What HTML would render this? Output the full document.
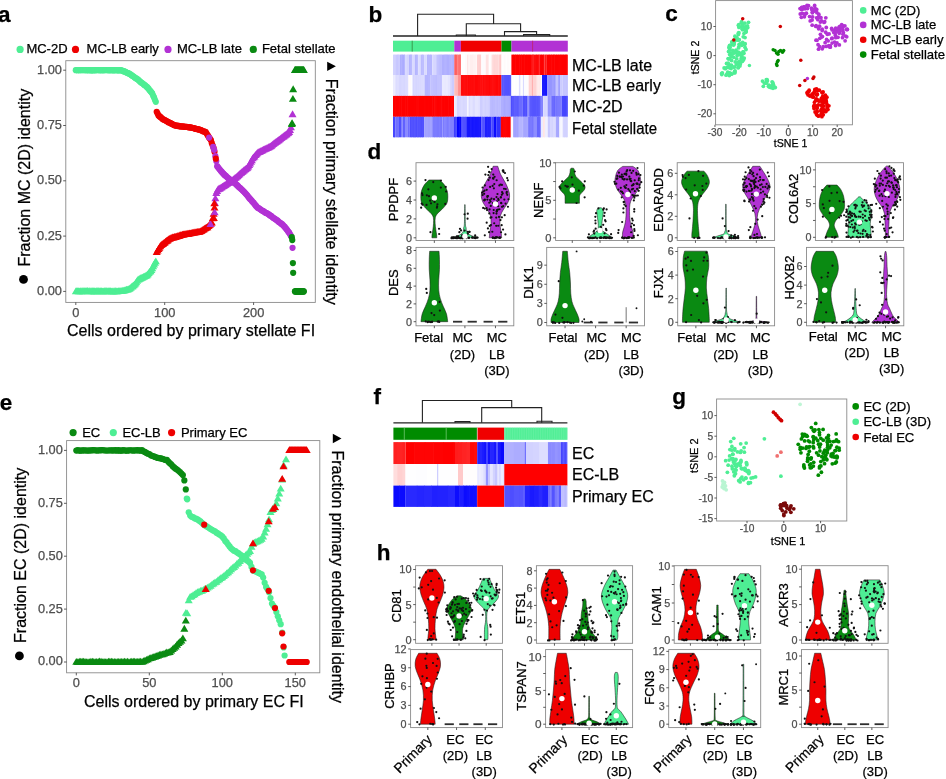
<!DOCTYPE html>
<html><head><meta charset="utf-8"><style>
html,body{margin:0;padding:0;background:#fff;width:946px;height:779px;overflow:hidden}
svg{display:block;will-change:transform}
text{font-family:"Liberation Sans", sans-serif;stroke:currentColor;stroke-width:0.25px;paint-order:stroke}
</style></head><body>
<svg width="946" height="779" viewBox="0 0 946 779">
<rect x="0" y="0" width="946" height="779" fill="#fff"/>
<text x="-2.1" y="21.6" font-size="22.5" text-anchor="start" fill="#000" color="#000" font-weight="bold">a</text>
<text x="368.6" y="21.7" font-size="22.5" text-anchor="start" fill="#000" color="#000" font-weight="bold">b</text>
<text x="665.2" y="20.7" font-size="22.5" text-anchor="start" fill="#000" color="#000" font-weight="bold">c</text>
<text x="367.6" y="158.8" font-size="22.5" text-anchor="start" fill="#000" color="#000" font-weight="bold">d</text>
<text x="-0.3" y="409.6" font-size="22.5" text-anchor="start" fill="#000" color="#000" font-weight="bold">e</text>
<text x="373.6" y="403.6" font-size="22.5" text-anchor="start" fill="#000" color="#000" font-weight="bold">f</text>
<text x="672.2" y="404.2" font-size="22.5" text-anchor="start" fill="#000" color="#000" font-weight="bold">g</text>
<text x="376.8" y="559.6" font-size="22.5" text-anchor="start" fill="#000" color="#000" font-weight="bold">h</text>
<circle cx="20.1" cy="49.4" r="3.6" fill="#4EEE94"/>
<text x="26.4" y="53" font-size="13" text-anchor="start" fill="#000" color="#000">MC-2D</text>
<circle cx="75.5" cy="49.4" r="3.6" fill="#EE0000"/>
<text x="86.6" y="53" font-size="13" text-anchor="start" fill="#000" color="#000">MC-LB early</text>
<circle cx="168" cy="49.4" r="3.6" fill="#B232D4"/>
<text x="176.9" y="53" font-size="13" text-anchor="start" fill="#000" color="#000">MC-LB late</text>
<circle cx="253.3" cy="49.4" r="3.6" fill="#0A8A12"/>
<text x="261.9" y="53" font-size="13" text-anchor="start" fill="#000" color="#000">Fetal stellate</text>
<path d="M75.8 287.48L71.8 294.28L79.8 294.28Z" fill="#4EEE94"/>
<path d="M76.69 287.26L72.69 294.06L80.69 294.06Z" fill="#4EEE94"/>
<path d="M77.58 287.3L73.58 294.1L81.58 294.1Z" fill="#4EEE94"/>
<path d="M78.47 287.35L74.47 294.15L82.47 294.15Z" fill="#4EEE94"/>
<path d="M79.36 287.48L75.36 294.28L83.36 294.28Z" fill="#4EEE94"/>
<path d="M80.25 287.29L76.25 294.09L84.25 294.09Z" fill="#4EEE94"/>
<path d="M81.13 287.49L77.13 294.29L85.13 294.29Z" fill="#4EEE94"/>
<path d="M82.02 287.32L78.02 294.12L86.02 294.12Z" fill="#4EEE94"/>
<path d="M82.91 287.33L78.91 294.13L86.91 294.13Z" fill="#4EEE94"/>
<path d="M83.8 287.33L79.8 294.13L87.8 294.13Z" fill="#4EEE94"/>
<path d="M84.69 287.13L80.69 293.93L88.69 293.93Z" fill="#4EEE94"/>
<path d="M85.58 287.3L81.58 294.1L89.58 294.1Z" fill="#4EEE94"/>
<path d="M86.47 287.19L82.47 293.99L90.47 293.99Z" fill="#4EEE94"/>
<path d="M87.36 287.12L83.36 293.92L91.36 293.92Z" fill="#4EEE94"/>
<path d="M88.25 287.44L84.25 294.24L92.25 294.24Z" fill="#4EEE94"/>
<path d="M89.13 287.19L85.13 293.99L93.13 293.99Z" fill="#4EEE94"/>
<path d="M90.02 287.31L86.02 294.11L94.02 294.11Z" fill="#4EEE94"/>
<path d="M90.91 287.41L86.91 294.21L94.91 294.21Z" fill="#4EEE94"/>
<path d="M91.8 287.34L87.8 294.14L95.8 294.14Z" fill="#4EEE94"/>
<path d="M92.69 287.25L88.69 294.05L96.69 294.05Z" fill="#4EEE94"/>
<path d="M93.58 287.33L89.58 294.13L97.58 294.13Z" fill="#4EEE94"/>
<path d="M94.47 287.34L90.47 294.14L98.47 294.14Z" fill="#4EEE94"/>
<path d="M95.36 287.43L91.36 294.23L99.36 294.23Z" fill="#4EEE94"/>
<path d="M96.25 287.16L92.25 293.96L100.25 293.96Z" fill="#4EEE94"/>
<path d="M97.14 287.34L93.14 294.14L101.14 294.14Z" fill="#4EEE94"/>
<path d="M98.03 287.22L94.03 294.02L102.03 294.02Z" fill="#4EEE94"/>
<path d="M98.91 287.23L94.91 294.03L102.91 294.03Z" fill="#4EEE94"/>
<path d="M99.8 287.43L95.8 294.23L103.8 294.23Z" fill="#4EEE94"/>
<path d="M100.69 287.32L96.69 294.12L104.69 294.12Z" fill="#4EEE94"/>
<path d="M101.58 287.34L97.58 294.14L105.58 294.14Z" fill="#4EEE94"/>
<path d="M102.47 287.42L98.47 294.22L106.47 294.22Z" fill="#4EEE94"/>
<path d="M103.36 287.48L99.36 294.28L107.36 294.28Z" fill="#4EEE94"/>
<path d="M104.25 287.3L100.25 294.1L108.25 294.1Z" fill="#4EEE94"/>
<path d="M105.14 287.37L101.14 294.17L109.14 294.17Z" fill="#4EEE94"/>
<path d="M106.03 287.32L102.03 294.12L110.03 294.12Z" fill="#4EEE94"/>
<path d="M106.91 287.32L102.91 294.12L110.91 294.12Z" fill="#4EEE94"/>
<path d="M107.8 287.4L103.8 294.2L111.8 294.2Z" fill="#4EEE94"/>
<path d="M108.69 287.3L104.69 294.1L112.69 294.1Z" fill="#4EEE94"/>
<path d="M109.58 287.33L105.58 294.13L113.58 294.13Z" fill="#4EEE94"/>
<path d="M110.47 287.31L106.47 294.11L114.47 294.11Z" fill="#4EEE94"/>
<path d="M111.36 287.5L107.36 294.3L115.36 294.3Z" fill="#4EEE94"/>
<path d="M112.25 287.4L108.25 294.2L116.25 294.2Z" fill="#4EEE94"/>
<path d="M113.14 287.47L109.14 294.27L117.14 294.27Z" fill="#4EEE94"/>
<path d="M114.03 287.5L110.03 294.3L118.03 294.3Z" fill="#4EEE94"/>
<path d="M114.92 287.22L110.92 294.02L118.92 294.02Z" fill="#4EEE94"/>
<path d="M115.81 287.34L111.81 294.14L119.81 294.14Z" fill="#4EEE94"/>
<path d="M116.69 287.5L112.69 294.3L120.69 294.3Z" fill="#4EEE94"/>
<path d="M117.58 287.46L113.58 294.26L121.58 294.26Z" fill="#4EEE94"/>
<path d="M118.47 287.17L114.47 293.97L122.47 293.97Z" fill="#4EEE94"/>
<path d="M119.36 287.17L115.36 293.97L123.36 293.97Z" fill="#4EEE94"/>
<path d="M120.25 287.3L116.25 294.1L124.25 294.1Z" fill="#4EEE94"/>
<path d="M121.14 287.15L117.14 293.95L125.14 293.95Z" fill="#4EEE94"/>
<path d="M122.03 286.97L118.03 293.77L126.03 293.77Z" fill="#4EEE94"/>
<path d="M122.92 286.66L118.92 293.46L126.92 293.46Z" fill="#4EEE94"/>
<path d="M123.81 286.65L119.81 293.45L127.81 293.45Z" fill="#4EEE94"/>
<path d="M124.69 286.45L120.69 293.25L128.69 293.25Z" fill="#4EEE94"/>
<path d="M125.58 286.25L121.58 293.05L129.58 293.05Z" fill="#4EEE94"/>
<path d="M126.47 285.71L122.47 292.51L130.47 292.51Z" fill="#4EEE94"/>
<path d="M127.36 285.69L123.36 292.49L131.36 292.49Z" fill="#4EEE94"/>
<path d="M128.25 285.42L124.25 292.22L132.25 292.22Z" fill="#4EEE94"/>
<path d="M129.14 284.97L125.14 291.77L133.14 291.77Z" fill="#4EEE94"/>
<path d="M130.03 284.52L126.03 291.32L134.03 291.32Z" fill="#4EEE94"/>
<path d="M130.92 283.82L126.92 290.62L134.92 290.62Z" fill="#4EEE94"/>
<path d="M131.81 282.78L127.81 289.58L135.81 289.58Z" fill="#4EEE94"/>
<path d="M132.7 282.34L128.7 289.14L136.7 289.14Z" fill="#4EEE94"/>
<path d="M133.59 281.38L129.59 288.18L137.59 288.18Z" fill="#4EEE94"/>
<path d="M134.47 280.68L130.47 287.48L138.47 287.48Z" fill="#4EEE94"/>
<path d="M135.36 279.66L131.36 286.46L139.36 286.46Z" fill="#4EEE94"/>
<path d="M136.25 278.38L132.25 285.18L140.25 285.18Z" fill="#4EEE94"/>
<path d="M137.14 276.9L133.14 283.7L141.14 283.7Z" fill="#4EEE94"/>
<path d="M138.03 275.79L134.03 282.59L142.03 282.59Z" fill="#4EEE94"/>
<path d="M138.92 275.38L134.92 282.18L142.92 282.18Z" fill="#4EEE94"/>
<path d="M139.81 274.87L135.81 281.67L143.81 281.67Z" fill="#4EEE94"/>
<path d="M140.7 274.37L136.7 281.17L144.7 281.17Z" fill="#4EEE94"/>
<path d="M141.59 273.98L137.59 280.78L145.59 280.78Z" fill="#4EEE94"/>
<path d="M142.47 273.69L138.47 280.49L146.47 280.49Z" fill="#4EEE94"/>
<path d="M143.36 272.97L139.36 279.77L147.36 279.77Z" fill="#4EEE94"/>
<path d="M144.25 272.74L140.25 279.54L148.25 279.54Z" fill="#4EEE94"/>
<path d="M145.14 272.25L141.14 279.05L149.14 279.05Z" fill="#4EEE94"/>
<path d="M146.03 271.64L142.03 278.44L150.03 278.44Z" fill="#4EEE94"/>
<path d="M146.92 271.33L142.92 278.13L150.92 278.13Z" fill="#4EEE94"/>
<path d="M147.81 270.38L143.81 277.18L151.81 277.18Z" fill="#4EEE94"/>
<path d="M148.7 269.27L144.7 276.07L152.7 276.07Z" fill="#4EEE94"/>
<path d="M149.59 268.03L145.59 274.83L153.59 274.83Z" fill="#4EEE94"/>
<path d="M150.48 267.34L146.48 274.14L154.48 274.14Z" fill="#4EEE94"/>
<path d="M151.37 266.2L147.37 273L155.37 273Z" fill="#4EEE94"/>
<path d="M152.25 264.53L148.25 271.33L156.25 271.33Z" fill="#4EEE94"/>
<path d="M153.14 262.44L149.14 269.24L157.14 269.24Z" fill="#4EEE94"/>
<path d="M154.03 260.76L150.03 267.56L158.03 267.56Z" fill="#4EEE94"/>
<path d="M154.92 258.92L150.92 265.72L158.92 265.72Z" fill="#4EEE94"/>
<path d="M155.81 257.48L151.81 264.28L159.81 264.28Z" fill="#4EEE94"/>
<path d="M156.7 248.28L152.7 255.08L160.7 255.08Z" fill="#EE0000"/>
<path d="M157.59 246.68L153.59 253.48L161.59 253.48Z" fill="#EE0000"/>
<path d="M158.48 245.26L154.48 252.06L162.48 252.06Z" fill="#EE0000"/>
<path d="M159.37 243.92L155.37 250.72L163.37 250.72Z" fill="#EE0000"/>
<path d="M160.25 242.34L156.25 249.14L164.25 249.14Z" fill="#EE0000"/>
<path d="M161.14 241.18L157.14 247.98L165.14 247.98Z" fill="#EE0000"/>
<path d="M162.03 240.45L158.03 247.25L166.03 247.25Z" fill="#EE0000"/>
<path d="M162.92 240.08L158.92 246.88L166.92 246.88Z" fill="#EE0000"/>
<path d="M163.81 239.26L159.81 246.06L167.81 246.06Z" fill="#EE0000"/>
<path d="M164.7 238.63L160.7 245.43L168.7 245.43Z" fill="#EE0000"/>
<path d="M165.59 237.7L161.59 244.5L169.59 244.5Z" fill="#EE0000"/>
<path d="M166.48 237.01L162.48 243.81L170.48 243.81Z" fill="#EE0000"/>
<path d="M167.37 236.58L163.37 243.38L171.37 243.38Z" fill="#EE0000"/>
<path d="M168.26 235.79L164.26 242.59L172.26 242.59Z" fill="#EE0000"/>
<path d="M169.14 234.96L165.14 241.76L173.14 241.76Z" fill="#EE0000"/>
<path d="M170.03 234.63L166.03 241.43L174.03 241.43Z" fill="#EE0000"/>
<path d="M170.92 234.25L166.92 241.05L174.92 241.05Z" fill="#EE0000"/>
<path d="M171.81 234.07L167.81 240.87L175.81 240.87Z" fill="#EE0000"/>
<path d="M172.7 233.53L168.7 240.33L176.7 240.33Z" fill="#EE0000"/>
<path d="M173.59 233.58L169.59 240.38L177.59 240.38Z" fill="#EE0000"/>
<path d="M174.48 233.02L170.48 239.82L178.48 239.82Z" fill="#EE0000"/>
<path d="M175.37 233.08L171.37 239.88L179.37 239.88Z" fill="#EE0000"/>
<path d="M176.26 232.67L172.26 239.47L180.26 239.47Z" fill="#EE0000"/>
<path d="M177.15 232.37L173.15 239.17L181.15 239.17Z" fill="#EE0000"/>
<path d="M178.03 232.2L174.03 239L182.03 239Z" fill="#EE0000"/>
<path d="M178.92 232.1L174.92 238.9L182.92 238.9Z" fill="#EE0000"/>
<path d="M179.81 231.58L175.81 238.38L183.81 238.38Z" fill="#EE0000"/>
<path d="M180.7 231.27L176.7 238.07L184.7 238.07Z" fill="#EE0000"/>
<path d="M181.59 231.18L177.59 237.98L185.59 237.98Z" fill="#EE0000"/>
<path d="M182.48 230.81L178.48 237.61L186.48 237.61Z" fill="#EE0000"/>
<path d="M183.37 230.59L179.37 237.39L187.37 237.39Z" fill="#EE0000"/>
<path d="M184.26 230.45L180.26 237.25L188.26 237.25Z" fill="#EE0000"/>
<path d="M185.15 230.24L181.15 237.04L189.15 237.04Z" fill="#EE0000"/>
<path d="M186.04 230.13L182.04 236.93L190.04 236.93Z" fill="#EE0000"/>
<path d="M186.93 230.01L182.93 236.81L190.93 236.81Z" fill="#EE0000"/>
<path d="M187.81 229.84L183.81 236.64L191.81 236.64Z" fill="#EE0000"/>
<path d="M188.7 229.86L184.7 236.66L192.7 236.66Z" fill="#EE0000"/>
<path d="M189.59 229.5L185.59 236.3L193.59 236.3Z" fill="#EE0000"/>
<path d="M190.48 229.42L186.48 236.22L194.48 236.22Z" fill="#EE0000"/>
<path d="M191.37 229.13L187.37 235.93L195.37 235.93Z" fill="#EE0000"/>
<path d="M192.26 229.03L188.26 235.83L196.26 235.83Z" fill="#EE0000"/>
<path d="M193.15 228.73L189.15 235.53L197.15 235.53Z" fill="#EE0000"/>
<path d="M194.04 228.66L190.04 235.46L198.04 235.46Z" fill="#EE0000"/>
<path d="M194.93 228.4L190.93 235.2L198.93 235.2Z" fill="#EE0000"/>
<path d="M195.81 228.52L191.81 235.32L199.81 235.32Z" fill="#EE0000"/>
<path d="M196.7 228.28L192.7 235.08L200.7 235.08Z" fill="#EE0000"/>
<path d="M197.59 227.97L193.59 234.77L201.59 234.77Z" fill="#EE0000"/>
<path d="M198.48 227.92L194.48 234.72L202.48 234.72Z" fill="#EE0000"/>
<path d="M199.37 227.94L195.37 234.74L203.37 234.74Z" fill="#EE0000"/>
<path d="M200.26 227.44L196.26 234.24L204.26 234.24Z" fill="#EE0000"/>
<path d="M201.15 227.17L197.15 233.97L205.15 233.97Z" fill="#EE0000"/>
<path d="M202.04 226.46L198.04 233.26L206.04 233.26Z" fill="#EE0000"/>
<path d="M202.93 225.94L198.93 232.74L206.93 232.74Z" fill="#EE0000"/>
<path d="M203.82 225.52L199.82 232.32L207.82 232.32Z" fill="#EE0000"/>
<path d="M204.7 224.79L200.7 231.59L208.7 231.59Z" fill="#EE0000"/>
<path d="M205.59 224.28L201.59 231.08L209.59 231.08Z" fill="#EE0000"/>
<path d="M206.48 223.8L202.48 230.6L210.48 230.6Z" fill="#EE0000"/>
<path d="M207.37 223.36L203.37 230.16L211.37 230.16Z" fill="#EE0000"/>
<path d="M208.26 222.22L204.26 229.02L212.26 229.02Z" fill="#EE0000"/>
<path d="M209.15 221.54L205.15 228.34L213.15 228.34Z" fill="#EE0000"/>
<path d="M210.04 220.6L206.04 227.4L214.04 227.4Z" fill="#EE0000"/>
<path d="M210.93 219.69L206.93 226.49L214.93 226.49Z" fill="#EE0000"/>
<path d="M211.82 218.71L207.82 225.51L215.82 225.51Z" fill="#EE0000"/>
<path d="M212.71 214.43L208.71 221.23L216.71 221.23Z" fill="#EE0000"/>
<path d="M213.6 210.06L209.6 216.86L217.6 216.86Z" fill="#EE0000"/>
<path d="M214.48 203.81L210.48 210.61L218.48 210.61Z" fill="#EE0000"/>
<path d="M215.37 194.48L211.37 201.28L219.37 201.28Z" fill="#B232D4"/>
<path d="M216.26 189.2L212.26 196L220.26 196Z" fill="#B232D4"/>
<path d="M217.15 187.24L213.15 194.04L221.15 194.04Z" fill="#B232D4"/>
<path d="M218.04 185.43L214.04 192.23L222.04 192.23Z" fill="#B232D4"/>
<path d="M218.93 184.85L214.93 191.65L222.93 191.65Z" fill="#B232D4"/>
<path d="M219.82 184.6L215.82 191.4L223.82 191.4Z" fill="#B232D4"/>
<path d="M220.71 184.06L216.71 190.86L224.71 190.86Z" fill="#B232D4"/>
<path d="M221.6 183.42L217.6 190.22L225.6 190.22Z" fill="#B232D4"/>
<path d="M222.49 182.72L218.49 189.52L226.49 189.52Z" fill="#B232D4"/>
<path d="M223.37 182.15L219.37 188.95L227.37 188.95Z" fill="#B232D4"/>
<path d="M224.26 181.61L220.26 188.41L228.26 188.41Z" fill="#B232D4"/>
<path d="M225.15 181.13L221.15 187.93L229.15 187.93Z" fill="#B232D4"/>
<path d="M226.04 180.4L222.04 187.2L230.04 187.2Z" fill="#B232D4"/>
<path d="M226.93 179.92L222.93 186.72L230.93 186.72Z" fill="#B232D4"/>
<path d="M227.82 179.24L223.82 186.04L231.82 186.04Z" fill="#B232D4"/>
<path d="M228.71 178.92L224.71 185.72L232.71 185.72Z" fill="#B232D4"/>
<path d="M229.6 178.32L225.6 185.12L233.6 185.12Z" fill="#B232D4"/>
<path d="M230.49 177.54L226.49 184.34L234.49 184.34Z" fill="#B232D4"/>
<path d="M231.38 176.82L227.38 183.62L235.38 183.62Z" fill="#B232D4"/>
<path d="M232.26 176.5L228.26 183.3L236.26 183.3Z" fill="#B232D4"/>
<path d="M233.15 175.64L229.15 182.44L237.15 182.44Z" fill="#B232D4"/>
<path d="M234.04 175.05L230.04 181.85L238.04 181.85Z" fill="#B232D4"/>
<path d="M234.93 174.31L230.93 181.11L238.93 181.11Z" fill="#B232D4"/>
<path d="M235.82 173.67L231.82 180.47L239.82 180.47Z" fill="#B232D4"/>
<path d="M236.71 172.92L232.71 179.72L240.71 179.72Z" fill="#B232D4"/>
<path d="M237.6 172.14L233.6 178.94L241.6 178.94Z" fill="#B232D4"/>
<path d="M238.49 171.23L234.49 178.03L242.49 178.03Z" fill="#B232D4"/>
<path d="M239.38 170.56L235.38 177.36L243.38 177.36Z" fill="#B232D4"/>
<path d="M240.26 169.57L236.26 176.37L244.26 176.37Z" fill="#B232D4"/>
<path d="M241.15 168.88L237.15 175.68L245.15 175.68Z" fill="#B232D4"/>
<path d="M242.04 168.09L238.04 174.89L246.04 174.89Z" fill="#B232D4"/>
<path d="M242.93 167.48L238.93 174.28L246.93 174.28Z" fill="#B232D4"/>
<path d="M243.82 166.61L239.82 173.41L247.82 173.41Z" fill="#B232D4"/>
<path d="M244.71 165.88L240.71 172.68L248.71 172.68Z" fill="#B232D4"/>
<path d="M245.6 165.26L241.6 172.06L249.6 172.06Z" fill="#B232D4"/>
<path d="M246.49 164.51L242.49 171.31L250.49 171.31Z" fill="#B232D4"/>
<path d="M247.38 163.92L243.38 170.72L251.38 170.72Z" fill="#B232D4"/>
<path d="M248.27 162.8L244.27 169.6L252.27 169.6Z" fill="#B232D4"/>
<path d="M249.15 161.25L245.15 168.05L253.15 168.05Z" fill="#B232D4"/>
<path d="M250.04 159.58L246.04 166.38L254.04 166.38Z" fill="#B232D4"/>
<path d="M250.93 157.96L246.93 164.76L254.93 164.76Z" fill="#B232D4"/>
<path d="M251.82 156.39L247.82 163.19L255.82 163.19Z" fill="#B232D4"/>
<path d="M252.71 154.56L248.71 161.36L256.71 161.36Z" fill="#B232D4"/>
<path d="M253.6 153.47L249.6 160.27L257.6 160.27Z" fill="#B232D4"/>
<path d="M254.49 152.66L250.49 159.46L258.49 159.46Z" fill="#B232D4"/>
<path d="M255.38 151.26L251.38 158.06L259.38 158.06Z" fill="#B232D4"/>
<path d="M256.27 150.43L252.27 157.23L260.27 157.23Z" fill="#B232D4"/>
<path d="M257.16 149.33L253.16 156.13L261.16 156.13Z" fill="#B232D4"/>
<path d="M258.05 148.4L254.05 155.2L262.05 155.2Z" fill="#B232D4"/>
<path d="M258.93 148.28L254.93 155.08L262.93 155.08Z" fill="#B232D4"/>
<path d="M259.82 147.86L255.82 154.66L263.82 154.66Z" fill="#B232D4"/>
<path d="M260.71 147.32L256.71 154.12L264.71 154.12Z" fill="#B232D4"/>
<path d="M261.6 146.92L257.6 153.72L265.6 153.72Z" fill="#B232D4"/>
<path d="M262.49 146.51L258.49 153.31L266.49 153.31Z" fill="#B232D4"/>
<path d="M263.38 145.8L259.38 152.6L267.38 152.6Z" fill="#B232D4"/>
<path d="M264.27 145.52L260.27 152.32L268.27 152.32Z" fill="#B232D4"/>
<path d="M265.16 145.07L261.16 151.87L269.16 151.87Z" fill="#B232D4"/>
<path d="M266.05 144.76L262.05 151.56L270.05 151.56Z" fill="#B232D4"/>
<path d="M266.94 144.31L262.94 151.11L270.94 151.11Z" fill="#B232D4"/>
<path d="M267.82 143.88L263.82 150.68L271.82 150.68Z" fill="#B232D4"/>
<path d="M268.71 143.35L264.71 150.15L272.71 150.15Z" fill="#B232D4"/>
<path d="M269.6 143.03L265.6 149.83L273.6 149.83Z" fill="#B232D4"/>
<path d="M270.49 142.51L266.49 149.31L274.49 149.31Z" fill="#B232D4"/>
<path d="M271.38 141.83L267.38 148.63L275.38 148.63Z" fill="#B232D4"/>
<path d="M272.27 140.97L268.27 147.77L276.27 147.77Z" fill="#B232D4"/>
<path d="M273.16 140.21L269.16 147.01L277.16 147.01Z" fill="#B232D4"/>
<path d="M274.05 139.57L270.05 146.37L278.05 146.37Z" fill="#B232D4"/>
<path d="M274.94 138.98L270.94 145.78L278.94 145.78Z" fill="#B232D4"/>
<path d="M275.82 138.2L271.82 145L279.82 145Z" fill="#B232D4"/>
<path d="M276.71 137.81L272.71 144.61L280.71 144.61Z" fill="#B232D4"/>
<path d="M277.6 137.02L273.6 143.82L281.6 143.82Z" fill="#B232D4"/>
<path d="M278.49 136.37L274.49 143.17L282.49 143.17Z" fill="#B232D4"/>
<path d="M279.38 135.69L275.38 142.49L283.38 142.49Z" fill="#B232D4"/>
<path d="M280.27 135.03L276.27 141.83L284.27 141.83Z" fill="#B232D4"/>
<path d="M281.16 134.28L277.16 141.08L285.16 141.08Z" fill="#B232D4"/>
<path d="M282.05 133.4L278.05 140.2L286.05 140.2Z" fill="#B232D4"/>
<path d="M282.94 133.04L278.94 139.84L286.94 139.84Z" fill="#B232D4"/>
<path d="M283.83 132.36L279.83 139.16L287.83 139.16Z" fill="#B232D4"/>
<path d="M284.71 131.61L280.71 138.41L288.71 138.41Z" fill="#B232D4"/>
<path d="M285.6 130.96L281.6 137.76L289.6 137.76Z" fill="#B232D4"/>
<path d="M286.49 130.36L282.49 137.16L290.49 137.16Z" fill="#B232D4"/>
<path d="M287.38 129.46L283.38 136.26L291.38 136.26Z" fill="#B232D4"/>
<path d="M288.27 129.07L284.27 135.87L292.27 135.87Z" fill="#B232D4"/>
<path d="M289.16 128.22L285.16 135.02L293.16 135.02Z" fill="#B232D4"/>
<path d="M290.05 126.23L286.05 133.03L294.05 133.03Z" fill="#B232D4"/>
<path d="M290.94 123.54L286.94 130.34L294.94 130.34Z" fill="#B232D4"/>
<circle cx="75.8" cy="70.13" r="3.1" fill="#4EEE94"/>
<circle cx="76.69" cy="70.06" r="3.1" fill="#4EEE94"/>
<circle cx="77.58" cy="70.26" r="3.1" fill="#4EEE94"/>
<circle cx="78.47" cy="70.03" r="3.1" fill="#4EEE94"/>
<circle cx="79.36" cy="70.21" r="3.1" fill="#4EEE94"/>
<circle cx="80.25" cy="70.15" r="3.1" fill="#4EEE94"/>
<circle cx="81.13" cy="70.02" r="3.1" fill="#4EEE94"/>
<circle cx="82.02" cy="70.2" r="3.1" fill="#4EEE94"/>
<circle cx="82.91" cy="70.01" r="3.1" fill="#4EEE94"/>
<circle cx="83.8" cy="70.17" r="3.1" fill="#4EEE94"/>
<circle cx="84.69" cy="70.03" r="3.1" fill="#4EEE94"/>
<circle cx="85.58" cy="70.04" r="3.1" fill="#4EEE94"/>
<circle cx="86.47" cy="70.17" r="3.1" fill="#4EEE94"/>
<circle cx="87.36" cy="70.33" r="3.1" fill="#4EEE94"/>
<circle cx="88.25" cy="70.05" r="3.1" fill="#4EEE94"/>
<circle cx="89.13" cy="70.09" r="3.1" fill="#4EEE94"/>
<circle cx="90.02" cy="70.25" r="3.1" fill="#4EEE94"/>
<circle cx="90.91" cy="70.38" r="3.1" fill="#4EEE94"/>
<circle cx="91.8" cy="70.23" r="3.1" fill="#4EEE94"/>
<circle cx="92.69" cy="70.16" r="3.1" fill="#4EEE94"/>
<circle cx="93.58" cy="70.39" r="3.1" fill="#4EEE94"/>
<circle cx="94.47" cy="70.02" r="3.1" fill="#4EEE94"/>
<circle cx="95.36" cy="70.34" r="3.1" fill="#4EEE94"/>
<circle cx="96.25" cy="70.12" r="3.1" fill="#4EEE94"/>
<circle cx="97.14" cy="70.06" r="3.1" fill="#4EEE94"/>
<circle cx="98.03" cy="70.05" r="3.1" fill="#4EEE94"/>
<circle cx="98.91" cy="70.12" r="3.1" fill="#4EEE94"/>
<circle cx="99.8" cy="70.33" r="3.1" fill="#4EEE94"/>
<circle cx="100.69" cy="70.07" r="3.1" fill="#4EEE94"/>
<circle cx="101.58" cy="70.23" r="3.1" fill="#4EEE94"/>
<circle cx="102.47" cy="70.26" r="3.1" fill="#4EEE94"/>
<circle cx="103.36" cy="70.15" r="3.1" fill="#4EEE94"/>
<circle cx="104.25" cy="70.22" r="3.1" fill="#4EEE94"/>
<circle cx="105.14" cy="70.03" r="3.1" fill="#4EEE94"/>
<circle cx="106.03" cy="70.02" r="3.1" fill="#4EEE94"/>
<circle cx="106.91" cy="70.08" r="3.1" fill="#4EEE94"/>
<circle cx="107.8" cy="70.27" r="3.1" fill="#4EEE94"/>
<circle cx="108.69" cy="70.17" r="3.1" fill="#4EEE94"/>
<circle cx="109.58" cy="70.13" r="3.1" fill="#4EEE94"/>
<circle cx="110.47" cy="70.23" r="3.1" fill="#4EEE94"/>
<circle cx="111.36" cy="70.18" r="3.1" fill="#4EEE94"/>
<circle cx="112.25" cy="70.12" r="3.1" fill="#4EEE94"/>
<circle cx="113.14" cy="70.32" r="3.1" fill="#4EEE94"/>
<circle cx="114.03" cy="70.28" r="3.1" fill="#4EEE94"/>
<circle cx="114.92" cy="70.1" r="3.1" fill="#4EEE94"/>
<circle cx="115.81" cy="70.23" r="3.1" fill="#4EEE94"/>
<circle cx="116.69" cy="70.21" r="3.1" fill="#4EEE94"/>
<circle cx="117.58" cy="70.35" r="3.1" fill="#4EEE94"/>
<circle cx="118.47" cy="70.29" r="3.1" fill="#4EEE94"/>
<circle cx="119.36" cy="70.12" r="3.1" fill="#4EEE94"/>
<circle cx="120.25" cy="70.39" r="3.1" fill="#4EEE94"/>
<circle cx="121.14" cy="70.05" r="3.1" fill="#4EEE94"/>
<circle cx="122.03" cy="70.54" r="3.1" fill="#4EEE94"/>
<circle cx="122.92" cy="71.04" r="3.1" fill="#4EEE94"/>
<circle cx="123.81" cy="71.17" r="3.1" fill="#4EEE94"/>
<circle cx="124.69" cy="71.67" r="3.1" fill="#4EEE94"/>
<circle cx="125.58" cy="71.86" r="3.1" fill="#4EEE94"/>
<circle cx="126.47" cy="72.48" r="3.1" fill="#4EEE94"/>
<circle cx="127.36" cy="72.89" r="3.1" fill="#4EEE94"/>
<circle cx="128.25" cy="73.18" r="3.1" fill="#4EEE94"/>
<circle cx="129.14" cy="73.67" r="3.1" fill="#4EEE94"/>
<circle cx="130.03" cy="74.06" r="3.1" fill="#4EEE94"/>
<circle cx="130.92" cy="74.83" r="3.1" fill="#4EEE94"/>
<circle cx="131.81" cy="75.4" r="3.1" fill="#4EEE94"/>
<circle cx="132.7" cy="76.01" r="3.1" fill="#4EEE94"/>
<circle cx="133.59" cy="76.57" r="3.1" fill="#4EEE94"/>
<circle cx="134.47" cy="77.34" r="3.1" fill="#4EEE94"/>
<circle cx="135.36" cy="78" r="3.1" fill="#4EEE94"/>
<circle cx="136.25" cy="78.42" r="3.1" fill="#4EEE94"/>
<circle cx="137.14" cy="79.11" r="3.1" fill="#4EEE94"/>
<circle cx="138.03" cy="79.6" r="3.1" fill="#4EEE94"/>
<circle cx="138.92" cy="80.58" r="3.1" fill="#4EEE94"/>
<circle cx="139.81" cy="81.28" r="3.1" fill="#4EEE94"/>
<circle cx="140.7" cy="82.14" r="3.1" fill="#4EEE94"/>
<circle cx="141.59" cy="82.8" r="3.1" fill="#4EEE94"/>
<circle cx="142.47" cy="83.31" r="3.1" fill="#4EEE94"/>
<circle cx="143.36" cy="84.07" r="3.1" fill="#4EEE94"/>
<circle cx="144.25" cy="84.91" r="3.1" fill="#4EEE94"/>
<circle cx="145.14" cy="85.37" r="3.1" fill="#4EEE94"/>
<circle cx="146.03" cy="86.27" r="3.1" fill="#4EEE94"/>
<circle cx="146.92" cy="86.88" r="3.1" fill="#4EEE94"/>
<circle cx="147.81" cy="87.93" r="3.1" fill="#4EEE94"/>
<circle cx="148.7" cy="88.97" r="3.1" fill="#4EEE94"/>
<circle cx="149.59" cy="90.33" r="3.1" fill="#4EEE94"/>
<circle cx="150.48" cy="91.14" r="3.1" fill="#4EEE94"/>
<circle cx="151.37" cy="92.26" r="3.1" fill="#4EEE94"/>
<circle cx="152.25" cy="93.38" r="3.1" fill="#4EEE94"/>
<circle cx="153.14" cy="95.68" r="3.1" fill="#4EEE94"/>
<circle cx="154.03" cy="97.47" r="3.1" fill="#4EEE94"/>
<circle cx="154.92" cy="99.73" r="3.1" fill="#4EEE94"/>
<circle cx="155.81" cy="101.87" r="3.1" fill="#4EEE94"/>
<circle cx="156.7" cy="111.81" r="3.1" fill="#EE0000"/>
<circle cx="157.59" cy="113.57" r="3.1" fill="#EE0000"/>
<circle cx="158.48" cy="115.38" r="3.1" fill="#EE0000"/>
<circle cx="159.37" cy="116.17" r="3.1" fill="#EE0000"/>
<circle cx="160.25" cy="116.94" r="3.1" fill="#EE0000"/>
<circle cx="161.14" cy="117.62" r="3.1" fill="#EE0000"/>
<circle cx="162.03" cy="118.54" r="3.1" fill="#EE0000"/>
<circle cx="162.92" cy="119.28" r="3.1" fill="#EE0000"/>
<circle cx="163.81" cy="119.51" r="3.1" fill="#EE0000"/>
<circle cx="164.7" cy="120.01" r="3.1" fill="#EE0000"/>
<circle cx="165.59" cy="120.52" r="3.1" fill="#EE0000"/>
<circle cx="166.48" cy="121.01" r="3.1" fill="#EE0000"/>
<circle cx="167.37" cy="121.6" r="3.1" fill="#EE0000"/>
<circle cx="168.26" cy="122.13" r="3.1" fill="#EE0000"/>
<circle cx="169.14" cy="122.48" r="3.1" fill="#EE0000"/>
<circle cx="170.03" cy="122.87" r="3.1" fill="#EE0000"/>
<circle cx="170.92" cy="123.44" r="3.1" fill="#EE0000"/>
<circle cx="171.81" cy="123.83" r="3.1" fill="#EE0000"/>
<circle cx="172.7" cy="124.31" r="3.1" fill="#EE0000"/>
<circle cx="173.59" cy="124.87" r="3.1" fill="#EE0000"/>
<circle cx="174.48" cy="125.17" r="3.1" fill="#EE0000"/>
<circle cx="175.37" cy="125.51" r="3.1" fill="#EE0000"/>
<circle cx="176.26" cy="125.67" r="3.1" fill="#EE0000"/>
<circle cx="177.15" cy="125.82" r="3.1" fill="#EE0000"/>
<circle cx="178.03" cy="125.69" r="3.1" fill="#EE0000"/>
<circle cx="178.92" cy="126.15" r="3.1" fill="#EE0000"/>
<circle cx="179.81" cy="126.23" r="3.1" fill="#EE0000"/>
<circle cx="180.7" cy="126.39" r="3.1" fill="#EE0000"/>
<circle cx="181.59" cy="126.48" r="3.1" fill="#EE0000"/>
<circle cx="182.48" cy="126.44" r="3.1" fill="#EE0000"/>
<circle cx="183.37" cy="126.57" r="3.1" fill="#EE0000"/>
<circle cx="184.26" cy="126.57" r="3.1" fill="#EE0000"/>
<circle cx="185.15" cy="126.91" r="3.1" fill="#EE0000"/>
<circle cx="186.04" cy="126.8" r="3.1" fill="#EE0000"/>
<circle cx="186.93" cy="126.92" r="3.1" fill="#EE0000"/>
<circle cx="187.81" cy="127.1" r="3.1" fill="#EE0000"/>
<circle cx="188.7" cy="127.21" r="3.1" fill="#EE0000"/>
<circle cx="189.59" cy="127.4" r="3.1" fill="#EE0000"/>
<circle cx="190.48" cy="127.41" r="3.1" fill="#EE0000"/>
<circle cx="191.37" cy="127.51" r="3.1" fill="#EE0000"/>
<circle cx="192.26" cy="127.79" r="3.1" fill="#EE0000"/>
<circle cx="193.15" cy="127.99" r="3.1" fill="#EE0000"/>
<circle cx="194.04" cy="128.32" r="3.1" fill="#EE0000"/>
<circle cx="194.93" cy="128.41" r="3.1" fill="#EE0000"/>
<circle cx="195.81" cy="128.97" r="3.1" fill="#EE0000"/>
<circle cx="196.7" cy="129.08" r="3.1" fill="#EE0000"/>
<circle cx="197.59" cy="129.12" r="3.1" fill="#EE0000"/>
<circle cx="198.48" cy="129.38" r="3.1" fill="#EE0000"/>
<circle cx="199.37" cy="129.64" r="3.1" fill="#EE0000"/>
<circle cx="200.26" cy="129.87" r="3.1" fill="#EE0000"/>
<circle cx="201.15" cy="130.14" r="3.1" fill="#EE0000"/>
<circle cx="202.04" cy="130.8" r="3.1" fill="#EE0000"/>
<circle cx="202.93" cy="131.23" r="3.1" fill="#EE0000"/>
<circle cx="203.82" cy="131.39" r="3.1" fill="#EE0000"/>
<circle cx="204.7" cy="131.76" r="3.1" fill="#EE0000"/>
<circle cx="205.59" cy="131.97" r="3.1" fill="#EE0000"/>
<circle cx="206.48" cy="133.34" r="3.1" fill="#EE0000"/>
<circle cx="207.37" cy="134.8" r="3.1" fill="#EE0000"/>
<circle cx="208.26" cy="136.13" r="3.1" fill="#EE0000"/>
<circle cx="209.15" cy="137.72" r="3.1" fill="#EE0000"/>
<circle cx="210.04" cy="138.82" r="3.1" fill="#EE0000"/>
<circle cx="210.93" cy="140.13" r="3.1" fill="#EE0000"/>
<circle cx="211.82" cy="143.14" r="3.1" fill="#EE0000"/>
<circle cx="212.71" cy="145.62" r="3.1" fill="#EE0000"/>
<circle cx="213.6" cy="148.11" r="3.1" fill="#EE0000"/>
<circle cx="214.48" cy="151.71" r="3.1" fill="#EE0000"/>
<circle cx="215.37" cy="156.16" r="3.1" fill="#B232D4"/>
<circle cx="216.26" cy="161.12" r="3.1" fill="#B232D4"/>
<circle cx="217.15" cy="166.17" r="3.1" fill="#B232D4"/>
<circle cx="218.04" cy="167.34" r="3.1" fill="#B232D4"/>
<circle cx="218.93" cy="168.49" r="3.1" fill="#B232D4"/>
<circle cx="219.82" cy="169.53" r="3.1" fill="#B232D4"/>
<circle cx="220.71" cy="170.79" r="3.1" fill="#B232D4"/>
<circle cx="221.6" cy="171.64" r="3.1" fill="#B232D4"/>
<circle cx="222.49" cy="172.81" r="3.1" fill="#B232D4"/>
<circle cx="223.37" cy="173.65" r="3.1" fill="#B232D4"/>
<circle cx="224.26" cy="174.67" r="3.1" fill="#B232D4"/>
<circle cx="225.15" cy="175.42" r="3.1" fill="#B232D4"/>
<circle cx="226.04" cy="176.1" r="3.1" fill="#B232D4"/>
<circle cx="226.93" cy="177.06" r="3.1" fill="#B232D4"/>
<circle cx="227.82" cy="177.86" r="3.1" fill="#B232D4"/>
<circle cx="228.71" cy="178.53" r="3.1" fill="#B232D4"/>
<circle cx="229.6" cy="179.23" r="3.1" fill="#B232D4"/>
<circle cx="230.49" cy="179.96" r="3.1" fill="#B232D4"/>
<circle cx="231.38" cy="180.65" r="3.1" fill="#B232D4"/>
<circle cx="232.26" cy="181.17" r="3.1" fill="#B232D4"/>
<circle cx="233.15" cy="182.01" r="3.1" fill="#B232D4"/>
<circle cx="234.04" cy="182.67" r="3.1" fill="#B232D4"/>
<circle cx="234.93" cy="183.27" r="3.1" fill="#B232D4"/>
<circle cx="235.82" cy="184.04" r="3.1" fill="#B232D4"/>
<circle cx="236.71" cy="184.91" r="3.1" fill="#B232D4"/>
<circle cx="237.6" cy="185.68" r="3.1" fill="#B232D4"/>
<circle cx="238.49" cy="186.63" r="3.1" fill="#B232D4"/>
<circle cx="239.38" cy="187.51" r="3.1" fill="#B232D4"/>
<circle cx="240.26" cy="188.08" r="3.1" fill="#B232D4"/>
<circle cx="241.15" cy="189.05" r="3.1" fill="#B232D4"/>
<circle cx="242.04" cy="189.84" r="3.1" fill="#B232D4"/>
<circle cx="242.93" cy="190.84" r="3.1" fill="#B232D4"/>
<circle cx="243.82" cy="191.6" r="3.1" fill="#B232D4"/>
<circle cx="244.71" cy="192.55" r="3.1" fill="#B232D4"/>
<circle cx="245.6" cy="193.56" r="3.1" fill="#B232D4"/>
<circle cx="246.49" cy="194.55" r="3.1" fill="#B232D4"/>
<circle cx="247.38" cy="195.56" r="3.1" fill="#B232D4"/>
<circle cx="248.27" cy="196.75" r="3.1" fill="#B232D4"/>
<circle cx="249.15" cy="197.91" r="3.1" fill="#B232D4"/>
<circle cx="250.04" cy="198.93" r="3.1" fill="#B232D4"/>
<circle cx="250.93" cy="199.83" r="3.1" fill="#B232D4"/>
<circle cx="251.82" cy="200.94" r="3.1" fill="#B232D4"/>
<circle cx="252.71" cy="202.04" r="3.1" fill="#B232D4"/>
<circle cx="253.6" cy="202.8" r="3.1" fill="#B232D4"/>
<circle cx="254.49" cy="204.08" r="3.1" fill="#B232D4"/>
<circle cx="255.38" cy="205.22" r="3.1" fill="#B232D4"/>
<circle cx="256.27" cy="206.22" r="3.1" fill="#B232D4"/>
<circle cx="257.16" cy="207.25" r="3.1" fill="#B232D4"/>
<circle cx="258.05" cy="207.89" r="3.1" fill="#B232D4"/>
<circle cx="258.93" cy="208.32" r="3.1" fill="#B232D4"/>
<circle cx="259.82" cy="209.12" r="3.1" fill="#B232D4"/>
<circle cx="260.71" cy="209.49" r="3.1" fill="#B232D4"/>
<circle cx="261.6" cy="210.23" r="3.1" fill="#B232D4"/>
<circle cx="262.49" cy="210.85" r="3.1" fill="#B232D4"/>
<circle cx="263.38" cy="211.17" r="3.1" fill="#B232D4"/>
<circle cx="264.27" cy="211.73" r="3.1" fill="#B232D4"/>
<circle cx="265.16" cy="212.49" r="3.1" fill="#B232D4"/>
<circle cx="266.05" cy="212.95" r="3.1" fill="#B232D4"/>
<circle cx="266.94" cy="213.27" r="3.1" fill="#B232D4"/>
<circle cx="267.82" cy="213.8" r="3.1" fill="#B232D4"/>
<circle cx="268.71" cy="214.35" r="3.1" fill="#B232D4"/>
<circle cx="269.6" cy="215.2" r="3.1" fill="#B232D4"/>
<circle cx="270.49" cy="215.72" r="3.1" fill="#B232D4"/>
<circle cx="271.38" cy="216.11" r="3.1" fill="#B232D4"/>
<circle cx="272.27" cy="217.05" r="3.1" fill="#B232D4"/>
<circle cx="273.16" cy="217.77" r="3.1" fill="#B232D4"/>
<circle cx="274.05" cy="218.3" r="3.1" fill="#B232D4"/>
<circle cx="274.94" cy="218.84" r="3.1" fill="#B232D4"/>
<circle cx="275.82" cy="219.58" r="3.1" fill="#B232D4"/>
<circle cx="276.71" cy="220.07" r="3.1" fill="#B232D4"/>
<circle cx="277.6" cy="220.68" r="3.1" fill="#B232D4"/>
<circle cx="278.49" cy="221.73" r="3.1" fill="#B232D4"/>
<circle cx="279.38" cy="222.26" r="3.1" fill="#B232D4"/>
<circle cx="280.27" cy="222.87" r="3.1" fill="#B232D4"/>
<circle cx="281.16" cy="223.69" r="3.1" fill="#B232D4"/>
<circle cx="282.05" cy="224.15" r="3.1" fill="#B232D4"/>
<circle cx="282.94" cy="224.99" r="3.1" fill="#B232D4"/>
<circle cx="283.83" cy="225.98" r="3.1" fill="#B232D4"/>
<circle cx="284.71" cy="226.88" r="3.1" fill="#B232D4"/>
<circle cx="285.6" cy="228.05" r="3.1" fill="#B232D4"/>
<circle cx="286.49" cy="229.22" r="3.1" fill="#B232D4"/>
<circle cx="287.38" cy="230.35" r="3.1" fill="#B232D4"/>
<circle cx="288.27" cy="231.65" r="3.1" fill="#B232D4"/>
<circle cx="289.16" cy="232.67" r="3.1" fill="#B232D4"/>
<circle cx="290.05" cy="234.27" r="3.1" fill="#B232D4"/>
<circle cx="290.94" cy="235.95" r="3.1" fill="#B232D4"/>
<circle cx="209.15" cy="137.59" r="3.1" fill="#B232D4"/>
<circle cx="213.15" cy="146.93" r="3.1" fill="#B232D4"/>
<path d="M210.48 220.08L206.48 226.88L214.48 226.88Z" fill="#B232D4"/>
<path d="M214.93 199.31L210.93 206.11L218.93 206.11Z" fill="#B232D4"/>
<circle cx="215.82" cy="158.68" r="3.1" fill="#EE0000"/>
<circle cx="214.13" cy="149.83" r="3.1" fill="#B232D4"/>
<path d="M214.31 199.5L210.31 206.3L218.31 206.3Z" fill="#EE0000"/>
<path d="M214.66 208.57L210.66 215.37L218.66 215.37Z" fill="#B232D4"/>
<path d="M213.86 214.32L209.86 221.12L217.86 221.12Z" fill="#EE0000"/>
<circle cx="291.83" cy="237.21" r="3.1" fill="#0A8A12"/>
<circle cx="292.27" cy="240.08" r="3.1" fill="#0A8A12"/>
<circle cx="292.54" cy="247.82" r="3.1" fill="#B232D4"/>
<circle cx="292.89" cy="263.09" r="3.1" fill="#0A8A12"/>
<circle cx="293.16" cy="272.82" r="3.1" fill="#0A8A12"/>
<circle cx="294.94" cy="291.4" r="3.1" fill="#0A8A12"/>
<circle cx="295.38" cy="291.4" r="3.1" fill="#0A8A12"/>
<circle cx="295.83" cy="291.4" r="3.1" fill="#0A8A12"/>
<circle cx="296.27" cy="291.4" r="3.1" fill="#0A8A12"/>
<circle cx="296.72" cy="291.4" r="3.1" fill="#0A8A12"/>
<circle cx="297.16" cy="291.4" r="3.1" fill="#0A8A12"/>
<circle cx="297.61" cy="291.4" r="3.1" fill="#0A8A12"/>
<circle cx="298.05" cy="291.4" r="3.1" fill="#0A8A12"/>
<circle cx="298.49" cy="291.4" r="3.1" fill="#0A8A12"/>
<circle cx="298.94" cy="291.4" r="3.1" fill="#0A8A12"/>
<circle cx="299.38" cy="291.4" r="3.1" fill="#0A8A12"/>
<circle cx="299.83" cy="291.4" r="3.1" fill="#0A8A12"/>
<circle cx="300.27" cy="291.4" r="3.1" fill="#0A8A12"/>
<circle cx="300.72" cy="291.4" r="3.1" fill="#0A8A12"/>
<circle cx="301.16" cy="291.4" r="3.1" fill="#0A8A12"/>
<circle cx="301.61" cy="291.4" r="3.1" fill="#0A8A12"/>
<circle cx="302.05" cy="291.4" r="3.1" fill="#0A8A12"/>
<circle cx="302.5" cy="291.4" r="3.1" fill="#0A8A12"/>
<circle cx="302.94" cy="291.4" r="3.1" fill="#0A8A12"/>
<circle cx="303.38" cy="291.4" r="3.1" fill="#0A8A12"/>
<circle cx="303.83" cy="291.4" r="3.1" fill="#0A8A12"/>
<path d="M291.83 120.31L287.83 127.11L295.83 127.11Z" fill="#0A8A12"/>
<path d="M292.09 119.21L288.09 126.01L296.09 126.01Z" fill="#0A8A12"/>
<path d="M292.54 110.36L288.54 117.16L296.54 117.16Z" fill="#B232D4"/>
<path d="M292.89 94.88L288.89 101.68L296.89 101.68Z" fill="#0A8A12"/>
<path d="M293.16 85.36L289.16 92.16L297.16 92.16Z" fill="#0A8A12"/>
<path d="M294.94 66.12L290.94 72.92L298.94 72.92Z" fill="#0A8A12"/>
<path d="M295.38 66.12L291.38 72.92L299.38 72.92Z" fill="#0A8A12"/>
<path d="M295.83 66.12L291.83 72.92L299.83 72.92Z" fill="#0A8A12"/>
<path d="M296.27 66.12L292.27 72.92L300.27 72.92Z" fill="#0A8A12"/>
<path d="M296.72 66.12L292.72 72.92L300.72 72.92Z" fill="#0A8A12"/>
<path d="M297.16 66.12L293.16 72.92L301.16 72.92Z" fill="#0A8A12"/>
<path d="M297.61 66.12L293.61 72.92L301.61 72.92Z" fill="#0A8A12"/>
<path d="M298.05 66.12L294.05 72.92L302.05 72.92Z" fill="#0A8A12"/>
<path d="M298.49 66.12L294.49 72.92L302.49 72.92Z" fill="#0A8A12"/>
<path d="M298.94 66.12L294.94 72.92L302.94 72.92Z" fill="#0A8A12"/>
<path d="M299.38 66.12L295.38 72.92L303.38 72.92Z" fill="#0A8A12"/>
<path d="M299.83 66.12L295.83 72.92L303.83 72.92Z" fill="#0A8A12"/>
<path d="M300.27 66.12L296.27 72.92L304.27 72.92Z" fill="#0A8A12"/>
<path d="M300.72 66.12L296.72 72.92L304.72 72.92Z" fill="#0A8A12"/>
<path d="M301.16 66.12L297.16 72.92L305.16 72.92Z" fill="#0A8A12"/>
<path d="M301.61 66.12L297.61 72.92L305.61 72.92Z" fill="#0A8A12"/>
<path d="M302.05 66.12L298.05 72.92L306.05 72.92Z" fill="#0A8A12"/>
<path d="M302.5 66.12L298.5 72.92L306.5 72.92Z" fill="#0A8A12"/>
<path d="M302.94 66.12L298.94 72.92L306.94 72.92Z" fill="#0A8A12"/>
<path d="M303.38 66.12L299.38 72.92L307.38 72.92Z" fill="#0A8A12"/>
<path d="M303.83 66.12L299.83 72.92L307.83 72.92Z" fill="#0A8A12"/>
<rect x="65.8" y="60.7" width="249.5" height="241.7" fill="none" stroke="#8A8A8A" stroke-width="0.9"/>
<line x1="63.2" y1="70.2" x2="65.8" y2="70.2" stroke="#333333" stroke-width="0.8"/>
<text x="62" y="73.61" font-size="12.8" text-anchor="end" fill="#4D4D4D" color="#4D4D4D">1.00</text>
<line x1="63.2" y1="125.5" x2="65.8" y2="125.5" stroke="#333333" stroke-width="0.8"/>
<text x="62" y="128.91" font-size="12.8" text-anchor="end" fill="#4D4D4D" color="#4D4D4D">0.75</text>
<line x1="63.2" y1="180.8" x2="65.8" y2="180.8" stroke="#333333" stroke-width="0.8"/>
<text x="62" y="184.21" font-size="12.8" text-anchor="end" fill="#4D4D4D" color="#4D4D4D">0.50</text>
<line x1="63.2" y1="236.1" x2="65.8" y2="236.1" stroke="#333333" stroke-width="0.8"/>
<text x="62" y="239.51" font-size="12.8" text-anchor="end" fill="#4D4D4D" color="#4D4D4D">0.25</text>
<line x1="63.2" y1="291.4" x2="65.8" y2="291.4" stroke="#333333" stroke-width="0.8"/>
<text x="62" y="294.81" font-size="12.8" text-anchor="end" fill="#4D4D4D" color="#4D4D4D">0.00</text>
<line x1="75.8" y1="302.4" x2="75.8" y2="305" stroke="#333333" stroke-width="0.8"/>
<text x="75.8" y="317" font-size="12.8" text-anchor="middle" fill="#4D4D4D" color="#4D4D4D">0</text>
<line x1="164.7" y1="302.4" x2="164.7" y2="305" stroke="#333333" stroke-width="0.8"/>
<text x="164.7" y="317" font-size="12.8" text-anchor="middle" fill="#4D4D4D" color="#4D4D4D">100</text>
<line x1="253.6" y1="302.4" x2="253.6" y2="305" stroke="#333333" stroke-width="0.8"/>
<text x="253.6" y="317" font-size="12.8" text-anchor="middle" fill="#4D4D4D" color="#4D4D4D">200</text>
<text x="67" y="335.6" font-size="16" text-anchor="start" fill="#000" color="#000">Cells ordered by primary stellate FI</text>
<text x="29.6" y="266.6" font-size="16" text-anchor="start" fill="#000" color="#000" transform="rotate(-90 29.6 266.6)">Fraction MC (2D) identity</text>
<circle cx="23.5" cy="279.4" r="4.4" fill="#000"/>
<text x="326.3" y="78.8" font-size="16" text-anchor="start" fill="#000" color="#000" transform="rotate(90 326.3 78.8)">Fraction primary stellate identity</text>
<path d="M327.2 61.8L335.9 66.35L327.2 70.9Z" fill="#000"/>
<circle cx="73.1" cy="432.6" r="3.6" fill="#0A8A12"/>
<text x="82.2" y="436.7" font-size="13" text-anchor="start" fill="#000" color="#000">EC</text>
<circle cx="113.3" cy="432.6" r="3.6" fill="#4EEE94"/>
<text x="122.4" y="436.7" font-size="13" text-anchor="start" fill="#000" color="#000">EC-LB</text>
<circle cx="171.6" cy="432.6" r="3.6" fill="#EE0000"/>
<text x="180.9" y="436.7" font-size="13" text-anchor="start" fill="#000" color="#000">Primary EC</text>
<path d="M76.3 658L72.3 664.8L80.3 664.8Z" fill="#0A8A12"/>
<path d="M77.76 658.14L73.76 664.94L81.76 664.94Z" fill="#0A8A12"/>
<path d="M79.22 657.75L75.22 664.55L83.22 664.55Z" fill="#0A8A12"/>
<path d="M80.68 657.78L76.68 664.58L84.68 664.58Z" fill="#0A8A12"/>
<path d="M82.14 657.77L78.14 664.57L86.14 664.57Z" fill="#0A8A12"/>
<path d="M83.6 657.86L79.6 664.66L87.6 664.66Z" fill="#0A8A12"/>
<path d="M85.06 657.89L81.06 664.69L89.06 664.69Z" fill="#0A8A12"/>
<path d="M86.52 658.19L82.52 664.99L90.52 664.99Z" fill="#0A8A12"/>
<path d="M87.98 658.13L83.98 664.93L91.98 664.93Z" fill="#0A8A12"/>
<path d="M89.44 658.14L85.44 664.94L93.44 664.94Z" fill="#0A8A12"/>
<path d="M90.9 657.63L86.9 664.43L94.9 664.43Z" fill="#0A8A12"/>
<path d="M92.36 657.64L88.36 664.44L96.36 664.44Z" fill="#0A8A12"/>
<path d="M93.82 658.05L89.82 664.85L97.82 664.85Z" fill="#0A8A12"/>
<path d="M95.28 658.16L91.28 664.96L99.28 664.96Z" fill="#0A8A12"/>
<path d="M96.74 657.9L92.74 664.7L100.74 664.7Z" fill="#0A8A12"/>
<path d="M98.2 657.97L94.2 664.77L102.2 664.77Z" fill="#0A8A12"/>
<path d="M99.66 657.62L95.66 664.42L103.66 664.42Z" fill="#0A8A12"/>
<path d="M101.12 657.85L97.12 664.65L105.12 664.65Z" fill="#0A8A12"/>
<path d="M102.58 658.18L98.58 664.98L106.58 664.98Z" fill="#0A8A12"/>
<path d="M104.04 658.12L100.04 664.92L108.04 664.92Z" fill="#0A8A12"/>
<path d="M105.5 658.13L101.5 664.93L109.5 664.93Z" fill="#0A8A12"/>
<path d="M106.96 658.2L102.96 665L110.96 665Z" fill="#0A8A12"/>
<path d="M108.42 657.77L104.42 664.57L112.42 664.57Z" fill="#0A8A12"/>
<path d="M109.88 657.69L105.88 664.49L113.88 664.49Z" fill="#0A8A12"/>
<path d="M111.34 657.71L107.34 664.51L115.34 664.51Z" fill="#0A8A12"/>
<path d="M112.8 657.93L108.8 664.73L116.8 664.73Z" fill="#0A8A12"/>
<path d="M114.26 658.03L110.26 664.83L118.26 664.83Z" fill="#0A8A12"/>
<path d="M115.72 658.18L111.72 664.98L119.72 664.98Z" fill="#0A8A12"/>
<path d="M117.18 658.05L113.18 664.85L121.18 664.85Z" fill="#0A8A12"/>
<path d="M118.64 658.01L114.64 664.81L122.64 664.81Z" fill="#0A8A12"/>
<path d="M120.1 658.08L116.1 664.88L124.1 664.88Z" fill="#0A8A12"/>
<path d="M121.56 657.89L117.56 664.69L125.56 664.69Z" fill="#0A8A12"/>
<path d="M123.02 657.95L119.02 664.75L127.02 664.75Z" fill="#0A8A12"/>
<path d="M124.48 657.64L120.48 664.44L128.48 664.44Z" fill="#0A8A12"/>
<path d="M125.94 658.09L121.94 664.89L129.94 664.89Z" fill="#0A8A12"/>
<path d="M127.4 657.76L123.4 664.56L131.4 664.56Z" fill="#0A8A12"/>
<path d="M128.86 658.17L124.86 664.97L132.86 664.97Z" fill="#0A8A12"/>
<path d="M130.32 658.01L126.32 664.81L134.32 664.81Z" fill="#0A8A12"/>
<path d="M131.78 657.8L127.78 664.6L135.78 664.6Z" fill="#0A8A12"/>
<path d="M133.24 657.7L129.24 664.5L137.24 664.5Z" fill="#0A8A12"/>
<path d="M134.7 657.77L130.7 664.57L138.7 664.57Z" fill="#0A8A12"/>
<path d="M136.16 658L132.16 664.8L140.16 664.8Z" fill="#0A8A12"/>
<path d="M137.62 658.04L133.62 664.84L141.62 664.84Z" fill="#0A8A12"/>
<path d="M139.08 657.69L135.08 664.49L143.08 664.49Z" fill="#0A8A12"/>
<path d="M140.54 657.66L136.54 664.46L144.54 664.46Z" fill="#0A8A12"/>
<path d="M142 657.93L138 664.73L146 664.73Z" fill="#0A8A12"/>
<path d="M143.46 657.36L139.46 664.16L147.46 664.16Z" fill="#0A8A12"/>
<path d="M144.92 656.63L140.92 663.43L148.92 663.43Z" fill="#0A8A12"/>
<path d="M146.38 655.92L142.38 662.72L150.38 662.72Z" fill="#0A8A12"/>
<path d="M147.84 655.53L143.84 662.33L151.84 662.33Z" fill="#0A8A12"/>
<path d="M149.3 654.56L145.3 661.36L153.3 661.36Z" fill="#0A8A12"/>
<path d="M150.76 654.13L146.76 660.93L154.76 660.93Z" fill="#0A8A12"/>
<path d="M152.22 653.61L148.22 660.41L156.22 660.41Z" fill="#0A8A12"/>
<path d="M153.68 653.3L149.68 660.1L157.68 660.1Z" fill="#0A8A12"/>
<path d="M155.14 652.58L151.14 659.38L159.14 659.38Z" fill="#0A8A12"/>
<path d="M156.6 652.27L152.6 659.07L160.6 659.07Z" fill="#0A8A12"/>
<path d="M158.06 651.58L154.06 658.38L162.06 658.38Z" fill="#0A8A12"/>
<path d="M159.52 650.99L155.52 657.79L163.52 657.79Z" fill="#0A8A12"/>
<path d="M160.98 650.54L156.98 657.34L164.98 657.34Z" fill="#0A8A12"/>
<path d="M162.44 650.52L158.44 657.32L166.44 657.32Z" fill="#0A8A12"/>
<path d="M163.9 649.92L159.9 656.72L167.9 656.72Z" fill="#0A8A12"/>
<path d="M165.36 649.23L161.36 656.03L169.36 656.03Z" fill="#0A8A12"/>
<path d="M166.82 648.61L162.82 655.41L170.82 655.41Z" fill="#0A8A12"/>
<path d="M168.28 648.45L164.28 655.25L172.28 655.25Z" fill="#0A8A12"/>
<path d="M169.74 648.1L165.74 654.9L173.74 654.9Z" fill="#0A8A12"/>
<path d="M171.2 646.69L167.2 653.49L175.2 653.49Z" fill="#0A8A12"/>
<path d="M172.66 645.16L168.66 651.96L176.66 651.96Z" fill="#0A8A12"/>
<path d="M174.12 643.97L170.12 650.77L178.12 650.77Z" fill="#0A8A12"/>
<path d="M175.58 642.68L171.58 649.48L179.58 649.48Z" fill="#0A8A12"/>
<path d="M177.04 640.83L173.04 647.63L181.04 647.63Z" fill="#0A8A12"/>
<path d="M178.5 639.27L174.5 646.07L182.5 646.07Z" fill="#0A8A12"/>
<path d="M179.96 638.02L175.96 644.82L183.96 644.82Z" fill="#0A8A12"/>
<path d="M181.42 636.63L177.42 643.43L185.42 643.43Z" fill="#0A8A12"/>
<path d="M182.88 634.39L178.88 641.19L186.88 641.19Z" fill="#0A8A12"/>
<path d="M184.34 624.87L180.34 631.67L188.34 631.67Z" fill="#0A8A12"/>
<path d="M185.8 616.8L181.8 623.6L189.8 623.6Z" fill="#0A8A12"/>
<path d="M187.26 609.46L183.26 616.26L191.26 616.26Z" fill="#4EEE94"/>
<path d="M188.72 596.5L184.72 603.3L192.72 603.3Z" fill="#4EEE94"/>
<path d="M190.18 592.99L186.18 599.79L194.18 599.79Z" fill="#4EEE94"/>
<path d="M191.64 592.52L187.64 599.32L195.64 599.32Z" fill="#4EEE94"/>
<path d="M193.1 591.19L189.1 597.99L197.1 597.99Z" fill="#4EEE94"/>
<path d="M194.56 590.56L190.56 597.36L198.56 597.36Z" fill="#4EEE94"/>
<path d="M196.02 589.28L192.02 596.08L200.02 596.08Z" fill="#4EEE94"/>
<path d="M197.48 588.34L193.48 595.14L201.48 595.14Z" fill="#4EEE94"/>
<path d="M198.94 587.87L194.94 594.67L202.94 594.67Z" fill="#4EEE94"/>
<path d="M200.4 587.03L196.4 593.83L204.4 593.83Z" fill="#4EEE94"/>
<path d="M201.86 586.86L197.86 593.66L205.86 593.66Z" fill="#4EEE94"/>
<path d="M203.32 586.03L199.32 592.83L207.32 592.83Z" fill="#4EEE94"/>
<path d="M204.78 585.29L200.78 592.09L208.78 592.09Z" fill="#4EEE94"/>
<path d="M206.24 584.58L202.24 591.38L210.24 591.38Z" fill="#4EEE94"/>
<path d="M207.7 583.68L203.7 590.48L211.7 590.48Z" fill="#4EEE94"/>
<path d="M209.16 582.81L205.16 589.61L213.16 589.61Z" fill="#4EEE94"/>
<path d="M210.62 581.96L206.62 588.76L214.62 588.76Z" fill="#4EEE94"/>
<path d="M212.08 580.47L208.08 587.27L216.08 587.27Z" fill="#4EEE94"/>
<path d="M213.54 579.6L209.54 586.4L217.54 586.4Z" fill="#4EEE94"/>
<path d="M215 578.47L211 585.27L219 585.27Z" fill="#4EEE94"/>
<path d="M216.46 577.91L212.46 584.71L220.46 584.71Z" fill="#4EEE94"/>
<path d="M217.92 576.4L213.92 583.2L221.92 583.2Z" fill="#4EEE94"/>
<path d="M219.38 575.33L215.38 582.13L223.38 582.13Z" fill="#4EEE94"/>
<path d="M220.84 574.32L216.84 581.12L224.84 581.12Z" fill="#4EEE94"/>
<path d="M222.3 573.33L218.3 580.13L226.3 580.13Z" fill="#4EEE94"/>
<path d="M223.76 572.31L219.76 579.11L227.76 579.11Z" fill="#4EEE94"/>
<path d="M225.22 570.99L221.22 577.79L229.22 577.79Z" fill="#4EEE94"/>
<path d="M226.68 569.57L222.68 576.37L230.68 576.37Z" fill="#4EEE94"/>
<path d="M228.14 568.41L224.14 575.21L232.14 575.21Z" fill="#4EEE94"/>
<path d="M229.6 567.05L225.6 573.85L233.6 573.85Z" fill="#4EEE94"/>
<path d="M231.06 565.37L227.06 572.17L235.06 572.17Z" fill="#4EEE94"/>
<path d="M232.52 563.96L228.52 570.76L236.52 570.76Z" fill="#4EEE94"/>
<path d="M233.98 563.09L229.98 569.89L237.98 569.89Z" fill="#4EEE94"/>
<path d="M235.44 561.66L231.44 568.46L239.44 568.46Z" fill="#4EEE94"/>
<path d="M236.9 559.91L232.9 566.71L240.9 566.71Z" fill="#4EEE94"/>
<path d="M238.36 558.87L234.36 565.67L242.36 565.67Z" fill="#4EEE94"/>
<path d="M239.82 557.25L235.82 564.05L243.82 564.05Z" fill="#4EEE94"/>
<path d="M241.28 555.8L237.28 562.6L245.28 562.6Z" fill="#4EEE94"/>
<path d="M242.74 554.32L238.74 561.12L246.74 561.12Z" fill="#4EEE94"/>
<path d="M244.2 552.78L240.2 559.58L248.2 559.58Z" fill="#4EEE94"/>
<path d="M245.66 551.23L241.66 558.03L249.66 558.03Z" fill="#4EEE94"/>
<path d="M247.12 549.95L243.12 556.75L251.12 556.75Z" fill="#4EEE94"/>
<path d="M248.58 548.54L244.58 555.34L252.58 555.34Z" fill="#4EEE94"/>
<path d="M250.04 547.1L246.04 553.9L254.04 553.9Z" fill="#4EEE94"/>
<path d="M251.5 543L247.5 549.8L255.5 549.8Z" fill="#4EEE94"/>
<path d="M252.96 539.9L248.96 546.7L256.96 546.7Z" fill="#4EEE94"/>
<path d="M254.42 538.63L250.42 545.43L258.42 545.43Z" fill="#4EEE94"/>
<path d="M255.88 537.99L251.88 544.79L259.88 544.79Z" fill="#4EEE94"/>
<path d="M257.34 537.54L253.34 544.34L261.34 544.34Z" fill="#4EEE94"/>
<path d="M258.8 536.81L254.8 543.61L262.8 543.61Z" fill="#4EEE94"/>
<path d="M260.26 535.85L256.26 542.65L264.26 542.65Z" fill="#4EEE94"/>
<path d="M261.72 534.89L257.72 541.69L265.72 541.69Z" fill="#4EEE94"/>
<path d="M263.18 532.66L259.18 539.46L267.18 539.46Z" fill="#4EEE94"/>
<path d="M264.64 528.59L260.64 535.39L268.64 535.39Z" fill="#4EEE94"/>
<path d="M266.1 524.91L262.1 531.71L270.1 531.71Z" fill="#4EEE94"/>
<path d="M267.56 520.47L263.56 527.27L271.56 527.27Z" fill="#4EEE94"/>
<path d="M269.02 515.54L265.02 522.34L273.02 522.34Z" fill="#4EEE94"/>
<path d="M270.48 508.08L266.48 514.88L274.48 514.88Z" fill="#4EEE94"/>
<path d="M271.94 506.1L267.94 512.9L275.94 512.9Z" fill="#4EEE94"/>
<path d="M273.4 504.87L269.4 511.67L277.4 511.67Z" fill="#4EEE94"/>
<path d="M274.86 503.65L270.86 510.45L278.86 510.45Z" fill="#4EEE94"/>
<path d="M276.32 499.48L272.32 506.28L280.32 506.28Z" fill="#4EEE94"/>
<path d="M277.78 494.61L273.78 501.41L281.78 501.41Z" fill="#4EEE94"/>
<path d="M279.24 489.69L275.24 496.49L283.24 496.49Z" fill="#4EEE94"/>
<path d="M280.7 484.64L276.7 491.44L284.7 491.44Z" fill="#4EEE94"/>
<path d="M282.16 475.62L278.16 482.42L286.16 482.42Z" fill="#4EEE94"/>
<path d="M283.62 461.35L279.62 468.15L287.62 468.15Z" fill="#4EEE94"/>
<circle cx="76.3" cy="450.54" r="3.1" fill="#0A8A12"/>
<circle cx="77.76" cy="450.22" r="3.1" fill="#0A8A12"/>
<circle cx="79.22" cy="450.54" r="3.1" fill="#0A8A12"/>
<circle cx="80.68" cy="450.69" r="3.1" fill="#0A8A12"/>
<circle cx="82.14" cy="450.4" r="3.1" fill="#0A8A12"/>
<circle cx="83.6" cy="450.33" r="3.1" fill="#0A8A12"/>
<circle cx="85.06" cy="450.39" r="3.1" fill="#0A8A12"/>
<circle cx="86.52" cy="450.51" r="3.1" fill="#0A8A12"/>
<circle cx="87.98" cy="450.56" r="3.1" fill="#0A8A12"/>
<circle cx="89.44" cy="450.47" r="3.1" fill="#0A8A12"/>
<circle cx="90.9" cy="450.49" r="3.1" fill="#0A8A12"/>
<circle cx="92.36" cy="450.15" r="3.1" fill="#0A8A12"/>
<circle cx="93.82" cy="450.19" r="3.1" fill="#0A8A12"/>
<circle cx="95.28" cy="450.25" r="3.1" fill="#0A8A12"/>
<circle cx="96.74" cy="450.55" r="3.1" fill="#0A8A12"/>
<circle cx="98.2" cy="450.28" r="3.1" fill="#0A8A12"/>
<circle cx="99.66" cy="450.44" r="3.1" fill="#0A8A12"/>
<circle cx="101.12" cy="450.11" r="3.1" fill="#0A8A12"/>
<circle cx="102.58" cy="450.14" r="3.1" fill="#0A8A12"/>
<circle cx="104.04" cy="450.26" r="3.1" fill="#0A8A12"/>
<circle cx="105.5" cy="450.5" r="3.1" fill="#0A8A12"/>
<circle cx="106.96" cy="450.52" r="3.1" fill="#0A8A12"/>
<circle cx="108.42" cy="450.51" r="3.1" fill="#0A8A12"/>
<circle cx="109.88" cy="450.27" r="3.1" fill="#0A8A12"/>
<circle cx="111.34" cy="450.41" r="3.1" fill="#0A8A12"/>
<circle cx="112.8" cy="450.38" r="3.1" fill="#0A8A12"/>
<circle cx="114.26" cy="450.38" r="3.1" fill="#0A8A12"/>
<circle cx="115.72" cy="450.17" r="3.1" fill="#0A8A12"/>
<circle cx="117.18" cy="450.64" r="3.1" fill="#0A8A12"/>
<circle cx="118.64" cy="450.22" r="3.1" fill="#0A8A12"/>
<circle cx="120.1" cy="450.69" r="3.1" fill="#0A8A12"/>
<circle cx="121.56" cy="450.66" r="3.1" fill="#0A8A12"/>
<circle cx="123.02" cy="450.11" r="3.1" fill="#0A8A12"/>
<circle cx="124.48" cy="450.38" r="3.1" fill="#0A8A12"/>
<circle cx="125.94" cy="450.59" r="3.1" fill="#0A8A12"/>
<circle cx="127.4" cy="450.68" r="3.1" fill="#0A8A12"/>
<circle cx="128.86" cy="450.37" r="3.1" fill="#0A8A12"/>
<circle cx="130.32" cy="450.26" r="3.1" fill="#0A8A12"/>
<circle cx="131.78" cy="450.23" r="3.1" fill="#0A8A12"/>
<circle cx="133.24" cy="450.67" r="3.1" fill="#0A8A12"/>
<circle cx="134.7" cy="450.23" r="3.1" fill="#0A8A12"/>
<circle cx="136.16" cy="450.45" r="3.1" fill="#0A8A12"/>
<circle cx="137.62" cy="450.19" r="3.1" fill="#0A8A12"/>
<circle cx="139.08" cy="450.41" r="3.1" fill="#0A8A12"/>
<circle cx="140.54" cy="450.67" r="3.1" fill="#0A8A12"/>
<circle cx="142" cy="450.18" r="3.1" fill="#0A8A12"/>
<circle cx="143.46" cy="451.37" r="3.1" fill="#0A8A12"/>
<circle cx="144.92" cy="451.96" r="3.1" fill="#0A8A12"/>
<circle cx="146.38" cy="452.96" r="3.1" fill="#0A8A12"/>
<circle cx="147.84" cy="453.63" r="3.1" fill="#0A8A12"/>
<circle cx="149.3" cy="454.12" r="3.1" fill="#0A8A12"/>
<circle cx="150.76" cy="455.3" r="3.1" fill="#0A8A12"/>
<circle cx="152.22" cy="455.83" r="3.1" fill="#0A8A12"/>
<circle cx="153.68" cy="456.33" r="3.1" fill="#0A8A12"/>
<circle cx="155.14" cy="456.89" r="3.1" fill="#0A8A12"/>
<circle cx="156.6" cy="457.55" r="3.1" fill="#0A8A12"/>
<circle cx="158.06" cy="457.9" r="3.1" fill="#0A8A12"/>
<circle cx="159.52" cy="458.18" r="3.1" fill="#0A8A12"/>
<circle cx="160.98" cy="458.46" r="3.1" fill="#0A8A12"/>
<circle cx="162.44" cy="458.95" r="3.1" fill="#0A8A12"/>
<circle cx="163.9" cy="459.3" r="3.1" fill="#0A8A12"/>
<circle cx="165.36" cy="459.99" r="3.1" fill="#0A8A12"/>
<circle cx="166.82" cy="459.86" r="3.1" fill="#0A8A12"/>
<circle cx="168.28" cy="461.65" r="3.1" fill="#0A8A12"/>
<circle cx="169.74" cy="463.19" r="3.1" fill="#0A8A12"/>
<circle cx="171.2" cy="464.24" r="3.1" fill="#0A8A12"/>
<circle cx="172.66" cy="466.21" r="3.1" fill="#0A8A12"/>
<circle cx="174.12" cy="467.38" r="3.1" fill="#0A8A12"/>
<circle cx="175.58" cy="468.7" r="3.1" fill="#0A8A12"/>
<circle cx="177.04" cy="469.53" r="3.1" fill="#0A8A12"/>
<circle cx="178.5" cy="470.77" r="3.1" fill="#0A8A12"/>
<circle cx="179.96" cy="471.99" r="3.1" fill="#0A8A12"/>
<circle cx="181.42" cy="473.55" r="3.1" fill="#0A8A12"/>
<circle cx="182.88" cy="475.04" r="3.1" fill="#0A8A12"/>
<circle cx="184.34" cy="480.45" r="3.1" fill="#0A8A12"/>
<circle cx="185.8" cy="489.46" r="3.1" fill="#0A8A12"/>
<circle cx="187.26" cy="499.31" r="3.1" fill="#4EEE94"/>
<circle cx="188.72" cy="512.34" r="3.1" fill="#4EEE94"/>
<circle cx="190.18" cy="515.56" r="3.1" fill="#4EEE94"/>
<circle cx="191.64" cy="516.75" r="3.1" fill="#4EEE94"/>
<circle cx="193.1" cy="517.16" r="3.1" fill="#4EEE94"/>
<circle cx="194.56" cy="518.3" r="3.1" fill="#4EEE94"/>
<circle cx="196.02" cy="518.63" r="3.1" fill="#4EEE94"/>
<circle cx="197.48" cy="519.39" r="3.1" fill="#4EEE94"/>
<circle cx="198.94" cy="520.44" r="3.1" fill="#4EEE94"/>
<circle cx="200.4" cy="521.43" r="3.1" fill="#4EEE94"/>
<circle cx="201.86" cy="522.73" r="3.1" fill="#4EEE94"/>
<circle cx="203.32" cy="524.26" r="3.1" fill="#4EEE94"/>
<circle cx="204.78" cy="525.3" r="3.1" fill="#4EEE94"/>
<circle cx="206.24" cy="526.18" r="3.1" fill="#4EEE94"/>
<circle cx="207.7" cy="527" r="3.1" fill="#4EEE94"/>
<circle cx="209.16" cy="528.1" r="3.1" fill="#4EEE94"/>
<circle cx="210.62" cy="529.05" r="3.1" fill="#4EEE94"/>
<circle cx="212.08" cy="529.74" r="3.1" fill="#4EEE94"/>
<circle cx="213.54" cy="530.77" r="3.1" fill="#4EEE94"/>
<circle cx="215" cy="531.3" r="3.1" fill="#4EEE94"/>
<circle cx="216.46" cy="532.63" r="3.1" fill="#4EEE94"/>
<circle cx="217.92" cy="533.39" r="3.1" fill="#4EEE94"/>
<circle cx="219.38" cy="534.5" r="3.1" fill="#4EEE94"/>
<circle cx="220.84" cy="535.37" r="3.1" fill="#4EEE94"/>
<circle cx="222.3" cy="536.64" r="3.1" fill="#4EEE94"/>
<circle cx="223.76" cy="538.46" r="3.1" fill="#4EEE94"/>
<circle cx="225.22" cy="540.94" r="3.1" fill="#4EEE94"/>
<circle cx="226.68" cy="542.42" r="3.1" fill="#4EEE94"/>
<circle cx="228.14" cy="544.58" r="3.1" fill="#4EEE94"/>
<circle cx="229.6" cy="546.46" r="3.1" fill="#4EEE94"/>
<circle cx="231.06" cy="548.28" r="3.1" fill="#4EEE94"/>
<circle cx="232.52" cy="549.52" r="3.1" fill="#4EEE94"/>
<circle cx="233.98" cy="550.63" r="3.1" fill="#4EEE94"/>
<circle cx="235.44" cy="551.17" r="3.1" fill="#4EEE94"/>
<circle cx="236.9" cy="552.37" r="3.1" fill="#4EEE94"/>
<circle cx="238.36" cy="553.13" r="3.1" fill="#4EEE94"/>
<circle cx="239.82" cy="554.25" r="3.1" fill="#4EEE94"/>
<circle cx="241.28" cy="555.28" r="3.1" fill="#4EEE94"/>
<circle cx="242.74" cy="556.37" r="3.1" fill="#4EEE94"/>
<circle cx="244.2" cy="557.59" r="3.1" fill="#4EEE94"/>
<circle cx="245.66" cy="558.85" r="3.1" fill="#4EEE94"/>
<circle cx="247.12" cy="560.49" r="3.1" fill="#4EEE94"/>
<circle cx="248.58" cy="561.47" r="3.1" fill="#4EEE94"/>
<circle cx="250.04" cy="562.92" r="3.1" fill="#4EEE94"/>
<circle cx="251.5" cy="566.89" r="3.1" fill="#4EEE94"/>
<circle cx="252.96" cy="570.5" r="3.1" fill="#4EEE94"/>
<circle cx="254.42" cy="570.98" r="3.1" fill="#4EEE94"/>
<circle cx="255.88" cy="571.52" r="3.1" fill="#4EEE94"/>
<circle cx="257.34" cy="572.29" r="3.1" fill="#4EEE94"/>
<circle cx="258.8" cy="572.95" r="3.1" fill="#4EEE94"/>
<circle cx="260.26" cy="573.84" r="3.1" fill="#4EEE94"/>
<circle cx="261.72" cy="574.41" r="3.1" fill="#4EEE94"/>
<circle cx="263.18" cy="577.61" r="3.1" fill="#4EEE94"/>
<circle cx="264.64" cy="582.8" r="3.1" fill="#4EEE94"/>
<circle cx="266.1" cy="586.94" r="3.1" fill="#4EEE94"/>
<circle cx="267.56" cy="589.32" r="3.1" fill="#4EEE94"/>
<circle cx="269.02" cy="592.25" r="3.1" fill="#4EEE94"/>
<circle cx="270.48" cy="597.98" r="3.1" fill="#4EEE94"/>
<circle cx="271.94" cy="603.55" r="3.1" fill="#4EEE94"/>
<circle cx="273.4" cy="605.76" r="3.1" fill="#4EEE94"/>
<circle cx="274.86" cy="607.82" r="3.1" fill="#4EEE94"/>
<circle cx="276.32" cy="612.05" r="3.1" fill="#4EEE94"/>
<circle cx="277.78" cy="616.36" r="3.1" fill="#4EEE94"/>
<circle cx="279.24" cy="620.25" r="3.1" fill="#4EEE94"/>
<circle cx="280.7" cy="624.22" r="3.1" fill="#4EEE94"/>
<circle cx="282.16" cy="632.72" r="3.1" fill="#4EEE94"/>
<circle cx="283.62" cy="647.38" r="3.1" fill="#4EEE94"/>
<circle cx="204.2" cy="524.7" r="3.1" fill="#EE0000"/>
<circle cx="253" cy="570.3" r="3.1" fill="#EE0000"/>
<circle cx="268.7" cy="590.8" r="3.1" fill="#EE0000"/>
<circle cx="275" cy="608.1" r="3.1" fill="#EE0000"/>
<circle cx="282.2" cy="633.3" r="3.1" fill="#EE0000"/>
<circle cx="283.5" cy="646.5" r="3.1" fill="#EE0000"/>
<path d="M205.7 585.12L201.7 591.92L209.7 591.92Z" fill="#EE0000"/>
<path d="M253 539.52L249 546.32L257 546.32Z" fill="#EE0000"/>
<path d="M268.7 517.52L264.7 524.32L272.7 524.32Z" fill="#EE0000"/>
<path d="M275 503.32L271 510.12L279 510.12Z" fill="#EE0000"/>
<path d="M273 504.92L269 511.72L277 511.72Z" fill="#EE0000"/>
<path d="M282.2 475.02L278.2 481.82L286.2 481.82Z" fill="#EE0000"/>
<path d="M283.5 462.42L279.5 469.22L287.5 469.22Z" fill="#EE0000"/>
<circle cx="186.8" cy="498.5" r="3.1" fill="#4EEE94"/>
<path d="M185.9 608.92L181.9 615.72L189.9 615.72Z" fill="#4EEE94"/>
<circle cx="289.3" cy="662" r="3.1" fill="#EE0000"/>
<path d="M289.3 446.32L285.3 453.12L293.3 453.12Z" fill="#EE0000"/>
<circle cx="289.9" cy="662" r="3.1" fill="#EE0000"/>
<path d="M289.9 446.32L285.9 453.12L293.9 453.12Z" fill="#EE0000"/>
<circle cx="290.5" cy="662" r="3.1" fill="#EE0000"/>
<path d="M290.5 446.32L286.5 453.12L294.5 453.12Z" fill="#EE0000"/>
<circle cx="291.1" cy="662" r="3.1" fill="#EE0000"/>
<path d="M291.1 446.32L287.1 453.12L295.1 453.12Z" fill="#EE0000"/>
<circle cx="291.7" cy="662" r="3.1" fill="#EE0000"/>
<path d="M291.7 446.32L287.7 453.12L295.7 453.12Z" fill="#EE0000"/>
<circle cx="292.3" cy="662" r="3.1" fill="#EE0000"/>
<path d="M292.3 446.32L288.3 453.12L296.3 453.12Z" fill="#EE0000"/>
<circle cx="292.9" cy="662" r="3.1" fill="#EE0000"/>
<path d="M292.9 446.32L288.9 453.12L296.9 453.12Z" fill="#EE0000"/>
<circle cx="293.5" cy="662" r="3.1" fill="#EE0000"/>
<path d="M293.5 446.32L289.5 453.12L297.5 453.12Z" fill="#EE0000"/>
<circle cx="294.1" cy="662" r="3.1" fill="#EE0000"/>
<path d="M294.1 446.32L290.1 453.12L298.1 453.12Z" fill="#EE0000"/>
<circle cx="294.7" cy="662" r="3.1" fill="#EE0000"/>
<path d="M294.7 446.32L290.7 453.12L298.7 453.12Z" fill="#EE0000"/>
<circle cx="295.3" cy="662" r="3.1" fill="#EE0000"/>
<path d="M295.3 446.32L291.3 453.12L299.3 453.12Z" fill="#EE0000"/>
<circle cx="295.9" cy="662" r="3.1" fill="#EE0000"/>
<path d="M295.9 446.32L291.9 453.12L299.9 453.12Z" fill="#EE0000"/>
<circle cx="296.5" cy="662" r="3.1" fill="#EE0000"/>
<path d="M296.5 446.32L292.5 453.12L300.5 453.12Z" fill="#EE0000"/>
<circle cx="297.1" cy="662" r="3.1" fill="#EE0000"/>
<path d="M297.1 446.32L293.1 453.12L301.1 453.12Z" fill="#EE0000"/>
<circle cx="297.7" cy="662" r="3.1" fill="#EE0000"/>
<path d="M297.7 446.32L293.7 453.12L301.7 453.12Z" fill="#EE0000"/>
<circle cx="298.3" cy="662" r="3.1" fill="#EE0000"/>
<path d="M298.3 446.32L294.3 453.12L302.3 453.12Z" fill="#EE0000"/>
<circle cx="298.9" cy="662" r="3.1" fill="#EE0000"/>
<path d="M298.9 446.32L294.9 453.12L302.9 453.12Z" fill="#EE0000"/>
<circle cx="299.5" cy="662" r="3.1" fill="#EE0000"/>
<path d="M299.5 446.32L295.5 453.12L303.5 453.12Z" fill="#EE0000"/>
<circle cx="300.1" cy="662" r="3.1" fill="#EE0000"/>
<path d="M300.1 446.32L296.1 453.12L304.1 453.12Z" fill="#EE0000"/>
<circle cx="300.7" cy="662" r="3.1" fill="#EE0000"/>
<path d="M300.7 446.32L296.7 453.12L304.7 453.12Z" fill="#EE0000"/>
<circle cx="301.3" cy="662" r="3.1" fill="#EE0000"/>
<path d="M301.3 446.32L297.3 453.12L305.3 453.12Z" fill="#EE0000"/>
<circle cx="301.9" cy="662" r="3.1" fill="#EE0000"/>
<path d="M301.9 446.32L297.9 453.12L305.9 453.12Z" fill="#EE0000"/>
<circle cx="302.5" cy="662" r="3.1" fill="#EE0000"/>
<path d="M302.5 446.32L298.5 453.12L306.5 453.12Z" fill="#EE0000"/>
<circle cx="303.1" cy="662" r="3.1" fill="#EE0000"/>
<path d="M303.1 446.32L299.1 453.12L307.1 453.12Z" fill="#EE0000"/>
<circle cx="303.7" cy="662" r="3.1" fill="#EE0000"/>
<path d="M303.7 446.32L299.7 453.12L307.7 453.12Z" fill="#EE0000"/>
<circle cx="304.3" cy="662" r="3.1" fill="#EE0000"/>
<path d="M304.3 446.32L300.3 453.12L308.3 453.12Z" fill="#EE0000"/>
<circle cx="304.9" cy="662" r="3.1" fill="#EE0000"/>
<path d="M304.9 446.32L300.9 453.12L308.9 453.12Z" fill="#EE0000"/>
<circle cx="305.5" cy="662" r="3.1" fill="#EE0000"/>
<path d="M305.5 446.32L301.5 453.12L309.5 453.12Z" fill="#EE0000"/>
<circle cx="306.1" cy="662" r="3.1" fill="#EE0000"/>
<path d="M306.1 446.32L302.1 453.12L310.1 453.12Z" fill="#EE0000"/>
<circle cx="306.7" cy="662" r="3.1" fill="#EE0000"/>
<path d="M306.7 446.32L302.7 453.12L310.7 453.12Z" fill="#EE0000"/>
<path d="M286 455.52L282 462.32L290 462.32Z" fill="#4EEE94"/>
<circle cx="284.6" cy="655.5" r="3.1" fill="#4EEE94"/>
<rect x="66.6" y="440.6" width="253.2" height="232.2" fill="none" stroke="#8A8A8A" stroke-width="0.9"/>
<line x1="64" y1="450.4" x2="66.6" y2="450.4" stroke="#333333" stroke-width="0.8"/>
<text x="62.8" y="453.81" font-size="12.8" text-anchor="end" fill="#4D4D4D" color="#4D4D4D">1.00</text>
<line x1="64" y1="503.3" x2="66.6" y2="503.3" stroke="#333333" stroke-width="0.8"/>
<text x="62.8" y="506.71" font-size="12.8" text-anchor="end" fill="#4D4D4D" color="#4D4D4D">0.75</text>
<line x1="64" y1="556.2" x2="66.6" y2="556.2" stroke="#333333" stroke-width="0.8"/>
<text x="62.8" y="559.61" font-size="12.8" text-anchor="end" fill="#4D4D4D" color="#4D4D4D">0.50</text>
<line x1="64" y1="609.1" x2="66.6" y2="609.1" stroke="#333333" stroke-width="0.8"/>
<text x="62.8" y="612.51" font-size="12.8" text-anchor="end" fill="#4D4D4D" color="#4D4D4D">0.25</text>
<line x1="64" y1="662" x2="66.6" y2="662" stroke="#333333" stroke-width="0.8"/>
<text x="62.8" y="665.41" font-size="12.8" text-anchor="end" fill="#4D4D4D" color="#4D4D4D">0.00</text>
<line x1="76.3" y1="672.8" x2="76.3" y2="675.4" stroke="#333333" stroke-width="0.8"/>
<text x="76.3" y="687.4" font-size="12.8" text-anchor="middle" fill="#4D4D4D" color="#4D4D4D">0</text>
<line x1="149.3" y1="672.8" x2="149.3" y2="675.4" stroke="#333333" stroke-width="0.8"/>
<text x="149.3" y="687.4" font-size="12.8" text-anchor="middle" fill="#4D4D4D" color="#4D4D4D">50</text>
<line x1="222.3" y1="672.8" x2="222.3" y2="675.4" stroke="#333333" stroke-width="0.8"/>
<text x="222.3" y="687.4" font-size="12.8" text-anchor="middle" fill="#4D4D4D" color="#4D4D4D">100</text>
<line x1="295.3" y1="672.8" x2="295.3" y2="675.4" stroke="#333333" stroke-width="0.8"/>
<text x="295.3" y="687.4" font-size="12.8" text-anchor="middle" fill="#4D4D4D" color="#4D4D4D">150</text>
<text x="84" y="706.8" font-size="16" text-anchor="start" fill="#000" color="#000">Cells ordered by primary EC FI</text>
<text x="26" y="642.9" font-size="16" text-anchor="start" fill="#000" color="#000" transform="rotate(-90 26 642.9)">Fraction EC (2D) identity</text>
<circle cx="19.4" cy="655.9" r="4.4" fill="#000"/>
<text x="331.8" y="450.5" font-size="16" text-anchor="start" fill="#000" color="#000" transform="rotate(90 331.8 450.5)">Fraction primary endothelial identity</text>
<path d="M332.8 433.8L341.5 438.5L332.8 443.2Z" fill="#000"/>
<line x1="393" y1="36" x2="567.8" y2="36" stroke="#222" stroke-width="1.3"/>
<path d="M417.6 36L417.6 14.2L493.6 14.2L493.6 23.8M466.3 36L466.3 23.8L520.6 23.8L520.6 31.6M504.5 36L504.5 31.6L536.6 31.6L536.6 34.6M523.6 36L523.6 34.6L549.7 34.6L549.7 36M456.3 36L456.3 35L475.4 35L475.4 36" fill="none" stroke="#222" stroke-width="1.1"/>
<rect x="393" y="40.7" width="61.3" height="10.9" fill="#4EEE94"/>
<rect x="454.3" y="40.7" width="6.6" height="10.9" fill="#B232D4"/>
<rect x="460.9" y="40.7" width="40.6" height="10.9" fill="#F00000"/>
<rect x="501.5" y="40.7" width="10" height="10.9" fill="#008B00"/>
<rect x="511.5" y="40.7" width="56.3" height="10.9" fill="#B232D4"/>
<line x1="412.2" y1="40.7" x2="412.2" y2="51.6" stroke="#2E7A2E" stroke-width="0.7"/>
<line x1="532.6" y1="40.7" x2="532.6" y2="51.6" stroke="#C0205A" stroke-width="0.7"/>
<rect x="393" y="54.6" width="2.2" height="20.4" fill="#D2D2FF"/>
<rect x="394.68" y="54.6" width="0.52" height="20.4" fill="#D1D1FF"/>
<rect x="395.2" y="54.6" width="2.36" height="20.4" fill="#C8C8FF"/>
<rect x="396.96" y="54.6" width="1.88" height="20.4" fill="#C7C7FF"/>
<rect x="398.24" y="54.6" width="1.56" height="20.4" fill="#CACAFF"/>
<rect x="399.8" y="54.6" width="1.74" height="20.4" fill="#AEAEFF"/>
<rect x="400.94" y="54.6" width="1.74" height="20.4" fill="#B3B3FF"/>
<rect x="402.08" y="54.6" width="2.64" height="20.4" fill="#ABABFF"/>
<rect x="404.12" y="54.6" width="0.88" height="20.4" fill="#B5B5FF"/>
<rect x="405" y="54.6" width="2.58" height="20.4" fill="#DADAFF"/>
<rect x="406.98" y="54.6" width="1.84" height="20.4" fill="#D4D4FF"/>
<rect x="408.22" y="54.6" width="0.78" height="20.4" fill="#D4D4FF"/>
<rect x="409" y="54.6" width="1.89" height="20.4" fill="#B5B5FF"/>
<rect x="410.29" y="54.6" width="1.65" height="20.4" fill="#B7B7FF"/>
<rect x="411.33" y="54.6" width="1.17" height="20.4" fill="#BBBBFF"/>
<rect x="412.5" y="54.6" width="2.38" height="20.4" fill="#DADAFF"/>
<rect x="414.28" y="54.6" width="0.62" height="20.4" fill="#DADAFF"/>
<rect x="414.9" y="54.6" width="2.29" height="20.4" fill="#B5B5FF"/>
<rect x="416.59" y="54.6" width="1.71" height="20.4" fill="#BDBDFF"/>
<rect x="418.3" y="54.6" width="2.3" height="20.4" fill="#DDDDFF"/>
<rect x="420.56" y="54.6" width="0.04" height="20.4" fill="#D9D9FF"/>
<rect x="420.6" y="54.6" width="2.03" height="20.4" fill="#BBBBFF"/>
<rect x="422.03" y="54.6" width="2.07" height="20.4" fill="#BEBEFF"/>
<rect x="424.1" y="54.6" width="2.87" height="20.4" fill="#DADAFF"/>
<rect x="426.37" y="54.6" width="0.63" height="20.4" fill="#DFDFFF"/>
<rect x="427" y="54.6" width="1.6" height="20.4" fill="#B5B5FF"/>
<rect x="428" y="54.6" width="2.97" height="20.4" fill="#B7B7FF"/>
<rect x="430.37" y="54.6" width="1.83" height="20.4" fill="#B7B7FF"/>
<rect x="432.2" y="54.6" width="1.71" height="20.4" fill="#DADAFF"/>
<rect x="433.31" y="54.6" width="2.77" height="20.4" fill="#D6D6FF"/>
<rect x="435.48" y="54.6" width="0.72" height="20.4" fill="#D7D7FF"/>
<rect x="436.2" y="54.6" width="3.05" height="20.4" fill="#C2C2FF"/>
<rect x="438.65" y="54.6" width="1.78" height="20.4" fill="#BDBDFF"/>
<rect x="439.82" y="54.6" width="1.75" height="20.4" fill="#BBBBFF"/>
<rect x="440.97" y="54.6" width="1.03" height="20.4" fill="#BCBCFF"/>
<rect x="442" y="54.6" width="2.44" height="20.4" fill="#AFAFFF"/>
<rect x="443.84" y="54.6" width="1.89" height="20.4" fill="#B2B2FF"/>
<rect x="445.12" y="54.6" width="1.8" height="20.4" fill="#B1B1FF"/>
<rect x="446.32" y="54.6" width="1.77" height="20.4" fill="#AFAFFF"/>
<rect x="447.5" y="54.6" width="1.92" height="20.4" fill="#AEAEFF"/>
<rect x="448.82" y="54.6" width="3.06" height="20.4" fill="#B3B3FF"/>
<rect x="451.27" y="54.6" width="2.06" height="20.4" fill="#B4B4FF"/>
<rect x="452.73" y="54.6" width="1.57" height="20.4" fill="#AFAFFF"/>
<rect x="454.04" y="54.6" width="0.26" height="20.4" fill="#B1B1FF"/>
<rect x="454.3" y="54.6" width="1.75" height="20.4" fill="#FF5C5C"/>
<rect x="455.45" y="54.6" width="1.92" height="20.4" fill="#FF6363"/>
<rect x="456.77" y="54.6" width="0.73" height="20.4" fill="#FF6363"/>
<rect x="457.5" y="54.6" width="2.04" height="20.4" fill="#FF7575"/>
<rect x="458.94" y="54.6" width="1.74" height="20.4" fill="#FF6F6F"/>
<rect x="460.08" y="54.6" width="0.92" height="20.4" fill="#FF6F6F"/>
<rect x="461" y="54.6" width="2.16" height="20.4" fill="#FFFFFF"/>
<rect x="462.56" y="54.6" width="3.04" height="20.4" fill="#FFFFFF"/>
<rect x="465" y="54.6" width="2.3" height="20.4" fill="#FFFBFB"/>
<rect x="466.86" y="54.6" width="0.44" height="20.4" fill="#FBFBFF"/>
<rect x="467.3" y="54.6" width="1.2" height="20.4" fill="#FFDDDD"/>
<rect x="468.5" y="54.6" width="1.97" height="20.4" fill="#FFF5F5"/>
<rect x="469.87" y="54.6" width="2.71" height="20.4" fill="#FFEEEE"/>
<rect x="471.98" y="54.6" width="1.89" height="20.4" fill="#FFEEEE"/>
<rect x="473.28" y="54.6" width="2.92" height="20.4" fill="#FFF1F1"/>
<rect x="475.6" y="54.6" width="1.5" height="20.4" fill="#FFF6F6"/>
<rect x="477.1" y="54.6" width="1.66" height="20.4" fill="#FFCCCC"/>
<rect x="478.16" y="54.6" width="1.96" height="20.4" fill="#FFCFCF"/>
<rect x="479.52" y="54.6" width="1.68" height="20.4" fill="#FFCECE"/>
<rect x="480.9" y="54.6" width="0.3" height="20.4" fill="#FFD3D3"/>
<rect x="481.2" y="54.6" width="1.86" height="20.4" fill="#FFFDFD"/>
<rect x="482.46" y="54.6" width="1.7" height="20.4" fill="#FCFCFF"/>
<rect x="483.57" y="54.6" width="2.23" height="20.4" fill="#FFFBFB"/>
<rect x="485.41" y="54.6" width="0.39" height="20.4" fill="#FDFDFF"/>
<rect x="485.8" y="54.6" width="2.9" height="20.4" fill="#FFE3E3"/>
<rect x="488.18" y="54.6" width="0.52" height="20.4" fill="#FFE3E3"/>
<rect x="488.7" y="54.6" width="2.27" height="20.4" fill="#FFFEFE"/>
<rect x="490.37" y="54.6" width="1.23" height="20.4" fill="#FFFBFB"/>
<rect x="491.6" y="54.6" width="2.46" height="20.4" fill="#FFDDDD"/>
<rect x="493.46" y="54.6" width="2.14" height="20.4" fill="#FFD5D5"/>
<rect x="495" y="54.6" width="3.07" height="20.4" fill="#FFD7D7"/>
<rect x="497.47" y="54.6" width="1.03" height="20.4" fill="#FFD8D8"/>
<rect x="498.5" y="54.6" width="1.81" height="20.4" fill="#FFD1D1"/>
<rect x="499.71" y="54.6" width="1.63" height="20.4" fill="#FFC8C8"/>
<rect x="500.74" y="54.6" width="0.66" height="20.4" fill="#FFC7C7"/>
<rect x="501.4" y="54.6" width="1.63" height="20.4" fill="#FFFEFE"/>
<rect x="502.43" y="54.6" width="2.32" height="20.4" fill="#FFFDFD"/>
<rect x="504.16" y="54.6" width="2.08" height="20.4" fill="#FFFAFA"/>
<rect x="505.63" y="54.6" width="1.71" height="20.4" fill="#FFFFFF"/>
<rect x="506.75" y="54.6" width="2.71" height="20.4" fill="#FFFBFB"/>
<rect x="508.85" y="54.6" width="2.55" height="20.4" fill="#FFFDFD"/>
<rect x="510.96" y="54.6" width="0.44" height="20.4" fill="#FFFBFB"/>
<rect x="511.4" y="54.6" width="2.13" height="20.4" fill="#FF0000"/>
<rect x="512.93" y="54.6" width="2.95" height="20.4" fill="#FF0000"/>
<rect x="515.28" y="54.6" width="2.23" height="20.4" fill="#FF0000"/>
<rect x="516.9" y="54.6" width="2.9" height="20.4" fill="#FF0000"/>
<rect x="519.2" y="54.6" width="2.54" height="20.4" fill="#FF0101"/>
<rect x="521.14" y="54.6" width="2.47" height="20.4" fill="#FF0000"/>
<rect x="523.01" y="54.6" width="1.72" height="20.4" fill="#FF0000"/>
<rect x="524.13" y="54.6" width="3.09" height="20.4" fill="#FF0000"/>
<rect x="526.62" y="54.6" width="2.69" height="20.4" fill="#FF0101"/>
<rect x="528.71" y="54.6" width="2.29" height="20.4" fill="#FF0000"/>
<rect x="530.82" y="54.6" width="0.18" height="20.4" fill="#FF0000"/>
<rect x="531" y="54.6" width="1.73" height="20.4" fill="#FF1212"/>
<rect x="532.13" y="54.6" width="1.64" height="20.4" fill="#FF1313"/>
<rect x="533.17" y="54.6" width="0.73" height="20.4" fill="#FF1717"/>
<rect x="533.9" y="54.6" width="2.65" height="20.4" fill="#FF0D0D"/>
<rect x="535.95" y="54.6" width="2.52" height="20.4" fill="#FF0808"/>
<rect x="537.87" y="54.6" width="1.73" height="20.4" fill="#FF1212"/>
<rect x="539.25" y="54.6" width="0.35" height="20.4" fill="#FF0B0B"/>
<rect x="539.6" y="54.6" width="1.9" height="20.4" fill="#FF0303"/>
<rect x="540.9" y="54.6" width="2.96" height="20.4" fill="#FF0000"/>
<rect x="543.26" y="54.6" width="1.04" height="20.4" fill="#FF0000"/>
<rect x="544.3" y="54.6" width="2.09" height="20.4" fill="#FF1818"/>
<rect x="545.79" y="54.6" width="0.81" height="20.4" fill="#FF1A1A"/>
<rect x="546.6" y="54.6" width="2.81" height="20.4" fill="#FF0000"/>
<rect x="548.81" y="54.6" width="2.92" height="20.4" fill="#FF0101"/>
<rect x="551.13" y="54.6" width="2.47" height="20.4" fill="#FF0202"/>
<rect x="553" y="54.6" width="1.8" height="20.4" fill="#FF0000"/>
<rect x="554.21" y="54.6" width="2.86" height="20.4" fill="#FF0000"/>
<rect x="556.46" y="54.6" width="2.67" height="20.4" fill="#FF0000"/>
<rect x="558.53" y="54.6" width="2.02" height="20.4" fill="#FF0303"/>
<rect x="559.95" y="54.6" width="2.28" height="20.4" fill="#FF0202"/>
<rect x="561.62" y="54.6" width="1.92" height="20.4" fill="#FF0101"/>
<rect x="562.94" y="54.6" width="2.54" height="20.4" fill="#FF0000"/>
<rect x="564.88" y="54.6" width="2.07" height="20.4" fill="#FF0000"/>
<rect x="566.35" y="54.6" width="1.45" height="20.4" fill="#FF0000"/>
<rect x="393" y="75" width="1.71" height="20.9" fill="#EBEBFF"/>
<rect x="394.11" y="75" width="1.09" height="20.9" fill="#EBEBFF"/>
<rect x="395.2" y="75" width="2.66" height="20.9" fill="#DCDCFF"/>
<rect x="397.26" y="75" width="2.06" height="20.9" fill="#DEDEFF"/>
<rect x="398.73" y="75" width="1.63" height="20.9" fill="#D8D8FF"/>
<rect x="399.76" y="75" width="2.28" height="20.9" fill="#D6D6FF"/>
<rect x="401.44" y="75" width="2.84" height="20.9" fill="#D9D9FF"/>
<rect x="403.68" y="75" width="1.81" height="20.9" fill="#D7D7FF"/>
<rect x="404.89" y="75" width="2.54" height="20.9" fill="#DBDBFF"/>
<rect x="406.84" y="75" width="1.66" height="20.9" fill="#DDDDFF"/>
<rect x="408.5" y="75" width="2.81" height="20.9" fill="#FFFAFA"/>
<rect x="410.71" y="75" width="1.79" height="20.9" fill="#FCFCFF"/>
<rect x="412.5" y="75" width="2.31" height="20.9" fill="#D5D5FF"/>
<rect x="414.21" y="75" width="1.62" height="20.9" fill="#D8D8FF"/>
<rect x="415.23" y="75" width="2.67" height="20.9" fill="#D5D5FF"/>
<rect x="417.3" y="75" width="2.01" height="20.9" fill="#D7D7FF"/>
<rect x="418.71" y="75" width="2.65" height="20.9" fill="#D9D9FF"/>
<rect x="420.75" y="75" width="2.52" height="20.9" fill="#DBDBFF"/>
<rect x="422.68" y="75" width="2.02" height="20.9" fill="#DCDCFF"/>
<rect x="424.27" y="75" width="0.43" height="20.9" fill="#D5D5FF"/>
<rect x="424.7" y="75" width="3" height="20.9" fill="#B5B5FF"/>
<rect x="427.1" y="75" width="1.79" height="20.9" fill="#B2B2FF"/>
<rect x="428.29" y="75" width="2.21" height="20.9" fill="#B7B7FF"/>
<rect x="430.23" y="75" width="0.27" height="20.9" fill="#B3B3FF"/>
<rect x="430.5" y="75" width="2.92" height="20.9" fill="#C2C2FF"/>
<rect x="432.82" y="75" width="3.02" height="20.9" fill="#BFBFFF"/>
<rect x="435.24" y="75" width="2.58" height="20.9" fill="#BCBCFF"/>
<rect x="437.21" y="75" width="2.68" height="20.9" fill="#C2C2FF"/>
<rect x="439.3" y="75" width="2.56" height="20.9" fill="#C1C1FF"/>
<rect x="441.26" y="75" width="0.74" height="20.9" fill="#C3C3FF"/>
<rect x="442" y="75" width="3.07" height="20.9" fill="#EAEAFF"/>
<rect x="444.47" y="75" width="2.41" height="20.9" fill="#E8E8FF"/>
<rect x="446.28" y="75" width="2.08" height="20.9" fill="#EAEAFF"/>
<rect x="447.76" y="75" width="2.34" height="20.9" fill="#E4E4FF"/>
<rect x="450.04" y="75" width="0.06" height="20.9" fill="#E5E5FF"/>
<rect x="450.1" y="75" width="2.43" height="20.9" fill="#D4D4FF"/>
<rect x="451.93" y="75" width="2.33" height="20.9" fill="#CCCCFF"/>
<rect x="453.66" y="75" width="0.64" height="20.9" fill="#CDCDFF"/>
<rect x="454.3" y="75" width="2.8" height="20.9" fill="#FFBBBB"/>
<rect x="456.5" y="75" width="1" height="20.9" fill="#FFB5B5"/>
<rect x="457.5" y="75" width="1.81" height="20.9" fill="#FF9595"/>
<rect x="458.71" y="75" width="2.29" height="20.9" fill="#FF8F8F"/>
<rect x="460.49" y="75" width="0.51" height="20.9" fill="#FF8F8F"/>
<rect x="461" y="75" width="3.02" height="20.9" fill="#FF0A0A"/>
<rect x="463.42" y="75" width="3.02" height="20.9" fill="#FF0E0E"/>
<rect x="465.84" y="75" width="1.93" height="20.9" fill="#FF0A0A"/>
<rect x="467.17" y="75" width="2.04" height="20.9" fill="#FF0808"/>
<rect x="468.61" y="75" width="2.56" height="20.9" fill="#FF0A0A"/>
<rect x="470.57" y="75" width="2.87" height="20.9" fill="#FF0A0A"/>
<rect x="472.83" y="75" width="2.07" height="20.9" fill="#FF0B0B"/>
<rect x="474.3" y="75" width="2.87" height="20.9" fill="#FF0606"/>
<rect x="476.57" y="75" width="1.91" height="20.9" fill="#FF0707"/>
<rect x="477.88" y="75" width="3.05" height="20.9" fill="#FF0A0A"/>
<rect x="480.33" y="75" width="2.46" height="20.9" fill="#FF0D0D"/>
<rect x="482.19" y="75" width="2.4" height="20.9" fill="#FF0A0A"/>
<rect x="484" y="75" width="2.51" height="20.9" fill="#FF0F0F"/>
<rect x="485.91" y="75" width="3.05" height="20.9" fill="#FF0A0A"/>
<rect x="488.36" y="75" width="2.2" height="20.9" fill="#FF0707"/>
<rect x="489.96" y="75" width="2.44" height="20.9" fill="#FF0A0A"/>
<rect x="491.8" y="75" width="2.64" height="20.9" fill="#FF0F0F"/>
<rect x="493.84" y="75" width="2.41" height="20.9" fill="#FF0B0B"/>
<rect x="495.65" y="75" width="3.04" height="20.9" fill="#FF0606"/>
<rect x="498.08" y="75" width="2" height="20.9" fill="#FF0A0A"/>
<rect x="499.49" y="75" width="1.79" height="20.9" fill="#FF0B0B"/>
<rect x="500.68" y="75" width="0.72" height="20.9" fill="#FF0606"/>
<rect x="501.4" y="75" width="2.31" height="20.9" fill="#5555FF"/>
<rect x="503.11" y="75" width="1.89" height="20.9" fill="#5858FF"/>
<rect x="504.4" y="75" width="2.99" height="20.9" fill="#5353FF"/>
<rect x="506.79" y="75" width="2.77" height="20.9" fill="#5252FF"/>
<rect x="508.96" y="75" width="1.89" height="20.9" fill="#5454FF"/>
<rect x="510.25" y="75" width="1.15" height="20.9" fill="#5555FF"/>
<rect x="511.4" y="75" width="2.13" height="20.9" fill="#FFFEFE"/>
<rect x="512.93" y="75" width="1.76" height="20.9" fill="#FFFDFD"/>
<rect x="514.09" y="75" width="1.78" height="20.9" fill="#FFFFFF"/>
<rect x="515.27" y="75" width="1.98" height="20.9" fill="#FCFCFF"/>
<rect x="516.65" y="75" width="2.25" height="20.9" fill="#FEFEFF"/>
<rect x="518.45" y="75" width="0.45" height="20.9" fill="#FEFEFF"/>
<rect x="518.9" y="75" width="1.7" height="20.9" fill="#DDDDFF"/>
<rect x="520.6" y="75" width="1.91" height="20.9" fill="#FFFEFE"/>
<rect x="521.91" y="75" width="0.99" height="20.9" fill="#FFFFFF"/>
<rect x="522.9" y="75" width="1.2" height="20.9" fill="#DADAFF"/>
<rect x="524.1" y="75" width="2.89" height="20.9" fill="#FCFCFF"/>
<rect x="526.39" y="75" width="2.31" height="20.9" fill="#FFFCFC"/>
<rect x="528.5" y="75" width="0.2" height="20.9" fill="#FDFDFF"/>
<rect x="528.7" y="75" width="2.07" height="20.9" fill="#FFD4D4"/>
<rect x="530.17" y="75" width="1.43" height="20.9" fill="#FFD4D4"/>
<rect x="531.5" y="75" width="0.1" height="20.9" fill="#FFDCDC"/>
<rect x="531.6" y="75" width="1.7" height="20.9" fill="#FFB0B0"/>
<rect x="532.96" y="75" width="0.34" height="20.9" fill="#FFB7B7"/>
<rect x="533.3" y="75" width="2.85" height="20.9" fill="#FFD2D2"/>
<rect x="535.55" y="75" width="1.25" height="20.9" fill="#FFD5D5"/>
<rect x="536.8" y="75" width="2.2" height="20.9" fill="#FFE9E9"/>
<rect x="538.4" y="75" width="1.63" height="20.9" fill="#FFEEEE"/>
<rect x="539.43" y="75" width="1.37" height="20.9" fill="#FFE6E6"/>
<rect x="540.8" y="75" width="1.2" height="20.9" fill="#FBFBFF"/>
<rect x="542" y="75" width="2.36" height="20.9" fill="#1C1CFF"/>
<rect x="543.76" y="75" width="2.35" height="20.9" fill="#1B1BFF"/>
<rect x="545.51" y="75" width="1.59" height="20.9" fill="#1515FF"/>
<rect x="546.8" y="75" width="0.3" height="20.9" fill="#1515FF"/>
<rect x="547.1" y="75" width="2.43" height="20.9" fill="#9999FF"/>
<rect x="548.93" y="75" width="2.45" height="20.9" fill="#9595FF"/>
<rect x="550.78" y="75" width="1.88" height="20.9" fill="#9696FF"/>
<rect x="552.06" y="75" width="2.86" height="20.9" fill="#9E9EFF"/>
<rect x="554.32" y="75" width="1.48" height="20.9" fill="#9595FF"/>
<rect x="555.8" y="75" width="1.69" height="20.9" fill="#C4C4FF"/>
<rect x="556.89" y="75" width="1.21" height="20.9" fill="#C2C2FF"/>
<rect x="558.1" y="75" width="2.09" height="20.9" fill="#A0A0FF"/>
<rect x="559.59" y="75" width="0.81" height="20.9" fill="#A0A0FF"/>
<rect x="560.4" y="75" width="2.3" height="20.9" fill="#CCCCFF"/>
<rect x="562.3" y="75" width="0.4" height="20.9" fill="#D5D5FF"/>
<rect x="562.7" y="75" width="1.87" height="20.9" fill="#C6C6FF"/>
<rect x="563.97" y="75" width="2.71" height="20.9" fill="#C6C6FF"/>
<rect x="566.08" y="75" width="1.72" height="20.9" fill="#C3C3FF"/>
<rect x="567.37" y="75" width="0.43" height="20.9" fill="#C2C2FF"/>
<rect x="393" y="95.9" width="2.94" height="20.9" fill="#FF0000"/>
<rect x="395.34" y="95.9" width="2.66" height="20.9" fill="#FF0000"/>
<rect x="397.4" y="95.9" width="2.54" height="20.9" fill="#FF0101"/>
<rect x="399.34" y="95.9" width="2.5" height="20.9" fill="#FF0000"/>
<rect x="401.24" y="95.9" width="3.07" height="20.9" fill="#FF0000"/>
<rect x="403.71" y="95.9" width="1.99" height="20.9" fill="#FF0000"/>
<rect x="405.1" y="95.9" width="2.72" height="20.9" fill="#FF0000"/>
<rect x="407.22" y="95.9" width="2.82" height="20.9" fill="#FF0101"/>
<rect x="409.44" y="95.9" width="2.94" height="20.9" fill="#FF0000"/>
<rect x="411.79" y="95.9" width="2.64" height="20.9" fill="#FF0000"/>
<rect x="413.83" y="95.9" width="2.75" height="20.9" fill="#FF0101"/>
<rect x="415.98" y="95.9" width="2.68" height="20.9" fill="#FF0404"/>
<rect x="418.06" y="95.9" width="2.11" height="20.9" fill="#FF0000"/>
<rect x="419.57" y="95.9" width="1.62" height="20.9" fill="#FF0101"/>
<rect x="420.59" y="95.9" width="2.56" height="20.9" fill="#FF0000"/>
<rect x="422.55" y="95.9" width="1.95" height="20.9" fill="#FF0000"/>
<rect x="423.89" y="95.9" width="2.6" height="20.9" fill="#FF0202"/>
<rect x="425.89" y="95.9" width="2.59" height="20.9" fill="#FF0000"/>
<rect x="427.88" y="95.9" width="2.4" height="20.9" fill="#FF0101"/>
<rect x="429.68" y="95.9" width="3.1" height="20.9" fill="#FF0000"/>
<rect x="432.18" y="95.9" width="2.65" height="20.9" fill="#FF0000"/>
<rect x="434.23" y="95.9" width="3.07" height="20.9" fill="#FF0505"/>
<rect x="436.7" y="95.9" width="2.52" height="20.9" fill="#FF0000"/>
<rect x="438.63" y="95.9" width="1.98" height="20.9" fill="#FF0101"/>
<rect x="440.01" y="95.9" width="1.68" height="20.9" fill="#FF0303"/>
<rect x="441.09" y="95.9" width="2.16" height="20.9" fill="#FF0404"/>
<rect x="442.65" y="95.9" width="1.98" height="20.9" fill="#FF0000"/>
<rect x="444.03" y="95.9" width="2.43" height="20.9" fill="#FF0000"/>
<rect x="445.85" y="95.9" width="3.05" height="20.9" fill="#FF0000"/>
<rect x="448.3" y="95.9" width="3.09" height="20.9" fill="#FF0000"/>
<rect x="450.8" y="95.9" width="2.81" height="20.9" fill="#FF0404"/>
<rect x="453.01" y="95.9" width="0.99" height="20.9" fill="#FF0000"/>
<rect x="454" y="95.9" width="1.67" height="20.9" fill="#EFEFFF"/>
<rect x="455.07" y="95.9" width="1.83" height="20.9" fill="#EAEAFF"/>
<rect x="456.31" y="95.9" width="0.59" height="20.9" fill="#EBEBFF"/>
<rect x="456.9" y="95.9" width="2.52" height="20.9" fill="#D4D4FF"/>
<rect x="458.82" y="95.9" width="3.02" height="20.9" fill="#D8D8FF"/>
<rect x="461.23" y="95.9" width="2.39" height="20.9" fill="#DADAFF"/>
<rect x="463.02" y="95.9" width="2.15" height="20.9" fill="#D7D7FF"/>
<rect x="464.57" y="95.9" width="2.58" height="20.9" fill="#D9D9FF"/>
<rect x="466.56" y="95.9" width="0.74" height="20.9" fill="#DBDBFF"/>
<rect x="467.3" y="95.9" width="1.2" height="20.9" fill="#F5F5FF"/>
<rect x="468.5" y="95.9" width="1.97" height="20.9" fill="#DCDCFF"/>
<rect x="469.87" y="95.9" width="1.83" height="20.9" fill="#E3E3FF"/>
<rect x="471.1" y="95.9" width="2.18" height="20.9" fill="#E4E4FF"/>
<rect x="472.69" y="95.9" width="2.72" height="20.9" fill="#DCDCFF"/>
<rect x="474.81" y="95.9" width="3.08" height="20.9" fill="#E5E5FF"/>
<rect x="477.29" y="95.9" width="1.71" height="20.9" fill="#E5E5FF"/>
<rect x="478.4" y="95.9" width="1.6" height="20.9" fill="#E0E0FF"/>
<rect x="480" y="95.9" width="3.06" height="20.9" fill="#CECEFF"/>
<rect x="482.46" y="95.9" width="2.39" height="20.9" fill="#D6D6FF"/>
<rect x="484.24" y="95.9" width="2.68" height="20.9" fill="#D1D1FF"/>
<rect x="486.33" y="95.9" width="3.07" height="20.9" fill="#D4D4FF"/>
<rect x="488.8" y="95.9" width="1" height="20.9" fill="#CDCDFF"/>
<rect x="489.8" y="95.9" width="2.54" height="20.9" fill="#BCBCFF"/>
<rect x="491.74" y="95.9" width="1.91" height="20.9" fill="#B8B8FF"/>
<rect x="493.04" y="95.9" width="2.39" height="20.9" fill="#B9B9FF"/>
<rect x="494.83" y="95.9" width="2.26" height="20.9" fill="#BEBEFF"/>
<rect x="496.5" y="95.9" width="2.28" height="20.9" fill="#BABAFF"/>
<rect x="498.18" y="95.9" width="2.47" height="20.9" fill="#BCBCFF"/>
<rect x="500.05" y="95.9" width="0.75" height="20.9" fill="#BDBDFF"/>
<rect x="500.8" y="95.9" width="3.1" height="20.9" fill="#AFAFFF"/>
<rect x="503.3" y="95.9" width="2.7" height="20.9" fill="#A8A8FF"/>
<rect x="505.4" y="95.9" width="1.77" height="20.9" fill="#AFAFFF"/>
<rect x="506.57" y="95.9" width="2.78" height="20.9" fill="#ACACFF"/>
<rect x="508.75" y="95.9" width="2.05" height="20.9" fill="#A9A9FF"/>
<rect x="510.28" y="95.9" width="0.52" height="20.9" fill="#ACACFF"/>
<rect x="510.8" y="95.9" width="1.1" height="20.9" fill="#3939FF"/>
<rect x="511.9" y="95.9" width="2.73" height="20.9" fill="#5656FF"/>
<rect x="514.03" y="95.9" width="1.97" height="20.9" fill="#5E5EFF"/>
<rect x="515.4" y="95.9" width="2.97" height="20.9" fill="#5D5DFF"/>
<rect x="517.78" y="95.9" width="1.12" height="20.9" fill="#5555FF"/>
<rect x="518.84" y="95.9" width="0.06" height="20.9" fill="#5858FF"/>
<rect x="518.9" y="95.9" width="2.54" height="20.9" fill="#6C6CFF"/>
<rect x="520.84" y="95.9" width="1.46" height="20.9" fill="#6C6CFF"/>
<rect x="522.3" y="95.9" width="1.73" height="20.9" fill="#5151FF"/>
<rect x="523.43" y="95.9" width="2.43" height="20.9" fill="#5050FF"/>
<rect x="525.26" y="95.9" width="2.16" height="20.9" fill="#4F4FFF"/>
<rect x="526.82" y="95.9" width="0.68" height="20.9" fill="#4D4DFF"/>
<rect x="527.5" y="95.9" width="1.7" height="20.9" fill="#9292FF"/>
<rect x="529.2" y="95.9" width="1.71" height="20.9" fill="#5353FF"/>
<rect x="530.31" y="95.9" width="2.81" height="20.9" fill="#5858FF"/>
<rect x="532.53" y="95.9" width="2.75" height="20.9" fill="#5454FF"/>
<rect x="534.68" y="95.9" width="2.24" height="20.9" fill="#5454FF"/>
<rect x="536.31" y="95.9" width="2.81" height="20.9" fill="#5555FF"/>
<rect x="538.53" y="95.9" width="2.27" height="20.9" fill="#5C5CFF"/>
<rect x="540.51" y="95.9" width="0.29" height="20.9" fill="#5757FF"/>
<rect x="540.8" y="95.9" width="2.3" height="20.9" fill="#8484FF"/>
<rect x="542.92" y="95.9" width="0.18" height="20.9" fill="#7E7EFF"/>
<rect x="543.1" y="95.9" width="1.75" height="20.9" fill="#DDDDFF"/>
<rect x="544.25" y="95.9" width="1.72" height="20.9" fill="#D4D4FF"/>
<rect x="545.36" y="95.9" width="2.34" height="20.9" fill="#D9D9FF"/>
<rect x="547.21" y="95.9" width="0.49" height="20.9" fill="#D7D7FF"/>
<rect x="547.7" y="95.9" width="2.76" height="20.9" fill="#9595FF"/>
<rect x="549.86" y="95.9" width="1.34" height="20.9" fill="#9B9BFF"/>
<rect x="551.18" y="95.9" width="0.02" height="20.9" fill="#9797FF"/>
<rect x="551.2" y="95.9" width="2.69" height="20.9" fill="#6B6BFF"/>
<rect x="553.29" y="95.9" width="2.02" height="20.9" fill="#6565FF"/>
<rect x="554.71" y="95.9" width="1.09" height="20.9" fill="#6B6BFF"/>
<rect x="555.8" y="95.9" width="2.15" height="20.9" fill="#7474FF"/>
<rect x="557.35" y="95.9" width="2.66" height="20.9" fill="#7979FF"/>
<rect x="559.41" y="95.9" width="2.19" height="20.9" fill="#7C7CFF"/>
<rect x="561.6" y="95.9" width="2.97" height="20.9" fill="#4747FF"/>
<rect x="563.97" y="95.9" width="2.8" height="20.9" fill="#4545FF"/>
<rect x="566.17" y="95.9" width="1.63" height="20.9" fill="#4646FF"/>
<rect x="567.65" y="95.9" width="0.15" height="20.9" fill="#4B4BFF"/>
<rect x="393" y="116.8" width="1.97" height="20.5" fill="#4646FF"/>
<rect x="394.37" y="116.8" width="0.83" height="20.5" fill="#4646FF"/>
<rect x="395.2" y="116.8" width="2.19" height="20.5" fill="#6F6FFF"/>
<rect x="396.79" y="116.8" width="1.89" height="20.5" fill="#7171FF"/>
<rect x="398.09" y="116.8" width="0.61" height="20.5" fill="#7171FF"/>
<rect x="398.7" y="116.8" width="2.3" height="20.5" fill="#5050FF"/>
<rect x="400.95" y="116.8" width="0.05" height="20.5" fill="#5252FF"/>
<rect x="401" y="116.8" width="1.7" height="20.5" fill="#7D7DFF"/>
<rect x="402.7" y="116.8" width="1.63" height="20.5" fill="#6161FF"/>
<rect x="403.73" y="116.8" width="1.27" height="20.5" fill="#6262FF"/>
<rect x="405" y="116.8" width="2.3" height="20.5" fill="#8989FF"/>
<rect x="407.3" y="116.8" width="2.4" height="20.5" fill="#6C6CFF"/>
<rect x="409.51" y="116.8" width="0.19" height="20.5" fill="#7373FF"/>
<rect x="409.7" y="116.8" width="1.73" height="20.5" fill="#4B4BFF"/>
<rect x="410.83" y="116.8" width="2.71" height="20.5" fill="#5353FF"/>
<rect x="412.93" y="116.8" width="1.73" height="20.5" fill="#5050FF"/>
<rect x="414.06" y="116.8" width="1.82" height="20.5" fill="#5252FF"/>
<rect x="415.27" y="116.8" width="2.57" height="20.5" fill="#4C4CFF"/>
<rect x="417.25" y="116.8" width="1.93" height="20.5" fill="#5252FF"/>
<rect x="418.58" y="116.8" width="2.38" height="20.5" fill="#5252FF"/>
<rect x="420.36" y="116.8" width="2.19" height="20.5" fill="#4D4DFF"/>
<rect x="421.95" y="116.8" width="2.15" height="20.5" fill="#5151FF"/>
<rect x="424.1" y="116.8" width="2.34" height="20.5" fill="#A1A1FF"/>
<rect x="425.84" y="116.8" width="2.68" height="20.5" fill="#A3A3FF"/>
<rect x="427.92" y="116.8" width="2.97" height="20.5" fill="#A0A0FF"/>
<rect x="430.29" y="116.8" width="1.91" height="20.5" fill="#A2A2FF"/>
<rect x="432.2" y="116.8" width="2.88" height="20.5" fill="#7B7BFF"/>
<rect x="434.48" y="116.8" width="2.85" height="20.5" fill="#7C7CFF"/>
<rect x="436.73" y="116.8" width="3.04" height="20.5" fill="#7979FF"/>
<rect x="439.17" y="116.8" width="2.39" height="20.5" fill="#7A7AFF"/>
<rect x="440.95" y="116.8" width="1.65" height="20.5" fill="#7777FF"/>
<rect x="442.6" y="116.8" width="2.23" height="20.5" fill="#7C7CFF"/>
<rect x="444.23" y="116.8" width="2.71" height="20.5" fill="#8585FF"/>
<rect x="446.34" y="116.8" width="2.16" height="20.5" fill="#7C7CFF"/>
<rect x="447.91" y="116.8" width="1.91" height="20.5" fill="#7F7FFF"/>
<rect x="449.21" y="116.8" width="2.04" height="20.5" fill="#8484FF"/>
<rect x="450.65" y="116.8" width="1.69" height="20.5" fill="#7E7EFF"/>
<rect x="451.74" y="116.8" width="1.77" height="20.5" fill="#8181FF"/>
<rect x="452.91" y="116.8" width="1.09" height="20.5" fill="#7C7CFF"/>
<rect x="454" y="116.8" width="1.69" height="20.5" fill="#3F3FFF"/>
<rect x="455.09" y="116.8" width="1.81" height="20.5" fill="#4444FF"/>
<rect x="456.9" y="116.8" width="1.65" height="20.5" fill="#0404FF"/>
<rect x="457.95" y="116.8" width="1.88" height="20.5" fill="#0505FF"/>
<rect x="459.23" y="116.8" width="1.77" height="20.5" fill="#0A0AFF"/>
<rect x="460.58" y="116.8" width="0.42" height="20.5" fill="#0505FF"/>
<rect x="461" y="116.8" width="1.88" height="20.5" fill="#4D4DFF"/>
<rect x="462.28" y="116.8" width="1.86" height="20.5" fill="#5252FF"/>
<rect x="463.54" y="116.8" width="2.07" height="20.5" fill="#5050FF"/>
<rect x="465" y="116.8" width="1.2" height="20.5" fill="#4F4FFF"/>
<rect x="466.2" y="116.8" width="1.99" height="20.5" fill="#1B1BFF"/>
<rect x="467.59" y="116.8" width="2.97" height="20.5" fill="#1515FF"/>
<rect x="469.96" y="116.8" width="2.42" height="20.5" fill="#1C1CFF"/>
<rect x="471.78" y="116.8" width="2.32" height="20.5" fill="#1414FF"/>
<rect x="473.51" y="116.8" width="1.67" height="20.5" fill="#1C1CFF"/>
<rect x="474.58" y="116.8" width="2.8" height="20.5" fill="#1616FF"/>
<rect x="476.78" y="116.8" width="2.39" height="20.5" fill="#1717FF"/>
<rect x="478.58" y="116.8" width="2.01" height="20.5" fill="#1C1CFF"/>
<rect x="479.99" y="116.8" width="1.21" height="20.5" fill="#1414FF"/>
<rect x="481.2" y="116.8" width="1.62" height="20.5" fill="#4F4FFF"/>
<rect x="482.22" y="116.8" width="2.16" height="20.5" fill="#5252FF"/>
<rect x="483.77" y="116.8" width="0.83" height="20.5" fill="#5050FF"/>
<rect x="484.6" y="116.8" width="1.84" height="20.5" fill="#1E1EFF"/>
<rect x="485.84" y="116.8" width="2.08" height="20.5" fill="#1F1FFF"/>
<rect x="487.32" y="116.8" width="2.9" height="20.5" fill="#2121FF"/>
<rect x="489.62" y="116.8" width="1.98" height="20.5" fill="#2626FF"/>
<rect x="491.58" y="116.8" width="0.02" height="20.5" fill="#2222FF"/>
<rect x="491.6" y="116.8" width="1.83" height="20.5" fill="#4A4AFF"/>
<rect x="492.83" y="116.8" width="1.07" height="20.5" fill="#4B4BFF"/>
<rect x="493.83" y="116.8" width="0.07" height="20.5" fill="#4B4BFF"/>
<rect x="493.9" y="116.8" width="1.72" height="20.5" fill="#0D0DFF"/>
<rect x="495.02" y="116.8" width="1.18" height="20.5" fill="#0B0BFF"/>
<rect x="496.2" y="116.8" width="2.32" height="20.5" fill="#3030FF"/>
<rect x="497.92" y="116.8" width="2.88" height="20.5" fill="#3131FF"/>
<rect x="500.35" y="116.8" width="0.45" height="20.5" fill="#2E2EFF"/>
<rect x="500.8" y="116.8" width="2.78" height="20.5" fill="#FF0101"/>
<rect x="502.98" y="116.8" width="2.98" height="20.5" fill="#FF0404"/>
<rect x="505.36" y="116.8" width="2.84" height="20.5" fill="#FF0303"/>
<rect x="507.6" y="116.8" width="2.42" height="20.5" fill="#FF0000"/>
<rect x="509.41" y="116.8" width="1.39" height="20.5" fill="#FF0000"/>
<rect x="510.65" y="116.8" width="0.15" height="20.5" fill="#FF0202"/>
<rect x="510.8" y="116.8" width="1.71" height="20.5" fill="#F8F8FF"/>
<rect x="511.91" y="116.8" width="1.19" height="20.5" fill="#FCFCFF"/>
<rect x="513.1" y="116.8" width="2.14" height="20.5" fill="#A3A3FF"/>
<rect x="514.64" y="116.8" width="1.76" height="20.5" fill="#A0A0FF"/>
<rect x="515.8" y="116.8" width="2.29" height="20.5" fill="#A5A5FF"/>
<rect x="517.49" y="116.8" width="1.41" height="20.5" fill="#A2A2FF"/>
<rect x="518.9" y="116.8" width="1.62" height="20.5" fill="#B6B6FF"/>
<rect x="519.92" y="116.8" width="2.38" height="20.5" fill="#B5B5FF"/>
<rect x="521.98" y="116.8" width="0.32" height="20.5" fill="#B7B7FF"/>
<rect x="522.3" y="116.8" width="1.62" height="20.5" fill="#ADADFF"/>
<rect x="523.32" y="116.8" width="2.8" height="20.5" fill="#A5A5FF"/>
<rect x="525.51" y="116.8" width="2.52" height="20.5" fill="#A6A6FF"/>
<rect x="527.44" y="116.8" width="0.66" height="20.5" fill="#A9A9FF"/>
<rect x="528.1" y="116.8" width="2.05" height="20.5" fill="#7676FF"/>
<rect x="529.55" y="116.8" width="2.19" height="20.5" fill="#7A7AFF"/>
<rect x="531.14" y="116.8" width="1.98" height="20.5" fill="#7575FF"/>
<rect x="532.52" y="116.8" width="1.38" height="20.5" fill="#7676FF"/>
<rect x="533.9" y="116.8" width="2.9" height="20.5" fill="#8D8DFF"/>
<rect x="536.32" y="116.8" width="0.48" height="20.5" fill="#8B8BFF"/>
<rect x="536.8" y="116.8" width="2.84" height="20.5" fill="#6464FF"/>
<rect x="539.04" y="116.8" width="1.76" height="20.5" fill="#6464FF"/>
<rect x="540.25" y="116.8" width="0.55" height="20.5" fill="#6B6BFF"/>
<rect x="540.8" y="116.8" width="1.87" height="20.5" fill="#EAEAFF"/>
<rect x="542.07" y="116.8" width="1.03" height="20.5" fill="#ECECFF"/>
<rect x="543.1" y="116.8" width="1.7" height="20.5" fill="#FFE3E3"/>
<rect x="544.24" y="116.8" width="0.56" height="20.5" fill="#FFE4E4"/>
<rect x="544.8" y="116.8" width="2.21" height="20.5" fill="#EEEEFF"/>
<rect x="546.41" y="116.8" width="1.29" height="20.5" fill="#F2F2FF"/>
<rect x="547.7" y="116.8" width="2.3" height="20.5" fill="#C8C8FF"/>
<rect x="549.47" y="116.8" width="0.53" height="20.5" fill="#CACAFF"/>
<rect x="550" y="116.8" width="2.18" height="20.5" fill="#D7D7FF"/>
<rect x="551.58" y="116.8" width="2.22" height="20.5" fill="#D4D4FF"/>
<rect x="553.2" y="116.8" width="2.2" height="20.5" fill="#DBDBFF"/>
<rect x="554.8" y="116.8" width="1" height="20.5" fill="#DCDCFF"/>
<rect x="555.8" y="116.8" width="2.59" height="20.5" fill="#A9A9FF"/>
<rect x="557.79" y="116.8" width="1.51" height="20.5" fill="#A7A7FF"/>
<rect x="558.82" y="116.8" width="0.48" height="20.5" fill="#AAAAFF"/>
<rect x="559.3" y="116.8" width="1.76" height="20.5" fill="#F4F4FF"/>
<rect x="560.46" y="116.8" width="2.24" height="20.5" fill="#F8F8FF"/>
<rect x="562.22" y="116.8" width="0.48" height="20.5" fill="#F6F6FF"/>
<rect x="562.7" y="116.8" width="1.84" height="20.5" fill="#D4D4FF"/>
<rect x="563.94" y="116.8" width="2.95" height="20.5" fill="#D2D2FF"/>
<rect x="566.29" y="116.8" width="1.51" height="20.5" fill="#D1D1FF"/>
<text x="572" y="70.8" font-size="16" text-anchor="start" fill="#000" color="#000">MC-LB late</text>
<text x="572" y="91.2" font-size="16" text-anchor="start" fill="#000" color="#000">MC-LB early</text>
<text x="572" y="112.4" font-size="16" text-anchor="start" fill="#000" color="#000">MC-2D</text>
<text x="572" y="133.8" font-size="16" text-anchor="start" fill="#000" color="#000" textLength="85.0" lengthAdjust="spacingAndGlyphs">Fetal stellate</text>
<line x1="393.4" y1="422.8" x2="567.4" y2="422.8" stroke="#222" stroke-width="1.3"/>
<path d="M422.4 422.8L422.4 400.5L511.7 400.5L511.7 407.6M481.7 422.8L481.7 407.6L541.7 407.6L541.7 422.8M537 422.8L537 421.3L552 421.3L552 422.8M455 422.8L455 421.6L470 421.6L470 422.8" fill="none" stroke="#222" stroke-width="1.1"/>
<rect x="393.4" y="427.6" width="83.8" height="12.2" fill="#008B00"/>
<rect x="477.2" y="427.6" width="27.1" height="12.2" fill="#F00000"/>
<rect x="504.3" y="427.6" width="63.1" height="12.2" fill="#4EEE94"/>
<line x1="404.3" y1="427.6" x2="404.3" y2="439.8" stroke="#7FD07F" stroke-width="0.7"/>
<line x1="446.2" y1="427.6" x2="446.2" y2="439.8" stroke="#7FD07F" stroke-width="0.7"/>
<line x1="477.3" y1="427.6" x2="477.3" y2="439.8" stroke="#E8F0E8" stroke-width="0.6"/>
<line x1="505.5" y1="427.6" x2="505.5" y2="439.8" stroke="#74F2AC" stroke-width="0.5"/>
<line x1="507.25" y1="427.6" x2="507.25" y2="439.8" stroke="#74F2AC" stroke-width="0.5"/>
<line x1="509" y1="427.6" x2="509" y2="439.8" stroke="#74F2AC" stroke-width="0.5"/>
<line x1="510.75" y1="427.6" x2="510.75" y2="439.8" stroke="#74F2AC" stroke-width="0.5"/>
<line x1="512.5" y1="427.6" x2="512.5" y2="439.8" stroke="#74F2AC" stroke-width="0.5"/>
<line x1="514.25" y1="427.6" x2="514.25" y2="439.8" stroke="#74F2AC" stroke-width="0.5"/>
<line x1="516" y1="427.6" x2="516" y2="439.8" stroke="#74F2AC" stroke-width="0.5"/>
<line x1="517.75" y1="427.6" x2="517.75" y2="439.8" stroke="#74F2AC" stroke-width="0.5"/>
<line x1="519.5" y1="427.6" x2="519.5" y2="439.8" stroke="#74F2AC" stroke-width="0.5"/>
<line x1="521.25" y1="427.6" x2="521.25" y2="439.8" stroke="#74F2AC" stroke-width="0.5"/>
<line x1="523" y1="427.6" x2="523" y2="439.8" stroke="#74F2AC" stroke-width="0.5"/>
<line x1="524.75" y1="427.6" x2="524.75" y2="439.8" stroke="#74F2AC" stroke-width="0.5"/>
<line x1="526.5" y1="427.6" x2="526.5" y2="439.8" stroke="#74F2AC" stroke-width="0.5"/>
<line x1="528.25" y1="427.6" x2="528.25" y2="439.8" stroke="#74F2AC" stroke-width="0.5"/>
<line x1="530" y1="427.6" x2="530" y2="439.8" stroke="#74F2AC" stroke-width="0.5"/>
<line x1="531.75" y1="427.6" x2="531.75" y2="439.8" stroke="#74F2AC" stroke-width="0.5"/>
<line x1="533.5" y1="427.6" x2="533.5" y2="439.8" stroke="#74F2AC" stroke-width="0.5"/>
<line x1="535.25" y1="427.6" x2="535.25" y2="439.8" stroke="#74F2AC" stroke-width="0.5"/>
<line x1="537" y1="427.6" x2="537" y2="439.8" stroke="#74F2AC" stroke-width="0.5"/>
<line x1="538.75" y1="427.6" x2="538.75" y2="439.8" stroke="#74F2AC" stroke-width="0.5"/>
<line x1="540.5" y1="427.6" x2="540.5" y2="439.8" stroke="#74F2AC" stroke-width="0.5"/>
<line x1="542.25" y1="427.6" x2="542.25" y2="439.8" stroke="#74F2AC" stroke-width="0.5"/>
<line x1="544" y1="427.6" x2="544" y2="439.8" stroke="#74F2AC" stroke-width="0.5"/>
<line x1="545.75" y1="427.6" x2="545.75" y2="439.8" stroke="#74F2AC" stroke-width="0.5"/>
<line x1="547.5" y1="427.6" x2="547.5" y2="439.8" stroke="#74F2AC" stroke-width="0.5"/>
<line x1="549.25" y1="427.6" x2="549.25" y2="439.8" stroke="#74F2AC" stroke-width="0.5"/>
<line x1="551" y1="427.6" x2="551" y2="439.8" stroke="#74F2AC" stroke-width="0.5"/>
<line x1="552.75" y1="427.6" x2="552.75" y2="439.8" stroke="#74F2AC" stroke-width="0.5"/>
<line x1="554.5" y1="427.6" x2="554.5" y2="439.8" stroke="#74F2AC" stroke-width="0.5"/>
<line x1="556.25" y1="427.6" x2="556.25" y2="439.8" stroke="#74F2AC" stroke-width="0.5"/>
<line x1="558" y1="427.6" x2="558" y2="439.8" stroke="#74F2AC" stroke-width="0.5"/>
<line x1="559.75" y1="427.6" x2="559.75" y2="439.8" stroke="#74F2AC" stroke-width="0.5"/>
<line x1="561.5" y1="427.6" x2="561.5" y2="439.8" stroke="#74F2AC" stroke-width="0.5"/>
<line x1="563.25" y1="427.6" x2="563.25" y2="439.8" stroke="#74F2AC" stroke-width="0.5"/>
<line x1="565" y1="427.6" x2="565" y2="439.8" stroke="#74F2AC" stroke-width="0.5"/>
<line x1="566.75" y1="427.6" x2="566.75" y2="439.8" stroke="#74F2AC" stroke-width="0.5"/>
<rect x="393.4" y="442.1" width="4.03" height="21.9" fill="#FF2020"/>
<rect x="396.83" y="442.1" width="6.56" height="21.9" fill="#FF2323"/>
<rect x="402.79" y="442.1" width="2.71" height="21.9" fill="#FF1F1F"/>
<rect x="405.5" y="442.1" width="9.39" height="21.9" fill="#FF0000"/>
<rect x="414.29" y="442.1" width="11.11" height="21.9" fill="#FF0404"/>
<rect x="424.8" y="442.1" width="8.93" height="21.9" fill="#FF0404"/>
<rect x="433.13" y="442.1" width="10.91" height="21.9" fill="#FF0202"/>
<rect x="443.44" y="442.1" width="9.92" height="21.9" fill="#FF0000"/>
<rect x="452.75" y="442.1" width="2.25" height="21.9" fill="#FF0303"/>
<rect x="455" y="442.1" width="3.97" height="21.9" fill="#FF1C1C"/>
<rect x="458.37" y="442.1" width="4.01" height="21.9" fill="#FF1E1E"/>
<rect x="461.78" y="442.1" width="5.23" height="21.9" fill="#FF2323"/>
<rect x="466.41" y="442.1" width="3.59" height="21.9" fill="#FF2727"/>
<rect x="470" y="442.1" width="4.51" height="21.9" fill="#FF0808"/>
<rect x="473.91" y="442.1" width="3.29" height="21.9" fill="#FF0C0C"/>
<rect x="477.2" y="442.1" width="2.85" height="21.9" fill="#2222FF"/>
<rect x="479.45" y="442.1" width="3.18" height="21.9" fill="#2424FF"/>
<rect x="482.02" y="442.1" width="3.08" height="21.9" fill="#1B1BFF"/>
<rect x="484.5" y="442.1" width="1.5" height="21.9" fill="#1111FF"/>
<rect x="486" y="442.1" width="2" height="21.9" fill="#4242FF"/>
<rect x="488" y="442.1" width="2.66" height="21.9" fill="#1111FF"/>
<rect x="490.06" y="442.1" width="4.57" height="21.9" fill="#2525FF"/>
<rect x="494.04" y="442.1" width="1.96" height="21.9" fill="#1515FF"/>
<rect x="496" y="442.1" width="2" height="21.9" fill="#5353FF"/>
<rect x="498" y="442.1" width="3.36" height="21.9" fill="#1717FF"/>
<rect x="500.76" y="442.1" width="3.54" height="21.9" fill="#0808FF"/>
<rect x="504.3" y="442.1" width="5.4" height="21.9" fill="#B2B2FF"/>
<rect x="509.1" y="442.1" width="5.17" height="21.9" fill="#B0B0FF"/>
<rect x="513.67" y="442.1" width="6.88" height="21.9" fill="#ACACFF"/>
<rect x="519.95" y="442.1" width="4.55" height="21.9" fill="#AEAEFF"/>
<rect x="524.5" y="442.1" width="1.5" height="21.9" fill="#7171FF"/>
<rect x="526" y="442.1" width="7.17" height="21.9" fill="#D2D2FF"/>
<rect x="532.57" y="442.1" width="7.28" height="21.9" fill="#D4D4FF"/>
<rect x="539.25" y="442.1" width="8.44" height="21.9" fill="#DDDDFF"/>
<rect x="547.09" y="442.1" width="0.91" height="21.9" fill="#D9D9FF"/>
<rect x="548" y="442.1" width="3.85" height="21.9" fill="#8A8AFF"/>
<rect x="551.25" y="442.1" width="4.12" height="21.9" fill="#8C8CFF"/>
<rect x="554.76" y="442.1" width="3.57" height="21.9" fill="#9494FF"/>
<rect x="557.74" y="442.1" width="3.26" height="21.9" fill="#8F8FFF"/>
<rect x="561" y="442.1" width="2.21" height="21.9" fill="#4444FF"/>
<rect x="562.61" y="442.1" width="2.45" height="21.9" fill="#5C5CFF"/>
<rect x="564.46" y="442.1" width="2.39" height="21.9" fill="#4949FF"/>
<rect x="566.25" y="442.1" width="1.15" height="21.9" fill="#5C5CFF"/>
<rect x="393.4" y="464" width="4.56" height="21.6" fill="#FFDDDD"/>
<rect x="397.36" y="464" width="5.78" height="21.6" fill="#FFD0D0"/>
<rect x="402.54" y="464" width="2.96" height="21.6" fill="#FFD5D5"/>
<rect x="405.5" y="464" width="11.61" height="21.6" fill="#FEFEFF"/>
<rect x="416.51" y="464" width="10.97" height="21.6" fill="#FDFDFF"/>
<rect x="426.88" y="464" width="9.1" height="21.6" fill="#FFFFFF"/>
<rect x="435.38" y="464" width="1.62" height="21.6" fill="#FEFEFF"/>
<rect x="437" y="464" width="1.5" height="21.6" fill="#CECEFF"/>
<rect x="438.5" y="464" width="10.7" height="21.6" fill="#FEFEFF"/>
<rect x="448.6" y="464" width="9.4" height="21.6" fill="#FEFEFF"/>
<rect x="457.83" y="464" width="0.17" height="21.6" fill="#FDFDFF"/>
<rect x="458" y="464" width="5" height="21.6" fill="#FFCACA"/>
<rect x="463" y="464" width="11.26" height="21.6" fill="#FFFDFD"/>
<rect x="473.66" y="464" width="3.54" height="21.6" fill="#FFFDFD"/>
<rect x="477.2" y="464" width="2.43" height="21.6" fill="#E8E8FF"/>
<rect x="479.03" y="464" width="2.95" height="21.6" fill="#EDEDFF"/>
<rect x="481.38" y="464" width="2.25" height="21.6" fill="#E9E9FF"/>
<rect x="483.03" y="464" width="2.29" height="21.6" fill="#E2E2FF"/>
<rect x="484.72" y="464" width="1.28" height="21.6" fill="#D1D1FF"/>
<rect x="486" y="464" width="2" height="21.6" fill="#9494FF"/>
<rect x="488" y="464" width="2.59" height="21.6" fill="#C7C7FF"/>
<rect x="489.99" y="464" width="3.44" height="21.6" fill="#E6E6FF"/>
<rect x="492.83" y="464" width="2.7" height="21.6" fill="#D3D3FF"/>
<rect x="494.93" y="464" width="2.98" height="21.6" fill="#C6C6FF"/>
<rect x="497.3" y="464" width="2.15" height="21.6" fill="#E9E9FF"/>
<rect x="498.85" y="464" width="2.56" height="21.6" fill="#D9D9FF"/>
<rect x="500.81" y="464" width="3.49" height="21.6" fill="#ECECFF"/>
<rect x="503.71" y="464" width="0.59" height="21.6" fill="#CDCDFF"/>
<rect x="504.3" y="464" width="63.1" height="21.6" fill="#FF0000"/>
<rect x="393.4" y="485.6" width="6.29" height="21.3" fill="#0A0AFF"/>
<rect x="399.09" y="485.6" width="6.11" height="21.3" fill="#0B0BFF"/>
<rect x="404.6" y="485.6" width="0.9" height="21.3" fill="#0909FF"/>
<rect x="405.5" y="485.6" width="11.88" height="21.3" fill="#2929FF"/>
<rect x="416.78" y="485.6" width="7.81" height="21.3" fill="#2525FF"/>
<rect x="423.99" y="485.6" width="7.75" height="21.3" fill="#2828FF"/>
<rect x="431.14" y="485.6" width="6.9" height="21.3" fill="#2020FF"/>
<rect x="437.44" y="485.6" width="10.95" height="21.3" fill="#2222FF"/>
<rect x="447.79" y="485.6" width="7.21" height="21.3" fill="#2727FF"/>
<rect x="455" y="485.6" width="4.74" height="21.3" fill="#0D0DFF"/>
<rect x="459.14" y="485.6" width="4.69" height="21.3" fill="#1D1DFF"/>
<rect x="463.23" y="485.6" width="3.94" height="21.3" fill="#0C0CFF"/>
<rect x="466.56" y="485.6" width="3.27" height="21.3" fill="#1010FF"/>
<rect x="469.23" y="485.6" width="4.73" height="21.3" fill="#0E0EFF"/>
<rect x="473.36" y="485.6" width="3.14" height="21.3" fill="#0F0FFF"/>
<rect x="475.91" y="485.6" width="1.29" height="21.3" fill="#1A1AFF"/>
<rect x="477.2" y="485.6" width="27.1" height="21.3" fill="#FF0000"/>
<rect x="504.3" y="485.6" width="6.25" height="21.3" fill="#5353FF"/>
<rect x="509.95" y="485.6" width="4.29" height="21.3" fill="#4E4EFF"/>
<rect x="513.64" y="485.6" width="6.38" height="21.3" fill="#5555FF"/>
<rect x="519.42" y="485.6" width="4.43" height="21.3" fill="#5454FF"/>
<rect x="523.25" y="485.6" width="1.75" height="21.3" fill="#5B5BFF"/>
<rect x="525" y="485.6" width="4.92" height="21.3" fill="#2424FF"/>
<rect x="529.32" y="485.6" width="5.19" height="21.3" fill="#1A1AFF"/>
<rect x="533.91" y="485.6" width="5.4" height="21.3" fill="#1F1FFF"/>
<rect x="538.71" y="485.6" width="4.35" height="21.3" fill="#2A2AFF"/>
<rect x="542.47" y="485.6" width="3.86" height="21.3" fill="#1F1FFF"/>
<rect x="545.73" y="485.6" width="2.27" height="21.3" fill="#1F1FFF"/>
<rect x="548" y="485.6" width="2.52" height="21.3" fill="#6E6EFF"/>
<rect x="549.92" y="485.6" width="2.38" height="21.3" fill="#7F7FFF"/>
<rect x="551.7" y="485.6" width="3.58" height="21.3" fill="#5353FF"/>
<rect x="554.68" y="485.6" width="2.79" height="21.3" fill="#7878FF"/>
<rect x="556.87" y="485.6" width="2.68" height="21.3" fill="#8181FF"/>
<rect x="558.95" y="485.6" width="2.05" height="21.3" fill="#5B5BFF"/>
<rect x="561" y="485.6" width="2.43" height="21.3" fill="#C0C0FF"/>
<rect x="562.83" y="485.6" width="2.14" height="21.3" fill="#C1C1FF"/>
<rect x="564.37" y="485.6" width="2.77" height="21.3" fill="#B9B9FF"/>
<rect x="566.55" y="485.6" width="0.85" height="21.3" fill="#CDCDFF"/>
<text x="572" y="458.65" font-size="16" text-anchor="start" fill="#000" color="#000">EC</text>
<text x="572" y="480.4" font-size="16" text-anchor="start" fill="#000" color="#000">EC-LB</text>
<text x="572" y="501.85" font-size="16" text-anchor="start" fill="#000" color="#000">Primary EC</text>
<circle cx="739.2" cy="62.67" r="1.9" fill="#4EEE94"/>
<circle cx="747.46" cy="25.83" r="1.9" fill="#4EEE94"/>
<circle cx="736.85" cy="52.83" r="1.9" fill="#4EEE94"/>
<circle cx="729" cy="72.9" r="1.9" fill="#4EEE94"/>
<circle cx="743.44" cy="28.55" r="1.9" fill="#4EEE94"/>
<circle cx="744.38" cy="27.33" r="1.9" fill="#4EEE94"/>
<circle cx="739.04" cy="26.62" r="1.9" fill="#4EEE94"/>
<circle cx="729.29" cy="75.54" r="1.9" fill="#4EEE94"/>
<circle cx="736.71" cy="58.92" r="1.9" fill="#4EEE94"/>
<circle cx="726.78" cy="74.34" r="1.9" fill="#4EEE94"/>
<circle cx="729.65" cy="54.54" r="1.9" fill="#4EEE94"/>
<circle cx="745.01" cy="47.37" r="1.9" fill="#4EEE94"/>
<circle cx="730.08" cy="47.4" r="1.9" fill="#4EEE94"/>
<circle cx="741.63" cy="22.54" r="1.9" fill="#4EEE94"/>
<circle cx="731.58" cy="53.1" r="1.9" fill="#4EEE94"/>
<circle cx="726.07" cy="75.17" r="1.9" fill="#4EEE94"/>
<circle cx="726.54" cy="63.49" r="1.9" fill="#4EEE94"/>
<circle cx="736.28" cy="64.65" r="1.9" fill="#4EEE94"/>
<circle cx="721.79" cy="74.62" r="1.9" fill="#4EEE94"/>
<circle cx="730.8" cy="73.36" r="1.9" fill="#4EEE94"/>
<circle cx="736.89" cy="37.51" r="1.9" fill="#4EEE94"/>
<circle cx="738.34" cy="67.62" r="1.9" fill="#4EEE94"/>
<circle cx="734.23" cy="43.91" r="1.9" fill="#4EEE94"/>
<circle cx="722.35" cy="72.88" r="1.9" fill="#4EEE94"/>
<circle cx="745.6" cy="26.85" r="1.9" fill="#4EEE94"/>
<circle cx="739.42" cy="65.38" r="1.9" fill="#4EEE94"/>
<circle cx="725.13" cy="68.7" r="1.9" fill="#4EEE94"/>
<circle cx="729.46" cy="45.75" r="1.9" fill="#4EEE94"/>
<circle cx="735.2" cy="61.95" r="1.9" fill="#4EEE94"/>
<circle cx="734.93" cy="36.25" r="1.9" fill="#4EEE94"/>
<circle cx="735.53" cy="39.03" r="1.9" fill="#4EEE94"/>
<circle cx="731.43" cy="65.26" r="1.9" fill="#4EEE94"/>
<circle cx="740.42" cy="63.71" r="1.9" fill="#4EEE94"/>
<circle cx="731.49" cy="60.48" r="1.9" fill="#4EEE94"/>
<circle cx="729.04" cy="47.66" r="1.9" fill="#4EEE94"/>
<circle cx="743.56" cy="59.69" r="1.9" fill="#4EEE94"/>
<circle cx="729.43" cy="74.61" r="1.9" fill="#4EEE94"/>
<circle cx="740" cy="53.23" r="1.9" fill="#4EEE94"/>
<circle cx="728.15" cy="58.56" r="1.9" fill="#4EEE94"/>
<circle cx="734.45" cy="67.06" r="1.9" fill="#4EEE94"/>
<circle cx="739.93" cy="65.94" r="1.9" fill="#4EEE94"/>
<circle cx="731.03" cy="56.94" r="1.9" fill="#4EEE94"/>
<circle cx="731.1" cy="68.59" r="1.9" fill="#4EEE94"/>
<circle cx="736.09" cy="50.22" r="1.9" fill="#4EEE94"/>
<circle cx="725.64" cy="68.23" r="1.9" fill="#4EEE94"/>
<circle cx="741.24" cy="61.37" r="1.9" fill="#4EEE94"/>
<circle cx="742.39" cy="29.27" r="1.9" fill="#4EEE94"/>
<circle cx="743.88" cy="53.24" r="1.9" fill="#4EEE94"/>
<circle cx="740.47" cy="43.86" r="1.9" fill="#4EEE94"/>
<circle cx="739.22" cy="64.6" r="1.9" fill="#4EEE94"/>
<circle cx="739.61" cy="61.42" r="1.9" fill="#4EEE94"/>
<circle cx="733.8" cy="57.3" r="1.9" fill="#4EEE94"/>
<circle cx="734.52" cy="41.49" r="1.9" fill="#4EEE94"/>
<circle cx="738.87" cy="53.78" r="1.9" fill="#4EEE94"/>
<circle cx="727.76" cy="72.13" r="1.9" fill="#4EEE94"/>
<circle cx="724.12" cy="67.92" r="1.9" fill="#4EEE94"/>
<circle cx="738.92" cy="24.76" r="1.9" fill="#4EEE94"/>
<circle cx="736.89" cy="39.09" r="1.9" fill="#4EEE94"/>
<circle cx="745.01" cy="43.76" r="1.9" fill="#4EEE94"/>
<circle cx="738.4" cy="52.24" r="1.9" fill="#4EEE94"/>
<circle cx="738.78" cy="39.78" r="1.9" fill="#4EEE94"/>
<circle cx="738.97" cy="27.45" r="1.9" fill="#4EEE94"/>
<circle cx="731.86" cy="44.5" r="1.9" fill="#4EEE94"/>
<circle cx="738.4" cy="34.43" r="1.9" fill="#4EEE94"/>
<circle cx="729.21" cy="47.15" r="1.9" fill="#4EEE94"/>
<circle cx="728.83" cy="74.01" r="1.9" fill="#4EEE94"/>
<circle cx="743.92" cy="33.6" r="1.9" fill="#4EEE94"/>
<circle cx="738.76" cy="47.01" r="1.9" fill="#4EEE94"/>
<circle cx="739.85" cy="54.59" r="1.9" fill="#4EEE94"/>
<circle cx="742.78" cy="26.13" r="1.9" fill="#4EEE94"/>
<circle cx="743.28" cy="36.82" r="1.9" fill="#4EEE94"/>
<circle cx="736.54" cy="38.9" r="1.9" fill="#4EEE94"/>
<circle cx="729.52" cy="50.25" r="1.9" fill="#4EEE94"/>
<circle cx="734.49" cy="40.36" r="1.9" fill="#4EEE94"/>
<circle cx="742.83" cy="53.82" r="1.9" fill="#4EEE94"/>
<circle cx="734.23" cy="72.91" r="1.9" fill="#4EEE94"/>
<circle cx="733.4" cy="52.93" r="1.9" fill="#4EEE94"/>
<circle cx="741.73" cy="56.25" r="1.9" fill="#4EEE94"/>
<circle cx="735.01" cy="72.63" r="1.9" fill="#4EEE94"/>
<circle cx="732.15" cy="42.16" r="1.9" fill="#4EEE94"/>
<circle cx="746" cy="30.71" r="1.9" fill="#4EEE94"/>
<circle cx="729.5" cy="67.84" r="1.9" fill="#4EEE94"/>
<circle cx="741.33" cy="44.56" r="1.9" fill="#4EEE94"/>
<circle cx="729.2" cy="64.95" r="1.9" fill="#4EEE94"/>
<circle cx="747.75" cy="27.56" r="1.9" fill="#4EEE94"/>
<circle cx="734.91" cy="51.38" r="1.9" fill="#4EEE94"/>
<circle cx="735.48" cy="38.58" r="1.9" fill="#4EEE94"/>
<circle cx="744.81" cy="23.21" r="1.9" fill="#4EEE94"/>
<circle cx="727.53" cy="67.23" r="1.9" fill="#4EEE94"/>
<circle cx="744.21" cy="58.09" r="1.9" fill="#4EEE94"/>
<circle cx="741.53" cy="22.07" r="1.9" fill="#4EEE94"/>
<circle cx="745.71" cy="32.05" r="1.9" fill="#4EEE94"/>
<circle cx="741.86" cy="27.09" r="1.9" fill="#4EEE94"/>
<circle cx="729.39" cy="72.99" r="1.9" fill="#4EEE94"/>
<circle cx="737.79" cy="62.7" r="1.9" fill="#4EEE94"/>
<circle cx="746.79" cy="27.07" r="1.9" fill="#4EEE94"/>
<circle cx="738.53" cy="47.89" r="1.9" fill="#4EEE94"/>
<circle cx="737.18" cy="55.58" r="1.9" fill="#4EEE94"/>
<circle cx="728.52" cy="51.53" r="1.9" fill="#4EEE94"/>
<circle cx="728.25" cy="63.18" r="1.9" fill="#4EEE94"/>
<circle cx="742.58" cy="29.71" r="1.9" fill="#4EEE94"/>
<circle cx="741.88" cy="57.58" r="1.9" fill="#4EEE94"/>
<circle cx="738.34" cy="33.18" r="1.9" fill="#4EEE94"/>
<circle cx="730.3" cy="65.87" r="1.9" fill="#4EEE94"/>
<circle cx="745.07" cy="27.39" r="1.9" fill="#4EEE94"/>
<circle cx="739.26" cy="39.96" r="1.9" fill="#4EEE94"/>
<circle cx="738.93" cy="39.63" r="1.9" fill="#4EEE94"/>
<circle cx="744.59" cy="44.6" r="1.9" fill="#4EEE94"/>
<circle cx="745.99" cy="49.52" r="1.9" fill="#4EEE94"/>
<circle cx="738.3" cy="52.79" r="1.9" fill="#4EEE94"/>
<circle cx="742.68" cy="42.38" r="1.9" fill="#4EEE94"/>
<circle cx="734.66" cy="71.34" r="1.9" fill="#4EEE94"/>
<circle cx="739.1" cy="44.32" r="1.9" fill="#4EEE94"/>
<circle cx="731.83" cy="41.8" r="1.9" fill="#4EEE94"/>
<circle cx="746.85" cy="28.11" r="1.9" fill="#4EEE94"/>
<circle cx="721.65" cy="73.38" r="1.9" fill="#4EEE94"/>
<circle cx="731.66" cy="74.16" r="1.9" fill="#4EEE94"/>
<circle cx="741.13" cy="58.69" r="1.9" fill="#4EEE94"/>
<circle cx="729.35" cy="58.72" r="1.9" fill="#4EEE94"/>
<circle cx="742.36" cy="28.77" r="1.9" fill="#4EEE94"/>
<circle cx="742.45" cy="61.27" r="1.9" fill="#4EEE94"/>
<circle cx="739.88" cy="44.44" r="1.9" fill="#4EEE94"/>
<circle cx="736.11" cy="39.71" r="1.9" fill="#4EEE94"/>
<circle cx="748.49" cy="22.35" r="1.9" fill="#4EEE94"/>
<circle cx="732.65" cy="50.33" r="1.9" fill="#4EEE94"/>
<circle cx="746.15" cy="31.76" r="1.9" fill="#4EEE94"/>
<circle cx="735.15" cy="52.69" r="1.9" fill="#4EEE94"/>
<circle cx="731.89" cy="55.83" r="1.9" fill="#4EEE94"/>
<circle cx="729.84" cy="45.51" r="1.9" fill="#4EEE94"/>
<circle cx="745.24" cy="32.32" r="1.9" fill="#4EEE94"/>
<circle cx="745.04" cy="37.53" r="1.9" fill="#4EEE94"/>
<circle cx="733.43" cy="53.01" r="1.9" fill="#4EEE94"/>
<circle cx="741.51" cy="22.01" r="1.9" fill="#4EEE94"/>
<circle cx="743.04" cy="51.79" r="1.9" fill="#4EEE94"/>
<circle cx="743.26" cy="52.88" r="1.9" fill="#4EEE94"/>
<circle cx="733.83" cy="67.06" r="1.9" fill="#4EEE94"/>
<circle cx="742.32" cy="60.29" r="1.9" fill="#4EEE94"/>
<circle cx="728.65" cy="66.79" r="1.9" fill="#4EEE94"/>
<circle cx="728.5" cy="58.81" r="1.9" fill="#4EEE94"/>
<circle cx="743.38" cy="51.85" r="1.9" fill="#4EEE94"/>
<circle cx="738.88" cy="32.74" r="1.9" fill="#4EEE94"/>
<circle cx="733.44" cy="40.44" r="1.9" fill="#4EEE94"/>
<circle cx="738.06" cy="67.66" r="1.9" fill="#4EEE94"/>
<circle cx="742.29" cy="24.78" r="1.9" fill="#4EEE94"/>
<circle cx="741.77" cy="45.35" r="1.9" fill="#4EEE94"/>
<circle cx="733.59" cy="45.07" r="1.9" fill="#4EEE94"/>
<circle cx="738.4" cy="25.27" r="1.9" fill="#4EEE94"/>
<circle cx="744.88" cy="43.78" r="1.9" fill="#4EEE94"/>
<circle cx="735.02" cy="70.87" r="1.9" fill="#4EEE94"/>
<circle cx="737.4" cy="40.12" r="1.9" fill="#4EEE94"/>
<circle cx="749.4" cy="65.5" r="1.75" fill="#4EEE94"/>
<circle cx="772.14" cy="81.79" r="1.9" fill="#4EEE94"/>
<circle cx="766.75" cy="81.86" r="1.9" fill="#4EEE94"/>
<circle cx="775.26" cy="87.48" r="1.9" fill="#4EEE94"/>
<circle cx="773.47" cy="85.37" r="1.9" fill="#4EEE94"/>
<circle cx="767.41" cy="80.86" r="1.9" fill="#4EEE94"/>
<circle cx="773.23" cy="84.16" r="1.9" fill="#4EEE94"/>
<circle cx="762.51" cy="81.11" r="1.9" fill="#4EEE94"/>
<circle cx="763.33" cy="86.32" r="1.9" fill="#4EEE94"/>
<circle cx="772.76" cy="82.58" r="1.9" fill="#4EEE94"/>
<circle cx="771.22" cy="87.7" r="1.9" fill="#4EEE94"/>
<circle cx="770.41" cy="87.1" r="1.9" fill="#4EEE94"/>
<circle cx="767.08" cy="79.6" r="1.9" fill="#4EEE94"/>
<circle cx="768.91" cy="85.07" r="1.9" fill="#4EEE94"/>
<circle cx="764.49" cy="83.2" r="1.9" fill="#4EEE94"/>
<circle cx="766.28" cy="79.76" r="1.9" fill="#4EEE94"/>
<circle cx="766.21" cy="83.14" r="1.9" fill="#4EEE94"/>
<circle cx="768.43" cy="86.18" r="1.9" fill="#4EEE94"/>
<circle cx="773.01" cy="88.28" r="1.9" fill="#4EEE94"/>
<circle cx="771.35" cy="85.87" r="1.9" fill="#4EEE94"/>
<circle cx="769.25" cy="87.09" r="1.9" fill="#4EEE94"/>
<circle cx="831.65" cy="28.52" r="1.9" fill="#B232D4"/>
<circle cx="811.49" cy="8.08" r="1.9" fill="#B232D4"/>
<circle cx="826.6" cy="39.44" r="1.9" fill="#B232D4"/>
<circle cx="835.42" cy="35.32" r="1.9" fill="#B232D4"/>
<circle cx="832.07" cy="43.06" r="1.9" fill="#B232D4"/>
<circle cx="834.67" cy="32.61" r="1.9" fill="#B232D4"/>
<circle cx="846.71" cy="29.52" r="1.9" fill="#B232D4"/>
<circle cx="816.9" cy="12.69" r="1.9" fill="#B232D4"/>
<circle cx="830.31" cy="45.88" r="1.9" fill="#B232D4"/>
<circle cx="843.42" cy="32.72" r="1.9" fill="#B232D4"/>
<circle cx="816.72" cy="9.51" r="1.9" fill="#B232D4"/>
<circle cx="832.13" cy="29.96" r="1.9" fill="#B232D4"/>
<circle cx="812.58" cy="16.81" r="1.9" fill="#B232D4"/>
<circle cx="828.73" cy="45.77" r="1.9" fill="#B232D4"/>
<circle cx="839.34" cy="44.91" r="1.9" fill="#B232D4"/>
<circle cx="818.7" cy="28.82" r="1.9" fill="#B232D4"/>
<circle cx="825.69" cy="32.26" r="1.9" fill="#B232D4"/>
<circle cx="806.38" cy="13.25" r="1.9" fill="#B232D4"/>
<circle cx="827.32" cy="34.23" r="1.9" fill="#B232D4"/>
<circle cx="832.2" cy="38.03" r="1.9" fill="#B232D4"/>
<circle cx="829.9" cy="47.13" r="1.9" fill="#B232D4"/>
<circle cx="839.88" cy="26.43" r="1.9" fill="#B232D4"/>
<circle cx="802.14" cy="13.4" r="1.9" fill="#B232D4"/>
<circle cx="804.99" cy="8.77" r="1.9" fill="#B232D4"/>
<circle cx="834.55" cy="42.05" r="1.9" fill="#B232D4"/>
<circle cx="837.99" cy="37.3" r="1.9" fill="#B232D4"/>
<circle cx="802.27" cy="9.23" r="1.9" fill="#B232D4"/>
<circle cx="800.29" cy="14" r="1.9" fill="#B232D4"/>
<circle cx="816.1" cy="25.6" r="1.9" fill="#B232D4"/>
<circle cx="831.71" cy="38.67" r="1.9" fill="#B232D4"/>
<circle cx="824.72" cy="21.76" r="1.9" fill="#B232D4"/>
<circle cx="822.27" cy="48.78" r="1.9" fill="#B232D4"/>
<circle cx="835.75" cy="37.68" r="1.9" fill="#B232D4"/>
<circle cx="812.09" cy="9.87" r="1.9" fill="#B232D4"/>
<circle cx="821.43" cy="20.79" r="1.9" fill="#B232D4"/>
<circle cx="816.49" cy="17.87" r="1.9" fill="#B232D4"/>
<circle cx="822.44" cy="36.56" r="1.9" fill="#B232D4"/>
<circle cx="837.24" cy="30.98" r="1.9" fill="#B232D4"/>
<circle cx="812.09" cy="20" r="1.9" fill="#B232D4"/>
<circle cx="840.25" cy="28.39" r="1.9" fill="#B232D4"/>
<circle cx="847.22" cy="29.4" r="1.9" fill="#B232D4"/>
<circle cx="820.37" cy="22.11" r="1.9" fill="#B232D4"/>
<circle cx="819.57" cy="26.21" r="1.9" fill="#B232D4"/>
<circle cx="801.35" cy="17.34" r="1.9" fill="#B232D4"/>
<circle cx="845.69" cy="36.11" r="1.9" fill="#B232D4"/>
<circle cx="817.03" cy="40.31" r="1.9" fill="#B232D4"/>
<circle cx="843.02" cy="34.18" r="1.9" fill="#B232D4"/>
<circle cx="818.08" cy="44.71" r="1.9" fill="#B232D4"/>
<circle cx="835.57" cy="45.52" r="1.9" fill="#B232D4"/>
<circle cx="818.53" cy="49.22" r="1.9" fill="#B232D4"/>
<circle cx="818.49" cy="16.96" r="1.9" fill="#B232D4"/>
<circle cx="820.96" cy="17.68" r="1.9" fill="#B232D4"/>
<circle cx="807.02" cy="5.35" r="1.9" fill="#B232D4"/>
<circle cx="816.02" cy="40.16" r="1.9" fill="#B232D4"/>
<circle cx="846.72" cy="36.79" r="1.9" fill="#B232D4"/>
<circle cx="801.59" cy="9.61" r="1.9" fill="#B232D4"/>
<circle cx="815.8" cy="26.47" r="1.9" fill="#B232D4"/>
<circle cx="821.54" cy="36.96" r="1.9" fill="#B232D4"/>
<circle cx="818.36" cy="27.69" r="1.9" fill="#B232D4"/>
<circle cx="828.14" cy="40.97" r="1.9" fill="#B232D4"/>
<circle cx="814.63" cy="5.48" r="1.9" fill="#B232D4"/>
<circle cx="812.18" cy="25.2" r="1.9" fill="#B232D4"/>
<circle cx="830.4" cy="47.04" r="1.9" fill="#B232D4"/>
<circle cx="812.39" cy="12.17" r="1.9" fill="#B232D4"/>
<circle cx="819.88" cy="38.37" r="1.9" fill="#B232D4"/>
<circle cx="823.97" cy="22.38" r="1.9" fill="#B232D4"/>
<circle cx="825.14" cy="42.66" r="1.9" fill="#B232D4"/>
<circle cx="822.21" cy="30.53" r="1.9" fill="#B232D4"/>
<circle cx="800.05" cy="8.54" r="1.9" fill="#B232D4"/>
<circle cx="814.45" cy="11.11" r="1.9" fill="#B232D4"/>
<circle cx="839.29" cy="33.28" r="1.9" fill="#B232D4"/>
<circle cx="809.53" cy="16.62" r="1.9" fill="#B232D4"/>
<circle cx="841.7" cy="24.68" r="1.9" fill="#B232D4"/>
<circle cx="804" cy="6.89" r="1.9" fill="#B232D4"/>
<circle cx="834.73" cy="30.32" r="1.9" fill="#B232D4"/>
<circle cx="839.03" cy="27.24" r="1.9" fill="#B232D4"/>
<circle cx="833.78" cy="32.62" r="1.9" fill="#B232D4"/>
<circle cx="801.73" cy="7.57" r="1.9" fill="#B232D4"/>
<circle cx="820.47" cy="34.35" r="1.9" fill="#B232D4"/>
<circle cx="842.5" cy="37.66" r="1.9" fill="#B232D4"/>
<circle cx="835.67" cy="28.22" r="1.9" fill="#B232D4"/>
<circle cx="843" cy="25.91" r="1.9" fill="#B232D4"/>
<circle cx="804.93" cy="14.45" r="1.9" fill="#B232D4"/>
<circle cx="807.47" cy="8.56" r="1.9" fill="#B232D4"/>
<circle cx="814.99" cy="8.14" r="1.9" fill="#B232D4"/>
<circle cx="826.24" cy="46.46" r="1.9" fill="#B232D4"/>
<circle cx="804.4" cy="16.82" r="1.9" fill="#B232D4"/>
<circle cx="822.18" cy="29.16" r="1.9" fill="#B232D4"/>
<circle cx="842.91" cy="30.04" r="1.9" fill="#B232D4"/>
<circle cx="837" cy="42.95" r="1.9" fill="#B232D4"/>
<circle cx="811.97" cy="9.46" r="1.9" fill="#B232D4"/>
<circle cx="810.22" cy="20.95" r="1.9" fill="#B232D4"/>
<circle cx="829.1" cy="33.97" r="1.9" fill="#B232D4"/>
<circle cx="840.06" cy="31.29" r="1.9" fill="#B232D4"/>
<circle cx="817.83" cy="19.65" r="1.9" fill="#B232D4"/>
<circle cx="801.89" cy="7.46" r="1.9" fill="#B232D4"/>
<circle cx="812.37" cy="12.79" r="1.9" fill="#B232D4"/>
<circle cx="845.11" cy="40.86" r="1.9" fill="#B232D4"/>
<circle cx="842.71" cy="27.79" r="1.9" fill="#B232D4"/>
<circle cx="808.54" cy="5.74" r="1.9" fill="#B232D4"/>
<circle cx="825.81" cy="17.84" r="1.9" fill="#B232D4"/>
<circle cx="847.35" cy="29.47" r="1.9" fill="#B232D4"/>
<circle cx="819.31" cy="17.02" r="1.9" fill="#B232D4"/>
<circle cx="818.82" cy="14.13" r="1.9" fill="#B232D4"/>
<circle cx="823.25" cy="46.74" r="1.9" fill="#B232D4"/>
<circle cx="838.36" cy="28.83" r="1.9" fill="#B232D4"/>
<circle cx="804.11" cy="6.96" r="1.9" fill="#B232D4"/>
<circle cx="844.89" cy="25.94" r="1.9" fill="#B232D4"/>
<circle cx="819.6" cy="46.71" r="1.9" fill="#B232D4"/>
<circle cx="826.27" cy="27.51" r="1.9" fill="#B232D4"/>
<circle cx="835.69" cy="32.32" r="1.9" fill="#B232D4"/>
<circle cx="803.84" cy="13.83" r="1.9" fill="#B232D4"/>
<circle cx="823.24" cy="110.08" r="1.9" fill="#EE0000"/>
<circle cx="809.15" cy="90.15" r="1.9" fill="#EE0000"/>
<circle cx="821.35" cy="114.63" r="1.9" fill="#EE0000"/>
<circle cx="812.12" cy="96.85" r="1.9" fill="#EE0000"/>
<circle cx="814.25" cy="105.21" r="1.9" fill="#EE0000"/>
<circle cx="821.84" cy="101.55" r="1.9" fill="#EE0000"/>
<circle cx="812.88" cy="96.05" r="1.9" fill="#EE0000"/>
<circle cx="816.34" cy="98.92" r="1.9" fill="#EE0000"/>
<circle cx="822.24" cy="111.07" r="1.9" fill="#EE0000"/>
<circle cx="827.21" cy="107.68" r="1.9" fill="#EE0000"/>
<circle cx="816.36" cy="113.94" r="1.9" fill="#EE0000"/>
<circle cx="822.76" cy="96.26" r="1.9" fill="#EE0000"/>
<circle cx="824.17" cy="102.13" r="1.9" fill="#EE0000"/>
<circle cx="823.66" cy="106.01" r="1.9" fill="#EE0000"/>
<circle cx="825.65" cy="111.59" r="1.9" fill="#EE0000"/>
<circle cx="819.23" cy="101.19" r="1.9" fill="#EE0000"/>
<circle cx="808.8" cy="91.39" r="1.9" fill="#EE0000"/>
<circle cx="822.14" cy="97.86" r="1.9" fill="#EE0000"/>
<circle cx="821.98" cy="92.33" r="1.9" fill="#EE0000"/>
<circle cx="822.28" cy="104.84" r="1.9" fill="#EE0000"/>
<circle cx="824.46" cy="102.08" r="1.9" fill="#EE0000"/>
<circle cx="816.72" cy="95.08" r="1.9" fill="#EE0000"/>
<circle cx="824.26" cy="97.43" r="1.9" fill="#EE0000"/>
<circle cx="820.78" cy="111.1" r="1.9" fill="#EE0000"/>
<circle cx="816.96" cy="108.56" r="1.9" fill="#EE0000"/>
<circle cx="807.34" cy="93.45" r="1.9" fill="#EE0000"/>
<circle cx="817.3" cy="99.76" r="1.9" fill="#EE0000"/>
<circle cx="825.95" cy="101.12" r="1.9" fill="#EE0000"/>
<circle cx="825.76" cy="111.44" r="1.9" fill="#EE0000"/>
<circle cx="821.45" cy="113.84" r="1.9" fill="#EE0000"/>
<circle cx="821.21" cy="109.62" r="1.9" fill="#EE0000"/>
<circle cx="827.16" cy="106.12" r="1.9" fill="#EE0000"/>
<circle cx="808.04" cy="92.02" r="1.9" fill="#EE0000"/>
<circle cx="815.56" cy="90.09" r="1.9" fill="#EE0000"/>
<circle cx="823.1" cy="91.9" r="1.9" fill="#EE0000"/>
<circle cx="815.91" cy="100.21" r="1.9" fill="#EE0000"/>
<circle cx="817.24" cy="111.45" r="1.9" fill="#EE0000"/>
<circle cx="823.21" cy="114.74" r="1.9" fill="#EE0000"/>
<circle cx="822.94" cy="111.28" r="1.9" fill="#EE0000"/>
<circle cx="825.71" cy="98.97" r="1.9" fill="#EE0000"/>
<circle cx="822.36" cy="107.57" r="1.9" fill="#EE0000"/>
<circle cx="827.96" cy="109.53" r="1.9" fill="#EE0000"/>
<circle cx="816.93" cy="90.97" r="1.9" fill="#EE0000"/>
<circle cx="814.02" cy="93.09" r="1.9" fill="#EE0000"/>
<circle cx="822.92" cy="111.51" r="1.9" fill="#EE0000"/>
<circle cx="826.89" cy="97.18" r="1.9" fill="#EE0000"/>
<circle cx="814.9" cy="89.31" r="1.9" fill="#EE0000"/>
<circle cx="824.8" cy="101.16" r="1.9" fill="#EE0000"/>
<circle cx="825.96" cy="100.22" r="1.9" fill="#EE0000"/>
<circle cx="828.86" cy="105.78" r="1.9" fill="#EE0000"/>
<circle cx="819.28" cy="90.26" r="1.9" fill="#EE0000"/>
<circle cx="816.51" cy="99.83" r="1.9" fill="#EE0000"/>
<circle cx="824.13" cy="98.66" r="1.9" fill="#EE0000"/>
<circle cx="825.35" cy="95.19" r="1.9" fill="#EE0000"/>
<circle cx="821.88" cy="116.72" r="1.9" fill="#EE0000"/>
<circle cx="818.68" cy="100.87" r="1.9" fill="#EE0000"/>
<circle cx="816.92" cy="89.57" r="1.9" fill="#EE0000"/>
<circle cx="811.91" cy="94.5" r="1.9" fill="#EE0000"/>
<circle cx="808.08" cy="94.94" r="1.9" fill="#EE0000"/>
<circle cx="814.4" cy="91.62" r="1.9" fill="#EE0000"/>
<circle cx="822.91" cy="100.59" r="1.9" fill="#EE0000"/>
<circle cx="814.04" cy="108.56" r="1.9" fill="#EE0000"/>
<circle cx="817.17" cy="115.15" r="1.9" fill="#EE0000"/>
<circle cx="807.26" cy="92.3" r="1.9" fill="#EE0000"/>
<circle cx="812.97" cy="93.58" r="1.9" fill="#EE0000"/>
<circle cx="826.43" cy="102.04" r="1.9" fill="#EE0000"/>
<circle cx="814.5" cy="102.19" r="1.9" fill="#EE0000"/>
<circle cx="827.03" cy="104.43" r="1.9" fill="#EE0000"/>
<circle cx="817.13" cy="107.52" r="1.9" fill="#EE0000"/>
<circle cx="821.24" cy="98.59" r="1.9" fill="#EE0000"/>
<circle cx="816.5" cy="88.88" r="1.9" fill="#EE0000"/>
<circle cx="813.48" cy="97.16" r="1.9" fill="#EE0000"/>
<circle cx="820.94" cy="105.16" r="1.9" fill="#EE0000"/>
<circle cx="809.86" cy="95.99" r="1.9" fill="#EE0000"/>
<circle cx="823.21" cy="102.31" r="1.9" fill="#EE0000"/>
<circle cx="821.35" cy="114.29" r="1.9" fill="#EE0000"/>
<circle cx="813.82" cy="106.39" r="1.9" fill="#EE0000"/>
<circle cx="815.1" cy="112.02" r="1.9" fill="#EE0000"/>
<circle cx="824.56" cy="110.02" r="1.9" fill="#EE0000"/>
<circle cx="817.29" cy="94.07" r="1.9" fill="#EE0000"/>
<circle cx="816.78" cy="105.98" r="1.9" fill="#EE0000"/>
<circle cx="817.21" cy="94.37" r="1.9" fill="#EE0000"/>
<circle cx="822.34" cy="92.85" r="1.9" fill="#EE0000"/>
<circle cx="818.33" cy="104.82" r="1.9" fill="#EE0000"/>
<circle cx="818.44" cy="116.18" r="1.9" fill="#EE0000"/>
<circle cx="773.2" cy="49.8" r="1.75" fill="#008B00"/>
<circle cx="775" cy="50.5" r="1.75" fill="#008B00"/>
<circle cx="778.9" cy="51.4" r="1.75" fill="#008B00"/>
<circle cx="780.5" cy="50.6" r="1.75" fill="#008B00"/>
<circle cx="783.7" cy="50.4" r="1.75" fill="#008B00"/>
<circle cx="782.5" cy="52.3" r="1.75" fill="#008B00"/>
<circle cx="778" cy="54.2" r="1.75" fill="#008B00"/>
<circle cx="776.5" cy="53" r="1.75" fill="#008B00"/>
<circle cx="777.4" cy="61.8" r="1.75" fill="#008B00"/>
<circle cx="778.2" cy="60.5" r="1.75" fill="#008B00"/>
<circle cx="777" cy="65.6" r="1.75" fill="#008B00"/>
<circle cx="776.5" cy="64" r="1.75" fill="#008B00"/>
<circle cx="780.3" cy="26.6" r="1.75" fill="#D00000"/>
<circle cx="800.8" cy="60.2" r="1.75" fill="#D00000"/>
<circle cx="799.7" cy="85.5" r="1.75" fill="#D00000"/>
<circle cx="742.7" cy="18.7" r="1.75" fill="#D00000"/>
<circle cx="733.8" cy="40.1" r="1.75" fill="#D00000"/>
<circle cx="804.9" cy="80.6" r="1.75" fill="#D00000"/>
<circle cx="813.9" cy="77" r="1.75" fill="#D00000"/>
<circle cx="813" cy="78.4" r="1.75" fill="#D00000"/>
<circle cx="807.4" cy="78.5" r="1.75" fill="#B232D4"/>
<rect x="715.6" y="0.6" width="136.8" height="124.2" fill="none" stroke="#8A8A8A" stroke-width="0.9"/>
<line x1="713.4" y1="26.5" x2="715.6" y2="26.5" stroke="#333333" stroke-width="0.8"/>
<text x="712.2" y="30.17" font-size="10.2" text-anchor="end" fill="#4D4D4D" color="#4D4D4D">10</text>
<line x1="713.4" y1="55.6" x2="715.6" y2="55.6" stroke="#333333" stroke-width="0.8"/>
<text x="712.2" y="59.27" font-size="10.2" text-anchor="end" fill="#4D4D4D" color="#4D4D4D">0</text>
<line x1="713.4" y1="84.7" x2="715.6" y2="84.7" stroke="#333333" stroke-width="0.8"/>
<text x="712.2" y="88.37" font-size="10.2" text-anchor="end" fill="#4D4D4D" color="#4D4D4D">-10</text>
<line x1="713.4" y1="113.8" x2="715.6" y2="113.8" stroke="#333333" stroke-width="0.8"/>
<text x="712.2" y="117.47" font-size="10.2" text-anchor="end" fill="#4D4D4D" color="#4D4D4D">-20</text>
<line x1="714.95" y1="124.8" x2="714.95" y2="127" stroke="#333333" stroke-width="0.8"/>
<text x="714.95" y="135.8" font-size="10.2" text-anchor="middle" fill="#4D4D4D" color="#4D4D4D">-30</text>
<line x1="739.4" y1="124.8" x2="739.4" y2="127" stroke="#333333" stroke-width="0.8"/>
<text x="739.4" y="135.8" font-size="10.2" text-anchor="middle" fill="#4D4D4D" color="#4D4D4D">-20</text>
<line x1="763.85" y1="124.8" x2="763.85" y2="127" stroke="#333333" stroke-width="0.8"/>
<text x="763.85" y="135.8" font-size="10.2" text-anchor="middle" fill="#4D4D4D" color="#4D4D4D">-10</text>
<line x1="788.3" y1="124.8" x2="788.3" y2="127" stroke="#333333" stroke-width="0.8"/>
<text x="788.3" y="135.8" font-size="10.2" text-anchor="middle" fill="#4D4D4D" color="#4D4D4D">0</text>
<line x1="812.75" y1="124.8" x2="812.75" y2="127" stroke="#333333" stroke-width="0.8"/>
<text x="812.75" y="135.8" font-size="10.2" text-anchor="middle" fill="#4D4D4D" color="#4D4D4D">10</text>
<line x1="837.2" y1="124.8" x2="837.2" y2="127" stroke="#333333" stroke-width="0.8"/>
<text x="837.2" y="135.8" font-size="10.2" text-anchor="middle" fill="#4D4D4D" color="#4D4D4D">20</text>
<text x="790.6" y="146.6" font-size="10.6" text-anchor="middle" fill="#000" color="#000">tSNE 1</text>
<text x="698.6" y="57.5" font-size="10.6" text-anchor="middle" fill="#000" color="#000" transform="rotate(-90 698.6 57.5)">tSNE 2</text>
<circle cx="863.2" cy="10.4" r="3.3" fill="#4EEE94"/>
<text x="870.8" y="14.8" font-size="13.1" text-anchor="start" fill="#000" color="#000">MC (2D)</text>
<circle cx="863.2" cy="24.9" r="3.3" fill="#B232D4"/>
<text x="870.8" y="29.3" font-size="13.1" text-anchor="start" fill="#000" color="#000">MC-LB late</text>
<circle cx="863.2" cy="39.8" r="3.3" fill="#EE0000"/>
<text x="870.8" y="44.2" font-size="13.1" text-anchor="start" fill="#000" color="#000">MC-LB early</text>
<circle cx="863.2" cy="54.6" r="3.3" fill="#008B00"/>
<text x="870.8" y="59" font-size="13.1" text-anchor="start" fill="#000" color="#000">Fetal stellate</text>
<circle cx="735.68" cy="466.09" r="1.9" fill="#4EEE94"/>
<circle cx="725.65" cy="460.68" r="1.9" fill="#4EEE94"/>
<circle cx="733.45" cy="461.96" r="1.9" fill="#4EEE94"/>
<circle cx="731.66" cy="458.58" r="1.9" fill="#4EEE94"/>
<circle cx="734.76" cy="448.54" r="1.9" fill="#4EEE94"/>
<circle cx="755.58" cy="476.88" r="1.9" fill="#4EEE94"/>
<circle cx="729.88" cy="449.61" r="1.9" fill="#4EEE94"/>
<circle cx="753.15" cy="477.62" r="1.9" fill="#4EEE94"/>
<circle cx="749.05" cy="471.86" r="1.9" fill="#4EEE94"/>
<circle cx="737.21" cy="464.23" r="1.9" fill="#4EEE94"/>
<circle cx="733.76" cy="438.36" r="1.9" fill="#4EEE94"/>
<circle cx="732.99" cy="458.66" r="1.9" fill="#4EEE94"/>
<circle cx="732.56" cy="454.34" r="1.9" fill="#4EEE94"/>
<circle cx="744.36" cy="452.13" r="1.9" fill="#4EEE94"/>
<circle cx="737.53" cy="451.89" r="1.9" fill="#4EEE94"/>
<circle cx="745.79" cy="477.81" r="1.9" fill="#4EEE94"/>
<circle cx="744.09" cy="447.59" r="1.9" fill="#4EEE94"/>
<circle cx="731.91" cy="446.49" r="1.9" fill="#4EEE94"/>
<circle cx="746.82" cy="464.77" r="1.9" fill="#4EEE94"/>
<circle cx="733.73" cy="471.82" r="1.9" fill="#4EEE94"/>
<circle cx="728.17" cy="465.13" r="1.9" fill="#4EEE94"/>
<circle cx="748.21" cy="471.9" r="1.9" fill="#4EEE94"/>
<circle cx="740.76" cy="478.61" r="1.9" fill="#4EEE94"/>
<circle cx="745.62" cy="469.9" r="1.9" fill="#4EEE94"/>
<circle cx="740.03" cy="462.88" r="1.9" fill="#4EEE94"/>
<circle cx="727.36" cy="472.35" r="1.9" fill="#4EEE94"/>
<circle cx="735.95" cy="459.5" r="1.9" fill="#4EEE94"/>
<circle cx="741.95" cy="477.03" r="1.9" fill="#4EEE94"/>
<circle cx="734.43" cy="463.58" r="1.9" fill="#4EEE94"/>
<circle cx="744.81" cy="468.19" r="1.9" fill="#4EEE94"/>
<circle cx="734.78" cy="450.05" r="1.9" fill="#4EEE94"/>
<circle cx="740.19" cy="465.57" r="1.9" fill="#4EEE94"/>
<circle cx="746.15" cy="443.05" r="1.9" fill="#4EEE94"/>
<circle cx="739.36" cy="463.6" r="1.9" fill="#4EEE94"/>
<circle cx="730.76" cy="441.53" r="1.9" fill="#4EEE94"/>
<circle cx="741.15" cy="450.8" r="1.9" fill="#4EEE94"/>
<circle cx="729.62" cy="455.89" r="1.9" fill="#4EEE94"/>
<circle cx="736.13" cy="470.1" r="1.9" fill="#4EEE94"/>
<circle cx="731.92" cy="450.15" r="1.9" fill="#4EEE94"/>
<circle cx="732.91" cy="459.75" r="1.9" fill="#4EEE94"/>
<circle cx="740.69" cy="443.8" r="1.9" fill="#4EEE94"/>
<circle cx="746.91" cy="471.35" r="1.9" fill="#4EEE94"/>
<circle cx="740.42" cy="462.5" r="1.9" fill="#4EEE94"/>
<circle cx="750.45" cy="482.7" r="1.9" fill="#4EEE94"/>
<circle cx="741.37" cy="468.52" r="1.9" fill="#4EEE94"/>
<circle cx="735.42" cy="469.58" r="1.9" fill="#4EEE94"/>
<circle cx="736.68" cy="466.31" r="1.9" fill="#4EEE94"/>
<circle cx="745.1" cy="468.89" r="1.9" fill="#4EEE94"/>
<circle cx="748.36" cy="470.54" r="1.9" fill="#4EEE94"/>
<circle cx="731.99" cy="466.2" r="1.9" fill="#4EEE94"/>
<circle cx="740.93" cy="461.85" r="1.9" fill="#4EEE94"/>
<circle cx="748.8" cy="473.49" r="1.9" fill="#4EEE94"/>
<circle cx="740.11" cy="481.89" r="1.9" fill="#4EEE94"/>
<circle cx="739.25" cy="463.9" r="1.9" fill="#4EEE94"/>
<circle cx="748.52" cy="482.7" r="1.9" fill="#4EEE94"/>
<circle cx="746.39" cy="462.61" r="1.9" fill="#4EEE94"/>
<circle cx="751.1" cy="478.05" r="1.9" fill="#4EEE94"/>
<circle cx="729.11" cy="460.05" r="1.9" fill="#4EEE94"/>
<circle cx="745.15" cy="470.28" r="1.9" fill="#4EEE94"/>
<circle cx="738.68" cy="480.63" r="1.9" fill="#4EEE94"/>
<circle cx="735.51" cy="473.71" r="1.9" fill="#4EEE94"/>
<circle cx="742.28" cy="468.77" r="1.9" fill="#4EEE94"/>
<circle cx="745.9" cy="478.31" r="1.9" fill="#4EEE94"/>
<circle cx="748.53" cy="483.38" r="1.9" fill="#4EEE94"/>
<circle cx="740.98" cy="460.39" r="1.9" fill="#4EEE94"/>
<circle cx="746.58" cy="463.68" r="1.9" fill="#4EEE94"/>
<circle cx="735" cy="460.68" r="1.9" fill="#4EEE94"/>
<circle cx="734.31" cy="475.73" r="1.9" fill="#4EEE94"/>
<circle cx="732.35" cy="468.77" r="1.9" fill="#4EEE94"/>
<circle cx="743.54" cy="479.81" r="1.9" fill="#4EEE94"/>
<circle cx="740.41" cy="452.44" r="1.9" fill="#4EEE94"/>
<circle cx="732.96" cy="454.14" r="1.9" fill="#4EEE94"/>
<circle cx="722.5" cy="481" r="1.9" fill="#B8F5D2"/>
<circle cx="724.5" cy="482.5" r="1.9" fill="#B8F5D2"/>
<circle cx="723" cy="484.5" r="1.9" fill="#B8F5D2"/>
<circle cx="725.5" cy="486" r="1.9" fill="#B8F5D2"/>
<circle cx="724" cy="488.5" r="1.9" fill="#B8F5D2"/>
<circle cx="726.2" cy="489.8" r="1.9" fill="#B8F5D2"/>
<circle cx="722.2" cy="487" r="1.9" fill="#B8F5D2"/>
<circle cx="804.63" cy="440.92" r="1.9" fill="#008B00"/>
<circle cx="813.5" cy="437.19" r="1.9" fill="#008B00"/>
<circle cx="810.87" cy="459.03" r="1.9" fill="#008B00"/>
<circle cx="818.88" cy="429.57" r="1.9" fill="#008B00"/>
<circle cx="820.83" cy="438.29" r="1.9" fill="#008B00"/>
<circle cx="804.42" cy="468.03" r="1.9" fill="#008B00"/>
<circle cx="802.75" cy="448.1" r="1.9" fill="#008B00"/>
<circle cx="831.29" cy="454.07" r="1.9" fill="#008B00"/>
<circle cx="835.94" cy="441.07" r="1.9" fill="#008B00"/>
<circle cx="836.87" cy="447.24" r="1.9" fill="#008B00"/>
<circle cx="818.32" cy="475.17" r="1.9" fill="#008B00"/>
<circle cx="811.36" cy="427.56" r="1.9" fill="#008B00"/>
<circle cx="816.63" cy="452.79" r="1.9" fill="#008B00"/>
<circle cx="817.79" cy="440.68" r="1.9" fill="#008B00"/>
<circle cx="839.14" cy="450.18" r="1.9" fill="#008B00"/>
<circle cx="811.49" cy="467.59" r="1.9" fill="#008B00"/>
<circle cx="808.75" cy="447.15" r="1.9" fill="#008B00"/>
<circle cx="802.7" cy="436.51" r="1.9" fill="#008B00"/>
<circle cx="820.82" cy="461.58" r="1.9" fill="#008B00"/>
<circle cx="827.24" cy="452.83" r="1.9" fill="#008B00"/>
<circle cx="814.04" cy="431.29" r="1.9" fill="#008B00"/>
<circle cx="815.71" cy="423.39" r="1.9" fill="#008B00"/>
<circle cx="827.34" cy="442.23" r="1.9" fill="#008B00"/>
<circle cx="808.29" cy="440.87" r="1.9" fill="#008B00"/>
<circle cx="819.49" cy="434.87" r="1.9" fill="#008B00"/>
<circle cx="835.02" cy="450.62" r="1.9" fill="#008B00"/>
<circle cx="836.66" cy="456.1" r="1.9" fill="#008B00"/>
<circle cx="810.79" cy="463.87" r="1.9" fill="#008B00"/>
<circle cx="800.38" cy="447.32" r="1.9" fill="#008B00"/>
<circle cx="834.35" cy="456.98" r="1.9" fill="#008B00"/>
<circle cx="807.23" cy="436.3" r="1.9" fill="#008B00"/>
<circle cx="800.95" cy="452.86" r="1.9" fill="#008B00"/>
<circle cx="806.04" cy="448.46" r="1.9" fill="#008B00"/>
<circle cx="819.45" cy="467.96" r="1.9" fill="#008B00"/>
<circle cx="835.59" cy="450.6" r="1.9" fill="#008B00"/>
<circle cx="836.48" cy="439.92" r="1.9" fill="#008B00"/>
<circle cx="801.37" cy="438.9" r="1.9" fill="#008B00"/>
<circle cx="813.22" cy="442.68" r="1.9" fill="#008B00"/>
<circle cx="805.6" cy="435.76" r="1.9" fill="#008B00"/>
<circle cx="820.5" cy="444.27" r="1.9" fill="#008B00"/>
<circle cx="809.74" cy="446.53" r="1.9" fill="#008B00"/>
<circle cx="802.31" cy="434.11" r="1.9" fill="#008B00"/>
<circle cx="824.76" cy="450.22" r="1.9" fill="#008B00"/>
<circle cx="829.4" cy="447.45" r="1.9" fill="#008B00"/>
<circle cx="806.6" cy="435.44" r="1.9" fill="#008B00"/>
<circle cx="813.26" cy="446.56" r="1.9" fill="#008B00"/>
<circle cx="810.24" cy="467.8" r="1.9" fill="#008B00"/>
<circle cx="819.47" cy="432.62" r="1.9" fill="#008B00"/>
<circle cx="800.21" cy="449.25" r="1.9" fill="#008B00"/>
<circle cx="807.75" cy="459.61" r="1.9" fill="#008B00"/>
<circle cx="813.7" cy="439.96" r="1.9" fill="#008B00"/>
<circle cx="811.26" cy="457.78" r="1.9" fill="#008B00"/>
<circle cx="819.94" cy="450.9" r="1.9" fill="#008B00"/>
<circle cx="827.6" cy="450.06" r="1.9" fill="#008B00"/>
<circle cx="839.1" cy="448.07" r="1.9" fill="#008B00"/>
<circle cx="825.06" cy="456.75" r="1.9" fill="#008B00"/>
<circle cx="832.32" cy="463.81" r="1.9" fill="#008B00"/>
<circle cx="806.56" cy="446.81" r="1.9" fill="#008B00"/>
<circle cx="827.89" cy="441.74" r="1.9" fill="#008B00"/>
<circle cx="813.66" cy="447.92" r="1.9" fill="#008B00"/>
<circle cx="828.48" cy="435.43" r="1.9" fill="#008B00"/>
<circle cx="823.29" cy="459.89" r="1.9" fill="#008B00"/>
<circle cx="824.55" cy="463.7" r="1.9" fill="#008B00"/>
<circle cx="810.61" cy="458.4" r="1.9" fill="#008B00"/>
<circle cx="830.04" cy="441.36" r="1.9" fill="#008B00"/>
<circle cx="809.66" cy="441.83" r="1.9" fill="#008B00"/>
<circle cx="818.56" cy="455.17" r="1.9" fill="#008B00"/>
<circle cx="826.53" cy="437.9" r="1.9" fill="#008B00"/>
<circle cx="823.35" cy="457.29" r="1.9" fill="#008B00"/>
<circle cx="819.65" cy="447.09" r="1.9" fill="#008B00"/>
<circle cx="818.56" cy="444.21" r="1.9" fill="#008B00"/>
<circle cx="831.04" cy="455.93" r="1.9" fill="#008B00"/>
<circle cx="820.94" cy="465.93" r="1.9" fill="#008B00"/>
<circle cx="821.85" cy="456.7" r="1.9" fill="#008B00"/>
<circle cx="823.09" cy="429.41" r="1.9" fill="#008B00"/>
<circle cx="803.85" cy="464.9" r="1.9" fill="#008B00"/>
<circle cx="813.3" cy="430.22" r="1.9" fill="#008B00"/>
<circle cx="831.2" cy="445.1" r="1.9" fill="#008B00"/>
<circle cx="803.89" cy="466.55" r="1.9" fill="#008B00"/>
<circle cx="807.51" cy="461.29" r="1.9" fill="#008B00"/>
<circle cx="828.29" cy="438.54" r="1.9" fill="#008B00"/>
<circle cx="832.34" cy="456.69" r="1.9" fill="#008B00"/>
<circle cx="829.78" cy="447.87" r="1.9" fill="#008B00"/>
<circle cx="823.27" cy="440.21" r="1.9" fill="#008B00"/>
<circle cx="808.15" cy="454.39" r="1.9" fill="#008B00"/>
<circle cx="824.29" cy="451.58" r="1.9" fill="#008B00"/>
<circle cx="826.32" cy="458.97" r="1.9" fill="#008B00"/>
<circle cx="815.82" cy="438.16" r="1.9" fill="#008B00"/>
<circle cx="827.68" cy="445.08" r="1.9" fill="#008B00"/>
<circle cx="813.71" cy="462.35" r="1.9" fill="#008B00"/>
<circle cx="826.55" cy="451.04" r="1.9" fill="#008B00"/>
<circle cx="833.47" cy="441.61" r="1.9" fill="#008B00"/>
<circle cx="813.37" cy="466.07" r="1.9" fill="#008B00"/>
<circle cx="827.54" cy="447.33" r="1.9" fill="#008B00"/>
<circle cx="821.37" cy="472.24" r="1.9" fill="#008B00"/>
<circle cx="836.17" cy="433.92" r="1.9" fill="#008B00"/>
<circle cx="833.08" cy="453.51" r="1.9" fill="#008B00"/>
<circle cx="838.6" cy="441.71" r="1.9" fill="#008B00"/>
<circle cx="826.9" cy="459.77" r="1.9" fill="#008B00"/>
<circle cx="815.03" cy="429.98" r="1.9" fill="#008B00"/>
<circle cx="819.73" cy="466.28" r="1.9" fill="#008B00"/>
<circle cx="813.13" cy="436.77" r="1.9" fill="#008B00"/>
<circle cx="836.34" cy="462" r="1.9" fill="#008B00"/>
<circle cx="809.68" cy="464.88" r="1.9" fill="#008B00"/>
<circle cx="837.3" cy="456.95" r="1.9" fill="#008B00"/>
<circle cx="807.71" cy="457.93" r="1.9" fill="#008B00"/>
<circle cx="804.65" cy="434.46" r="1.9" fill="#008B00"/>
<circle cx="798.26" cy="444.35" r="1.9" fill="#008B00"/>
<circle cx="809.32" cy="451.23" r="1.9" fill="#008B00"/>
<circle cx="827.39" cy="441.06" r="1.9" fill="#008B00"/>
<circle cx="823.33" cy="453.16" r="1.9" fill="#008B00"/>
<circle cx="832.29" cy="455.99" r="1.9" fill="#008B00"/>
<circle cx="825.77" cy="455.27" r="1.9" fill="#008B00"/>
<circle cx="836.83" cy="457.88" r="1.9" fill="#008B00"/>
<circle cx="835.18" cy="463.19" r="1.9" fill="#008B00"/>
<circle cx="773.5" cy="412.2" r="1.9" fill="#D00000"/>
<circle cx="775.4" cy="414" r="1.9" fill="#D00000"/>
<circle cx="778.4" cy="417.7" r="1.9" fill="#D00000"/>
<circle cx="780.2" cy="419.5" r="1.9" fill="#D00000"/>
<circle cx="781.5" cy="420.7" r="1.9" fill="#D00000"/>
<circle cx="776.8" cy="415.6" r="1.9" fill="#D00000"/>
<circle cx="777.2" cy="455.9" r="1.9" fill="#F07070"/>
<circle cx="780.9" cy="452.2" r="1.9" fill="#F07070"/>
<circle cx="784.08" cy="503.65" r="1.9" fill="#7A0A0A"/>
<circle cx="790.88" cy="512.3" r="1.9" fill="#7A0A0A"/>
<circle cx="785.73" cy="505.93" r="1.9" fill="#7A0A0A"/>
<circle cx="783.87" cy="515.57" r="1.9" fill="#7A0A0A"/>
<circle cx="785.61" cy="505.05" r="1.9" fill="#7A0A0A"/>
<circle cx="780.59" cy="504.85" r="1.9" fill="#7A0A0A"/>
<circle cx="790.27" cy="507.61" r="1.9" fill="#7A0A0A"/>
<circle cx="785.79" cy="511.92" r="1.9" fill="#7A0A0A"/>
<circle cx="782.28" cy="510.62" r="1.9" fill="#7A0A0A"/>
<circle cx="781.07" cy="505.21" r="1.9" fill="#7A0A0A"/>
<circle cx="787.05" cy="508.2" r="1.9" fill="#7A0A0A"/>
<circle cx="783.5" cy="503.54" r="1.9" fill="#7A0A0A"/>
<circle cx="783.84" cy="514.12" r="1.9" fill="#7A0A0A"/>
<circle cx="780.73" cy="508.26" r="1.9" fill="#7A0A0A"/>
<circle cx="780.42" cy="505.62" r="1.9" fill="#7A0A0A"/>
<circle cx="783.36" cy="504.4" r="1.9" fill="#7A0A0A"/>
<circle cx="789.4" cy="509.58" r="1.9" fill="#7A0A0A"/>
<circle cx="782.59" cy="505.69" r="1.9" fill="#7A0A0A"/>
<circle cx="785.18" cy="503.09" r="1.9" fill="#7A0A0A"/>
<circle cx="786.65" cy="505.7" r="1.9" fill="#7A0A0A"/>
<circle cx="791.01" cy="505.87" r="1.9" fill="#7A0A0A"/>
<circle cx="793.76" cy="508.84" r="1.9" fill="#7A0A0A"/>
<circle cx="800.1" cy="404.3" r="1.9" fill="#BFF5D5"/>
<circle cx="764.4" cy="438.8" r="1.9" fill="#4EEE94"/>
<circle cx="780.9" cy="476.2" r="1.9" fill="#4EEE94"/>
<rect x="716.6" y="399" width="130.2" height="122" fill="none" stroke="#8A8A8A" stroke-width="0.9"/>
<line x1="714.4" y1="415.6" x2="716.6" y2="415.6" stroke="#333333" stroke-width="0.8"/>
<text x="713.2" y="419.27" font-size="10.2" text-anchor="end" fill="#4D4D4D" color="#4D4D4D">10</text>
<line x1="714.4" y1="436.2" x2="716.6" y2="436.2" stroke="#333333" stroke-width="0.8"/>
<text x="713.2" y="439.87" font-size="10.2" text-anchor="end" fill="#4D4D4D" color="#4D4D4D">5</text>
<line x1="714.4" y1="456.8" x2="716.6" y2="456.8" stroke="#333333" stroke-width="0.8"/>
<text x="713.2" y="460.47" font-size="10.2" text-anchor="end" fill="#4D4D4D" color="#4D4D4D">0</text>
<line x1="714.4" y1="477.4" x2="716.6" y2="477.4" stroke="#333333" stroke-width="0.8"/>
<text x="713.2" y="481.07" font-size="10.2" text-anchor="end" fill="#4D4D4D" color="#4D4D4D">-5</text>
<line x1="714.4" y1="498" x2="716.6" y2="498" stroke="#333333" stroke-width="0.8"/>
<text x="713.2" y="501.67" font-size="10.2" text-anchor="end" fill="#4D4D4D" color="#4D4D4D">-10</text>
<line x1="714.4" y1="518.6" x2="716.6" y2="518.6" stroke="#333333" stroke-width="0.8"/>
<text x="713.2" y="522.27" font-size="10.2" text-anchor="end" fill="#4D4D4D" color="#4D4D4D">-15</text>
<line x1="747" y1="521" x2="747" y2="523.2" stroke="#333333" stroke-width="0.8"/>
<text x="747" y="532" font-size="10.2" text-anchor="middle" fill="#4D4D4D" color="#4D4D4D">-10</text>
<line x1="783.8" y1="521" x2="783.8" y2="523.2" stroke="#333333" stroke-width="0.8"/>
<text x="783.8" y="532" font-size="10.2" text-anchor="middle" fill="#4D4D4D" color="#4D4D4D">0</text>
<line x1="820.6" y1="521" x2="820.6" y2="523.2" stroke="#333333" stroke-width="0.8"/>
<text x="820.6" y="532" font-size="10.2" text-anchor="middle" fill="#4D4D4D" color="#4D4D4D">10</text>
<text x="788" y="544.8" font-size="10.9" text-anchor="middle" fill="#000" color="#000">tSNE 1</text>
<text x="698" y="455.8" font-size="10.9" text-anchor="middle" fill="#000" color="#000" transform="rotate(-90 698 455.8)">tSNE 2</text>
<circle cx="855.7" cy="406.4" r="3.3" fill="#008B00"/>
<text x="863.4" y="411" font-size="13.1" text-anchor="start" fill="#000" color="#000">EC (2D)</text>
<circle cx="855.7" cy="421.8" r="3.3" fill="#4EEE94"/>
<text x="863.4" y="426.4" font-size="13.1" text-anchor="start" fill="#000" color="#000">EC-LB (3D)</text>
<circle cx="855.7" cy="437" r="3.3" fill="#EE0000"/>
<text x="863.4" y="441.6" font-size="13.1" text-anchor="start" fill="#000" color="#000">Fetal EC</text>
<path d="M436.74 237.8C436.72 237.31 436.79 236.21 436.64 234.87C436.49 233.53 436.09 231.64 435.84 229.77C435.59 227.89 435.22 225.67 435.14 223.62C435.05 221.58 434.92 219.18 435.34 217.48C435.75 215.78 436.35 214.96 437.64 213.42C438.92 211.88 441.49 209.94 443.04 208.22C444.59 206.5 446.14 205.01 446.94 203.12C447.74 201.23 447.8 198.93 447.84 196.88C447.87 194.83 447.75 192.88 447.14 190.83C446.52 188.79 445.37 186.41 444.14 184.6C442.9 182.79 440.47 180.74 439.74 179.97L428.94 179.97C428.2 180.74 425.77 182.79 424.54 184.6C423.3 186.41 422.15 188.79 421.54 190.83C420.92 192.88 420.8 194.83 420.84 196.88C420.87 198.93 420.94 201.23 421.74 203.12C422.54 205.01 424.09 206.5 425.64 208.22C427.19 209.94 429.75 211.88 431.04 213.42C432.32 214.96 432.92 215.78 433.34 217.48C433.75 219.18 433.62 221.58 433.54 223.62C433.45 225.67 433.09 227.89 432.84 229.77C432.59 231.64 432.19 233.53 432.04 234.87C431.89 236.21 431.95 237.31 431.94 237.8Z" fill="#0A8A12" stroke="#1A1A1A" stroke-width="0.55"/>
<circle cx="437.14" cy="206.33" r="1.1" fill="#111"/>
<circle cx="439.17" cy="234.01" r="1.1" fill="#111"/>
<circle cx="440.85" cy="187.6" r="1.1" fill="#111"/>
<circle cx="421.67" cy="203.61" r="1.1" fill="#111"/>
<circle cx="445.71" cy="186.97" r="1.1" fill="#111"/>
<circle cx="446.1" cy="191.48" r="1.1" fill="#111"/>
<circle cx="430.45" cy="232.16" r="1.1" fill="#111"/>
<circle cx="445.25" cy="203.96" r="1.1" fill="#111"/>
<circle cx="426.54" cy="204.89" r="1.1" fill="#111"/>
<circle cx="422.55" cy="204.63" r="1.1" fill="#111"/>
<circle cx="440.93" cy="180.56" r="1.1" fill="#111"/>
<circle cx="422.03" cy="193.34" r="1.1" fill="#111"/>
<circle cx="425.47" cy="180.05" r="1.1" fill="#111"/>
<circle cx="439.03" cy="228.77" r="1.1" fill="#111"/>
<circle cx="436.92" cy="207.72" r="1.1" fill="#111"/>
<circle cx="434.53" cy="201.94" r="1.1" fill="#111"/>
<circle cx="428.97" cy="196.14" r="1.1" fill="#111"/>
<circle cx="421.15" cy="207.66" r="1.1" fill="#111"/>
<circle cx="437.46" cy="204.26" r="1.1" fill="#111"/>
<circle cx="422.47" cy="195.12" r="1.1" fill="#111"/>
<circle cx="433.25" cy="182.09" r="1.1" fill="#111"/>
<circle cx="431.02" cy="203.35" r="1.1" fill="#111"/>
<circle cx="426.85" cy="195.28" r="1.1" fill="#111"/>
<circle cx="433.02" cy="200.19" r="1.1" fill="#111"/>
<circle cx="428.36" cy="189.31" r="1.1" fill="#111"/>
<circle cx="430.16" cy="200.67" r="1.1" fill="#111"/>
<circle cx="434.34" cy="197.9" r="2.7" fill="#fff"/>
<path d="M478.4 237.8C477.73 237.61 475.8 237.14 474.4 236.67C473 236.19 471.28 235.75 470 234.97C468.72 234.18 467.35 233.14 466.7 231.94C466.05 230.74 466.32 229.17 466.1 227.78C465.88 226.4 465.57 227.48 465.4 223.62C465.23 219.77 465.15 207.8 465.1 204.63L464.7 204.63C464.65 207.8 464.57 219.77 464.4 223.62C464.23 227.48 463.92 226.4 463.7 227.78C463.48 229.17 463.75 230.74 463.1 231.94C462.45 233.14 461.08 234.18 459.8 234.97C458.52 235.75 456.8 236.19 455.4 236.67C454 237.14 452.07 237.61 451.4 237.8Z" fill="#4EEE94" stroke="#1A1A1A" stroke-width="0.55"/>
<circle cx="459.28" cy="238.09" r="1.1" fill="#111"/>
<circle cx="460.75" cy="237.72" r="1.1" fill="#111"/>
<circle cx="462.46" cy="238.22" r="1.1" fill="#111"/>
<circle cx="451.53" cy="238.24" r="1.1" fill="#111"/>
<circle cx="467.56" cy="218.66" r="1.1" fill="#111"/>
<circle cx="459.5" cy="237.96" r="1.1" fill="#111"/>
<circle cx="462.57" cy="238.24" r="1.1" fill="#111"/>
<circle cx="474.69" cy="237.55" r="1.1" fill="#111"/>
<circle cx="458.73" cy="237.57" r="1.1" fill="#111"/>
<circle cx="462.82" cy="237.77" r="1.1" fill="#111"/>
<circle cx="454.83" cy="237.74" r="1.1" fill="#111"/>
<circle cx="453.25" cy="238.27" r="1.1" fill="#111"/>
<circle cx="462.22" cy="235.15" r="1.1" fill="#111"/>
<circle cx="463.23" cy="235.43" r="1.1" fill="#111"/>
<circle cx="472.31" cy="237.64" r="1.1" fill="#111"/>
<circle cx="453.88" cy="237.4" r="1.1" fill="#111"/>
<circle cx="469.54" cy="231.86" r="1.1" fill="#111"/>
<circle cx="474.19" cy="237.97" r="1.1" fill="#111"/>
<circle cx="466.46" cy="235.77" r="1.1" fill="#111"/>
<circle cx="464.63" cy="230.58" r="1.1" fill="#111"/>
<circle cx="456.05" cy="237.66" r="1.1" fill="#111"/>
<circle cx="472.3" cy="237.44" r="1.1" fill="#111"/>
<circle cx="463.18" cy="237.57" r="1.1" fill="#111"/>
<circle cx="457.07" cy="237.89" r="1.1" fill="#111"/>
<circle cx="467.84" cy="233.85" r="1.1" fill="#111"/>
<circle cx="475.35" cy="238.21" r="1.1" fill="#111"/>
<circle cx="476.81" cy="237.67" r="1.1" fill="#111"/>
<circle cx="467.84" cy="231.95" r="1.1" fill="#111"/>
<circle cx="458.07" cy="236.4" r="1.1" fill="#111"/>
<circle cx="459.98" cy="228.83" r="1.1" fill="#111"/>
<circle cx="467.79" cy="213.69" r="1.1" fill="#111"/>
<circle cx="456.81" cy="236.38" r="1.1" fill="#111"/>
<circle cx="464.82" cy="238" r="1.1" fill="#111"/>
<circle cx="462.8" cy="237.95" r="1.1" fill="#111"/>
<circle cx="463.94" cy="238.06" r="1.1" fill="#111"/>
<circle cx="456.28" cy="238.2" r="1.1" fill="#111"/>
<circle cx="461.07" cy="230.38" r="1.1" fill="#111"/>
<circle cx="459.36" cy="232.22" r="1.1" fill="#111"/>
<circle cx="464.64" cy="237.36" r="1.1" fill="#111"/>
<circle cx="463.5" cy="237.71" r="1.1" fill="#111"/>
<circle cx="462.2" cy="236.1" r="1.1" fill="#111"/>
<circle cx="477.47" cy="237.52" r="1.1" fill="#111"/>
<circle cx="464.21" cy="237.46" r="1.1" fill="#111"/>
<circle cx="453.84" cy="237.68" r="1.1" fill="#111"/>
<circle cx="452.39" cy="237.35" r="1.1" fill="#111"/>
<circle cx="464.55" cy="214.23" r="1.1" fill="#111"/>
<circle cx="475.15" cy="235.41" r="1.1" fill="#111"/>
<circle cx="466.76" cy="237.41" r="1.1" fill="#111"/>
<circle cx="468.93" cy="237.54" r="1.1" fill="#111"/>
<circle cx="455.52" cy="237.94" r="1.1" fill="#111"/>
<circle cx="451.71" cy="237.53" r="1.1" fill="#111"/>
<circle cx="469.32" cy="231.91" r="1.1" fill="#111"/>
<circle cx="452.05" cy="238.27" r="1.1" fill="#111"/>
<circle cx="475.52" cy="237.39" r="1.1" fill="#111"/>
<circle cx="457.41" cy="238.13" r="1.1" fill="#111"/>
<circle cx="464.57" cy="235.24" r="1.1" fill="#111"/>
<circle cx="466.32" cy="238.04" r="1.1" fill="#111"/>
<circle cx="468.91" cy="237.91" r="1.1" fill="#111"/>
<circle cx="460.86" cy="238.3" r="1.1" fill="#111"/>
<circle cx="463.03" cy="237.38" r="1.1" fill="#111"/>
<circle cx="464.9" cy="236.2" r="2.7" fill="#fff"/>
<path d="M501.66 237.8C501.56 236.81 501.36 234.21 501.06 231.85C500.76 229.48 499.95 226.37 499.86 223.62C499.78 220.88 499.93 217.81 500.56 215.4C501.2 212.99 502.5 211.21 503.66 209.17C504.83 207.12 506.58 205.17 507.56 203.12C508.55 201.07 509.36 198.93 509.56 196.88C509.76 194.83 509.48 193.23 508.76 190.83C508.05 188.44 506.63 185.27 505.26 182.52C503.9 179.76 501.81 177.01 500.56 174.3C499.31 171.59 498.23 167.6 497.76 166.26L493.16 166.26C492.7 167.6 491.61 171.59 490.36 174.3C489.11 177.01 487.03 179.76 485.66 182.52C484.3 185.27 482.88 188.44 482.16 190.83C481.45 193.23 481.16 194.83 481.36 196.88C481.56 198.93 482.38 201.07 483.36 203.12C484.35 205.17 486.1 207.12 487.26 209.17C488.43 211.21 489.73 212.99 490.36 215.4C491 217.81 491.15 220.88 491.06 223.62C490.98 226.37 490.16 229.48 489.86 231.85C489.56 234.21 489.36 236.81 489.26 237.8Z" fill="#B232D4" stroke="#1A1A1A" stroke-width="0.55"/>
<circle cx="492.95" cy="203.16" r="1.1" fill="#111"/>
<circle cx="503.53" cy="171.96" r="1.1" fill="#111"/>
<circle cx="502.08" cy="192.07" r="1.1" fill="#111"/>
<circle cx="502" cy="206.87" r="1.1" fill="#111"/>
<circle cx="491.47" cy="217.25" r="1.1" fill="#111"/>
<circle cx="501.05" cy="232.25" r="1.1" fill="#111"/>
<circle cx="488.3" cy="175.12" r="1.1" fill="#111"/>
<circle cx="496.6" cy="204.67" r="1.1" fill="#111"/>
<circle cx="494.61" cy="176.8" r="1.1" fill="#111"/>
<circle cx="488.57" cy="180.06" r="1.1" fill="#111"/>
<circle cx="496.15" cy="237.08" r="1.1" fill="#111"/>
<circle cx="489.7" cy="225.94" r="1.1" fill="#111"/>
<circle cx="484.8" cy="235.29" r="1.1" fill="#111"/>
<circle cx="496.47" cy="213.6" r="1.1" fill="#111"/>
<circle cx="492.75" cy="237.55" r="1.1" fill="#111"/>
<circle cx="483.15" cy="207.88" r="1.1" fill="#111"/>
<circle cx="506.6" cy="192.91" r="1.1" fill="#111"/>
<circle cx="500.47" cy="220.1" r="1.1" fill="#111"/>
<circle cx="496.86" cy="201.4" r="1.1" fill="#111"/>
<circle cx="498.24" cy="225.73" r="1.1" fill="#111"/>
<circle cx="486.57" cy="208.15" r="1.1" fill="#111"/>
<circle cx="491.46" cy="198.66" r="1.1" fill="#111"/>
<circle cx="507.86" cy="180.36" r="1.1" fill="#111"/>
<circle cx="497.47" cy="193.99" r="1.1" fill="#111"/>
<circle cx="501.12" cy="202.92" r="1.1" fill="#111"/>
<circle cx="506.82" cy="191.76" r="1.1" fill="#111"/>
<circle cx="504.65" cy="215.18" r="1.1" fill="#111"/>
<circle cx="490.51" cy="217.63" r="1.1" fill="#111"/>
<circle cx="489.09" cy="232.13" r="1.1" fill="#111"/>
<circle cx="495.84" cy="238.04" r="1.1" fill="#111"/>
<circle cx="482.11" cy="192.65" r="1.1" fill="#111"/>
<circle cx="491.62" cy="169.04" r="1.1" fill="#111"/>
<circle cx="505.4" cy="234.43" r="1.1" fill="#111"/>
<circle cx="504.98" cy="173.02" r="1.1" fill="#111"/>
<circle cx="483.44" cy="191.52" r="1.1" fill="#111"/>
<circle cx="501.68" cy="225.2" r="1.1" fill="#111"/>
<circle cx="484.85" cy="199.55" r="1.1" fill="#111"/>
<circle cx="487.93" cy="228.41" r="1.1" fill="#111"/>
<circle cx="489.66" cy="172.35" r="1.1" fill="#111"/>
<circle cx="482.54" cy="187.48" r="1.1" fill="#111"/>
<circle cx="496.49" cy="197.11" r="1.1" fill="#111"/>
<circle cx="487.37" cy="199.57" r="1.1" fill="#111"/>
<circle cx="489.82" cy="177.71" r="1.1" fill="#111"/>
<circle cx="503.06" cy="229.6" r="1.1" fill="#111"/>
<circle cx="484.46" cy="200.23" r="1.1" fill="#111"/>
<circle cx="498.17" cy="206.24" r="1.1" fill="#111"/>
<circle cx="490.55" cy="201.57" r="1.1" fill="#111"/>
<circle cx="507.24" cy="194.8" r="1.1" fill="#111"/>
<circle cx="507.14" cy="178.05" r="1.1" fill="#111"/>
<circle cx="499.38" cy="185.42" r="1.1" fill="#111"/>
<circle cx="505.58" cy="203.62" r="1.1" fill="#111"/>
<circle cx="498.64" cy="199.99" r="1.1" fill="#111"/>
<circle cx="494.39" cy="238.15" r="1.1" fill="#111"/>
<circle cx="496.63" cy="211.57" r="1.1" fill="#111"/>
<circle cx="490.08" cy="186.91" r="1.1" fill="#111"/>
<circle cx="499.45" cy="209.26" r="1.1" fill="#111"/>
<circle cx="487.9" cy="195.99" r="1.1" fill="#111"/>
<circle cx="484.16" cy="193.83" r="1.1" fill="#111"/>
<circle cx="496.23" cy="217.56" r="1.1" fill="#111"/>
<circle cx="504.33" cy="199.57" r="1.1" fill="#111"/>
<circle cx="505.72" cy="188.98" r="1.1" fill="#111"/>
<circle cx="501.9" cy="217.29" r="1.1" fill="#111"/>
<circle cx="492.31" cy="231.73" r="1.1" fill="#111"/>
<circle cx="500.25" cy="237.48" r="1.1" fill="#111"/>
<circle cx="493.73" cy="209.99" r="1.1" fill="#111"/>
<circle cx="484.58" cy="190.6" r="1.1" fill="#111"/>
<circle cx="493.89" cy="188.35" r="1.1" fill="#111"/>
<circle cx="488.1" cy="166.85" r="1.1" fill="#111"/>
<circle cx="493.41" cy="178.68" r="1.1" fill="#111"/>
<circle cx="493.25" cy="174.55" r="1.1" fill="#111"/>
<circle cx="497.5" cy="237.33" r="1.1" fill="#111"/>
<circle cx="484.27" cy="200.33" r="1.1" fill="#111"/>
<circle cx="508.48" cy="199.24" r="1.1" fill="#111"/>
<circle cx="490.02" cy="200" r="1.1" fill="#111"/>
<circle cx="502.72" cy="193.45" r="1.1" fill="#111"/>
<circle cx="494.2" cy="223.24" r="1.1" fill="#111"/>
<circle cx="502.79" cy="170.72" r="1.1" fill="#111"/>
<circle cx="486.69" cy="222.64" r="1.1" fill="#111"/>
<circle cx="493.03" cy="178.21" r="1.1" fill="#111"/>
<circle cx="490.91" cy="225.09" r="1.1" fill="#111"/>
<circle cx="489.28" cy="213.46" r="1.1" fill="#111"/>
<circle cx="500.85" cy="197.39" r="1.1" fill="#111"/>
<circle cx="486.71" cy="189.81" r="1.1" fill="#111"/>
<circle cx="498" cy="209.6" r="1.1" fill="#111"/>
<circle cx="503.2" cy="206.16" r="1.1" fill="#111"/>
<circle cx="489.21" cy="202.74" r="1.1" fill="#111"/>
<circle cx="504.03" cy="188.75" r="1.1" fill="#111"/>
<circle cx="501.32" cy="203.24" r="1.1" fill="#111"/>
<circle cx="484.87" cy="185.41" r="1.1" fill="#111"/>
<circle cx="494.02" cy="199.22" r="1.1" fill="#111"/>
<circle cx="487.45" cy="196.11" r="1.1" fill="#111"/>
<circle cx="499.22" cy="237.85" r="1.1" fill="#111"/>
<circle cx="499.02" cy="216.96" r="1.1" fill="#111"/>
<circle cx="500.8" cy="197.23" r="1.1" fill="#111"/>
<circle cx="496.83" cy="210.22" r="1.1" fill="#111"/>
<circle cx="492.61" cy="185.94" r="1.1" fill="#111"/>
<circle cx="484.85" cy="208.59" r="1.1" fill="#111"/>
<circle cx="495.21" cy="237.5" r="1.1" fill="#111"/>
<circle cx="496.19" cy="225.84" r="1.1" fill="#111"/>
<circle cx="489.61" cy="209.38" r="1.1" fill="#111"/>
<circle cx="503.31" cy="170.45" r="1.1" fill="#111"/>
<circle cx="507.95" cy="206.75" r="1.1" fill="#111"/>
<circle cx="487.35" cy="196.93" r="1.1" fill="#111"/>
<circle cx="494.3" cy="184.11" r="1.1" fill="#111"/>
<circle cx="500.52" cy="184.52" r="1.1" fill="#111"/>
<circle cx="496.65" cy="180.26" r="1.1" fill="#111"/>
<circle cx="487.04" cy="210.04" r="1.1" fill="#111"/>
<circle cx="496.85" cy="211.15" r="1.1" fill="#111"/>
<circle cx="489.13" cy="171.91" r="1.1" fill="#111"/>
<circle cx="501.9" cy="184.9" r="1.1" fill="#111"/>
<circle cx="498.26" cy="198.88" r="1.1" fill="#111"/>
<circle cx="485.37" cy="174.54" r="1.1" fill="#111"/>
<circle cx="499.57" cy="237.69" r="1.1" fill="#111"/>
<circle cx="499.91" cy="237.66" r="1.1" fill="#111"/>
<circle cx="490.78" cy="205.96" r="1.1" fill="#111"/>
<circle cx="493.57" cy="213.1" r="1.1" fill="#111"/>
<circle cx="492.81" cy="237.87" r="1.1" fill="#111"/>
<circle cx="482.63" cy="195.06" r="1.1" fill="#111"/>
<circle cx="493.14" cy="237.5" r="1.1" fill="#111"/>
<circle cx="501.82" cy="194.78" r="1.1" fill="#111"/>
<circle cx="495.46" cy="204" r="2.7" fill="#fff"/>
<rect x="416" y="162.7" width="97.8" height="77.8" fill="none" stroke="#8A8A8A" stroke-width="0.9"/>
<line x1="413.6" y1="237.8" x2="416" y2="237.8" stroke="#333333" stroke-width="0.8"/>
<text x="412" y="241.69" font-size="10.8" text-anchor="end" fill="#4D4D4D" color="#4D4D4D">0</text>
<line x1="413.6" y1="218.9" x2="416" y2="218.9" stroke="#333333" stroke-width="0.8"/>
<text x="412" y="222.79" font-size="10.8" text-anchor="end" fill="#4D4D4D" color="#4D4D4D">2</text>
<line x1="413.6" y1="200" x2="416" y2="200" stroke="#333333" stroke-width="0.8"/>
<text x="412" y="203.89" font-size="10.8" text-anchor="end" fill="#4D4D4D" color="#4D4D4D">4</text>
<line x1="413.6" y1="181.1" x2="416" y2="181.1" stroke="#333333" stroke-width="0.8"/>
<text x="412" y="184.99" font-size="10.8" text-anchor="end" fill="#4D4D4D" color="#4D4D4D">6</text>
<line x1="434.34" y1="240.5" x2="434.34" y2="242.9" stroke="#333333" stroke-width="0.8"/>
<line x1="464.9" y1="240.5" x2="464.9" y2="242.9" stroke="#333333" stroke-width="0.8"/>
<line x1="495.46" y1="240.5" x2="495.46" y2="242.9" stroke="#333333" stroke-width="0.8"/>
<text x="398.2" y="199.5" font-size="13" text-anchor="middle" fill="#000" color="#000" transform="rotate(-90 398.2 199.5)">PPDPF</text>
<path d="M579.47 203.23C579.47 202.53 579.4 200.41 579.47 199.03C579.54 197.64 579.19 196.28 579.87 194.9C580.55 193.53 582.7 191.97 583.57 190.78C584.44 189.58 584.99 188.71 585.07 187.7C585.15 186.69 584.92 185.9 584.07 184.7C583.22 183.5 581.34 181.89 579.97 180.5C578.6 179.11 576.79 177.74 575.87 176.38C574.95 175.01 574.74 173.46 574.47 172.32C574.2 171.19 574.44 170.24 574.27 169.55C574.1 168.86 573.6 168.43 573.47 168.2L571.07 168.2C570.94 168.43 570.44 168.86 570.27 169.55C570.1 170.24 570.34 171.19 570.07 172.32C569.8 173.46 569.59 175.01 568.67 176.38C567.75 177.74 565.94 179.11 564.57 180.5C563.2 181.89 561.32 183.5 560.47 184.7C559.62 185.9 559.39 186.69 559.47 187.7C559.55 188.71 560.1 189.58 560.97 190.78C561.84 191.97 563.99 193.53 564.67 194.9C565.35 196.28 565 197.64 565.07 199.03C565.14 200.41 565.07 202.53 565.07 203.23Z" fill="#0A8A12" stroke="#1A1A1A" stroke-width="0.55"/>
<circle cx="560.47" cy="188.28" r="1.1" fill="#111"/>
<circle cx="583.79" cy="185.71" r="1.1" fill="#111"/>
<circle cx="562.17" cy="181.38" r="1.1" fill="#111"/>
<circle cx="584.62" cy="197.33" r="1.1" fill="#111"/>
<circle cx="565.46" cy="185.73" r="1.1" fill="#111"/>
<circle cx="571.55" cy="188.72" r="1.1" fill="#111"/>
<circle cx="574.77" cy="171.5" r="1.1" fill="#111"/>
<circle cx="567" cy="186.67" r="1.1" fill="#111"/>
<circle cx="584.79" cy="181.31" r="1.1" fill="#111"/>
<circle cx="572.5" cy="184.63" r="1.1" fill="#111"/>
<circle cx="576.57" cy="203.01" r="1.1" fill="#111"/>
<circle cx="573.9" cy="188.45" r="1.1" fill="#111"/>
<circle cx="559.55" cy="186.92" r="1.1" fill="#111"/>
<circle cx="571.75" cy="177.37" r="1.1" fill="#111"/>
<circle cx="578.85" cy="190.7" r="1.1" fill="#111"/>
<circle cx="567.87" cy="186.52" r="1.1" fill="#111"/>
<circle cx="572.27" cy="190" r="2.7" fill="#fff"/>
<path d="M612.15 237.8C612.05 237.68 612.37 237.68 611.55 237.05C610.73 236.43 608.7 235.05 607.25 234.05C605.8 233.05 603.73 231.74 602.85 231.05C601.97 230.36 602.12 231.15 601.95 229.93C601.78 228.7 601.73 225.78 601.85 223.7C601.97 221.63 602.4 219.53 602.65 217.48C602.9 215.43 603.35 212.83 603.35 211.4C603.35 209.97 603.03 209.53 602.65 208.93C602.27 208.33 601.32 207.99 601.05 207.8L599.05 207.8C598.78 207.99 597.83 208.33 597.45 208.93C597.07 209.53 596.75 209.97 596.75 211.4C596.75 212.83 597.2 215.43 597.45 217.48C597.7 219.53 598.13 221.63 598.25 223.7C598.37 225.78 598.32 228.7 598.15 229.93C597.98 231.15 598.13 230.36 597.25 231.05C596.37 231.74 594.3 233.05 592.85 234.05C591.4 235.05 589.37 236.43 588.55 237.05C587.73 237.68 588.05 237.68 587.95 237.8Z" fill="#4EEE94" stroke="#1A1A1A" stroke-width="0.55"/>
<circle cx="593.23" cy="237.88" r="1.1" fill="#111"/>
<circle cx="594.1" cy="230.56" r="1.1" fill="#111"/>
<circle cx="600.09" cy="237.56" r="1.1" fill="#111"/>
<circle cx="603.23" cy="224.87" r="1.1" fill="#111"/>
<circle cx="601.69" cy="230.95" r="1.1" fill="#111"/>
<circle cx="604.19" cy="215.97" r="1.1" fill="#111"/>
<circle cx="603.85" cy="208.41" r="1.1" fill="#111"/>
<circle cx="611.07" cy="234.14" r="1.1" fill="#111"/>
<circle cx="609.36" cy="238.21" r="1.1" fill="#111"/>
<circle cx="590.75" cy="237.52" r="1.1" fill="#111"/>
<circle cx="606.43" cy="230.18" r="1.1" fill="#111"/>
<circle cx="597.05" cy="238.28" r="1.1" fill="#111"/>
<circle cx="589.2" cy="238.19" r="1.1" fill="#111"/>
<circle cx="592.76" cy="238.24" r="1.1" fill="#111"/>
<circle cx="610.56" cy="237.63" r="1.1" fill="#111"/>
<circle cx="592.6" cy="237.84" r="1.1" fill="#111"/>
<circle cx="596.01" cy="213.21" r="1.1" fill="#111"/>
<circle cx="591.01" cy="238.27" r="1.1" fill="#111"/>
<circle cx="588.9" cy="234.3" r="1.1" fill="#111"/>
<circle cx="606.59" cy="209.43" r="1.1" fill="#111"/>
<circle cx="604.37" cy="237.41" r="1.1" fill="#111"/>
<circle cx="601.13" cy="230.27" r="1.1" fill="#111"/>
<circle cx="609.78" cy="237.64" r="1.1" fill="#111"/>
<circle cx="595.54" cy="237.41" r="1.1" fill="#111"/>
<circle cx="601.18" cy="237.71" r="1.1" fill="#111"/>
<circle cx="594.57" cy="237.79" r="1.1" fill="#111"/>
<circle cx="595.53" cy="223.32" r="1.1" fill="#111"/>
<circle cx="600.66" cy="226.82" r="1.1" fill="#111"/>
<circle cx="600.62" cy="229.98" r="1.1" fill="#111"/>
<circle cx="598.39" cy="208.41" r="1.1" fill="#111"/>
<circle cx="606.74" cy="237.75" r="1.1" fill="#111"/>
<circle cx="605.61" cy="221.35" r="1.1" fill="#111"/>
<circle cx="589.2" cy="238.13" r="1.1" fill="#111"/>
<circle cx="604.3" cy="237.33" r="1.1" fill="#111"/>
<circle cx="605.7" cy="237.34" r="1.1" fill="#111"/>
<circle cx="603.25" cy="209.68" r="1.1" fill="#111"/>
<circle cx="595.32" cy="216.85" r="1.1" fill="#111"/>
<circle cx="605.08" cy="220.19" r="1.1" fill="#111"/>
<circle cx="600.63" cy="237.97" r="1.1" fill="#111"/>
<circle cx="606.04" cy="238.1" r="1.1" fill="#111"/>
<circle cx="605.94" cy="228.92" r="1.1" fill="#111"/>
<circle cx="597.62" cy="231.3" r="1.1" fill="#111"/>
<circle cx="604.69" cy="212.86" r="1.1" fill="#111"/>
<circle cx="609.19" cy="237.37" r="1.1" fill="#111"/>
<circle cx="593.59" cy="231.73" r="1.1" fill="#111"/>
<circle cx="595.4" cy="220.5" r="1.1" fill="#111"/>
<circle cx="612.03" cy="237.76" r="1.1" fill="#111"/>
<circle cx="599.75" cy="237.76" r="1.1" fill="#111"/>
<circle cx="607.65" cy="237.62" r="1.1" fill="#111"/>
<circle cx="603.33" cy="237.88" r="1.1" fill="#111"/>
<circle cx="600.78" cy="227.5" r="1.1" fill="#111"/>
<circle cx="601.01" cy="237.65" r="1.1" fill="#111"/>
<circle cx="587.94" cy="237.46" r="1.1" fill="#111"/>
<circle cx="609.26" cy="237.88" r="1.1" fill="#111"/>
<circle cx="605.57" cy="237.93" r="1.1" fill="#111"/>
<circle cx="606.63" cy="237.53" r="1.1" fill="#111"/>
<circle cx="594.3" cy="233.54" r="1.1" fill="#111"/>
<circle cx="604.55" cy="233.33" r="1.1" fill="#111"/>
<circle cx="611.08" cy="238.14" r="1.1" fill="#111"/>
<circle cx="595.65" cy="228.63" r="1.1" fill="#111"/>
<circle cx="600.05" cy="230.4" r="2.7" fill="#fff"/>
<path d="M633.23 237.8C633.23 237.5 633.28 236.99 633.23 236C633.18 235.01 633.28 233.57 632.93 231.88C632.58 230.18 631.63 227.85 631.13 225.8C630.63 223.75 630.2 221.98 629.93 219.58C629.66 217.18 629.53 213.96 629.53 211.4C629.53 208.84 629.56 206.26 629.93 204.2C630.3 202.14 630.85 200.74 631.73 199.03C632.61 197.31 634.05 195.62 635.23 193.93C636.41 192.23 637.93 190.71 638.83 188.83C639.73 186.94 640.41 184.68 640.63 182.6C640.85 180.53 640.6 178.43 640.13 176.38C639.66 174.32 639.03 171.96 637.83 170.3C636.63 168.64 633.75 167.05 632.93 166.4L622.73 166.4C621.91 167.05 619.03 168.64 617.83 170.3C616.63 171.96 616 174.32 615.53 176.38C615.06 178.43 614.81 180.53 615.03 182.6C615.25 184.68 615.93 186.94 616.83 188.83C617.73 190.71 619.25 192.23 620.43 193.93C621.61 195.62 623.05 197.31 623.93 199.03C624.81 200.74 625.36 202.14 625.73 204.2C626.1 206.26 626.13 208.84 626.13 211.4C626.13 213.96 626 217.18 625.73 219.58C625.46 221.98 625.03 223.75 624.53 225.8C624.03 227.85 623.08 230.18 622.73 231.88C622.38 233.57 622.48 235.01 622.43 236C622.38 236.99 622.43 237.5 622.43 237.8Z" fill="#B232D4" stroke="#1A1A1A" stroke-width="0.55"/>
<circle cx="637.15" cy="183.56" r="1.1" fill="#111"/>
<circle cx="624.83" cy="237.67" r="1.1" fill="#111"/>
<circle cx="633.12" cy="184.96" r="1.1" fill="#111"/>
<circle cx="623.93" cy="179.62" r="1.1" fill="#111"/>
<circle cx="636.67" cy="174.71" r="1.1" fill="#111"/>
<circle cx="634.78" cy="191.19" r="1.1" fill="#111"/>
<circle cx="622.51" cy="178.84" r="1.1" fill="#111"/>
<circle cx="629.47" cy="190.5" r="1.1" fill="#111"/>
<circle cx="622.04" cy="191.89" r="1.1" fill="#111"/>
<circle cx="621.84" cy="174.59" r="1.1" fill="#111"/>
<circle cx="631.95" cy="185.6" r="1.1" fill="#111"/>
<circle cx="624.41" cy="186.36" r="1.1" fill="#111"/>
<circle cx="629.98" cy="170.3" r="1.1" fill="#111"/>
<circle cx="622.97" cy="193.3" r="1.1" fill="#111"/>
<circle cx="634.72" cy="180.35" r="1.1" fill="#111"/>
<circle cx="633.86" cy="200.41" r="1.1" fill="#111"/>
<circle cx="636.46" cy="183.54" r="1.1" fill="#111"/>
<circle cx="628.67" cy="237.79" r="1.1" fill="#111"/>
<circle cx="626.83" cy="238.19" r="1.1" fill="#111"/>
<circle cx="634.27" cy="209.18" r="1.1" fill="#111"/>
<circle cx="624.67" cy="238.07" r="1.1" fill="#111"/>
<circle cx="633.61" cy="195.68" r="1.1" fill="#111"/>
<circle cx="622.12" cy="237.68" r="1.1" fill="#111"/>
<circle cx="632.01" cy="223.48" r="1.1" fill="#111"/>
<circle cx="637.5" cy="168.02" r="1.1" fill="#111"/>
<circle cx="634.34" cy="197.74" r="1.1" fill="#111"/>
<circle cx="625.74" cy="206.05" r="1.1" fill="#111"/>
<circle cx="623.7" cy="202.09" r="1.1" fill="#111"/>
<circle cx="623.4" cy="212.51" r="1.1" fill="#111"/>
<circle cx="633.7" cy="235.95" r="1.1" fill="#111"/>
<circle cx="629.32" cy="176.67" r="1.1" fill="#111"/>
<circle cx="625.82" cy="187.99" r="1.1" fill="#111"/>
<circle cx="622.58" cy="237.55" r="1.1" fill="#111"/>
<circle cx="638.26" cy="174.06" r="1.1" fill="#111"/>
<circle cx="632.07" cy="218.7" r="1.1" fill="#111"/>
<circle cx="630.59" cy="180.79" r="1.1" fill="#111"/>
<circle cx="639.39" cy="184.63" r="1.1" fill="#111"/>
<circle cx="633.84" cy="237.54" r="1.1" fill="#111"/>
<circle cx="627.03" cy="179.39" r="1.1" fill="#111"/>
<circle cx="637.82" cy="195.51" r="1.1" fill="#111"/>
<circle cx="618.21" cy="232.93" r="1.1" fill="#111"/>
<circle cx="624.71" cy="179.09" r="1.1" fill="#111"/>
<circle cx="631.06" cy="226.71" r="1.1" fill="#111"/>
<circle cx="628.31" cy="189.07" r="1.1" fill="#111"/>
<circle cx="636.26" cy="172.89" r="1.1" fill="#111"/>
<circle cx="639.67" cy="187.6" r="1.1" fill="#111"/>
<circle cx="623.64" cy="238.28" r="1.1" fill="#111"/>
<circle cx="625.08" cy="187.42" r="1.1" fill="#111"/>
<circle cx="640.44" cy="175" r="1.1" fill="#111"/>
<circle cx="634.46" cy="230.88" r="1.1" fill="#111"/>
<circle cx="617.25" cy="175.95" r="1.1" fill="#111"/>
<circle cx="634.11" cy="196.09" r="1.1" fill="#111"/>
<circle cx="629.01" cy="237.49" r="1.1" fill="#111"/>
<circle cx="627.55" cy="237.82" r="1.1" fill="#111"/>
<circle cx="614.46" cy="181.81" r="1.1" fill="#111"/>
<circle cx="623.41" cy="208.45" r="1.1" fill="#111"/>
<circle cx="631.98" cy="189.47" r="1.1" fill="#111"/>
<circle cx="631.22" cy="181.18" r="1.1" fill="#111"/>
<circle cx="630.18" cy="192.07" r="1.1" fill="#111"/>
<circle cx="633.59" cy="184.14" r="1.1" fill="#111"/>
<circle cx="637.88" cy="235.24" r="1.1" fill="#111"/>
<circle cx="631.9" cy="237.88" r="1.1" fill="#111"/>
<circle cx="629.49" cy="237.31" r="1.1" fill="#111"/>
<circle cx="625.21" cy="173.71" r="1.1" fill="#111"/>
<circle cx="616.32" cy="183.69" r="1.1" fill="#111"/>
<circle cx="623.05" cy="176.49" r="1.1" fill="#111"/>
<circle cx="627.18" cy="170.18" r="1.1" fill="#111"/>
<circle cx="632.71" cy="220.41" r="1.1" fill="#111"/>
<circle cx="624.4" cy="174.12" r="1.1" fill="#111"/>
<circle cx="633.95" cy="225.19" r="1.1" fill="#111"/>
<circle cx="629.56" cy="179.18" r="1.1" fill="#111"/>
<circle cx="618.95" cy="172.66" r="1.1" fill="#111"/>
<circle cx="617.29" cy="178.43" r="1.1" fill="#111"/>
<circle cx="637.33" cy="183.84" r="1.1" fill="#111"/>
<circle cx="626.59" cy="171.38" r="1.1" fill="#111"/>
<circle cx="641.28" cy="182.18" r="1.1" fill="#111"/>
<circle cx="619.59" cy="176.5" r="1.1" fill="#111"/>
<circle cx="621.76" cy="197.35" r="1.1" fill="#111"/>
<circle cx="634.22" cy="211.61" r="1.1" fill="#111"/>
<circle cx="618.35" cy="189.55" r="1.1" fill="#111"/>
<circle cx="638.96" cy="178.29" r="1.1" fill="#111"/>
<circle cx="626.31" cy="173.76" r="1.1" fill="#111"/>
<circle cx="621.24" cy="176.79" r="1.1" fill="#111"/>
<circle cx="618.59" cy="230.06" r="1.1" fill="#111"/>
<circle cx="622.04" cy="176.49" r="1.1" fill="#111"/>
<circle cx="631.14" cy="232.26" r="1.1" fill="#111"/>
<circle cx="628.18" cy="237.44" r="1.1" fill="#111"/>
<circle cx="621.71" cy="177.02" r="1.1" fill="#111"/>
<circle cx="620.81" cy="187.81" r="1.1" fill="#111"/>
<circle cx="638.76" cy="190.8" r="1.1" fill="#111"/>
<circle cx="622.18" cy="221.98" r="1.1" fill="#111"/>
<circle cx="626.29" cy="174.78" r="1.1" fill="#111"/>
<circle cx="627.16" cy="194.72" r="1.1" fill="#111"/>
<circle cx="637.1" cy="188.92" r="1.1" fill="#111"/>
<circle cx="614.99" cy="183.78" r="1.1" fill="#111"/>
<circle cx="616.61" cy="178.82" r="1.1" fill="#111"/>
<circle cx="620.8" cy="191.25" r="1.1" fill="#111"/>
<circle cx="630.61" cy="178.79" r="1.1" fill="#111"/>
<circle cx="623.87" cy="201.94" r="1.1" fill="#111"/>
<circle cx="633.13" cy="170.83" r="1.1" fill="#111"/>
<circle cx="631.52" cy="172.95" r="1.1" fill="#111"/>
<circle cx="619.94" cy="176.68" r="1.1" fill="#111"/>
<circle cx="635.9" cy="195.69" r="1.1" fill="#111"/>
<circle cx="633.1" cy="188.76" r="1.1" fill="#111"/>
<circle cx="638.73" cy="180.13" r="1.1" fill="#111"/>
<circle cx="632.42" cy="194.98" r="1.1" fill="#111"/>
<circle cx="632.64" cy="237.73" r="1.1" fill="#111"/>
<circle cx="626.34" cy="185.07" r="1.1" fill="#111"/>
<circle cx="624.37" cy="204.54" r="1.1" fill="#111"/>
<circle cx="634.32" cy="229.22" r="1.1" fill="#111"/>
<circle cx="627.83" cy="194.5" r="2.7" fill="#fff"/>
<rect x="555.6" y="162.7" width="88.9" height="77.8" fill="none" stroke="#8A8A8A" stroke-width="0.9"/>
<line x1="553.2" y1="237.8" x2="555.6" y2="237.8" stroke="#333333" stroke-width="0.8"/>
<text x="551.6" y="241.83" font-size="11.2" text-anchor="end" fill="#4D4D4D" color="#4D4D4D">0</text>
<line x1="553.2" y1="200.3" x2="555.6" y2="200.3" stroke="#333333" stroke-width="0.8"/>
<text x="551.6" y="204.33" font-size="11.2" text-anchor="end" fill="#4D4D4D" color="#4D4D4D">5</text>
<line x1="553.2" y1="162.8" x2="555.6" y2="162.8" stroke="#333333" stroke-width="0.8"/>
<text x="551.6" y="166.83" font-size="11.2" text-anchor="end" fill="#4D4D4D" color="#4D4D4D">10</text>
<line x1="553.2" y1="219.05" x2="555.6" y2="219.05" stroke="#333333" stroke-width="0.8"/>
<line x1="553.2" y1="181.55" x2="555.6" y2="181.55" stroke="#333333" stroke-width="0.8"/>
<line x1="572.27" y1="240.5" x2="572.27" y2="242.9" stroke="#333333" stroke-width="0.8"/>
<line x1="600.05" y1="240.5" x2="600.05" y2="242.9" stroke="#333333" stroke-width="0.8"/>
<line x1="627.83" y1="240.5" x2="627.83" y2="242.9" stroke="#333333" stroke-width="0.8"/>
<text x="543.4" y="200.2" font-size="13" text-anchor="middle" fill="#000" color="#000" transform="rotate(-90 543.4 200.2)">NENF</text>
<path d="M699.06 237.8C699.06 237.16 699.15 235.44 699.06 233.93C698.98 232.43 698.78 231.35 698.56 228.77C698.35 226.19 697.94 221.87 697.76 218.45C697.59 215.03 697.38 211.14 697.51 208.24C697.65 205.34 697.92 203.1 698.56 201.04C699.2 198.97 700.25 197.58 701.36 195.88C702.48 194.17 704.15 192.35 705.26 190.82C706.38 189.3 707.38 188.3 708.06 186.74C708.75 185.18 709.5 183.35 709.36 181.47C709.23 179.59 708.16 177.17 707.26 175.45C706.36 173.73 704.51 171.87 703.96 171.15L686.96 171.15C686.41 171.87 684.56 173.73 683.66 175.45C682.76 177.17 681.7 179.59 681.56 181.47C681.43 183.35 682.18 185.18 682.86 186.74C683.55 188.3 684.55 189.3 685.66 190.82C686.78 192.35 688.45 194.17 689.56 195.88C690.68 197.58 691.72 198.97 692.36 201.04C693 203.1 693.28 205.34 693.41 208.24C693.55 211.14 693.34 215.03 693.16 218.45C692.99 221.87 692.58 226.19 692.36 228.77C692.15 231.35 691.95 232.43 691.86 233.93C691.78 235.44 691.86 237.16 691.86 237.8Z" fill="#0A8A12" stroke="#1A1A1A" stroke-width="0.55"/>
<circle cx="702.75" cy="189.95" r="1.1" fill="#111"/>
<circle cx="698.66" cy="237.61" r="1.1" fill="#111"/>
<circle cx="702.38" cy="186.02" r="1.1" fill="#111"/>
<circle cx="703.04" cy="175.81" r="1.1" fill="#111"/>
<circle cx="694.72" cy="185.33" r="1.1" fill="#111"/>
<circle cx="689.48" cy="218.43" r="1.1" fill="#111"/>
<circle cx="685.57" cy="178.08" r="1.1" fill="#111"/>
<circle cx="682.86" cy="176.82" r="1.1" fill="#111"/>
<circle cx="690.68" cy="198.48" r="1.1" fill="#111"/>
<circle cx="694.16" cy="237.82" r="1.1" fill="#111"/>
<circle cx="688.85" cy="174.95" r="1.1" fill="#111"/>
<circle cx="699.42" cy="237.93" r="1.1" fill="#111"/>
<circle cx="706.35" cy="183.57" r="1.1" fill="#111"/>
<circle cx="700.81" cy="195.9" r="1.1" fill="#111"/>
<circle cx="686.16" cy="189.5" r="1.1" fill="#111"/>
<circle cx="682.58" cy="175.1" r="1.1" fill="#111"/>
<circle cx="697.83" cy="238.17" r="1.1" fill="#111"/>
<circle cx="698.44" cy="171.15" r="1.1" fill="#111"/>
<circle cx="695.46" cy="193.8" r="2.7" fill="#fff"/>
<path d="M739.3 237.8C738.9 237.66 737.77 237.24 736.9 236.94C736.03 236.64 735.55 236.47 734.1 235.97C732.65 235.47 729.4 234.7 728.2 233.93C727 233.16 727.23 232.5 726.9 231.35C726.58 230.2 726.38 231.58 726.25 227.05C726.12 222.52 726.13 207.97 726.1 204.15L725.7 204.15C725.68 207.97 725.68 222.52 725.55 227.05C725.42 231.58 725.23 230.2 724.9 231.35C724.58 232.5 724.8 233.16 723.6 233.93C722.4 234.7 719.15 235.47 717.7 235.97C716.25 236.47 715.77 236.64 714.9 236.94C714.03 237.24 712.9 237.66 712.5 237.8Z" fill="#4EEE94" stroke="#1A1A1A" stroke-width="0.55"/>
<circle cx="728.57" cy="231.05" r="1.1" fill="#111"/>
<circle cx="713.55" cy="237.36" r="1.1" fill="#111"/>
<circle cx="718.02" cy="238.03" r="1.1" fill="#111"/>
<circle cx="728.19" cy="237.85" r="1.1" fill="#111"/>
<circle cx="735.48" cy="237.74" r="1.1" fill="#111"/>
<circle cx="730.39" cy="237.7" r="1.1" fill="#111"/>
<circle cx="738.13" cy="238.05" r="1.1" fill="#111"/>
<circle cx="725.79" cy="237.92" r="1.1" fill="#111"/>
<circle cx="714.36" cy="237.85" r="1.1" fill="#111"/>
<circle cx="722.6" cy="218.47" r="1.1" fill="#111"/>
<circle cx="723.88" cy="238.22" r="1.1" fill="#111"/>
<circle cx="731.29" cy="237.45" r="1.1" fill="#111"/>
<circle cx="731.58" cy="238.22" r="1.1" fill="#111"/>
<circle cx="731.27" cy="235.42" r="1.1" fill="#111"/>
<circle cx="731.51" cy="238.13" r="1.1" fill="#111"/>
<circle cx="733.95" cy="236.46" r="1.1" fill="#111"/>
<circle cx="735.73" cy="238.12" r="1.1" fill="#111"/>
<circle cx="735.78" cy="237.84" r="1.1" fill="#111"/>
<circle cx="720.1" cy="238.23" r="1.1" fill="#111"/>
<circle cx="725.13" cy="238.17" r="1.1" fill="#111"/>
<circle cx="733.75" cy="237.77" r="1.1" fill="#111"/>
<circle cx="714.48" cy="237.5" r="1.1" fill="#111"/>
<circle cx="726.9" cy="237.83" r="1.1" fill="#111"/>
<circle cx="729.54" cy="237.4" r="1.1" fill="#111"/>
<circle cx="713.11" cy="237.78" r="1.1" fill="#111"/>
<circle cx="737.79" cy="237.66" r="1.1" fill="#111"/>
<circle cx="738.1" cy="236.07" r="1.1" fill="#111"/>
<circle cx="734.89" cy="234.79" r="1.1" fill="#111"/>
<circle cx="724.09" cy="237.4" r="1.1" fill="#111"/>
<circle cx="724.87" cy="226.05" r="1.1" fill="#111"/>
<circle cx="735.34" cy="236.86" r="1.1" fill="#111"/>
<circle cx="733.92" cy="238.27" r="1.1" fill="#111"/>
<circle cx="735.28" cy="238.2" r="1.1" fill="#111"/>
<circle cx="721.41" cy="237.48" r="1.1" fill="#111"/>
<circle cx="722.46" cy="237.56" r="1.1" fill="#111"/>
<circle cx="729.55" cy="237.56" r="1.1" fill="#111"/>
<circle cx="725.87" cy="238.01" r="1.1" fill="#111"/>
<circle cx="729.7" cy="238.2" r="1.1" fill="#111"/>
<circle cx="724.34" cy="238.05" r="1.1" fill="#111"/>
<circle cx="721.61" cy="237.47" r="1.1" fill="#111"/>
<circle cx="725.9" cy="237" r="2.7" fill="#fff"/>
<path d="M761.44 237.8C761.32 237.16 761.14 235.44 760.74 233.93C760.34 232.43 759.62 230.83 759.04 228.77C758.45 226.71 757.44 224.13 757.24 221.57C757.04 219.01 757.17 216.12 757.84 213.4C758.5 210.67 760.04 207.81 761.24 205.23C762.44 202.65 763.8 200.16 765.04 197.92C766.27 195.68 767.82 193.85 768.64 191.79C769.45 189.73 770.15 187.78 769.94 185.56C769.72 183.33 768.37 180.66 767.34 178.46C766.3 176.26 764.97 174.36 763.74 172.33C762.5 170.31 760.57 167.32 759.94 166.31L752.74 166.31C752.1 167.32 750.17 170.31 748.94 172.33C747.7 174.36 746.37 176.26 745.34 178.46C744.3 180.66 742.95 183.33 742.74 185.56C742.52 187.78 743.22 189.73 744.04 191.79C744.85 193.85 746.4 195.68 747.64 197.92C748.87 200.16 750.24 202.65 751.44 205.23C752.64 207.81 754.17 210.67 754.84 213.4C755.5 216.12 755.64 219.01 755.44 221.57C755.24 224.13 754.22 226.71 753.64 228.77C753.05 230.83 752.34 232.43 751.94 233.93C751.54 235.44 751.35 237.16 751.24 237.8Z" fill="#B232D4" stroke="#1A1A1A" stroke-width="0.55"/>
<circle cx="751.05" cy="186.47" r="1.1" fill="#111"/>
<circle cx="768.9" cy="176.25" r="1.1" fill="#111"/>
<circle cx="763.74" cy="180.12" r="1.1" fill="#111"/>
<circle cx="757.96" cy="187.75" r="1.1" fill="#111"/>
<circle cx="754.19" cy="181.01" r="1.1" fill="#111"/>
<circle cx="748.82" cy="230.12" r="1.1" fill="#111"/>
<circle cx="760.02" cy="177.13" r="1.1" fill="#111"/>
<circle cx="748.84" cy="179.08" r="1.1" fill="#111"/>
<circle cx="746.87" cy="186.19" r="1.1" fill="#111"/>
<circle cx="750.16" cy="199.75" r="1.1" fill="#111"/>
<circle cx="761.87" cy="237.52" r="1.1" fill="#111"/>
<circle cx="761.61" cy="237.84" r="1.1" fill="#111"/>
<circle cx="748.92" cy="190.88" r="1.1" fill="#111"/>
<circle cx="763.58" cy="201.41" r="1.1" fill="#111"/>
<circle cx="754.44" cy="195.47" r="1.1" fill="#111"/>
<circle cx="743.14" cy="190.02" r="1.1" fill="#111"/>
<circle cx="759.77" cy="169.59" r="1.1" fill="#111"/>
<circle cx="746.42" cy="186.18" r="1.1" fill="#111"/>
<circle cx="754.56" cy="179.85" r="1.1" fill="#111"/>
<circle cx="750.53" cy="238.1" r="1.1" fill="#111"/>
<circle cx="762.97" cy="180.04" r="1.1" fill="#111"/>
<circle cx="744.18" cy="190.62" r="1.1" fill="#111"/>
<circle cx="751.48" cy="180.96" r="1.1" fill="#111"/>
<circle cx="754.38" cy="188.06" r="1.1" fill="#111"/>
<circle cx="764.43" cy="202.52" r="1.1" fill="#111"/>
<circle cx="755.83" cy="208.35" r="1.1" fill="#111"/>
<circle cx="744.54" cy="201.25" r="1.1" fill="#111"/>
<circle cx="754.8" cy="238.01" r="1.1" fill="#111"/>
<circle cx="750.31" cy="236.67" r="1.1" fill="#111"/>
<circle cx="744.27" cy="190" r="1.1" fill="#111"/>
<circle cx="749.78" cy="190.98" r="1.1" fill="#111"/>
<circle cx="757.48" cy="238.01" r="1.1" fill="#111"/>
<circle cx="769.51" cy="187.04" r="1.1" fill="#111"/>
<circle cx="768.93" cy="186.65" r="1.1" fill="#111"/>
<circle cx="746.35" cy="178.12" r="1.1" fill="#111"/>
<circle cx="752.89" cy="198.99" r="1.1" fill="#111"/>
<circle cx="754.22" cy="184.19" r="1.1" fill="#111"/>
<circle cx="743.02" cy="179.37" r="1.1" fill="#111"/>
<circle cx="754.28" cy="206" r="1.1" fill="#111"/>
<circle cx="752.71" cy="180.97" r="1.1" fill="#111"/>
<circle cx="752.08" cy="189.5" r="1.1" fill="#111"/>
<circle cx="755.32" cy="223.86" r="1.1" fill="#111"/>
<circle cx="743.51" cy="184.72" r="1.1" fill="#111"/>
<circle cx="749.75" cy="184" r="1.1" fill="#111"/>
<circle cx="752.26" cy="174.35" r="1.1" fill="#111"/>
<circle cx="760.27" cy="179.77" r="1.1" fill="#111"/>
<circle cx="761.63" cy="184.39" r="1.1" fill="#111"/>
<circle cx="743.83" cy="191.03" r="1.1" fill="#111"/>
<circle cx="754.9" cy="186.19" r="1.1" fill="#111"/>
<circle cx="754.88" cy="187.01" r="1.1" fill="#111"/>
<circle cx="755.26" cy="186.2" r="1.1" fill="#111"/>
<circle cx="762.12" cy="204.87" r="1.1" fill="#111"/>
<circle cx="752.81" cy="197.78" r="1.1" fill="#111"/>
<circle cx="750.07" cy="170" r="1.1" fill="#111"/>
<circle cx="757.56" cy="237.42" r="1.1" fill="#111"/>
<circle cx="762.23" cy="216.14" r="1.1" fill="#111"/>
<circle cx="755.34" cy="237.81" r="1.1" fill="#111"/>
<circle cx="767.77" cy="172.57" r="1.1" fill="#111"/>
<circle cx="755.36" cy="186.49" r="1.1" fill="#111"/>
<circle cx="757" cy="234" r="1.1" fill="#111"/>
<circle cx="749.95" cy="173.13" r="1.1" fill="#111"/>
<circle cx="764.99" cy="237.28" r="1.1" fill="#111"/>
<circle cx="754.44" cy="193.99" r="1.1" fill="#111"/>
<circle cx="744.93" cy="179.48" r="1.1" fill="#111"/>
<circle cx="745.58" cy="172.23" r="1.1" fill="#111"/>
<circle cx="754.23" cy="182.5" r="1.1" fill="#111"/>
<circle cx="769.45" cy="197.74" r="1.1" fill="#111"/>
<circle cx="748.51" cy="167.39" r="1.1" fill="#111"/>
<circle cx="764.9" cy="194.29" r="1.1" fill="#111"/>
<circle cx="768.61" cy="185.93" r="1.1" fill="#111"/>
<circle cx="767.52" cy="188.47" r="1.1" fill="#111"/>
<circle cx="755.55" cy="181.9" r="1.1" fill="#111"/>
<circle cx="760.59" cy="189.32" r="1.1" fill="#111"/>
<circle cx="743.98" cy="187.51" r="1.1" fill="#111"/>
<circle cx="762.86" cy="187.08" r="1.1" fill="#111"/>
<circle cx="760.88" cy="192.76" r="1.1" fill="#111"/>
<circle cx="750.71" cy="185.14" r="1.1" fill="#111"/>
<circle cx="753.31" cy="238.06" r="1.1" fill="#111"/>
<circle cx="760.92" cy="206.75" r="1.1" fill="#111"/>
<circle cx="744.74" cy="176.64" r="1.1" fill="#111"/>
<circle cx="763.67" cy="199.07" r="1.1" fill="#111"/>
<circle cx="766.99" cy="195.6" r="1.1" fill="#111"/>
<circle cx="760.02" cy="185.04" r="1.1" fill="#111"/>
<circle cx="767.13" cy="197.1" r="1.1" fill="#111"/>
<circle cx="750.68" cy="180.58" r="1.1" fill="#111"/>
<circle cx="751.32" cy="171.4" r="1.1" fill="#111"/>
<circle cx="746.12" cy="187.03" r="1.1" fill="#111"/>
<circle cx="746.13" cy="186.32" r="1.1" fill="#111"/>
<circle cx="750.03" cy="237.78" r="1.1" fill="#111"/>
<circle cx="754.46" cy="234.9" r="1.1" fill="#111"/>
<circle cx="751.79" cy="197.13" r="1.1" fill="#111"/>
<circle cx="761.35" cy="237.31" r="1.1" fill="#111"/>
<circle cx="758.35" cy="193.95" r="1.1" fill="#111"/>
<circle cx="756.78" cy="186.62" r="1.1" fill="#111"/>
<circle cx="753.64" cy="182.68" r="1.1" fill="#111"/>
<circle cx="750.17" cy="199.41" r="1.1" fill="#111"/>
<circle cx="756.65" cy="237.38" r="1.1" fill="#111"/>
<circle cx="744.32" cy="200.7" r="1.1" fill="#111"/>
<circle cx="751.83" cy="188.82" r="1.1" fill="#111"/>
<circle cx="751.96" cy="194.03" r="1.1" fill="#111"/>
<circle cx="746.5" cy="191.6" r="1.1" fill="#111"/>
<circle cx="750.35" cy="227.18" r="1.1" fill="#111"/>
<circle cx="753" cy="210.73" r="1.1" fill="#111"/>
<circle cx="763.74" cy="203.86" r="1.1" fill="#111"/>
<circle cx="757.67" cy="219.58" r="1.1" fill="#111"/>
<circle cx="751.49" cy="190.55" r="1.1" fill="#111"/>
<circle cx="756.02" cy="178.19" r="1.1" fill="#111"/>
<circle cx="759.11" cy="237.68" r="1.1" fill="#111"/>
<circle cx="763.14" cy="191.55" r="1.1" fill="#111"/>
<circle cx="753.16" cy="172.89" r="1.1" fill="#111"/>
<circle cx="765.33" cy="186.91" r="1.1" fill="#111"/>
<circle cx="753.6" cy="176.17" r="1.1" fill="#111"/>
<circle cx="753.59" cy="200.66" r="1.1" fill="#111"/>
<circle cx="762.21" cy="237.63" r="1.1" fill="#111"/>
<circle cx="744.61" cy="182.91" r="1.1" fill="#111"/>
<circle cx="749.06" cy="201.56" r="1.1" fill="#111"/>
<circle cx="757.13" cy="174.43" r="1.1" fill="#111"/>
<circle cx="750.47" cy="237.81" r="1.1" fill="#111"/>
<circle cx="758.68" cy="181.09" r="1.1" fill="#111"/>
<circle cx="766.67" cy="183.89" r="1.1" fill="#111"/>
<circle cx="756.34" cy="194.1" r="2.7" fill="#fff"/>
<rect x="677.2" y="162.7" width="97.4" height="77.8" fill="none" stroke="#8A8A8A" stroke-width="0.9"/>
<line x1="674.8" y1="237.8" x2="677.2" y2="237.8" stroke="#333333" stroke-width="0.8"/>
<text x="673.2" y="241.69" font-size="10.8" text-anchor="end" fill="#4D4D4D" color="#4D4D4D">0</text>
<line x1="674.8" y1="216.3" x2="677.2" y2="216.3" stroke="#333333" stroke-width="0.8"/>
<text x="673.2" y="220.19" font-size="10.8" text-anchor="end" fill="#4D4D4D" color="#4D4D4D">2</text>
<line x1="674.8" y1="194.8" x2="677.2" y2="194.8" stroke="#333333" stroke-width="0.8"/>
<text x="673.2" y="198.69" font-size="10.8" text-anchor="end" fill="#4D4D4D" color="#4D4D4D">4</text>
<line x1="674.8" y1="173.3" x2="677.2" y2="173.3" stroke="#333333" stroke-width="0.8"/>
<text x="673.2" y="177.19" font-size="10.8" text-anchor="end" fill="#4D4D4D" color="#4D4D4D">6</text>
<line x1="695.46" y1="240.5" x2="695.46" y2="242.9" stroke="#333333" stroke-width="0.8"/>
<line x1="725.9" y1="240.5" x2="725.9" y2="242.9" stroke="#333333" stroke-width="0.8"/>
<line x1="756.34" y1="240.5" x2="756.34" y2="242.9" stroke="#333333" stroke-width="0.8"/>
<text x="663" y="199.9" font-size="13" text-anchor="middle" fill="#000" color="#000" transform="rotate(-90 663 199.9)">EDARADD</text>
<path d="M838.32 237.3C838.24 236.9 838.15 235.95 837.82 234.87C837.49 233.8 836.92 232.36 836.32 230.83C835.72 229.3 834.3 227.41 834.22 225.71C834.14 224 834.79 222.3 835.82 220.58C836.85 218.87 839.05 217.27 840.42 215.4C841.79 213.52 843.34 211.37 844.02 209.33C844.7 207.28 844.6 205.36 844.52 203.13C844.44 200.89 844.12 198.15 843.52 195.92C842.92 193.68 842 191.52 840.92 189.72C839.84 187.91 837.67 185.84 837.02 185.06L826.82 185.06C826.17 185.84 824 187.91 822.92 189.72C821.84 191.52 820.92 193.68 820.32 195.92C819.72 198.15 819.4 200.89 819.32 203.13C819.24 205.36 819.14 207.28 819.82 209.33C820.5 211.37 822.05 213.52 823.42 215.4C824.79 217.27 826.99 218.87 828.02 220.58C829.05 222.3 829.7 224 829.62 225.71C829.54 227.41 828.12 229.3 827.52 230.83C826.92 232.36 826.35 233.8 826.02 234.87C825.69 235.95 825.6 236.9 825.52 237.3Z" fill="#0A8A12" stroke="#1A1A1A" stroke-width="0.55"/>
<circle cx="823.84" cy="208.07" r="1.1" fill="#111"/>
<circle cx="844.15" cy="215.24" r="1.1" fill="#111"/>
<circle cx="837.05" cy="192.6" r="1.1" fill="#111"/>
<circle cx="822.87" cy="216.72" r="1.1" fill="#111"/>
<circle cx="841" cy="215.79" r="1.1" fill="#111"/>
<circle cx="822.81" cy="204.43" r="1.1" fill="#111"/>
<circle cx="825.7" cy="237.68" r="1.1" fill="#111"/>
<circle cx="829.33" cy="186.45" r="1.1" fill="#111"/>
<circle cx="831.47" cy="193.06" r="1.1" fill="#111"/>
<circle cx="822.17" cy="190.03" r="1.1" fill="#111"/>
<circle cx="829.67" cy="213.05" r="1.1" fill="#111"/>
<circle cx="835.56" cy="236.91" r="1.1" fill="#111"/>
<circle cx="835.33" cy="237.12" r="1.1" fill="#111"/>
<circle cx="826.2" cy="236.86" r="1.1" fill="#111"/>
<circle cx="832.14" cy="237.03" r="1.1" fill="#111"/>
<circle cx="843.48" cy="201.86" r="1.1" fill="#111"/>
<circle cx="839.6" cy="201.06" r="1.1" fill="#111"/>
<circle cx="834.48" cy="237.71" r="1.1" fill="#111"/>
<circle cx="829.51" cy="200.87" r="1.1" fill="#111"/>
<circle cx="839.15" cy="217.56" r="1.1" fill="#111"/>
<circle cx="831.92" cy="209.4" r="2.7" fill="#fff"/>
<path d="M869.95 237.3C870.1 237.13 870.67 236.69 870.85 236.29C871.03 235.88 871.07 235.95 871.05 234.87C871.03 233.8 870.88 231.69 870.75 229.82C870.62 227.94 870.17 226.02 870.25 223.62C870.33 221.21 871.12 217.78 871.25 215.4C871.38 213.01 871.48 211.04 871.05 209.33C870.62 207.62 869.77 206.54 868.65 205.15C867.53 203.76 865.52 202.13 864.35 200.97C863.18 199.81 862.33 198.89 861.65 198.21C860.97 197.52 860.48 197.08 860.25 196.86L858.65 196.86C858.42 197.08 857.93 197.52 857.25 198.21C856.57 198.89 855.72 199.81 854.55 200.97C853.38 202.13 851.37 203.76 850.25 205.15C849.13 206.54 848.28 207.62 847.85 209.33C847.42 211.04 847.52 213.01 847.65 215.4C847.78 217.78 848.57 221.21 848.65 223.62C848.73 226.02 848.28 227.94 848.15 229.82C848.02 231.69 847.87 233.8 847.85 234.87C847.83 235.95 847.87 235.88 848.05 236.29C848.23 236.69 848.8 237.13 848.95 237.3Z" fill="#4EEE94" stroke="#1A1A1A" stroke-width="0.55"/>
<circle cx="848.53" cy="236.47" r="1.1" fill="#111"/>
<circle cx="858.14" cy="237.51" r="1.1" fill="#111"/>
<circle cx="860.65" cy="224.3" r="1.1" fill="#111"/>
<circle cx="854.63" cy="230.29" r="1.1" fill="#111"/>
<circle cx="863.46" cy="229.77" r="1.1" fill="#111"/>
<circle cx="854.85" cy="204.8" r="1.1" fill="#111"/>
<circle cx="846.82" cy="211.18" r="1.1" fill="#111"/>
<circle cx="861.69" cy="221.29" r="1.1" fill="#111"/>
<circle cx="871.21" cy="216.04" r="1.1" fill="#111"/>
<circle cx="865.83" cy="211.06" r="1.1" fill="#111"/>
<circle cx="872.51" cy="227.47" r="1.1" fill="#111"/>
<circle cx="854.36" cy="205.03" r="1.1" fill="#111"/>
<circle cx="862.71" cy="214.48" r="1.1" fill="#111"/>
<circle cx="853.11" cy="220.03" r="1.1" fill="#111"/>
<circle cx="846.57" cy="209.53" r="1.1" fill="#111"/>
<circle cx="848.36" cy="237" r="1.1" fill="#111"/>
<circle cx="848.42" cy="213.96" r="1.1" fill="#111"/>
<circle cx="848.25" cy="236.94" r="1.1" fill="#111"/>
<circle cx="862.83" cy="231" r="1.1" fill="#111"/>
<circle cx="853.53" cy="231.8" r="1.1" fill="#111"/>
<circle cx="846.22" cy="225.78" r="1.1" fill="#111"/>
<circle cx="862.54" cy="202.35" r="1.1" fill="#111"/>
<circle cx="858.31" cy="232.98" r="1.1" fill="#111"/>
<circle cx="860.1" cy="237.22" r="1.1" fill="#111"/>
<circle cx="866.76" cy="220.82" r="1.1" fill="#111"/>
<circle cx="855.17" cy="216.59" r="1.1" fill="#111"/>
<circle cx="854.05" cy="213.92" r="1.1" fill="#111"/>
<circle cx="867.86" cy="237.39" r="1.1" fill="#111"/>
<circle cx="855.69" cy="207.11" r="1.1" fill="#111"/>
<circle cx="850.48" cy="212.35" r="1.1" fill="#111"/>
<circle cx="854.88" cy="227.99" r="1.1" fill="#111"/>
<circle cx="864.74" cy="210.43" r="1.1" fill="#111"/>
<circle cx="863.34" cy="205.85" r="1.1" fill="#111"/>
<circle cx="868.22" cy="205.7" r="1.1" fill="#111"/>
<circle cx="865.01" cy="215.9" r="1.1" fill="#111"/>
<circle cx="848.81" cy="217.18" r="1.1" fill="#111"/>
<circle cx="846.23" cy="212.27" r="1.1" fill="#111"/>
<circle cx="856.88" cy="205.69" r="1.1" fill="#111"/>
<circle cx="862.97" cy="217.74" r="1.1" fill="#111"/>
<circle cx="852.7" cy="236.88" r="1.1" fill="#111"/>
<circle cx="847.6" cy="219.89" r="1.1" fill="#111"/>
<circle cx="855.11" cy="223.39" r="1.1" fill="#111"/>
<circle cx="866.79" cy="202.58" r="1.1" fill="#111"/>
<circle cx="848.36" cy="226.54" r="1.1" fill="#111"/>
<circle cx="870.78" cy="237.27" r="1.1" fill="#111"/>
<circle cx="849.43" cy="222.31" r="1.1" fill="#111"/>
<circle cx="846.36" cy="220.57" r="1.1" fill="#111"/>
<circle cx="856.94" cy="236.91" r="1.1" fill="#111"/>
<circle cx="862.65" cy="206.84" r="1.1" fill="#111"/>
<circle cx="850.24" cy="217.7" r="1.1" fill="#111"/>
<circle cx="852.13" cy="215.91" r="1.1" fill="#111"/>
<circle cx="859.48" cy="211.56" r="1.1" fill="#111"/>
<circle cx="871.29" cy="211.7" r="1.1" fill="#111"/>
<circle cx="864.12" cy="205.72" r="1.1" fill="#111"/>
<circle cx="857.48" cy="230.67" r="1.1" fill="#111"/>
<circle cx="868.25" cy="237.03" r="1.1" fill="#111"/>
<circle cx="860.48" cy="233.48" r="1.1" fill="#111"/>
<circle cx="871.29" cy="210.24" r="1.1" fill="#111"/>
<circle cx="855.88" cy="224.52" r="1.1" fill="#111"/>
<circle cx="846.51" cy="232.58" r="1.1" fill="#111"/>
<circle cx="852.85" cy="227.59" r="1.1" fill="#111"/>
<circle cx="868.6" cy="208.31" r="1.1" fill="#111"/>
<circle cx="872.88" cy="231.49" r="1.1" fill="#111"/>
<circle cx="871.61" cy="214.85" r="1.1" fill="#111"/>
<circle cx="867.75" cy="234.82" r="1.1" fill="#111"/>
<circle cx="846.28" cy="216.69" r="1.1" fill="#111"/>
<circle cx="868.58" cy="237.2" r="1.1" fill="#111"/>
<circle cx="870.03" cy="214.71" r="1.1" fill="#111"/>
<circle cx="860.68" cy="211.75" r="1.1" fill="#111"/>
<circle cx="869.06" cy="217.96" r="1.1" fill="#111"/>
<circle cx="859.12" cy="224.81" r="1.1" fill="#111"/>
<circle cx="850.93" cy="237.76" r="1.1" fill="#111"/>
<circle cx="866.38" cy="235.97" r="1.1" fill="#111"/>
<circle cx="870.71" cy="236.97" r="1.1" fill="#111"/>
<circle cx="855.35" cy="208.52" r="1.1" fill="#111"/>
<circle cx="869.73" cy="211.79" r="1.1" fill="#111"/>
<circle cx="855.53" cy="204.75" r="1.1" fill="#111"/>
<circle cx="864.58" cy="200.03" r="1.1" fill="#111"/>
<circle cx="870.22" cy="235.06" r="1.1" fill="#111"/>
<circle cx="870.54" cy="205.06" r="1.1" fill="#111"/>
<circle cx="856.29" cy="216.88" r="1.1" fill="#111"/>
<circle cx="850.41" cy="214.63" r="1.1" fill="#111"/>
<circle cx="866.23" cy="200.63" r="1.1" fill="#111"/>
<circle cx="871.97" cy="204.88" r="1.1" fill="#111"/>
<circle cx="866.93" cy="234.04" r="1.1" fill="#111"/>
<circle cx="851.46" cy="220.9" r="1.1" fill="#111"/>
<circle cx="847.1" cy="225.62" r="1.1" fill="#111"/>
<circle cx="854.99" cy="215.39" r="1.1" fill="#111"/>
<circle cx="846.31" cy="223.92" r="1.1" fill="#111"/>
<circle cx="849.85" cy="211.53" r="1.1" fill="#111"/>
<circle cx="860.42" cy="216.78" r="1.1" fill="#111"/>
<circle cx="869.62" cy="219.81" r="1.1" fill="#111"/>
<circle cx="863.04" cy="236.89" r="1.1" fill="#111"/>
<circle cx="854.58" cy="226.7" r="1.1" fill="#111"/>
<circle cx="858.71" cy="216.71" r="1.1" fill="#111"/>
<circle cx="871.36" cy="217.01" r="1.1" fill="#111"/>
<circle cx="865.37" cy="231.2" r="1.1" fill="#111"/>
<circle cx="852" cy="213.34" r="1.1" fill="#111"/>
<circle cx="848.44" cy="206.24" r="1.1" fill="#111"/>
<circle cx="865.42" cy="220.37" r="1.1" fill="#111"/>
<circle cx="850.3" cy="227" r="1.1" fill="#111"/>
<circle cx="849.63" cy="213.06" r="1.1" fill="#111"/>
<circle cx="862.55" cy="233.79" r="1.1" fill="#111"/>
<circle cx="846.55" cy="236.93" r="1.1" fill="#111"/>
<circle cx="851.37" cy="215.71" r="1.1" fill="#111"/>
<circle cx="872" cy="226.97" r="1.1" fill="#111"/>
<circle cx="856.97" cy="230.83" r="1.1" fill="#111"/>
<circle cx="861.8" cy="205.04" r="1.1" fill="#111"/>
<circle cx="871.47" cy="217.46" r="1.1" fill="#111"/>
<circle cx="851.88" cy="224.48" r="1.1" fill="#111"/>
<circle cx="859.45" cy="222.1" r="2.7" fill="#fff"/>
<path d="M888.58 237.3C888.58 236.38 888.51 234.4 888.58 231.77C888.66 229.14 888.86 224.61 889.03 221.53C889.2 218.45 889.11 215.7 889.58 213.31C890.06 210.91 890.9 209.06 891.88 207.17C892.86 205.28 894.36 203.86 895.48 201.98C896.6 200.11 897.86 197.96 898.58 195.92C899.3 193.87 899.7 191.6 899.78 189.72C899.86 187.83 899.58 186.48 899.08 184.59C898.58 182.71 897.76 180.44 896.78 178.39C895.8 176.35 894.4 174.08 893.18 172.33C891.96 170.57 890.38 168.91 889.48 167.88C888.58 166.84 888.06 166.42 887.78 166.13L886.18 166.13C885.9 166.42 885.38 166.84 884.48 167.88C883.58 168.91 882 170.57 880.78 172.33C879.56 174.08 878.16 176.35 877.18 178.39C876.2 180.44 875.38 182.71 874.88 184.59C874.38 186.48 874.1 187.83 874.18 189.72C874.26 191.6 874.66 193.87 875.38 195.92C876.1 197.96 877.36 200.11 878.48 201.98C879.6 203.86 881.1 205.28 882.08 207.17C883.06 209.06 883.91 210.91 884.38 213.31C884.86 215.7 884.76 218.45 884.93 221.53C885.1 224.61 885.31 229.14 885.38 231.77C885.46 234.4 885.38 236.38 885.38 237.3Z" fill="#B232D4" stroke="#1A1A1A" stroke-width="0.55"/>
<circle cx="882.18" cy="200.91" r="1.1" fill="#111"/>
<circle cx="885.71" cy="236.98" r="1.1" fill="#111"/>
<circle cx="900.35" cy="199.83" r="1.1" fill="#111"/>
<circle cx="879.78" cy="185.77" r="1.1" fill="#111"/>
<circle cx="884.15" cy="216.06" r="1.1" fill="#111"/>
<circle cx="899.32" cy="177.72" r="1.1" fill="#111"/>
<circle cx="884.77" cy="230.72" r="1.1" fill="#111"/>
<circle cx="889.37" cy="166.3" r="1.1" fill="#111"/>
<circle cx="891.12" cy="175.54" r="1.1" fill="#111"/>
<circle cx="891.38" cy="182.41" r="1.1" fill="#111"/>
<circle cx="884.55" cy="237.23" r="1.1" fill="#111"/>
<circle cx="897.22" cy="206.54" r="1.1" fill="#111"/>
<circle cx="897.27" cy="201.88" r="1.1" fill="#111"/>
<circle cx="894.58" cy="171.02" r="1.1" fill="#111"/>
<circle cx="895.57" cy="194.64" r="1.1" fill="#111"/>
<circle cx="897.74" cy="181.35" r="1.1" fill="#111"/>
<circle cx="895.51" cy="180.24" r="1.1" fill="#111"/>
<circle cx="891.2" cy="227.52" r="1.1" fill="#111"/>
<circle cx="898.91" cy="188.98" r="1.1" fill="#111"/>
<circle cx="898.22" cy="182.41" r="1.1" fill="#111"/>
<circle cx="886.64" cy="173.15" r="1.1" fill="#111"/>
<circle cx="884.93" cy="237.73" r="1.1" fill="#111"/>
<circle cx="893.08" cy="185.34" r="1.1" fill="#111"/>
<circle cx="898.93" cy="192.12" r="1.1" fill="#111"/>
<circle cx="876.34" cy="185.24" r="1.1" fill="#111"/>
<circle cx="879.85" cy="208.17" r="1.1" fill="#111"/>
<circle cx="893.67" cy="170.31" r="1.1" fill="#111"/>
<circle cx="885.42" cy="236.85" r="1.1" fill="#111"/>
<circle cx="895.47" cy="196.93" r="1.1" fill="#111"/>
<circle cx="897.05" cy="194.28" r="1.1" fill="#111"/>
<circle cx="886.41" cy="204.28" r="1.1" fill="#111"/>
<circle cx="896.81" cy="180.37" r="1.1" fill="#111"/>
<circle cx="899.89" cy="197.2" r="1.1" fill="#111"/>
<circle cx="878.91" cy="190.98" r="1.1" fill="#111"/>
<circle cx="884.06" cy="228.65" r="1.1" fill="#111"/>
<circle cx="886.48" cy="171.46" r="1.1" fill="#111"/>
<circle cx="900.28" cy="179.36" r="1.1" fill="#111"/>
<circle cx="895.08" cy="202.22" r="1.1" fill="#111"/>
<circle cx="882.96" cy="206.74" r="1.1" fill="#111"/>
<circle cx="884.45" cy="219" r="1.1" fill="#111"/>
<circle cx="893.29" cy="217.36" r="1.1" fill="#111"/>
<circle cx="888.82" cy="185.74" r="1.1" fill="#111"/>
<circle cx="882.79" cy="180.58" r="1.1" fill="#111"/>
<circle cx="879.04" cy="173.48" r="1.1" fill="#111"/>
<circle cx="885.65" cy="236.98" r="1.1" fill="#111"/>
<circle cx="892.55" cy="232.3" r="1.1" fill="#111"/>
<circle cx="873.85" cy="184.05" r="1.1" fill="#111"/>
<circle cx="889.18" cy="236.85" r="1.1" fill="#111"/>
<circle cx="893.68" cy="169.45" r="1.1" fill="#111"/>
<circle cx="875.04" cy="184.6" r="1.1" fill="#111"/>
<circle cx="895.81" cy="203.76" r="1.1" fill="#111"/>
<circle cx="891.4" cy="167.93" r="1.1" fill="#111"/>
<circle cx="875.72" cy="189.84" r="1.1" fill="#111"/>
<circle cx="880.91" cy="175.68" r="1.1" fill="#111"/>
<circle cx="886.08" cy="185.83" r="1.1" fill="#111"/>
<circle cx="889.74" cy="228.14" r="1.1" fill="#111"/>
<circle cx="891.86" cy="182.86" r="1.1" fill="#111"/>
<circle cx="891.88" cy="192.7" r="1.1" fill="#111"/>
<circle cx="895.26" cy="179.88" r="1.1" fill="#111"/>
<circle cx="894.9" cy="209.59" r="1.1" fill="#111"/>
<circle cx="887.81" cy="205.64" r="1.1" fill="#111"/>
<circle cx="895.55" cy="204.23" r="1.1" fill="#111"/>
<circle cx="887.59" cy="211.72" r="1.1" fill="#111"/>
<circle cx="885.47" cy="216.16" r="1.1" fill="#111"/>
<circle cx="893.12" cy="187.28" r="1.1" fill="#111"/>
<circle cx="881.1" cy="183.57" r="1.1" fill="#111"/>
<circle cx="886.92" cy="177.68" r="1.1" fill="#111"/>
<circle cx="875.09" cy="191.76" r="1.1" fill="#111"/>
<circle cx="899.86" cy="176.38" r="1.1" fill="#111"/>
<circle cx="896.92" cy="201.39" r="1.1" fill="#111"/>
<circle cx="880.58" cy="178.6" r="1.1" fill="#111"/>
<circle cx="889.01" cy="181.47" r="1.1" fill="#111"/>
<circle cx="886.67" cy="234.1" r="1.1" fill="#111"/>
<circle cx="877.4" cy="171.01" r="1.1" fill="#111"/>
<circle cx="879.32" cy="190.67" r="1.1" fill="#111"/>
<circle cx="887.24" cy="183.25" r="1.1" fill="#111"/>
<circle cx="889.86" cy="186.84" r="1.1" fill="#111"/>
<circle cx="884.88" cy="237.55" r="1.1" fill="#111"/>
<circle cx="888.18" cy="219.05" r="1.1" fill="#111"/>
<circle cx="888.86" cy="236.96" r="1.1" fill="#111"/>
<circle cx="889.25" cy="175.9" r="1.1" fill="#111"/>
<circle cx="895.83" cy="204.83" r="1.1" fill="#111"/>
<circle cx="888.85" cy="197.02" r="1.1" fill="#111"/>
<circle cx="887.68" cy="214.09" r="1.1" fill="#111"/>
<circle cx="881.49" cy="194.18" r="1.1" fill="#111"/>
<circle cx="882.93" cy="224.61" r="1.1" fill="#111"/>
<circle cx="877.27" cy="188.44" r="1.1" fill="#111"/>
<circle cx="893.8" cy="173.64" r="1.1" fill="#111"/>
<circle cx="879.99" cy="221.91" r="1.1" fill="#111"/>
<circle cx="896.66" cy="185.14" r="1.1" fill="#111"/>
<circle cx="896.93" cy="193.45" r="1.1" fill="#111"/>
<circle cx="887.14" cy="208.65" r="1.1" fill="#111"/>
<circle cx="895.76" cy="185.24" r="1.1" fill="#111"/>
<circle cx="893.57" cy="205.4" r="1.1" fill="#111"/>
<circle cx="894.36" cy="178.06" r="1.1" fill="#111"/>
<circle cx="893.62" cy="189.09" r="1.1" fill="#111"/>
<circle cx="879.6" cy="195.69" r="1.1" fill="#111"/>
<circle cx="882.55" cy="196.09" r="1.1" fill="#111"/>
<circle cx="888.77" cy="173.45" r="1.1" fill="#111"/>
<circle cx="879.61" cy="183.68" r="1.1" fill="#111"/>
<circle cx="882.86" cy="184.96" r="1.1" fill="#111"/>
<circle cx="893.74" cy="187.55" r="1.1" fill="#111"/>
<circle cx="885.19" cy="169.17" r="1.1" fill="#111"/>
<circle cx="896.34" cy="191.94" r="1.1" fill="#111"/>
<circle cx="892.96" cy="217.9" r="1.1" fill="#111"/>
<circle cx="894.93" cy="205.22" r="1.1" fill="#111"/>
<circle cx="895.13" cy="190.01" r="1.1" fill="#111"/>
<circle cx="885.34" cy="177.63" r="1.1" fill="#111"/>
<circle cx="897.87" cy="179.37" r="1.1" fill="#111"/>
<circle cx="875.52" cy="186.58" r="1.1" fill="#111"/>
<circle cx="874.83" cy="178.65" r="1.1" fill="#111"/>
<circle cx="885.4" cy="196.2" r="1.1" fill="#111"/>
<circle cx="884.97" cy="189.66" r="1.1" fill="#111"/>
<circle cx="890.79" cy="213.07" r="1.1" fill="#111"/>
<circle cx="886.58" cy="237.03" r="1.1" fill="#111"/>
<circle cx="896.94" cy="187.18" r="1.1" fill="#111"/>
<circle cx="881.82" cy="217.09" r="1.1" fill="#111"/>
<circle cx="876.21" cy="203.8" r="1.1" fill="#111"/>
<circle cx="884.27" cy="191.28" r="1.1" fill="#111"/>
<circle cx="888.05" cy="181.38" r="1.1" fill="#111"/>
<circle cx="886.98" cy="193.6" r="2.7" fill="#fff"/>
<rect x="815.4" y="162.7" width="88.1" height="77.8" fill="none" stroke="#8A8A8A" stroke-width="0.9"/>
<line x1="813" y1="237.3" x2="815.4" y2="237.3" stroke="#333333" stroke-width="0.8"/>
<text x="811.4" y="241.19" font-size="10.8" text-anchor="end" fill="#4D4D4D" color="#4D4D4D">0</text>
<line x1="813" y1="203.6" x2="815.4" y2="203.6" stroke="#333333" stroke-width="0.8"/>
<text x="811.4" y="207.49" font-size="10.8" text-anchor="end" fill="#4D4D4D" color="#4D4D4D">5</text>
<line x1="813" y1="169.9" x2="815.4" y2="169.9" stroke="#333333" stroke-width="0.8"/>
<text x="811.4" y="173.79" font-size="10.8" text-anchor="end" fill="#4D4D4D" color="#4D4D4D">10</text>
<line x1="813" y1="220.45" x2="815.4" y2="220.45" stroke="#333333" stroke-width="0.8"/>
<line x1="813" y1="186.75" x2="815.4" y2="186.75" stroke="#333333" stroke-width="0.8"/>
<line x1="831.92" y1="240.5" x2="831.92" y2="242.9" stroke="#333333" stroke-width="0.8"/>
<line x1="859.45" y1="240.5" x2="859.45" y2="242.9" stroke="#333333" stroke-width="0.8"/>
<line x1="886.98" y1="240.5" x2="886.98" y2="242.9" stroke="#333333" stroke-width="0.8"/>
<text x="798" y="198.8" font-size="13" text-anchor="middle" fill="#000" color="#000" transform="rotate(-90 798 198.8)">COL6A2</text>
<path d="M447.74 321.7C447.52 320.38 447.17 316.3 446.44 313.78C445.7 311.26 444.37 309.14 443.34 306.57C442.3 304 441 301.11 440.24 298.38C439.47 295.65 438.99 293.28 438.74 290.19C438.49 287.11 438.62 283.3 438.74 279.87C438.85 276.44 439.32 273.06 439.44 269.63C439.55 266.21 439.5 262.37 439.44 259.31C439.37 256.26 439.1 252.64 439.04 251.3L429.64 251.3C429.57 252.64 429.3 256.26 429.24 259.31C429.17 262.37 429.12 266.21 429.24 269.63C429.35 273.06 429.82 276.44 429.94 279.87C430.05 283.3 430.19 287.11 429.94 290.19C429.69 293.28 429.2 295.65 428.44 298.38C427.67 301.11 426.37 304 425.34 306.57C424.3 309.14 422.97 311.26 422.24 313.78C421.5 316.3 421.15 320.38 420.94 321.7Z" fill="#0A8A12" stroke="#1A1A1A" stroke-width="0.55"/>
<circle cx="439.25" cy="321.93" r="1.1" fill="#111"/>
<circle cx="438.69" cy="321.41" r="1.1" fill="#111"/>
<circle cx="429.77" cy="321.75" r="1.1" fill="#111"/>
<circle cx="427.61" cy="322.16" r="1.1" fill="#111"/>
<circle cx="439.61" cy="301.94" r="1.1" fill="#111"/>
<circle cx="431.51" cy="313.03" r="1.1" fill="#111"/>
<circle cx="439.88" cy="310.61" r="1.1" fill="#111"/>
<circle cx="437.69" cy="321.54" r="1.1" fill="#111"/>
<circle cx="426.22" cy="288.93" r="1.1" fill="#111"/>
<circle cx="434.2" cy="315.11" r="1.1" fill="#111"/>
<circle cx="431.87" cy="322.04" r="1.1" fill="#111"/>
<circle cx="432.1" cy="321.67" r="1.1" fill="#111"/>
<circle cx="426.81" cy="292.94" r="1.1" fill="#111"/>
<circle cx="425.75" cy="321.4" r="1.1" fill="#111"/>
<circle cx="430.47" cy="322.11" r="1.1" fill="#111"/>
<circle cx="428.31" cy="321.67" r="1.1" fill="#111"/>
<circle cx="434.34" cy="302.8" r="2.7" fill="#fff"/>
<rect x="453" y="320.8" width="9.2" height="1.8" fill="#2E2E2E"/>
<rect x="467.6" y="320.8" width="9.2" height="1.8" fill="#2E2E2E"/>
<rect x="483.56" y="320.8" width="9.2" height="1.8" fill="#2E2E2E"/>
<rect x="498.16" y="320.8" width="9.2" height="1.8" fill="#2E2E2E"/>
<rect x="416" y="247.4" width="97.8" height="78.4" fill="none" stroke="#8A8A8A" stroke-width="0.9"/>
<line x1="413.6" y1="321.7" x2="416" y2="321.7" stroke="#333333" stroke-width="0.8"/>
<text x="412" y="325.59" font-size="10.8" text-anchor="end" fill="#4D4D4D" color="#4D4D4D">0</text>
<line x1="413.6" y1="303.9" x2="416" y2="303.9" stroke="#333333" stroke-width="0.8"/>
<text x="412" y="307.79" font-size="10.8" text-anchor="end" fill="#4D4D4D" color="#4D4D4D">2</text>
<line x1="413.6" y1="286.1" x2="416" y2="286.1" stroke="#333333" stroke-width="0.8"/>
<text x="412" y="289.99" font-size="10.8" text-anchor="end" fill="#4D4D4D" color="#4D4D4D">4</text>
<line x1="413.6" y1="268.3" x2="416" y2="268.3" stroke="#333333" stroke-width="0.8"/>
<text x="412" y="272.19" font-size="10.8" text-anchor="end" fill="#4D4D4D" color="#4D4D4D">6</text>
<line x1="413.6" y1="250.5" x2="416" y2="250.5" stroke="#333333" stroke-width="0.8"/>
<text x="412" y="254.39" font-size="10.8" text-anchor="end" fill="#4D4D4D" color="#4D4D4D">8</text>
<line x1="434.34" y1="325.8" x2="434.34" y2="328.2" stroke="#333333" stroke-width="0.8"/>
<line x1="464.9" y1="325.8" x2="464.9" y2="328.2" stroke="#333333" stroke-width="0.8"/>
<line x1="495.46" y1="325.8" x2="495.46" y2="328.2" stroke="#333333" stroke-width="0.8"/>
<text x="398.2" y="282.7" font-size="13" text-anchor="middle" fill="#000" color="#000" transform="rotate(-90 398.2 282.7)">DES</text>
<path d="M579.04 322.5C579.02 321.89 579.25 320.32 578.94 318.87C578.62 317.41 577.92 315.65 577.14 313.77C576.35 311.89 575.1 309.64 574.24 307.59C573.37 305.55 572.52 303.88 571.94 301.48C571.35 299.08 570.99 296.28 570.74 293.2C570.49 290.12 570.6 286.42 570.44 283.01C570.27 279.59 570.09 276.12 569.74 272.69C569.39 269.26 568.74 266 568.34 262.43C567.94 258.86 567.5 253.14 567.34 251.28L562.74 251.28C562.57 253.14 562.14 258.86 561.74 262.43C561.34 266 560.69 269.26 560.34 272.69C559.99 276.12 559.8 279.59 559.64 283.01C559.47 286.42 559.59 290.12 559.34 293.2C559.09 296.28 558.72 299.08 558.14 301.48C557.55 303.88 556.7 305.55 555.84 307.59C554.97 309.64 553.72 311.89 552.94 313.77C552.15 315.65 551.45 317.41 551.14 318.87C550.82 320.32 551.05 321.89 551.04 322.5Z" fill="#0A8A12" stroke="#1A1A1A" stroke-width="0.55"/>
<circle cx="552.94" cy="322.81" r="1.1" fill="#111"/>
<circle cx="555.44" cy="314.58" r="1.1" fill="#111"/>
<circle cx="555.15" cy="322.9" r="1.1" fill="#111"/>
<circle cx="564.7" cy="322.14" r="1.1" fill="#111"/>
<circle cx="553.99" cy="322.37" r="1.1" fill="#111"/>
<circle cx="571.14" cy="322.99" r="1.1" fill="#111"/>
<circle cx="564.11" cy="322.62" r="1.1" fill="#111"/>
<circle cx="562.44" cy="317.85" r="1.1" fill="#111"/>
<circle cx="558.75" cy="281.15" r="1.1" fill="#111"/>
<circle cx="573.46" cy="322.86" r="1.1" fill="#111"/>
<circle cx="567.5" cy="322.07" r="1.1" fill="#111"/>
<circle cx="569.92" cy="322.56" r="1.1" fill="#111"/>
<circle cx="563.29" cy="322.45" r="1.1" fill="#111"/>
<circle cx="559.22" cy="322.93" r="1.1" fill="#111"/>
<circle cx="567.47" cy="322.18" r="1.1" fill="#111"/>
<circle cx="552.69" cy="322.14" r="1.1" fill="#111"/>
<circle cx="565.04" cy="305.6" r="2.7" fill="#fff"/>
<rect x="583.7" y="321.6" width="9.2" height="1.8" fill="#2E2E2E"/>
<rect x="598.3" y="321.6" width="9.2" height="1.8" fill="#2E2E2E"/>
<line x1="626.16" y1="307.21" x2="626.16" y2="322.5" stroke="#1A1A1A" stroke-width="0.6"/>
<rect x="614.26" y="321.6" width="9.2" height="1.8" fill="#2E2E2E"/>
<rect x="628.86" y="321.6" width="9.2" height="1.8" fill="#2E2E2E"/>
<circle cx="584.2" cy="319.2" r="0.95" fill="#111"/>
<circle cx="591" cy="321.6" r="0.95" fill="#111"/>
<circle cx="582.3" cy="321.5" r="0.95" fill="#111"/>
<circle cx="636.5" cy="308.2" r="0.95" fill="#111"/>
<circle cx="576.6" cy="251.4" r="0.95" fill="#111"/>
<rect x="546.7" y="247.4" width="97.8" height="78.4" fill="none" stroke="#8A8A8A" stroke-width="0.9"/>
<line x1="544.3" y1="322.5" x2="546.7" y2="322.5" stroke="#333333" stroke-width="0.8"/>
<text x="542.7" y="326.39" font-size="10.8" text-anchor="end" fill="#4D4D4D" color="#4D4D4D">0</text>
<line x1="544.3" y1="303.39" x2="546.7" y2="303.39" stroke="#333333" stroke-width="0.8"/>
<text x="542.7" y="307.28" font-size="10.8" text-anchor="end" fill="#4D4D4D" color="#4D4D4D">3</text>
<line x1="544.3" y1="284.28" x2="546.7" y2="284.28" stroke="#333333" stroke-width="0.8"/>
<text x="542.7" y="288.17" font-size="10.8" text-anchor="end" fill="#4D4D4D" color="#4D4D4D">6</text>
<line x1="544.3" y1="265.17" x2="546.7" y2="265.17" stroke="#333333" stroke-width="0.8"/>
<text x="542.7" y="269.06" font-size="10.8" text-anchor="end" fill="#4D4D4D" color="#4D4D4D">9</text>
<line x1="565.04" y1="325.8" x2="565.04" y2="328.2" stroke="#333333" stroke-width="0.8"/>
<line x1="595.6" y1="325.8" x2="595.6" y2="328.2" stroke="#333333" stroke-width="0.8"/>
<line x1="626.16" y1="325.8" x2="626.16" y2="328.2" stroke="#333333" stroke-width="0.8"/>
<text x="532.6" y="282.5" font-size="13" text-anchor="middle" fill="#000" color="#000" transform="rotate(-90 532.6 282.5)">DLK1</text>
<path d="M709.27 322.3C709.27 321.73 709.37 321.16 709.27 318.88C709.17 316.6 708.97 312.03 708.67 308.61C708.37 305.19 707.85 301.77 707.47 298.35C707.09 294.92 706.47 291.5 706.37 288.08C706.27 284.66 706.49 281.24 706.87 277.81C707.25 274.39 708.4 270.95 708.67 267.55C708.94 264.15 708.72 260.13 708.47 257.4C708.22 254.67 707.39 252.19 707.17 251.15L684.57 251.15C684.35 252.19 683.52 254.67 683.27 257.4C683.02 260.13 682.8 264.15 683.07 267.55C683.34 270.95 684.49 274.39 684.87 277.81C685.25 281.24 685.47 284.66 685.37 288.08C685.27 291.5 684.65 294.92 684.27 298.35C683.89 301.77 683.37 305.19 683.07 308.61C682.77 312.03 682.57 316.6 682.47 318.88C682.37 321.16 682.47 321.73 682.47 322.3Z" fill="#0A8A12" stroke="#1A1A1A" stroke-width="0.55"/>
<circle cx="698.89" cy="320.03" r="1.1" fill="#111"/>
<circle cx="691.18" cy="315.01" r="1.1" fill="#111"/>
<circle cx="703.55" cy="260.73" r="1.1" fill="#111"/>
<circle cx="706.42" cy="252.71" r="1.1" fill="#111"/>
<circle cx="701.12" cy="322.47" r="1.1" fill="#111"/>
<circle cx="685.59" cy="258.7" r="1.1" fill="#111"/>
<circle cx="704.17" cy="257.4" r="1.1" fill="#111"/>
<circle cx="687.89" cy="257.3" r="1.1" fill="#111"/>
<circle cx="703.4" cy="303.37" r="1.1" fill="#111"/>
<circle cx="707.3" cy="260.77" r="1.1" fill="#111"/>
<circle cx="703.02" cy="276.59" r="1.1" fill="#111"/>
<circle cx="686.06" cy="322.13" r="1.1" fill="#111"/>
<circle cx="706.71" cy="299.86" r="1.1" fill="#111"/>
<circle cx="697.17" cy="295.84" r="1.1" fill="#111"/>
<circle cx="687.3" cy="270.72" r="1.1" fill="#111"/>
<circle cx="686.29" cy="265.3" r="1.1" fill="#111"/>
<circle cx="691.01" cy="260.92" r="1.1" fill="#111"/>
<circle cx="693.04" cy="269.59" r="1.1" fill="#111"/>
<circle cx="695.87" cy="290.3" r="2.7" fill="#fff"/>
<path d="M739.65 322.3C739.15 322.08 738.22 321.57 736.65 321C735.08 320.43 731.75 319.74 730.25 318.88C728.75 318.01 728.2 316.81 727.65 315.81C727.1 314.81 727.14 314.14 726.95 312.86C726.76 311.58 726.6 312.27 726.5 308.14C726.4 304.01 726.38 291.42 726.35 288.08L725.95 288.08C725.93 291.42 725.9 304.01 725.8 308.14C725.7 312.27 725.54 311.58 725.35 312.86C725.16 314.14 725.2 314.81 724.65 315.81C724.1 316.81 723.55 318.01 722.05 318.88C720.55 319.74 717.22 320.43 715.65 321C714.08 321.57 713.15 322.08 712.65 322.3Z" fill="#4EEE94" stroke="#1A1A1A" stroke-width="0.55"/>
<circle cx="718.85" cy="321.85" r="1.1" fill="#111"/>
<circle cx="719.03" cy="322.68" r="1.1" fill="#111"/>
<circle cx="721.84" cy="322.65" r="1.1" fill="#111"/>
<circle cx="738.84" cy="322.13" r="1.1" fill="#111"/>
<circle cx="721.72" cy="321.92" r="1.1" fill="#111"/>
<circle cx="726.19" cy="322.36" r="1.1" fill="#111"/>
<circle cx="739.59" cy="321.94" r="1.1" fill="#111"/>
<circle cx="719.89" cy="321.8" r="1.1" fill="#111"/>
<circle cx="727.95" cy="316.98" r="1.1" fill="#111"/>
<circle cx="715.87" cy="322.27" r="1.1" fill="#111"/>
<circle cx="714.76" cy="322.31" r="1.1" fill="#111"/>
<circle cx="721.98" cy="322.29" r="1.1" fill="#111"/>
<circle cx="723.8" cy="318.77" r="1.1" fill="#111"/>
<circle cx="724.94" cy="307.58" r="1.1" fill="#111"/>
<circle cx="714.16" cy="322.77" r="1.1" fill="#111"/>
<circle cx="737.69" cy="322.53" r="1.1" fill="#111"/>
<circle cx="722.82" cy="322.17" r="1.1" fill="#111"/>
<circle cx="728.16" cy="321.93" r="1.1" fill="#111"/>
<circle cx="725.94" cy="321.99" r="1.1" fill="#111"/>
<circle cx="734.94" cy="320.16" r="1.1" fill="#111"/>
<circle cx="725.69" cy="322.49" r="1.1" fill="#111"/>
<circle cx="721.45" cy="322.4" r="1.1" fill="#111"/>
<circle cx="724.24" cy="321.56" r="1.1" fill="#111"/>
<circle cx="721" cy="322.57" r="1.1" fill="#111"/>
<circle cx="715.54" cy="320.07" r="1.1" fill="#111"/>
<circle cx="727.91" cy="320.95" r="1.1" fill="#111"/>
<circle cx="717.5" cy="322.55" r="1.1" fill="#111"/>
<circle cx="726.05" cy="322.74" r="1.1" fill="#111"/>
<circle cx="731.23" cy="321.87" r="1.1" fill="#111"/>
<circle cx="726.98" cy="322.28" r="1.1" fill="#111"/>
<circle cx="714.44" cy="322.42" r="1.1" fill="#111"/>
<circle cx="731.64" cy="322.06" r="1.1" fill="#111"/>
<circle cx="715.54" cy="320.08" r="1.1" fill="#111"/>
<circle cx="713.37" cy="322.24" r="1.1" fill="#111"/>
<circle cx="721.84" cy="322.77" r="1.1" fill="#111"/>
<circle cx="722.71" cy="322.6" r="1.1" fill="#111"/>
<circle cx="718.77" cy="322.22" r="1.1" fill="#111"/>
<circle cx="718.21" cy="322.06" r="1.1" fill="#111"/>
<circle cx="719.9" cy="322.19" r="1.1" fill="#111"/>
<circle cx="720.62" cy="322.33" r="1.1" fill="#111"/>
<circle cx="726.15" cy="320" r="2.7" fill="#fff"/>
<path d="M769.93 322.3C769.01 322.2 766.35 322.01 764.43 321.71C762.51 321.42 759.68 321.02 758.43 320.53C757.18 320.04 757.23 322.79 756.93 318.76C756.63 314.73 756.68 300.08 756.63 296.34L756.23 296.34C756.18 300.08 756.23 314.73 755.93 318.76C755.63 322.79 755.68 320.04 754.43 320.53C753.18 321.02 750.35 321.42 748.43 321.71C746.51 322.01 743.85 322.2 742.93 322.3Z" fill="#B232D4" stroke="#1A1A1A" stroke-width="0.55"/>
<circle cx="750.5" cy="322.52" r="1.1" fill="#111"/>
<circle cx="767.9" cy="322.54" r="1.1" fill="#111"/>
<circle cx="760.15" cy="322.18" r="1.1" fill="#111"/>
<circle cx="748.05" cy="322.16" r="1.1" fill="#111"/>
<circle cx="756.69" cy="322.7" r="1.1" fill="#111"/>
<circle cx="743.37" cy="322.68" r="1.1" fill="#111"/>
<circle cx="748.18" cy="322.28" r="1.1" fill="#111"/>
<circle cx="764.33" cy="322.49" r="1.1" fill="#111"/>
<circle cx="753.08" cy="322.21" r="1.1" fill="#111"/>
<circle cx="764.63" cy="322.5" r="1.1" fill="#111"/>
<circle cx="746.49" cy="322.16" r="1.1" fill="#111"/>
<circle cx="752.25" cy="321.93" r="1.1" fill="#111"/>
<circle cx="754.6" cy="322.29" r="1.1" fill="#111"/>
<circle cx="754.28" cy="322.3" r="1.1" fill="#111"/>
<circle cx="749.64" cy="322.28" r="1.1" fill="#111"/>
<circle cx="763.96" cy="322.58" r="1.1" fill="#111"/>
<circle cx="756.09" cy="322.64" r="1.1" fill="#111"/>
<circle cx="752.54" cy="322.57" r="1.1" fill="#111"/>
<circle cx="758.2" cy="321.96" r="1.1" fill="#111"/>
<circle cx="751.9" cy="322.23" r="1.1" fill="#111"/>
<circle cx="763.47" cy="322.78" r="1.1" fill="#111"/>
<circle cx="760.93" cy="322.09" r="1.1" fill="#111"/>
<circle cx="759.8" cy="322.15" r="1.1" fill="#111"/>
<circle cx="751.33" cy="322.33" r="1.1" fill="#111"/>
<circle cx="756.68" cy="313.66" r="1.1" fill="#111"/>
<circle cx="749.58" cy="322.68" r="1.1" fill="#111"/>
<circle cx="755.09" cy="322.58" r="1.1" fill="#111"/>
<circle cx="756.37" cy="322.72" r="1.1" fill="#111"/>
<circle cx="754.83" cy="322.1" r="1.1" fill="#111"/>
<circle cx="757.79" cy="322.49" r="1.1" fill="#111"/>
<circle cx="767.98" cy="322.75" r="1.1" fill="#111"/>
<circle cx="759.31" cy="322.6" r="1.1" fill="#111"/>
<circle cx="759.68" cy="322.25" r="1.1" fill="#111"/>
<circle cx="761.35" cy="322.17" r="1.1" fill="#111"/>
<circle cx="745.79" cy="322.06" r="1.1" fill="#111"/>
<circle cx="746.67" cy="321.92" r="1.1" fill="#111"/>
<circle cx="750.02" cy="321.93" r="1.1" fill="#111"/>
<circle cx="766.1" cy="322.41" r="1.1" fill="#111"/>
<circle cx="750.56" cy="322.71" r="1.1" fill="#111"/>
<circle cx="764.7" cy="322.34" r="1.1" fill="#111"/>
<circle cx="756.43" cy="321.2" r="2.7" fill="#fff"/>
<rect x="677.7" y="247.4" width="96.9" height="78.4" fill="none" stroke="#8A8A8A" stroke-width="0.9"/>
<line x1="675.3" y1="322.3" x2="677.7" y2="322.3" stroke="#333333" stroke-width="0.8"/>
<text x="673.7" y="326.19" font-size="10.8" text-anchor="end" fill="#4D4D4D" color="#4D4D4D">0</text>
<line x1="675.3" y1="298.7" x2="677.7" y2="298.7" stroke="#333333" stroke-width="0.8"/>
<text x="673.7" y="302.59" font-size="10.8" text-anchor="end" fill="#4D4D4D" color="#4D4D4D">2</text>
<line x1="675.3" y1="275.1" x2="677.7" y2="275.1" stroke="#333333" stroke-width="0.8"/>
<text x="673.7" y="278.99" font-size="10.8" text-anchor="end" fill="#4D4D4D" color="#4D4D4D">4</text>
<line x1="675.3" y1="251.5" x2="677.7" y2="251.5" stroke="#333333" stroke-width="0.8"/>
<text x="673.7" y="255.39" font-size="10.8" text-anchor="end" fill="#4D4D4D" color="#4D4D4D">6</text>
<line x1="695.87" y1="325.8" x2="695.87" y2="328.2" stroke="#333333" stroke-width="0.8"/>
<line x1="726.15" y1="325.8" x2="726.15" y2="328.2" stroke="#333333" stroke-width="0.8"/>
<line x1="756.43" y1="325.8" x2="756.43" y2="328.2" stroke="#333333" stroke-width="0.8"/>
<text x="663" y="283" font-size="13" text-anchor="middle" fill="#000" color="#000" transform="rotate(-90 663 283)">FJX1</text>
<path d="M835.74 322.3C835.66 321.4 835.66 319.18 835.24 316.91C834.83 314.63 833.88 311.37 833.24 308.63C832.61 305.89 831.81 303.19 831.44 300.44C831.08 297.7 830.79 294.91 831.04 292.17C831.29 289.42 831.98 286.71 832.94 283.98C833.91 281.26 835.94 278.54 836.84 275.8C837.74 273.06 838.39 270.61 838.34 267.52C838.29 264.44 837.36 259.99 836.54 257.29C835.73 254.6 833.96 252.33 833.44 251.34L816.04 251.34C815.53 252.33 813.76 254.6 812.94 257.29C812.13 259.99 811.19 264.44 811.14 267.52C811.09 270.61 811.74 273.06 812.64 275.8C813.54 278.54 815.58 281.26 816.54 283.98C817.51 286.71 818.19 289.42 818.44 292.17C818.69 294.91 818.41 297.7 818.04 300.44C817.68 303.19 816.88 305.89 816.24 308.63C815.61 311.37 814.66 314.63 814.24 316.91C813.83 319.18 813.83 321.4 813.74 322.3Z" fill="#0A8A12" stroke="#1A1A1A" stroke-width="0.55"/>
<circle cx="824.07" cy="322.18" r="1.1" fill="#111"/>
<circle cx="826.15" cy="312.29" r="1.1" fill="#111"/>
<circle cx="816.62" cy="322.34" r="1.1" fill="#111"/>
<circle cx="832.48" cy="322.78" r="1.1" fill="#111"/>
<circle cx="827.61" cy="276.61" r="1.1" fill="#111"/>
<circle cx="833.64" cy="322.31" r="1.1" fill="#111"/>
<circle cx="822.79" cy="322.64" r="1.1" fill="#111"/>
<circle cx="836.58" cy="322.55" r="1.1" fill="#111"/>
<circle cx="820.99" cy="302.41" r="1.1" fill="#111"/>
<circle cx="821.52" cy="277.56" r="1.1" fill="#111"/>
<circle cx="816.18" cy="322.18" r="1.1" fill="#111"/>
<circle cx="819.16" cy="321.04" r="1.1" fill="#111"/>
<circle cx="828.12" cy="272.81" r="1.1" fill="#111"/>
<circle cx="832.47" cy="265.69" r="1.1" fill="#111"/>
<circle cx="813.49" cy="321.96" r="1.1" fill="#111"/>
<circle cx="816.95" cy="299.12" r="1.1" fill="#111"/>
<circle cx="824.74" cy="290.3" r="2.7" fill="#fff"/>
<path d="M868.75 322.3C868.15 322.11 866.38 321.76 865.15 321.18C863.92 320.61 862.68 319.93 861.35 318.86C860.02 317.79 858.02 316.47 857.15 314.77C856.28 313.06 856.4 311.25 856.15 308.63C855.9 306.01 855.78 302.4 855.65 299.05C855.52 295.7 855.4 290.29 855.35 288.54L854.95 288.54C854.9 290.29 854.78 295.7 854.65 299.05C854.52 302.4 854.4 306.01 854.15 308.63C853.9 311.25 854.02 313.06 853.15 314.77C852.28 316.47 850.28 317.79 848.95 318.86C847.62 319.93 846.38 320.61 845.15 321.18C843.92 321.76 842.15 322.11 841.55 322.3Z" fill="#4EEE94" stroke="#1A1A1A" stroke-width="0.55"/>
<circle cx="853.1" cy="322.19" r="1.1" fill="#111"/>
<circle cx="842.08" cy="322.46" r="1.1" fill="#111"/>
<circle cx="845.66" cy="322.28" r="1.1" fill="#111"/>
<circle cx="863.7" cy="322.14" r="1.1" fill="#111"/>
<circle cx="864.9" cy="322.06" r="1.1" fill="#111"/>
<circle cx="868.48" cy="321.17" r="1.1" fill="#111"/>
<circle cx="856.62" cy="322.59" r="1.1" fill="#111"/>
<circle cx="865.12" cy="322.08" r="1.1" fill="#111"/>
<circle cx="856.95" cy="317.82" r="1.1" fill="#111"/>
<circle cx="852.59" cy="322.12" r="1.1" fill="#111"/>
<circle cx="856.16" cy="299.4" r="1.1" fill="#111"/>
<circle cx="861.87" cy="322.73" r="1.1" fill="#111"/>
<circle cx="862.56" cy="322.78" r="1.1" fill="#111"/>
<circle cx="853.14" cy="307.97" r="1.1" fill="#111"/>
<circle cx="865.57" cy="322.59" r="1.1" fill="#111"/>
<circle cx="858.95" cy="322.68" r="1.1" fill="#111"/>
<circle cx="859.42" cy="322.28" r="1.1" fill="#111"/>
<circle cx="850.68" cy="321.89" r="1.1" fill="#111"/>
<circle cx="847.32" cy="322.23" r="1.1" fill="#111"/>
<circle cx="849.96" cy="322.79" r="1.1" fill="#111"/>
<circle cx="852.15" cy="322.62" r="1.1" fill="#111"/>
<circle cx="842.98" cy="322.36" r="1.1" fill="#111"/>
<circle cx="863.15" cy="322.13" r="1.1" fill="#111"/>
<circle cx="855.46" cy="322.43" r="1.1" fill="#111"/>
<circle cx="843.37" cy="322.56" r="1.1" fill="#111"/>
<circle cx="866.91" cy="322.61" r="1.1" fill="#111"/>
<circle cx="843.78" cy="322.06" r="1.1" fill="#111"/>
<circle cx="857.41" cy="322.36" r="1.1" fill="#111"/>
<circle cx="859.7" cy="305.25" r="1.1" fill="#111"/>
<circle cx="851.52" cy="322.17" r="1.1" fill="#111"/>
<circle cx="866.4" cy="319.75" r="1.1" fill="#111"/>
<circle cx="853.12" cy="308.83" r="1.1" fill="#111"/>
<circle cx="850.06" cy="321.64" r="1.1" fill="#111"/>
<circle cx="851.19" cy="322.12" r="1.1" fill="#111"/>
<circle cx="852.84" cy="322.58" r="1.1" fill="#111"/>
<circle cx="865.88" cy="322.36" r="1.1" fill="#111"/>
<circle cx="853.77" cy="322.48" r="1.1" fill="#111"/>
<circle cx="860.78" cy="322.76" r="1.1" fill="#111"/>
<circle cx="852.05" cy="321.89" r="1.1" fill="#111"/>
<circle cx="852.19" cy="321.84" r="1.1" fill="#111"/>
<circle cx="844.31" cy="322.18" r="1.1" fill="#111"/>
<circle cx="868.5" cy="322.03" r="1.1" fill="#111"/>
<circle cx="842.19" cy="322.09" r="1.1" fill="#111"/>
<circle cx="842.17" cy="322.68" r="1.1" fill="#111"/>
<circle cx="842.59" cy="322.25" r="1.1" fill="#111"/>
<circle cx="855.15" cy="320" r="2.7" fill="#fff"/>
<path d="M899.36 322.3C899.06 321.99 898.52 321.37 897.56 320.44C896.59 319.51 894.56 317.96 893.56 316.72C892.56 315.48 892.22 314.39 891.56 313C890.89 311.61 890.22 309.9 889.56 308.35C888.89 306.8 888.06 306.02 887.56 303.7C887.06 301.38 886.64 297.5 886.56 294.4C886.47 291.3 886.89 288.2 887.06 285.1C887.22 282 887.56 278.9 887.56 275.8C887.56 272.7 887.19 269.6 887.06 266.5C886.92 263.4 886.92 259.68 886.76 257.2C886.59 254.72 886.17 252.55 886.06 251.62L885.06 251.62C884.94 252.55 884.52 254.72 884.36 257.2C884.19 259.68 884.19 263.4 884.06 266.5C883.92 269.6 883.56 272.7 883.56 275.8C883.56 278.9 883.89 282 884.06 285.1C884.22 288.2 884.64 291.3 884.56 294.4C884.47 297.5 884.06 301.38 883.56 303.7C883.06 306.02 882.22 306.8 881.56 308.35C880.89 309.9 880.22 311.61 879.56 313C878.89 314.39 878.56 315.48 877.56 316.72C876.56 317.96 874.52 319.51 873.56 320.44C872.59 321.37 872.06 321.99 871.76 322.3Z" fill="#B232D4" stroke="#1A1A1A" stroke-width="0.55"/>
<circle cx="883.48" cy="322.57" r="1.1" fill="#111"/>
<circle cx="894.49" cy="322.29" r="1.1" fill="#111"/>
<circle cx="882.35" cy="277.88" r="1.1" fill="#111"/>
<circle cx="885.91" cy="322" r="1.1" fill="#111"/>
<circle cx="886.91" cy="316.74" r="1.1" fill="#111"/>
<circle cx="892.55" cy="317.33" r="1.1" fill="#111"/>
<circle cx="889.05" cy="275.68" r="1.1" fill="#111"/>
<circle cx="882.21" cy="283.12" r="1.1" fill="#111"/>
<circle cx="885.37" cy="322.58" r="1.1" fill="#111"/>
<circle cx="886.18" cy="299.43" r="1.1" fill="#111"/>
<circle cx="887.27" cy="322.22" r="1.1" fill="#111"/>
<circle cx="884.19" cy="314.64" r="1.1" fill="#111"/>
<circle cx="882.54" cy="322.67" r="1.1" fill="#111"/>
<circle cx="893.84" cy="322.53" r="1.1" fill="#111"/>
<circle cx="879.67" cy="322.52" r="1.1" fill="#111"/>
<circle cx="888.41" cy="322.66" r="1.1" fill="#111"/>
<circle cx="876.94" cy="322.79" r="1.1" fill="#111"/>
<circle cx="888.61" cy="322.08" r="1.1" fill="#111"/>
<circle cx="894.05" cy="322.55" r="1.1" fill="#111"/>
<circle cx="874.59" cy="322.57" r="1.1" fill="#111"/>
<circle cx="892.65" cy="322.05" r="1.1" fill="#111"/>
<circle cx="879.56" cy="312.58" r="1.1" fill="#111"/>
<circle cx="881.68" cy="292.89" r="1.1" fill="#111"/>
<circle cx="896.13" cy="322.74" r="1.1" fill="#111"/>
<circle cx="888.89" cy="322.39" r="1.1" fill="#111"/>
<circle cx="882.62" cy="260.42" r="1.1" fill="#111"/>
<circle cx="876.01" cy="318.8" r="1.1" fill="#111"/>
<circle cx="898.72" cy="322.29" r="1.1" fill="#111"/>
<circle cx="898.14" cy="317.67" r="1.1" fill="#111"/>
<circle cx="882.09" cy="304.8" r="1.1" fill="#111"/>
<circle cx="881.3" cy="313.83" r="1.1" fill="#111"/>
<circle cx="893.2" cy="322.32" r="1.1" fill="#111"/>
<circle cx="891.05" cy="276.08" r="1.1" fill="#111"/>
<circle cx="898.39" cy="317" r="1.1" fill="#111"/>
<circle cx="881.18" cy="258.76" r="1.1" fill="#111"/>
<circle cx="877.96" cy="316.21" r="1.1" fill="#111"/>
<circle cx="888.05" cy="316.37" r="1.1" fill="#111"/>
<circle cx="879.95" cy="322.62" r="1.1" fill="#111"/>
<circle cx="894.63" cy="322.69" r="1.1" fill="#111"/>
<circle cx="890.11" cy="318.53" r="1.1" fill="#111"/>
<circle cx="880.28" cy="272.29" r="1.1" fill="#111"/>
<circle cx="888.06" cy="322.55" r="1.1" fill="#111"/>
<circle cx="873.41" cy="322.74" r="1.1" fill="#111"/>
<circle cx="883.57" cy="282.77" r="1.1" fill="#111"/>
<circle cx="897.37" cy="322.53" r="1.1" fill="#111"/>
<circle cx="892.08" cy="321.92" r="1.1" fill="#111"/>
<circle cx="883.21" cy="322.63" r="1.1" fill="#111"/>
<circle cx="881.25" cy="282.91" r="1.1" fill="#111"/>
<circle cx="877.37" cy="321.84" r="1.1" fill="#111"/>
<circle cx="889.02" cy="322.09" r="1.1" fill="#111"/>
<circle cx="880.48" cy="256.29" r="1.1" fill="#111"/>
<circle cx="874.85" cy="322.17" r="1.1" fill="#111"/>
<circle cx="892.81" cy="322.66" r="1.1" fill="#111"/>
<circle cx="886.45" cy="322.25" r="1.1" fill="#111"/>
<circle cx="877.88" cy="322.16" r="1.1" fill="#111"/>
<circle cx="888.94" cy="322.05" r="1.1" fill="#111"/>
<circle cx="895.19" cy="320.41" r="1.1" fill="#111"/>
<circle cx="897.4" cy="321.98" r="1.1" fill="#111"/>
<circle cx="884.32" cy="321.57" r="1.1" fill="#111"/>
<circle cx="886.76" cy="279.41" r="1.1" fill="#111"/>
<circle cx="885.56" cy="312" r="2.7" fill="#fff"/>
<rect x="806.5" y="247.4" width="97.3" height="78.4" fill="none" stroke="#8A8A8A" stroke-width="0.9"/>
<line x1="804.1" y1="322.3" x2="806.5" y2="322.3" stroke="#333333" stroke-width="0.8"/>
<text x="802.5" y="326.19" font-size="10.8" text-anchor="end" fill="#4D4D4D" color="#4D4D4D">0</text>
<line x1="804.1" y1="303.7" x2="806.5" y2="303.7" stroke="#333333" stroke-width="0.8"/>
<text x="802.5" y="307.59" font-size="10.8" text-anchor="end" fill="#4D4D4D" color="#4D4D4D">2</text>
<line x1="804.1" y1="285.1" x2="806.5" y2="285.1" stroke="#333333" stroke-width="0.8"/>
<text x="802.5" y="288.99" font-size="10.8" text-anchor="end" fill="#4D4D4D" color="#4D4D4D">4</text>
<line x1="804.1" y1="266.5" x2="806.5" y2="266.5" stroke="#333333" stroke-width="0.8"/>
<text x="802.5" y="270.39" font-size="10.8" text-anchor="end" fill="#4D4D4D" color="#4D4D4D">6</text>
<line x1="824.74" y1="325.8" x2="824.74" y2="328.2" stroke="#333333" stroke-width="0.8"/>
<line x1="855.15" y1="325.8" x2="855.15" y2="328.2" stroke="#333333" stroke-width="0.8"/>
<line x1="885.56" y1="325.8" x2="885.56" y2="328.2" stroke="#333333" stroke-width="0.8"/>
<text x="793.6" y="277.5" font-size="13" text-anchor="middle" fill="#000" color="#000" transform="rotate(-90 793.6 277.5)">HOXB2</text>
<path d="M435.89 639.7C435.88 639.23 435.94 638.73 435.79 636.89C435.64 635.06 435.04 631.76 434.99 628.68C434.94 625.6 435.16 621.67 435.49 618.43C435.83 615.19 436.26 611.97 436.99 609.23C437.73 606.5 438.94 604.41 439.89 602C440.84 599.59 442.01 597.17 442.69 594.77C443.38 592.37 443.91 589.83 443.99 587.61C444.08 585.39 443.79 583.48 443.19 581.43C442.59 579.39 441.59 577.35 440.39 575.33C439.19 573.3 436.73 570.3 435.99 569.29L427.79 569.29C427.06 570.3 424.59 573.3 423.39 575.33C422.19 577.35 421.19 579.39 420.59 581.43C419.99 583.48 419.71 585.39 419.79 587.61C419.88 589.83 420.41 592.37 421.09 594.77C421.78 597.17 422.94 599.59 423.89 602C424.84 604.41 426.06 606.5 426.79 609.23C427.53 611.97 427.96 615.19 428.29 618.43C428.63 621.67 428.84 625.6 428.79 628.68C428.74 631.76 428.14 635.06 427.99 636.89C427.84 638.73 427.91 639.23 427.89 639.7Z" fill="#EE0000" stroke="#1A1A1A" stroke-width="0.55"/>
<circle cx="425.24" cy="610.38" r="1.1" fill="#111"/>
<circle cx="425.95" cy="572.46" r="1.1" fill="#111"/>
<circle cx="421.73" cy="587.35" r="1.1" fill="#111"/>
<circle cx="431.17" cy="636.04" r="1.1" fill="#111"/>
<circle cx="426.85" cy="629.89" r="1.1" fill="#111"/>
<circle cx="433.8" cy="633.43" r="1.1" fill="#111"/>
<circle cx="419.65" cy="577.6" r="1.1" fill="#111"/>
<circle cx="428.2" cy="584.79" r="1.1" fill="#111"/>
<circle cx="429.91" cy="571.11" r="1.1" fill="#111"/>
<circle cx="444.86" cy="592.6" r="1.1" fill="#111"/>
<circle cx="427.49" cy="618.02" r="1.1" fill="#111"/>
<circle cx="427.76" cy="640.11" r="1.1" fill="#111"/>
<circle cx="427.45" cy="613.48" r="1.1" fill="#111"/>
<circle cx="436.16" cy="639.65" r="1.1" fill="#111"/>
<circle cx="431.13" cy="581.12" r="1.1" fill="#111"/>
<circle cx="438.6" cy="602.5" r="1.1" fill="#111"/>
<circle cx="432.69" cy="639.36" r="1.1" fill="#111"/>
<circle cx="433.71" cy="617.2" r="1.1" fill="#111"/>
<circle cx="418.82" cy="588.41" r="1.1" fill="#111"/>
<circle cx="428.16" cy="599.39" r="1.1" fill="#111"/>
<circle cx="429.95" cy="639.5" r="1.1" fill="#111"/>
<circle cx="432.07" cy="570.99" r="1.1" fill="#111"/>
<circle cx="444.67" cy="580.29" r="1.1" fill="#111"/>
<circle cx="436.98" cy="617.7" r="1.1" fill="#111"/>
<circle cx="429.76" cy="639.21" r="1.1" fill="#111"/>
<circle cx="430.65" cy="639.76" r="1.1" fill="#111"/>
<circle cx="431.36" cy="639.55" r="1.1" fill="#111"/>
<circle cx="433" cy="589.64" r="1.1" fill="#111"/>
<circle cx="439.05" cy="578.52" r="1.1" fill="#111"/>
<circle cx="436.8" cy="597.96" r="1.1" fill="#111"/>
<circle cx="431.89" cy="598" r="2.7" fill="#fff"/>
<path d="M463.25 639.7C463.15 638.9 462.75 636.76 462.65 634.93C462.55 633.09 462.27 630.75 462.65 628.68C463.03 626.61 464.02 624.55 464.95 622.5C465.88 620.45 467.18 618.44 468.25 616.39C469.32 614.35 471 611.94 471.35 610.22C471.7 608.5 471.2 607.79 470.35 606.07C469.5 604.35 467.47 601.37 466.25 599.9C465.03 598.42 463.95 597.91 463.05 597.23C462.15 596.55 461.22 596.06 460.85 595.83L457.25 595.83C456.88 596.06 455.95 596.55 455.05 597.23C454.15 597.91 453.07 598.42 451.85 599.9C450.63 601.37 448.6 604.35 447.75 606.07C446.9 607.79 446.4 608.5 446.75 610.22C447.1 611.94 448.78 614.35 449.85 616.39C450.92 618.44 452.22 620.45 453.15 622.5C454.08 624.55 455.07 626.61 455.45 628.68C455.83 630.75 455.55 633.09 455.45 634.93C455.35 636.76 454.95 638.9 454.85 639.7Z" fill="#0A8A12" stroke="#1A1A1A" stroke-width="0.55"/>
<circle cx="468.25" cy="600.67" r="1.1" fill="#111"/>
<circle cx="458.19" cy="611.08" r="1.1" fill="#111"/>
<circle cx="454.15" cy="615.4" r="1.1" fill="#111"/>
<circle cx="449.67" cy="624.37" r="1.1" fill="#111"/>
<circle cx="458.95" cy="603.91" r="1.1" fill="#111"/>
<circle cx="455.92" cy="640" r="1.1" fill="#111"/>
<circle cx="454.28" cy="621.94" r="1.1" fill="#111"/>
<circle cx="456.43" cy="609.72" r="1.1" fill="#111"/>
<circle cx="451.24" cy="616.96" r="1.1" fill="#111"/>
<circle cx="457.23" cy="607.01" r="1.1" fill="#111"/>
<circle cx="448.16" cy="611.03" r="1.1" fill="#111"/>
<circle cx="450.38" cy="606.99" r="1.1" fill="#111"/>
<circle cx="464.23" cy="613.7" r="1.1" fill="#111"/>
<circle cx="465.27" cy="638.33" r="1.1" fill="#111"/>
<circle cx="454.92" cy="604.85" r="1.1" fill="#111"/>
<circle cx="452.39" cy="617.48" r="1.1" fill="#111"/>
<circle cx="463.73" cy="634.7" r="1.1" fill="#111"/>
<circle cx="447.17" cy="608.63" r="1.1" fill="#111"/>
<circle cx="455.65" cy="599.4" r="1.1" fill="#111"/>
<circle cx="465.92" cy="609.11" r="1.1" fill="#111"/>
<circle cx="452.96" cy="627.53" r="1.1" fill="#111"/>
<circle cx="463.13" cy="610.96" r="1.1" fill="#111"/>
<circle cx="461.97" cy="610.13" r="1.1" fill="#111"/>
<circle cx="446.25" cy="609.43" r="1.1" fill="#111"/>
<circle cx="451.49" cy="613.27" r="1.1" fill="#111"/>
<circle cx="457.36" cy="603.98" r="1.1" fill="#111"/>
<circle cx="450.94" cy="607.82" r="1.1" fill="#111"/>
<circle cx="461.58" cy="614.93" r="1.1" fill="#111"/>
<circle cx="458.96" cy="615.36" r="1.1" fill="#111"/>
<circle cx="461.95" cy="615.34" r="1.1" fill="#111"/>
<circle cx="459.56" cy="624.15" r="1.1" fill="#111"/>
<circle cx="460.51" cy="639.85" r="1.1" fill="#111"/>
<circle cx="471.34" cy="602.73" r="1.1" fill="#111"/>
<circle cx="453.73" cy="616.31" r="1.1" fill="#111"/>
<circle cx="463.82" cy="598.01" r="1.1" fill="#111"/>
<circle cx="459.49" cy="616.07" r="1.1" fill="#111"/>
<circle cx="451.99" cy="604.68" r="1.1" fill="#111"/>
<circle cx="446.84" cy="608.75" r="1.1" fill="#111"/>
<circle cx="462.98" cy="607.79" r="1.1" fill="#111"/>
<circle cx="467.24" cy="619.96" r="1.1" fill="#111"/>
<circle cx="447.29" cy="605.33" r="1.1" fill="#111"/>
<circle cx="450.73" cy="629.99" r="1.1" fill="#111"/>
<circle cx="466.52" cy="623.78" r="1.1" fill="#111"/>
<circle cx="452.5" cy="602.9" r="1.1" fill="#111"/>
<circle cx="459.4" cy="617.49" r="1.1" fill="#111"/>
<circle cx="452.56" cy="602.09" r="1.1" fill="#111"/>
<circle cx="466.1" cy="614.86" r="1.1" fill="#111"/>
<circle cx="459.63" cy="608.28" r="1.1" fill="#111"/>
<circle cx="469.4" cy="603.04" r="1.1" fill="#111"/>
<circle cx="458.65" cy="618.04" r="1.1" fill="#111"/>
<circle cx="467.36" cy="621.49" r="1.1" fill="#111"/>
<circle cx="448.63" cy="623.6" r="1.1" fill="#111"/>
<circle cx="446.63" cy="615" r="1.1" fill="#111"/>
<circle cx="465.94" cy="598.06" r="1.1" fill="#111"/>
<circle cx="468.46" cy="620.19" r="1.1" fill="#111"/>
<circle cx="461.9" cy="620.98" r="1.1" fill="#111"/>
<circle cx="471.94" cy="610.72" r="1.1" fill="#111"/>
<circle cx="472.31" cy="610.04" r="1.1" fill="#111"/>
<circle cx="454.9" cy="621.08" r="1.1" fill="#111"/>
<circle cx="466.41" cy="630.96" r="1.1" fill="#111"/>
<circle cx="471.55" cy="616.99" r="1.1" fill="#111"/>
<circle cx="463.27" cy="637.76" r="1.1" fill="#111"/>
<circle cx="463.08" cy="610.86" r="1.1" fill="#111"/>
<circle cx="450.12" cy="608.9" r="1.1" fill="#111"/>
<circle cx="457.06" cy="639.25" r="1.1" fill="#111"/>
<circle cx="456.99" cy="596.78" r="1.1" fill="#111"/>
<circle cx="461.3" cy="639.62" r="1.1" fill="#111"/>
<circle cx="461.77" cy="598.71" r="1.1" fill="#111"/>
<circle cx="457.26" cy="632.06" r="1.1" fill="#111"/>
<circle cx="461.14" cy="608.63" r="1.1" fill="#111"/>
<circle cx="452.22" cy="617.4" r="1.1" fill="#111"/>
<circle cx="446.81" cy="609.19" r="1.1" fill="#111"/>
<circle cx="458.01" cy="615.6" r="1.1" fill="#111"/>
<circle cx="468.14" cy="598.62" r="1.1" fill="#111"/>
<circle cx="454.2" cy="597.22" r="1.1" fill="#111"/>
<circle cx="457.4" cy="639.74" r="1.1" fill="#111"/>
<circle cx="446.41" cy="611.17" r="1.1" fill="#111"/>
<circle cx="446.8" cy="611.72" r="1.1" fill="#111"/>
<circle cx="454.08" cy="639.95" r="1.1" fill="#111"/>
<circle cx="466.33" cy="602.97" r="1.1" fill="#111"/>
<circle cx="463.59" cy="636.39" r="1.1" fill="#111"/>
<circle cx="453" cy="611.36" r="1.1" fill="#111"/>
<circle cx="460.27" cy="617.64" r="1.1" fill="#111"/>
<circle cx="469.73" cy="607.24" r="1.1" fill="#111"/>
<circle cx="447.92" cy="621.65" r="1.1" fill="#111"/>
<circle cx="453.86" cy="639.7" r="1.1" fill="#111"/>
<circle cx="469.27" cy="611.53" r="1.1" fill="#111"/>
<circle cx="470.3" cy="605.02" r="1.1" fill="#111"/>
<circle cx="458.13" cy="610.39" r="1.1" fill="#111"/>
<circle cx="452.11" cy="636.36" r="1.1" fill="#111"/>
<circle cx="459.05" cy="616" r="2.7" fill="#fff"/>
<path d="M487.41 639.7C487.49 639.58 487.81 640.14 487.91 639C488.01 637.85 488.04 634.89 488.01 632.82C487.97 630.75 487.87 628.29 487.71 626.57C487.54 624.85 487.17 624.2 487.01 622.5C486.84 620.8 486.62 618.44 486.71 616.39C486.79 614.35 486.77 611.94 487.51 610.22C488.24 608.5 489.69 607.61 491.11 606.07C492.52 604.54 494.77 602.73 496.01 601.02C497.24 599.31 498.77 597.71 498.51 595.83C498.24 593.94 495.56 591.77 494.41 589.72C493.26 587.67 492.42 585.42 491.61 583.54C490.79 581.66 489.86 579.27 489.51 578.42L482.91 578.42C482.56 579.27 481.62 581.66 480.81 583.54C479.99 585.42 479.16 587.67 478.01 589.72C476.86 591.77 474.17 593.94 473.91 595.83C473.64 597.71 475.17 599.31 476.41 601.02C477.64 602.73 479.89 604.54 481.31 606.07C482.72 607.61 484.17 608.5 484.91 610.22C485.64 611.94 485.62 614.35 485.71 616.39C485.79 618.44 485.57 620.8 485.41 622.5C485.24 624.2 484.87 624.85 484.71 626.57C484.54 628.29 484.44 630.75 484.41 632.82C484.37 634.89 484.41 637.85 484.51 639C484.61 640.14 484.92 639.58 485.01 639.7Z" fill="#4EEE94" stroke="#1A1A1A" stroke-width="0.55"/>
<circle cx="485.86" cy="591.6" r="1.1" fill="#111"/>
<circle cx="481.79" cy="590.98" r="1.1" fill="#111"/>
<circle cx="477.15" cy="597.5" r="1.1" fill="#111"/>
<circle cx="496.57" cy="589.84" r="1.1" fill="#111"/>
<circle cx="474.3" cy="595.91" r="1.1" fill="#111"/>
<circle cx="480.44" cy="578.99" r="1.1" fill="#111"/>
<circle cx="486.2" cy="600.2" r="1.1" fill="#111"/>
<circle cx="499.34" cy="589.67" r="1.1" fill="#111"/>
<circle cx="482.57" cy="599.43" r="1.1" fill="#111"/>
<circle cx="476.65" cy="589.96" r="1.1" fill="#111"/>
<circle cx="490.62" cy="596.3" r="1.1" fill="#111"/>
<circle cx="484.54" cy="640.14" r="1.1" fill="#111"/>
<circle cx="490.6" cy="626.63" r="1.1" fill="#111"/>
<circle cx="497.17" cy="590.26" r="1.1" fill="#111"/>
<circle cx="481.72" cy="586.48" r="1.1" fill="#111"/>
<circle cx="483.9" cy="579.62" r="1.1" fill="#111"/>
<circle cx="492.54" cy="609.86" r="1.1" fill="#111"/>
<circle cx="488.53" cy="582.48" r="1.1" fill="#111"/>
<circle cx="494.6" cy="594.55" r="1.1" fill="#111"/>
<circle cx="477.8" cy="597.64" r="1.1" fill="#111"/>
<circle cx="491.88" cy="598.62" r="1.1" fill="#111"/>
<circle cx="473.09" cy="593.49" r="1.1" fill="#111"/>
<circle cx="486.55" cy="592.46" r="1.1" fill="#111"/>
<circle cx="490.23" cy="624.91" r="1.1" fill="#111"/>
<circle cx="480.99" cy="590.33" r="1.1" fill="#111"/>
<circle cx="495.9" cy="594.86" r="1.1" fill="#111"/>
<circle cx="479.95" cy="599.01" r="1.1" fill="#111"/>
<circle cx="491.51" cy="584.15" r="1.1" fill="#111"/>
<circle cx="482.76" cy="614.86" r="1.1" fill="#111"/>
<circle cx="496.68" cy="592.57" r="1.1" fill="#111"/>
<circle cx="494.52" cy="605.34" r="1.1" fill="#111"/>
<circle cx="496.88" cy="591.37" r="1.1" fill="#111"/>
<circle cx="498.86" cy="592.69" r="1.1" fill="#111"/>
<circle cx="486.94" cy="610.57" r="1.1" fill="#111"/>
<circle cx="477.33" cy="595.38" r="1.1" fill="#111"/>
<circle cx="475.73" cy="593.92" r="1.1" fill="#111"/>
<circle cx="484.47" cy="609.77" r="1.1" fill="#111"/>
<circle cx="490.5" cy="586.84" r="1.1" fill="#111"/>
<circle cx="489.82" cy="605.48" r="1.1" fill="#111"/>
<circle cx="489.22" cy="578.81" r="1.1" fill="#111"/>
<circle cx="482.71" cy="596.5" r="1.1" fill="#111"/>
<circle cx="477.05" cy="599.66" r="1.1" fill="#111"/>
<circle cx="494.08" cy="604.81" r="1.1" fill="#111"/>
<circle cx="492.68" cy="598.36" r="1.1" fill="#111"/>
<circle cx="489.41" cy="592.84" r="1.1" fill="#111"/>
<circle cx="487.82" cy="580.66" r="1.1" fill="#111"/>
<circle cx="495.51" cy="595.45" r="1.1" fill="#111"/>
<circle cx="480.64" cy="636.92" r="1.1" fill="#111"/>
<circle cx="496.06" cy="587.71" r="1.1" fill="#111"/>
<circle cx="485.1" cy="590.63" r="1.1" fill="#111"/>
<circle cx="488.78" cy="584.39" r="1.1" fill="#111"/>
<circle cx="496.51" cy="585.05" r="1.1" fill="#111"/>
<circle cx="496.65" cy="583.84" r="1.1" fill="#111"/>
<circle cx="487.75" cy="604.04" r="1.1" fill="#111"/>
<circle cx="490.85" cy="634.59" r="1.1" fill="#111"/>
<circle cx="486.21" cy="598.8" r="2.7" fill="#fff"/>
<rect x="415.6" y="565.7" width="86.9" height="77.6" fill="none" stroke="#8A8A8A" stroke-width="0.9"/>
<line x1="413.2" y1="639.7" x2="415.6" y2="639.7" stroke="#333333" stroke-width="0.8"/>
<text x="411.6" y="643.66" font-size="11" text-anchor="end" fill="#4D4D4D" color="#4D4D4D">0</text>
<line x1="413.2" y1="604.6" x2="415.6" y2="604.6" stroke="#333333" stroke-width="0.8"/>
<text x="411.6" y="608.56" font-size="11" text-anchor="end" fill="#4D4D4D" color="#4D4D4D">5</text>
<line x1="413.2" y1="569.5" x2="415.6" y2="569.5" stroke="#333333" stroke-width="0.8"/>
<text x="411.6" y="573.46" font-size="11" text-anchor="end" fill="#4D4D4D" color="#4D4D4D">10</text>
<line x1="413.2" y1="622.15" x2="415.6" y2="622.15" stroke="#333333" stroke-width="0.8"/>
<line x1="413.2" y1="587.05" x2="415.6" y2="587.05" stroke="#333333" stroke-width="0.8"/>
<line x1="431.89" y1="643.3" x2="431.89" y2="645.7" stroke="#333333" stroke-width="0.8"/>
<line x1="459.05" y1="643.3" x2="459.05" y2="645.7" stroke="#333333" stroke-width="0.8"/>
<line x1="486.21" y1="643.3" x2="486.21" y2="645.7" stroke="#333333" stroke-width="0.8"/>
<text x="400.9" y="605.8" font-size="13" text-anchor="middle" fill="#000" color="#000" transform="rotate(-90 400.9 605.8)">CD81</text>
<path d="M560.14 640C560.14 637.77 559.94 630.53 560.14 626.59C560.34 622.66 560.79 619.46 561.34 616.39C561.89 613.31 562.62 610.92 563.44 608.17C564.25 605.41 565.5 602.44 566.24 599.86C566.97 597.28 567.75 595.08 567.84 592.68C567.92 590.29 567.44 588.07 566.74 585.5C566.04 582.94 564.79 579.98 563.64 577.29C562.49 574.59 560.47 570.66 559.84 569.33L549.04 569.33C548.4 570.66 546.39 574.59 545.24 577.29C544.09 579.98 542.84 582.94 542.14 585.5C541.44 588.07 540.95 590.29 541.04 592.68C541.12 595.08 541.9 597.28 542.64 599.86C543.37 602.44 544.62 605.41 545.44 608.17C546.25 610.92 546.99 613.31 547.54 616.39C548.09 619.46 548.54 622.66 548.74 626.59C548.94 630.53 548.74 637.77 548.74 640Z" fill="#EE0000" stroke="#1A1A1A" stroke-width="0.55"/>
<circle cx="547.64" cy="578.37" r="1.1" fill="#111"/>
<circle cx="546.8" cy="582.6" r="1.1" fill="#111"/>
<circle cx="546.65" cy="579.64" r="1.1" fill="#111"/>
<circle cx="546.05" cy="573.79" r="1.1" fill="#111"/>
<circle cx="547.31" cy="590.69" r="1.1" fill="#111"/>
<circle cx="550.5" cy="621.38" r="1.1" fill="#111"/>
<circle cx="545.86" cy="590.76" r="1.1" fill="#111"/>
<circle cx="550.36" cy="600.59" r="1.1" fill="#111"/>
<circle cx="565.82" cy="580.99" r="1.1" fill="#111"/>
<circle cx="548.49" cy="584.94" r="1.1" fill="#111"/>
<circle cx="566.1" cy="597.43" r="1.1" fill="#111"/>
<circle cx="562.37" cy="572.52" r="1.1" fill="#111"/>
<circle cx="545.52" cy="598.37" r="1.1" fill="#111"/>
<circle cx="552.08" cy="592.73" r="1.1" fill="#111"/>
<circle cx="563.49" cy="620.97" r="1.1" fill="#111"/>
<circle cx="546.2" cy="600.29" r="1.1" fill="#111"/>
<circle cx="554.71" cy="639.72" r="1.1" fill="#111"/>
<circle cx="565.89" cy="606.09" r="1.1" fill="#111"/>
<circle cx="559.73" cy="583.25" r="1.1" fill="#111"/>
<circle cx="549.08" cy="614.28" r="1.1" fill="#111"/>
<circle cx="559.11" cy="611.04" r="1.1" fill="#111"/>
<circle cx="548.04" cy="640.38" r="1.1" fill="#111"/>
<circle cx="553.41" cy="597.68" r="1.1" fill="#111"/>
<circle cx="547.38" cy="594.92" r="1.1" fill="#111"/>
<circle cx="547.94" cy="589.27" r="1.1" fill="#111"/>
<circle cx="549.45" cy="640.45" r="1.1" fill="#111"/>
<circle cx="556.6" cy="625.31" r="1.1" fill="#111"/>
<circle cx="552.24" cy="627.24" r="1.1" fill="#111"/>
<circle cx="554.44" cy="601.8" r="2.7" fill="#fff"/>
<path d="M597.8 640C597.67 639.78 597.5 639.38 597 638.7C596.5 638.02 595.68 637.09 594.8 635.93C593.92 634.78 592.65 633.34 591.7 631.78C590.75 630.23 589.7 628.47 589.1 626.59C588.5 624.72 588.35 622.76 588.1 620.54C587.85 618.32 587.9 615.68 587.6 613.27C587.3 610.86 586.55 608.12 586.3 606.09C586.05 604.06 586.27 602.27 586.1 601.08C585.93 599.88 585.43 599.27 585.3 598.91L583.7 598.91C583.57 599.27 583.07 599.88 582.9 601.08C582.73 602.27 582.95 604.06 582.7 606.09C582.45 608.12 581.7 610.86 581.4 613.27C581.1 615.68 581.15 618.32 580.9 620.54C580.65 622.76 580.5 624.72 579.9 626.59C579.3 628.47 578.25 630.23 577.3 631.78C576.35 633.34 575.08 634.78 574.2 635.93C573.32 637.09 572.5 638.02 572 638.7C571.5 639.38 571.33 639.78 571.2 640Z" fill="#0A8A12" stroke="#1A1A1A" stroke-width="0.55"/>
<circle cx="572.29" cy="639.47" r="1.1" fill="#111"/>
<circle cx="594.6" cy="640.43" r="1.1" fill="#111"/>
<circle cx="582.9" cy="600.17" r="1.1" fill="#111"/>
<circle cx="595.82" cy="640.1" r="1.1" fill="#111"/>
<circle cx="580.99" cy="639.63" r="1.1" fill="#111"/>
<circle cx="591.43" cy="631.57" r="1.1" fill="#111"/>
<circle cx="576.35" cy="632.6" r="1.1" fill="#111"/>
<circle cx="594.59" cy="632.25" r="1.1" fill="#111"/>
<circle cx="595.77" cy="640.46" r="1.1" fill="#111"/>
<circle cx="591.51" cy="632.13" r="1.1" fill="#111"/>
<circle cx="579.69" cy="632.4" r="1.1" fill="#111"/>
<circle cx="572.59" cy="637.95" r="1.1" fill="#111"/>
<circle cx="578.71" cy="628.17" r="1.1" fill="#111"/>
<circle cx="574.68" cy="640.08" r="1.1" fill="#111"/>
<circle cx="582.56" cy="637.18" r="1.1" fill="#111"/>
<circle cx="590.7" cy="606.79" r="1.1" fill="#111"/>
<circle cx="594.5" cy="640.49" r="1.1" fill="#111"/>
<circle cx="586.41" cy="640.14" r="1.1" fill="#111"/>
<circle cx="587.71" cy="622.51" r="1.1" fill="#111"/>
<circle cx="586.64" cy="608.26" r="1.1" fill="#111"/>
<circle cx="585.64" cy="613.7" r="1.1" fill="#111"/>
<circle cx="592.66" cy="623.15" r="1.1" fill="#111"/>
<circle cx="593.48" cy="637.53" r="1.1" fill="#111"/>
<circle cx="584.23" cy="610.68" r="1.1" fill="#111"/>
<circle cx="588.05" cy="627.36" r="1.1" fill="#111"/>
<circle cx="574.84" cy="639.68" r="1.1" fill="#111"/>
<circle cx="583.4" cy="639.61" r="1.1" fill="#111"/>
<circle cx="590.55" cy="636.48" r="1.1" fill="#111"/>
<circle cx="584.16" cy="639.53" r="1.1" fill="#111"/>
<circle cx="586.19" cy="613.91" r="1.1" fill="#111"/>
<circle cx="596.12" cy="637.42" r="1.1" fill="#111"/>
<circle cx="577.94" cy="625.13" r="1.1" fill="#111"/>
<circle cx="592.49" cy="628.32" r="1.1" fill="#111"/>
<circle cx="584.7" cy="637.42" r="1.1" fill="#111"/>
<circle cx="576.61" cy="639.65" r="1.1" fill="#111"/>
<circle cx="581.6" cy="637.29" r="1.1" fill="#111"/>
<circle cx="585.51" cy="633.05" r="1.1" fill="#111"/>
<circle cx="596.83" cy="639.34" r="1.1" fill="#111"/>
<circle cx="591.83" cy="632.74" r="1.1" fill="#111"/>
<circle cx="585.78" cy="616.46" r="1.1" fill="#111"/>
<circle cx="587.86" cy="629.18" r="1.1" fill="#111"/>
<circle cx="580.03" cy="639.73" r="1.1" fill="#111"/>
<circle cx="579.42" cy="626.03" r="1.1" fill="#111"/>
<circle cx="584.33" cy="640.18" r="1.1" fill="#111"/>
<circle cx="586.46" cy="624.5" r="1.1" fill="#111"/>
<circle cx="592.48" cy="637.15" r="1.1" fill="#111"/>
<circle cx="580.14" cy="640.15" r="1.1" fill="#111"/>
<circle cx="593.35" cy="622.47" r="1.1" fill="#111"/>
<circle cx="594.64" cy="630.51" r="1.1" fill="#111"/>
<circle cx="572.37" cy="639.63" r="1.1" fill="#111"/>
<circle cx="591.53" cy="620.91" r="1.1" fill="#111"/>
<circle cx="573.46" cy="640.34" r="1.1" fill="#111"/>
<circle cx="572.46" cy="634.37" r="1.1" fill="#111"/>
<circle cx="571.91" cy="637.07" r="1.1" fill="#111"/>
<circle cx="580.17" cy="620.17" r="1.1" fill="#111"/>
<circle cx="582.52" cy="639.65" r="1.1" fill="#111"/>
<circle cx="589.99" cy="637.6" r="1.1" fill="#111"/>
<circle cx="597.94" cy="634.61" r="1.1" fill="#111"/>
<circle cx="590.66" cy="639.56" r="1.1" fill="#111"/>
<circle cx="573.3" cy="639.91" r="1.1" fill="#111"/>
<circle cx="571.13" cy="640.44" r="1.1" fill="#111"/>
<circle cx="576.07" cy="631.3" r="1.1" fill="#111"/>
<circle cx="583.6" cy="639.59" r="1.1" fill="#111"/>
<circle cx="590.37" cy="611.46" r="1.1" fill="#111"/>
<circle cx="589.34" cy="607.85" r="1.1" fill="#111"/>
<circle cx="582.3" cy="619.14" r="1.1" fill="#111"/>
<circle cx="580.78" cy="634.6" r="1.1" fill="#111"/>
<circle cx="578.83" cy="640.37" r="1.1" fill="#111"/>
<circle cx="585.3" cy="621.8" r="1.1" fill="#111"/>
<circle cx="582.6" cy="639.61" r="1.1" fill="#111"/>
<circle cx="578.58" cy="628.14" r="1.1" fill="#111"/>
<circle cx="591.44" cy="640.36" r="1.1" fill="#111"/>
<circle cx="574.08" cy="640.06" r="1.1" fill="#111"/>
<circle cx="574.42" cy="640.25" r="1.1" fill="#111"/>
<circle cx="592.85" cy="637.95" r="1.1" fill="#111"/>
<circle cx="595.46" cy="640.02" r="1.1" fill="#111"/>
<circle cx="583.03" cy="625.63" r="1.1" fill="#111"/>
<circle cx="586.13" cy="632.53" r="1.1" fill="#111"/>
<circle cx="589.27" cy="614.63" r="1.1" fill="#111"/>
<circle cx="596.04" cy="637.92" r="1.1" fill="#111"/>
<circle cx="584.5" cy="631.7" r="2.7" fill="#fff"/>
<path d="M616.76 640C616.88 639.83 617.28 639.81 617.46 638.96C617.65 638.11 617.88 636.96 617.86 634.9C617.85 632.83 617.26 629.35 617.36 626.59C617.46 623.84 617.6 620.94 618.46 618.38C619.33 615.81 621.25 613.76 622.56 611.2C623.88 608.63 625.51 605.72 626.36 602.98C627.21 600.24 627.96 597.67 627.66 594.76C627.36 591.85 625.85 588.42 624.56 585.5C623.28 582.59 621.38 579.85 619.96 577.29C618.55 574.72 616.71 571.3 616.06 570.11L613.06 570.11C612.41 571.3 610.58 574.72 609.16 577.29C607.75 579.85 605.85 582.59 604.56 585.5C603.28 588.42 601.76 591.85 601.46 594.76C601.16 597.67 601.91 600.24 602.76 602.98C603.61 605.72 605.25 608.63 606.56 611.2C607.88 613.76 609.8 615.81 610.66 618.38C611.53 620.94 611.66 623.84 611.76 626.59C611.86 629.35 611.28 632.83 611.26 634.9C611.25 636.96 611.48 638.11 611.66 638.96C611.85 639.81 612.25 639.83 612.36 640Z" fill="#4EEE94" stroke="#1A1A1A" stroke-width="0.55"/>
<circle cx="617.6" cy="609.95" r="1.1" fill="#111"/>
<circle cx="615.03" cy="639.3" r="1.1" fill="#111"/>
<circle cx="620.36" cy="605.62" r="1.1" fill="#111"/>
<circle cx="610.79" cy="586" r="1.1" fill="#111"/>
<circle cx="614.5" cy="574.63" r="1.1" fill="#111"/>
<circle cx="621.4" cy="612.89" r="1.1" fill="#111"/>
<circle cx="607.39" cy="604.69" r="1.1" fill="#111"/>
<circle cx="617.11" cy="602.06" r="1.1" fill="#111"/>
<circle cx="612.76" cy="586.49" r="1.1" fill="#111"/>
<circle cx="613.76" cy="636.58" r="1.1" fill="#111"/>
<circle cx="619.22" cy="625.52" r="1.1" fill="#111"/>
<circle cx="611.3" cy="621.31" r="1.1" fill="#111"/>
<circle cx="624.87" cy="577.41" r="1.1" fill="#111"/>
<circle cx="616.6" cy="594.23" r="1.1" fill="#111"/>
<circle cx="606.51" cy="596.53" r="1.1" fill="#111"/>
<circle cx="611.22" cy="591.88" r="1.1" fill="#111"/>
<circle cx="617.52" cy="630.65" r="1.1" fill="#111"/>
<circle cx="613.81" cy="593.04" r="1.1" fill="#111"/>
<circle cx="623.35" cy="592.17" r="1.1" fill="#111"/>
<circle cx="602.12" cy="596.24" r="1.1" fill="#111"/>
<circle cx="616.03" cy="582" r="1.1" fill="#111"/>
<circle cx="608.01" cy="575.56" r="1.1" fill="#111"/>
<circle cx="614.6" cy="576.09" r="1.1" fill="#111"/>
<circle cx="611.22" cy="635.88" r="1.1" fill="#111"/>
<circle cx="609.18" cy="610.79" r="1.1" fill="#111"/>
<circle cx="613.83" cy="639.82" r="1.1" fill="#111"/>
<circle cx="620.89" cy="598.11" r="1.1" fill="#111"/>
<circle cx="621.11" cy="576.78" r="1.1" fill="#111"/>
<circle cx="622.05" cy="589.87" r="1.1" fill="#111"/>
<circle cx="613.71" cy="581.65" r="1.1" fill="#111"/>
<circle cx="618.08" cy="589.03" r="1.1" fill="#111"/>
<circle cx="626.14" cy="603.87" r="1.1" fill="#111"/>
<circle cx="623.18" cy="604.94" r="1.1" fill="#111"/>
<circle cx="619.53" cy="583.89" r="1.1" fill="#111"/>
<circle cx="606.89" cy="617.11" r="1.1" fill="#111"/>
<circle cx="616.72" cy="625.95" r="1.1" fill="#111"/>
<circle cx="614.34" cy="639.61" r="1.1" fill="#111"/>
<circle cx="620.48" cy="607.31" r="1.1" fill="#111"/>
<circle cx="606.02" cy="615.17" r="1.1" fill="#111"/>
<circle cx="619.59" cy="580.28" r="1.1" fill="#111"/>
<circle cx="620.15" cy="593.85" r="1.1" fill="#111"/>
<circle cx="614.69" cy="593.54" r="1.1" fill="#111"/>
<circle cx="608" cy="591.07" r="1.1" fill="#111"/>
<circle cx="623.94" cy="595.89" r="1.1" fill="#111"/>
<circle cx="612.07" cy="640.13" r="1.1" fill="#111"/>
<circle cx="619.08" cy="623.45" r="1.1" fill="#111"/>
<circle cx="620.87" cy="601.23" r="1.1" fill="#111"/>
<circle cx="611.08" cy="615.45" r="1.1" fill="#111"/>
<circle cx="609.93" cy="587.01" r="1.1" fill="#111"/>
<circle cx="621.22" cy="600.53" r="1.1" fill="#111"/>
<circle cx="617.22" cy="609.41" r="1.1" fill="#111"/>
<circle cx="615.48" cy="592.15" r="1.1" fill="#111"/>
<circle cx="614.57" cy="571.57" r="1.1" fill="#111"/>
<circle cx="611.59" cy="640.27" r="1.1" fill="#111"/>
<circle cx="626.21" cy="604.69" r="1.1" fill="#111"/>
<circle cx="618.89" cy="603.09" r="1.1" fill="#111"/>
<circle cx="619.78" cy="608.26" r="1.1" fill="#111"/>
<circle cx="601.62" cy="583.17" r="1.1" fill="#111"/>
<circle cx="608.98" cy="595.33" r="1.1" fill="#111"/>
<circle cx="625.33" cy="586.54" r="1.1" fill="#111"/>
<circle cx="614.56" cy="601.7" r="2.7" fill="#fff"/>
<rect x="536.4" y="565.7" width="96.2" height="77.6" fill="none" stroke="#8A8A8A" stroke-width="0.9"/>
<line x1="534" y1="640" x2="536.4" y2="640" stroke="#333333" stroke-width="0.8"/>
<text x="532.4" y="643.89" font-size="10.8" text-anchor="end" fill="#4D4D4D" color="#4D4D4D">0</text>
<line x1="534" y1="622.7" x2="536.4" y2="622.7" stroke="#333333" stroke-width="0.8"/>
<text x="532.4" y="626.59" font-size="10.8" text-anchor="end" fill="#4D4D4D" color="#4D4D4D">2</text>
<line x1="534" y1="605.4" x2="536.4" y2="605.4" stroke="#333333" stroke-width="0.8"/>
<text x="532.4" y="609.29" font-size="10.8" text-anchor="end" fill="#4D4D4D" color="#4D4D4D">4</text>
<line x1="534" y1="588.1" x2="536.4" y2="588.1" stroke="#333333" stroke-width="0.8"/>
<text x="532.4" y="591.99" font-size="10.8" text-anchor="end" fill="#4D4D4D" color="#4D4D4D">6</text>
<line x1="534" y1="570.8" x2="536.4" y2="570.8" stroke="#333333" stroke-width="0.8"/>
<text x="532.4" y="574.69" font-size="10.8" text-anchor="end" fill="#4D4D4D" color="#4D4D4D">8</text>
<line x1="554.44" y1="643.3" x2="554.44" y2="645.7" stroke="#333333" stroke-width="0.8"/>
<line x1="584.5" y1="643.3" x2="584.5" y2="645.7" stroke="#333333" stroke-width="0.8"/>
<line x1="614.56" y1="643.3" x2="614.56" y2="645.7" stroke="#333333" stroke-width="0.8"/>
<text x="524.8" y="607.9" font-size="13" text-anchor="middle" fill="#000" color="#000" transform="rotate(-90 524.8 607.9)">ETS1</text>
<path d="M702.52 640C702.47 638.96 702.57 636.02 702.22 633.78C701.87 631.55 701.27 629.17 700.42 626.61C699.57 624.04 697.89 621.13 697.12 618.39C696.35 615.65 695.87 612.9 695.82 610.18C695.77 607.45 696.22 604.78 696.82 602.04C697.42 599.3 698.77 596.5 699.42 593.75C700.07 591 700.77 588.27 700.72 585.54C700.67 582.8 699.85 580.02 699.12 577.32C698.39 574.62 696.79 570.66 696.32 569.33L684.52 569.33C684.05 570.66 682.45 574.62 681.72 577.32C680.99 580.02 680.17 582.8 680.12 585.54C680.07 588.27 680.77 591 681.42 593.75C682.07 596.5 683.42 599.3 684.02 602.04C684.62 604.78 685.07 607.45 685.02 610.18C684.97 612.9 684.49 615.65 683.72 618.39C682.95 621.13 681.27 624.04 680.42 626.61C679.57 629.17 678.97 631.55 678.62 633.78C678.27 636.02 678.37 638.96 678.32 640Z" fill="#EE0000" stroke="#1A1A1A" stroke-width="0.55"/>
<circle cx="686.59" cy="639.68" r="1.1" fill="#111"/>
<circle cx="702.64" cy="640.12" r="1.1" fill="#111"/>
<circle cx="697.62" cy="613.63" r="1.1" fill="#111"/>
<circle cx="686.02" cy="639.57" r="1.1" fill="#111"/>
<circle cx="702.55" cy="640.37" r="1.1" fill="#111"/>
<circle cx="678.28" cy="623.12" r="1.1" fill="#111"/>
<circle cx="684.09" cy="640.36" r="1.1" fill="#111"/>
<circle cx="686.18" cy="620.83" r="1.1" fill="#111"/>
<circle cx="697.24" cy="640.07" r="1.1" fill="#111"/>
<circle cx="692.97" cy="594.69" r="1.1" fill="#111"/>
<circle cx="683.91" cy="574.56" r="1.1" fill="#111"/>
<circle cx="686.5" cy="569.91" r="1.1" fill="#111"/>
<circle cx="686.12" cy="640.27" r="1.1" fill="#111"/>
<circle cx="681.57" cy="626.46" r="1.1" fill="#111"/>
<circle cx="687.44" cy="631.68" r="1.1" fill="#111"/>
<circle cx="698.7" cy="577.04" r="1.1" fill="#111"/>
<circle cx="683.74" cy="639.88" r="1.1" fill="#111"/>
<circle cx="683.09" cy="591.36" r="1.1" fill="#111"/>
<circle cx="682.21" cy="639.65" r="1.1" fill="#111"/>
<circle cx="683.81" cy="585.64" r="1.1" fill="#111"/>
<circle cx="682.58" cy="598.62" r="1.1" fill="#111"/>
<circle cx="688.97" cy="629.18" r="1.1" fill="#111"/>
<circle cx="698.86" cy="600.66" r="1.1" fill="#111"/>
<circle cx="690.66" cy="607.69" r="1.1" fill="#111"/>
<circle cx="702.8" cy="639.61" r="1.1" fill="#111"/>
<circle cx="692.14" cy="624.81" r="1.1" fill="#111"/>
<circle cx="692.7" cy="576.83" r="1.1" fill="#111"/>
<circle cx="690.89" cy="574.74" r="1.1" fill="#111"/>
<circle cx="690.42" cy="612.6" r="2.7" fill="#fff"/>
<path d="M729.75 640C729.15 639.48 727.43 637.93 726.15 636.89C724.87 635.86 723.3 634.8 722.05 633.78C720.8 632.77 719.27 632.87 718.65 630.82C718.03 628.78 718.43 625.79 718.35 621.5C718.27 617.21 718.18 607.81 718.15 605.07L716.75 605.07C716.72 607.81 716.63 617.21 716.55 621.5C716.47 625.79 716.87 628.78 716.25 630.82C715.63 632.87 714.1 632.77 712.85 633.78C711.6 634.8 710.03 635.86 708.75 636.89C707.47 637.93 705.75 639.48 705.15 640Z" fill="#0A8A12" stroke="#1A1A1A" stroke-width="0.55"/>
<circle cx="717.45" cy="638.88" r="1.1" fill="#111"/>
<circle cx="730.62" cy="640.06" r="1.1" fill="#111"/>
<circle cx="726" cy="640.42" r="1.1" fill="#111"/>
<circle cx="704.92" cy="639.8" r="1.1" fill="#111"/>
<circle cx="715.34" cy="640.5" r="1.1" fill="#111"/>
<circle cx="715.04" cy="639.57" r="1.1" fill="#111"/>
<circle cx="726.4" cy="640.06" r="1.1" fill="#111"/>
<circle cx="707.95" cy="635.53" r="1.1" fill="#111"/>
<circle cx="727.67" cy="637" r="1.1" fill="#111"/>
<circle cx="723.61" cy="637.81" r="1.1" fill="#111"/>
<circle cx="716.59" cy="640.13" r="1.1" fill="#111"/>
<circle cx="720.44" cy="639.6" r="1.1" fill="#111"/>
<circle cx="705.59" cy="640.17" r="1.1" fill="#111"/>
<circle cx="722.56" cy="613.85" r="1.1" fill="#111"/>
<circle cx="709.33" cy="640.15" r="1.1" fill="#111"/>
<circle cx="725.83" cy="637.49" r="1.1" fill="#111"/>
<circle cx="704.29" cy="639.91" r="1.1" fill="#111"/>
<circle cx="722.94" cy="639.73" r="1.1" fill="#111"/>
<circle cx="717.13" cy="640.18" r="1.1" fill="#111"/>
<circle cx="717.7" cy="624.07" r="1.1" fill="#111"/>
<circle cx="719.29" cy="633.61" r="1.1" fill="#111"/>
<circle cx="713.42" cy="639.91" r="1.1" fill="#111"/>
<circle cx="716.35" cy="617.21" r="1.1" fill="#111"/>
<circle cx="716.44" cy="639.82" r="1.1" fill="#111"/>
<circle cx="730.02" cy="640.01" r="1.1" fill="#111"/>
<circle cx="710.21" cy="637.31" r="1.1" fill="#111"/>
<circle cx="729.66" cy="640.13" r="1.1" fill="#111"/>
<circle cx="710.89" cy="639.84" r="1.1" fill="#111"/>
<circle cx="727.03" cy="639.53" r="1.1" fill="#111"/>
<circle cx="726.23" cy="636.65" r="1.1" fill="#111"/>
<circle cx="728.49" cy="639.67" r="1.1" fill="#111"/>
<circle cx="714.6" cy="616.21" r="1.1" fill="#111"/>
<circle cx="710.73" cy="640.14" r="1.1" fill="#111"/>
<circle cx="722.93" cy="640.5" r="1.1" fill="#111"/>
<circle cx="706.27" cy="640.19" r="1.1" fill="#111"/>
<circle cx="719.43" cy="636.56" r="1.1" fill="#111"/>
<circle cx="713.55" cy="626.24" r="1.1" fill="#111"/>
<circle cx="720.56" cy="640.21" r="1.1" fill="#111"/>
<circle cx="708.08" cy="638.14" r="1.1" fill="#111"/>
<circle cx="725.39" cy="640.2" r="1.1" fill="#111"/>
<circle cx="717.45" cy="637.1" r="2.7" fill="#fff"/>
<path d="M750.48 640C750.46 639.47 750.56 638.72 750.38 636.82C750.2 634.92 749.68 631.5 749.38 628.6C749.08 625.71 748.46 622.33 748.58 619.43C748.7 616.53 749.26 613.78 750.08 611.21C750.9 608.65 752.53 606.6 753.48 604.04C754.43 601.47 755.36 598.4 755.78 595.82C756.2 593.24 756.45 591.14 755.98 588.57C755.51 586 754.16 582.91 752.98 580.43C751.8 577.95 749.56 574.82 748.88 573.7L740.08 573.7C739.4 574.82 737.16 577.95 735.98 580.43C734.8 582.91 733.45 586 732.98 588.57C732.51 591.14 732.76 593.24 733.18 595.82C733.6 598.4 734.53 601.47 735.48 604.04C736.43 606.6 738.06 608.65 738.88 611.21C739.7 613.78 740.26 616.53 740.38 619.43C740.5 622.33 739.88 625.71 739.58 628.6C739.28 631.5 738.76 634.92 738.58 636.82C738.4 638.72 738.5 639.47 738.48 640Z" fill="#4EEE94" stroke="#1A1A1A" stroke-width="0.55"/>
<circle cx="748.03" cy="634.85" r="1.1" fill="#111"/>
<circle cx="739.7" cy="610.62" r="1.1" fill="#111"/>
<circle cx="755.76" cy="584.47" r="1.1" fill="#111"/>
<circle cx="756.15" cy="594.69" r="1.1" fill="#111"/>
<circle cx="753.09" cy="607.24" r="1.1" fill="#111"/>
<circle cx="757.71" cy="601.33" r="1.1" fill="#111"/>
<circle cx="743.76" cy="640.33" r="1.1" fill="#111"/>
<circle cx="751.98" cy="595.3" r="1.1" fill="#111"/>
<circle cx="735.67" cy="595.85" r="1.1" fill="#111"/>
<circle cx="747.42" cy="632.83" r="1.1" fill="#111"/>
<circle cx="737.81" cy="640.24" r="1.1" fill="#111"/>
<circle cx="739.52" cy="610.29" r="1.1" fill="#111"/>
<circle cx="741.13" cy="635.35" r="1.1" fill="#111"/>
<circle cx="754.08" cy="636.78" r="1.1" fill="#111"/>
<circle cx="731.88" cy="583.85" r="1.1" fill="#111"/>
<circle cx="738.78" cy="639.55" r="1.1" fill="#111"/>
<circle cx="743.17" cy="611.13" r="1.1" fill="#111"/>
<circle cx="738.04" cy="579.48" r="1.1" fill="#111"/>
<circle cx="738.32" cy="636.96" r="1.1" fill="#111"/>
<circle cx="754.84" cy="634.06" r="1.1" fill="#111"/>
<circle cx="739.85" cy="594.12" r="1.1" fill="#111"/>
<circle cx="734.3" cy="578.91" r="1.1" fill="#111"/>
<circle cx="752.8" cy="595.44" r="1.1" fill="#111"/>
<circle cx="745.79" cy="608.81" r="1.1" fill="#111"/>
<circle cx="739.64" cy="616.34" r="1.1" fill="#111"/>
<circle cx="742.81" cy="608.87" r="1.1" fill="#111"/>
<circle cx="747.83" cy="616.69" r="1.1" fill="#111"/>
<circle cx="741.59" cy="593.45" r="1.1" fill="#111"/>
<circle cx="749.93" cy="601.62" r="1.1" fill="#111"/>
<circle cx="750.17" cy="591.48" r="1.1" fill="#111"/>
<circle cx="743.07" cy="612.95" r="1.1" fill="#111"/>
<circle cx="751.67" cy="576.87" r="1.1" fill="#111"/>
<circle cx="748.35" cy="631.49" r="1.1" fill="#111"/>
<circle cx="748.34" cy="589.35" r="1.1" fill="#111"/>
<circle cx="737.71" cy="579.69" r="1.1" fill="#111"/>
<circle cx="745.57" cy="599.68" r="1.1" fill="#111"/>
<circle cx="741.58" cy="610.14" r="1.1" fill="#111"/>
<circle cx="741.4" cy="595.8" r="1.1" fill="#111"/>
<circle cx="744.77" cy="619.15" r="1.1" fill="#111"/>
<circle cx="740.1" cy="601.13" r="1.1" fill="#111"/>
<circle cx="737.98" cy="588.35" r="1.1" fill="#111"/>
<circle cx="742.39" cy="580.92" r="1.1" fill="#111"/>
<circle cx="738.43" cy="614.23" r="1.1" fill="#111"/>
<circle cx="745.51" cy="575.13" r="1.1" fill="#111"/>
<circle cx="736.22" cy="629.47" r="1.1" fill="#111"/>
<circle cx="753.76" cy="578.1" r="1.1" fill="#111"/>
<circle cx="741.47" cy="615.93" r="1.1" fill="#111"/>
<circle cx="740.09" cy="618.92" r="1.1" fill="#111"/>
<circle cx="746.9" cy="630.74" r="1.1" fill="#111"/>
<circle cx="735.03" cy="596.46" r="1.1" fill="#111"/>
<circle cx="752.52" cy="628.57" r="1.1" fill="#111"/>
<circle cx="754.36" cy="581.2" r="1.1" fill="#111"/>
<circle cx="740.42" cy="608.28" r="1.1" fill="#111"/>
<circle cx="747.8" cy="612.58" r="1.1" fill="#111"/>
<circle cx="748.01" cy="612.56" r="1.1" fill="#111"/>
<circle cx="734.48" cy="576.78" r="1.1" fill="#111"/>
<circle cx="757.52" cy="596.47" r="1.1" fill="#111"/>
<circle cx="731.91" cy="594.31" r="1.1" fill="#111"/>
<circle cx="737.25" cy="631.01" r="1.1" fill="#111"/>
<circle cx="734.44" cy="577.44" r="1.1" fill="#111"/>
<circle cx="744.48" cy="605.7" r="2.7" fill="#fff"/>
<rect x="674.2" y="565.7" width="86.5" height="77.6" fill="none" stroke="#8A8A8A" stroke-width="0.9"/>
<line x1="671.8" y1="640" x2="674.2" y2="640" stroke="#333333" stroke-width="0.8"/>
<text x="670.2" y="643.89" font-size="10.8" text-anchor="end" fill="#4D4D4D" color="#4D4D4D">0</text>
<line x1="671.8" y1="603" x2="674.2" y2="603" stroke="#333333" stroke-width="0.8"/>
<text x="670.2" y="606.89" font-size="10.8" text-anchor="end" fill="#4D4D4D" color="#4D4D4D">5</text>
<line x1="671.8" y1="566" x2="674.2" y2="566" stroke="#333333" stroke-width="0.8"/>
<text x="670.2" y="569.89" font-size="10.8" text-anchor="end" fill="#4D4D4D" color="#4D4D4D">10</text>
<line x1="671.8" y1="621.5" x2="674.2" y2="621.5" stroke="#333333" stroke-width="0.8"/>
<line x1="671.8" y1="584.5" x2="674.2" y2="584.5" stroke="#333333" stroke-width="0.8"/>
<line x1="690.42" y1="643.3" x2="690.42" y2="645.7" stroke="#333333" stroke-width="0.8"/>
<line x1="717.45" y1="643.3" x2="717.45" y2="645.7" stroke="#333333" stroke-width="0.8"/>
<line x1="744.48" y1="643.3" x2="744.48" y2="645.7" stroke="#333333" stroke-width="0.8"/>
<text x="660.7" y="606.2" font-size="13" text-anchor="middle" fill="#000" color="#000" transform="rotate(-90 660.7 606.2)">ICAM1</text>
<path d="M829.84 640C829.79 639.48 829.92 638.42 829.54 636.88C829.15 635.35 828.47 632.85 827.54 630.8C826.6 628.74 824.97 626.63 823.94 624.57C822.9 622.5 821.85 620.8 821.34 618.41C820.82 616.01 820.75 612.93 820.84 610.19C820.92 607.46 821.4 604.72 821.84 601.98C822.27 599.24 823.27 596.52 823.44 593.77C823.6 591.02 823.19 588.23 822.84 585.48C822.49 582.73 821.8 579.97 821.34 577.27C820.87 574.57 820.25 570.6 820.04 569.27L815.44 569.27C815.22 570.6 814.6 574.57 814.14 577.27C813.67 579.97 812.99 582.73 812.64 585.48C812.29 588.23 811.87 591.02 812.04 593.77C812.2 596.52 813.2 599.24 813.64 601.98C814.07 604.72 814.55 607.46 814.64 610.19C814.72 612.93 814.65 616.01 814.14 618.41C813.62 620.8 812.57 622.5 811.54 624.57C810.5 626.63 808.87 628.74 807.94 630.8C807 632.85 806.32 635.35 805.94 636.88C805.55 638.42 805.69 639.48 805.64 640Z" fill="#EE0000" stroke="#1A1A1A" stroke-width="0.55"/>
<circle cx="808.35" cy="639.74" r="1.1" fill="#111"/>
<circle cx="829.41" cy="640" r="1.1" fill="#111"/>
<circle cx="830.68" cy="639.85" r="1.1" fill="#111"/>
<circle cx="805.89" cy="639.86" r="1.1" fill="#111"/>
<circle cx="821.95" cy="615.32" r="1.1" fill="#111"/>
<circle cx="814.79" cy="639.9" r="1.1" fill="#111"/>
<circle cx="820.66" cy="639.89" r="1.1" fill="#111"/>
<circle cx="813.96" cy="639.58" r="1.1" fill="#111"/>
<circle cx="816.49" cy="632.87" r="1.1" fill="#111"/>
<circle cx="809.4" cy="639.9" r="1.1" fill="#111"/>
<circle cx="819.18" cy="639.97" r="1.1" fill="#111"/>
<circle cx="807.12" cy="627.22" r="1.1" fill="#111"/>
<circle cx="829.79" cy="627.73" r="1.1" fill="#111"/>
<circle cx="806.65" cy="639.67" r="1.1" fill="#111"/>
<circle cx="819.31" cy="639.75" r="1.1" fill="#111"/>
<circle cx="810.44" cy="599.04" r="1.1" fill="#111"/>
<circle cx="810.08" cy="620.42" r="1.1" fill="#111"/>
<circle cx="813.24" cy="582.42" r="1.1" fill="#111"/>
<circle cx="819.4" cy="639.58" r="1.1" fill="#111"/>
<circle cx="823.68" cy="640.43" r="1.1" fill="#111"/>
<circle cx="817.41" cy="640.14" r="1.1" fill="#111"/>
<circle cx="826.33" cy="639.54" r="1.1" fill="#111"/>
<circle cx="817.74" cy="622.1" r="2.7" fill="#fff"/>
<path d="M856.9 640C856.63 639.65 855.95 638.91 855.3 637.88C854.65 636.84 854.02 635.3 853 633.77C851.98 632.24 849.97 630.55 849.2 628.67C848.43 626.8 848.48 624.91 848.4 622.51C848.32 620.12 848.87 617.04 848.7 614.3C848.53 611.56 847.8 608.82 847.4 606.09C847 603.35 846.6 600.52 846.3 597.87C846 595.23 845.72 591.5 845.6 590.23L844 590.23C843.88 591.5 843.6 595.23 843.3 597.87C843 600.52 842.6 603.35 842.2 606.09C841.8 608.82 841.07 611.56 840.9 614.3C840.73 617.04 841.28 620.12 841.2 622.51C841.12 624.91 841.17 626.8 840.4 628.67C839.63 630.55 837.62 632.24 836.6 633.77C835.58 635.3 834.95 636.84 834.3 637.88C833.65 638.91 832.97 639.65 832.7 640Z" fill="#0A8A12" stroke="#1A1A1A" stroke-width="0.55"/>
<circle cx="844.92" cy="638.05" r="1.1" fill="#111"/>
<circle cx="839.77" cy="619.05" r="1.1" fill="#111"/>
<circle cx="850.91" cy="630.94" r="1.1" fill="#111"/>
<circle cx="848.67" cy="640.48" r="1.1" fill="#111"/>
<circle cx="850.66" cy="640.42" r="1.1" fill="#111"/>
<circle cx="851.04" cy="639.45" r="1.1" fill="#111"/>
<circle cx="855.35" cy="631.97" r="1.1" fill="#111"/>
<circle cx="848.93" cy="635.21" r="1.1" fill="#111"/>
<circle cx="844.78" cy="606.11" r="1.1" fill="#111"/>
<circle cx="851.25" cy="640.24" r="1.1" fill="#111"/>
<circle cx="848.66" cy="640.3" r="1.1" fill="#111"/>
<circle cx="839.68" cy="626.73" r="1.1" fill="#111"/>
<circle cx="839.44" cy="615.71" r="1.1" fill="#111"/>
<circle cx="847.65" cy="639.47" r="1.1" fill="#111"/>
<circle cx="835.29" cy="637.54" r="1.1" fill="#111"/>
<circle cx="846.69" cy="640.48" r="1.1" fill="#111"/>
<circle cx="839.79" cy="593.01" r="1.1" fill="#111"/>
<circle cx="843.37" cy="615.98" r="1.1" fill="#111"/>
<circle cx="836.98" cy="633.18" r="1.1" fill="#111"/>
<circle cx="849.69" cy="635.42" r="1.1" fill="#111"/>
<circle cx="850.96" cy="640.38" r="1.1" fill="#111"/>
<circle cx="848.99" cy="640.22" r="1.1" fill="#111"/>
<circle cx="850.83" cy="599.19" r="1.1" fill="#111"/>
<circle cx="840.96" cy="638.51" r="1.1" fill="#111"/>
<circle cx="835.64" cy="640.48" r="1.1" fill="#111"/>
<circle cx="851.34" cy="639.86" r="1.1" fill="#111"/>
<circle cx="853.97" cy="627.68" r="1.1" fill="#111"/>
<circle cx="841.17" cy="619.24" r="1.1" fill="#111"/>
<circle cx="848.34" cy="624.86" r="1.1" fill="#111"/>
<circle cx="846.19" cy="639.41" r="1.1" fill="#111"/>
<circle cx="852.38" cy="611.62" r="1.1" fill="#111"/>
<circle cx="835.56" cy="634.39" r="1.1" fill="#111"/>
<circle cx="847.84" cy="639.51" r="1.1" fill="#111"/>
<circle cx="845.49" cy="591.78" r="1.1" fill="#111"/>
<circle cx="845.68" cy="635.99" r="1.1" fill="#111"/>
<circle cx="857.47" cy="640.48" r="1.1" fill="#111"/>
<circle cx="842.31" cy="640.01" r="1.1" fill="#111"/>
<circle cx="851.69" cy="614.42" r="1.1" fill="#111"/>
<circle cx="836.24" cy="640.24" r="1.1" fill="#111"/>
<circle cx="833.28" cy="633.13" r="1.1" fill="#111"/>
<circle cx="843.9" cy="611.5" r="1.1" fill="#111"/>
<circle cx="844.31" cy="603.55" r="1.1" fill="#111"/>
<circle cx="851.6" cy="634.11" r="1.1" fill="#111"/>
<circle cx="837.13" cy="639.51" r="1.1" fill="#111"/>
<circle cx="853.81" cy="628.37" r="1.1" fill="#111"/>
<circle cx="846.96" cy="613.72" r="1.1" fill="#111"/>
<circle cx="844.54" cy="594.02" r="1.1" fill="#111"/>
<circle cx="843.57" cy="627.84" r="1.1" fill="#111"/>
<circle cx="841.17" cy="614.42" r="1.1" fill="#111"/>
<circle cx="840.69" cy="636.3" r="1.1" fill="#111"/>
<circle cx="841.65" cy="629.01" r="1.1" fill="#111"/>
<circle cx="839.59" cy="623.82" r="1.1" fill="#111"/>
<circle cx="848.84" cy="639.79" r="1.1" fill="#111"/>
<circle cx="849.62" cy="639.66" r="1.1" fill="#111"/>
<circle cx="833.8" cy="640.4" r="1.1" fill="#111"/>
<circle cx="845.83" cy="618.46" r="1.1" fill="#111"/>
<circle cx="853.65" cy="640.48" r="1.1" fill="#111"/>
<circle cx="851.67" cy="622.9" r="1.1" fill="#111"/>
<circle cx="843.26" cy="639.62" r="1.1" fill="#111"/>
<circle cx="856.23" cy="639.97" r="1.1" fill="#111"/>
<circle cx="836.34" cy="639.57" r="1.1" fill="#111"/>
<circle cx="857.9" cy="636.01" r="1.1" fill="#111"/>
<circle cx="840.34" cy="614.61" r="1.1" fill="#111"/>
<circle cx="840.5" cy="639.56" r="1.1" fill="#111"/>
<circle cx="841.44" cy="622.43" r="1.1" fill="#111"/>
<circle cx="856.45" cy="634.78" r="1.1" fill="#111"/>
<circle cx="844.85" cy="598.65" r="1.1" fill="#111"/>
<circle cx="846.64" cy="640.45" r="1.1" fill="#111"/>
<circle cx="838.63" cy="611.18" r="1.1" fill="#111"/>
<circle cx="832.53" cy="639.79" r="1.1" fill="#111"/>
<circle cx="844.8" cy="630.8" r="2.7" fill="#fff"/>
<path d="M877.46 640C877.38 639.3 877.3 637.56 876.96 635.82C876.63 634.09 875.8 632 875.46 629.59C875.13 627.19 874.88 624.12 874.96 621.38C875.05 618.64 875.2 615.55 875.96 613.17C876.73 610.78 878.45 609.28 879.56 607.08C880.68 604.87 881.9 602.32 882.66 599.93C883.43 597.53 884.21 595.11 884.16 592.71C884.11 590.3 883.1 587.62 882.36 585.48C881.63 583.35 880.2 580.82 879.76 579.89L863.96 579.89C863.53 580.82 862.1 583.35 861.36 585.48C860.63 587.62 859.61 590.3 859.56 592.71C859.51 595.11 860.3 597.53 861.06 599.93C861.83 602.32 863.05 604.87 864.16 607.08C865.28 609.28 867 610.78 867.76 613.17C868.53 615.55 868.68 618.64 868.76 621.38C868.85 624.12 868.6 627.19 868.26 629.59C867.93 632 867.1 634.09 866.76 635.82C866.43 637.56 866.35 639.3 866.26 640Z" fill="#4EEE94" stroke="#1A1A1A" stroke-width="0.55"/>
<circle cx="861.44" cy="601.49" r="1.1" fill="#111"/>
<circle cx="859.11" cy="595.29" r="1.1" fill="#111"/>
<circle cx="884.89" cy="603.66" r="1.1" fill="#111"/>
<circle cx="866.34" cy="597.68" r="1.1" fill="#111"/>
<circle cx="870.12" cy="594.07" r="1.1" fill="#111"/>
<circle cx="883.47" cy="594.19" r="1.1" fill="#111"/>
<circle cx="864.72" cy="634.36" r="1.1" fill="#111"/>
<circle cx="870.16" cy="618.05" r="1.1" fill="#111"/>
<circle cx="867.94" cy="582.79" r="1.1" fill="#111"/>
<circle cx="864.91" cy="587.99" r="1.1" fill="#111"/>
<circle cx="861.42" cy="582.04" r="1.1" fill="#111"/>
<circle cx="880.03" cy="602.2" r="1.1" fill="#111"/>
<circle cx="877.97" cy="638.79" r="1.1" fill="#111"/>
<circle cx="866.65" cy="639.81" r="1.1" fill="#111"/>
<circle cx="870.31" cy="639.77" r="1.1" fill="#111"/>
<circle cx="866.54" cy="638.86" r="1.1" fill="#111"/>
<circle cx="874.34" cy="592.31" r="1.1" fill="#111"/>
<circle cx="881.43" cy="587.14" r="1.1" fill="#111"/>
<circle cx="871.84" cy="617.03" r="1.1" fill="#111"/>
<circle cx="880.11" cy="584.64" r="1.1" fill="#111"/>
<circle cx="873.49" cy="610.67" r="1.1" fill="#111"/>
<circle cx="878.17" cy="639.5" r="1.1" fill="#111"/>
<circle cx="868.7" cy="640.17" r="1.1" fill="#111"/>
<circle cx="873.61" cy="639.87" r="1.1" fill="#111"/>
<circle cx="867.28" cy="580.94" r="1.1" fill="#111"/>
<circle cx="869.74" cy="618.94" r="1.1" fill="#111"/>
<circle cx="872" cy="598.4" r="1.1" fill="#111"/>
<circle cx="865.93" cy="590.63" r="1.1" fill="#111"/>
<circle cx="874.69" cy="588.16" r="1.1" fill="#111"/>
<circle cx="866.86" cy="584.3" r="1.1" fill="#111"/>
<circle cx="872.19" cy="600.51" r="1.1" fill="#111"/>
<circle cx="861.66" cy="603.75" r="1.1" fill="#111"/>
<circle cx="874.13" cy="590.17" r="1.1" fill="#111"/>
<circle cx="881.68" cy="584.24" r="1.1" fill="#111"/>
<circle cx="873.95" cy="584.21" r="1.1" fill="#111"/>
<circle cx="871.78" cy="625.63" r="1.1" fill="#111"/>
<circle cx="867.61" cy="596.96" r="1.1" fill="#111"/>
<circle cx="872.17" cy="634.56" r="1.1" fill="#111"/>
<circle cx="885.21" cy="583.51" r="1.1" fill="#111"/>
<circle cx="873.99" cy="639.53" r="1.1" fill="#111"/>
<circle cx="878.93" cy="599.13" r="1.1" fill="#111"/>
<circle cx="860.19" cy="608.23" r="1.1" fill="#111"/>
<circle cx="869.14" cy="631.3" r="1.1" fill="#111"/>
<circle cx="873.76" cy="591.61" r="1.1" fill="#111"/>
<circle cx="865.18" cy="580.84" r="1.1" fill="#111"/>
<circle cx="877.26" cy="593.29" r="1.1" fill="#111"/>
<circle cx="882.89" cy="608.85" r="1.1" fill="#111"/>
<circle cx="877.91" cy="582.64" r="1.1" fill="#111"/>
<circle cx="868.78" cy="611.7" r="1.1" fill="#111"/>
<circle cx="877.8" cy="592.63" r="1.1" fill="#111"/>
<circle cx="880.4" cy="630.51" r="1.1" fill="#111"/>
<circle cx="878.61" cy="601.57" r="1.1" fill="#111"/>
<circle cx="871.8" cy="639.83" r="1.1" fill="#111"/>
<circle cx="879.48" cy="581.59" r="1.1" fill="#111"/>
<circle cx="876.61" cy="637.72" r="1.1" fill="#111"/>
<circle cx="861.15" cy="587.23" r="1.1" fill="#111"/>
<circle cx="884.48" cy="603.43" r="1.1" fill="#111"/>
<circle cx="875.62" cy="591.48" r="1.1" fill="#111"/>
<circle cx="875.85" cy="598.19" r="1.1" fill="#111"/>
<circle cx="881.79" cy="596.94" r="1.1" fill="#111"/>
<circle cx="873.75" cy="617.92" r="1.1" fill="#111"/>
<circle cx="881.23" cy="606.61" r="1.1" fill="#111"/>
<circle cx="873.64" cy="634.18" r="1.1" fill="#111"/>
<circle cx="874.13" cy="588.65" r="1.1" fill="#111"/>
<circle cx="860.52" cy="598.27" r="1.1" fill="#111"/>
<circle cx="880.51" cy="604.96" r="1.1" fill="#111"/>
<circle cx="873.75" cy="599.38" r="1.1" fill="#111"/>
<circle cx="873.83" cy="640.36" r="1.1" fill="#111"/>
<circle cx="869.19" cy="602.36" r="1.1" fill="#111"/>
<circle cx="869.52" cy="640.17" r="1.1" fill="#111"/>
<circle cx="871.86" cy="605.2" r="2.7" fill="#fff"/>
<rect x="801.5" y="565.7" width="86.6" height="77.6" fill="none" stroke="#8A8A8A" stroke-width="0.9"/>
<line x1="799.1" y1="640" x2="801.5" y2="640" stroke="#333333" stroke-width="0.8"/>
<text x="797.5" y="643.89" font-size="10.8" text-anchor="end" fill="#4D4D4D" color="#4D4D4D">0</text>
<line x1="799.1" y1="604.6" x2="801.5" y2="604.6" stroke="#333333" stroke-width="0.8"/>
<text x="797.5" y="608.49" font-size="10.8" text-anchor="end" fill="#4D4D4D" color="#4D4D4D">5</text>
<line x1="799.1" y1="569.2" x2="801.5" y2="569.2" stroke="#333333" stroke-width="0.8"/>
<text x="797.5" y="573.09" font-size="10.8" text-anchor="end" fill="#4D4D4D" color="#4D4D4D">10</text>
<line x1="799.1" y1="622.3" x2="801.5" y2="622.3" stroke="#333333" stroke-width="0.8"/>
<line x1="799.1" y1="586.9" x2="801.5" y2="586.9" stroke="#333333" stroke-width="0.8"/>
<line x1="817.74" y1="643.3" x2="817.74" y2="645.7" stroke="#333333" stroke-width="0.8"/>
<line x1="844.8" y1="643.3" x2="844.8" y2="645.7" stroke="#333333" stroke-width="0.8"/>
<line x1="871.86" y1="643.3" x2="871.86" y2="645.7" stroke="#333333" stroke-width="0.8"/>
<text x="788" y="605" font-size="13" text-anchor="middle" fill="#000" color="#000" transform="rotate(-90 788 605)">ACKR3</text>
<path d="M435.23 724.2C435.15 723.31 435.01 721.14 434.73 718.87C434.45 716.6 433.95 713.68 433.53 710.59C433.11 707.51 432.36 703.79 432.23 700.37C432.1 696.96 432.23 693.33 432.73 690.09C433.23 686.85 434.33 683.66 435.23 680.94C436.13 678.21 437.26 676.13 438.13 673.73C439 671.32 440.13 668.92 440.43 666.52C440.73 664.11 440.5 661.51 439.93 659.31C439.36 657.1 437.51 654.29 437.03 653.29L418.63 653.29C418.15 654.29 416.3 657.1 415.73 659.31C415.16 661.51 414.93 664.11 415.23 666.52C415.53 668.92 416.66 671.32 417.53 673.73C418.4 676.13 419.53 678.21 420.43 680.94C421.33 683.66 422.43 686.85 422.93 690.09C423.43 693.33 423.56 696.96 423.43 700.37C423.3 703.79 422.55 707.51 422.13 710.59C421.71 713.68 421.21 716.6 420.93 718.87C420.65 721.14 420.51 723.31 420.43 724.2Z" fill="#EE0000" stroke="#1A1A1A" stroke-width="0.55"/>
<circle cx="426.72" cy="653.68" r="1.1" fill="#111"/>
<circle cx="424.92" cy="699.32" r="1.1" fill="#111"/>
<circle cx="426.67" cy="687.6" r="1.1" fill="#111"/>
<circle cx="426.75" cy="667.88" r="1.1" fill="#111"/>
<circle cx="422.44" cy="676.37" r="1.1" fill="#111"/>
<circle cx="419.46" cy="724.34" r="1.1" fill="#111"/>
<circle cx="420.61" cy="708.65" r="1.1" fill="#111"/>
<circle cx="436.91" cy="678.76" r="1.1" fill="#111"/>
<circle cx="439.07" cy="718.23" r="1.1" fill="#111"/>
<circle cx="431.25" cy="691.56" r="1.1" fill="#111"/>
<circle cx="433.95" cy="708.02" r="1.1" fill="#111"/>
<circle cx="432.71" cy="723.98" r="1.1" fill="#111"/>
<circle cx="430.26" cy="723.74" r="1.1" fill="#111"/>
<circle cx="425.4" cy="658.67" r="1.1" fill="#111"/>
<circle cx="433.16" cy="724.44" r="1.1" fill="#111"/>
<circle cx="433.02" cy="662.99" r="1.1" fill="#111"/>
<circle cx="421.23" cy="683.81" r="1.1" fill="#111"/>
<circle cx="436.29" cy="712.07" r="1.1" fill="#111"/>
<circle cx="426.91" cy="678.13" r="1.1" fill="#111"/>
<circle cx="437.72" cy="658.85" r="1.1" fill="#111"/>
<circle cx="432.56" cy="724.11" r="1.1" fill="#111"/>
<circle cx="432.42" cy="723.99" r="1.1" fill="#111"/>
<circle cx="436.6" cy="665.97" r="1.1" fill="#111"/>
<circle cx="417.21" cy="722.03" r="1.1" fill="#111"/>
<circle cx="426.36" cy="665.79" r="1.1" fill="#111"/>
<circle cx="437.76" cy="672.51" r="1.1" fill="#111"/>
<circle cx="427.83" cy="684.5" r="2.7" fill="#fff"/>
<rect x="444.65" y="723.3" width="9.2" height="1.8" fill="#2E2E2E"/>
<rect x="459.25" y="723.3" width="9.2" height="1.8" fill="#2E2E2E"/>
<rect x="473.37" y="723.3" width="9.2" height="1.8" fill="#2E2E2E"/>
<rect x="487.97" y="723.3" width="9.2" height="1.8" fill="#2E2E2E"/>
<rect x="410.6" y="649.6" width="91.9" height="78" fill="none" stroke="#8A8A8A" stroke-width="0.9"/>
<line x1="408.2" y1="724.2" x2="410.6" y2="724.2" stroke="#333333" stroke-width="0.8"/>
<text x="406.6" y="728.09" font-size="10.8" text-anchor="end" fill="#4D4D4D" color="#4D4D4D">0</text>
<line x1="408.2" y1="705.39" x2="410.6" y2="705.39" stroke="#333333" stroke-width="0.8"/>
<text x="406.6" y="709.28" font-size="10.8" text-anchor="end" fill="#4D4D4D" color="#4D4D4D">3</text>
<line x1="408.2" y1="686.58" x2="410.6" y2="686.58" stroke="#333333" stroke-width="0.8"/>
<text x="406.6" y="690.47" font-size="10.8" text-anchor="end" fill="#4D4D4D" color="#4D4D4D">6</text>
<line x1="408.2" y1="667.77" x2="410.6" y2="667.77" stroke="#333333" stroke-width="0.8"/>
<text x="406.6" y="671.66" font-size="10.8" text-anchor="end" fill="#4D4D4D" color="#4D4D4D">9</text>
<line x1="408.2" y1="648.96" x2="410.6" y2="648.96" stroke="#333333" stroke-width="0.8"/>
<text x="406.6" y="652.85" font-size="10.8" text-anchor="end" fill="#4D4D4D" color="#4D4D4D">12</text>
<line x1="427.83" y1="727.6" x2="427.83" y2="730" stroke="#333333" stroke-width="0.8"/>
<line x1="456.55" y1="727.6" x2="456.55" y2="730" stroke="#333333" stroke-width="0.8"/>
<line x1="485.27" y1="727.6" x2="485.27" y2="730" stroke="#333333" stroke-width="0.8"/>
<text x="393.5" y="686" font-size="13" text-anchor="middle" fill="#000" color="#000" transform="rotate(-90 393.5 686)">CRHBP</text>
<path d="M574.01 724.2C574.01 723.32 574.2 721.19 574.01 718.93C573.83 716.66 573.35 713.7 572.91 710.61C572.48 707.53 571.83 703.83 571.41 700.4C571 696.98 570.71 693.5 570.41 690.06C570.11 686.63 569.83 683.21 569.61 679.79C569.4 676.36 569.41 672.59 569.11 669.51C568.81 666.44 568.21 663.71 567.81 661.33C567.41 658.95 566.96 656.59 566.71 655.25C566.46 653.91 566.38 653.61 566.31 653.29L557.51 653.29C557.45 653.61 557.36 653.91 557.11 655.25C556.86 656.59 556.41 658.95 556.01 661.33C555.61 663.71 555.01 666.44 554.71 669.51C554.41 672.59 554.43 676.36 554.21 679.79C554 683.21 553.71 686.63 553.41 690.06C553.11 693.5 552.83 696.98 552.41 700.4C552 703.83 551.35 707.53 550.91 710.61C550.48 713.7 550 716.66 549.81 718.93C549.63 721.19 549.81 723.32 549.81 724.2Z" fill="#EE0000" stroke="#1A1A1A" stroke-width="0.55"/>
<circle cx="551.34" cy="709.73" r="1.1" fill="#111"/>
<circle cx="561.75" cy="683.17" r="1.1" fill="#111"/>
<circle cx="556.05" cy="683.72" r="1.1" fill="#111"/>
<circle cx="570.69" cy="668.19" r="1.1" fill="#111"/>
<circle cx="572.06" cy="721.89" r="1.1" fill="#111"/>
<circle cx="561.97" cy="709.44" r="1.1" fill="#111"/>
<circle cx="559.17" cy="704.04" r="1.1" fill="#111"/>
<circle cx="553.76" cy="724.61" r="1.1" fill="#111"/>
<circle cx="565.24" cy="676.05" r="1.1" fill="#111"/>
<circle cx="558.41" cy="723.75" r="1.1" fill="#111"/>
<circle cx="574.52" cy="679.79" r="1.1" fill="#111"/>
<circle cx="564.28" cy="724.1" r="1.1" fill="#111"/>
<circle cx="555.71" cy="681.56" r="1.1" fill="#111"/>
<circle cx="560.29" cy="679.99" r="1.1" fill="#111"/>
<circle cx="565.05" cy="724.52" r="1.1" fill="#111"/>
<circle cx="571.32" cy="717.62" r="1.1" fill="#111"/>
<circle cx="575" cy="704.63" r="1.1" fill="#111"/>
<circle cx="575.08" cy="723.64" r="1.1" fill="#111"/>
<circle cx="564.67" cy="693.91" r="1.1" fill="#111"/>
<circle cx="554.78" cy="696.96" r="1.1" fill="#111"/>
<circle cx="550.24" cy="724.18" r="1.1" fill="#111"/>
<circle cx="563.04" cy="724.54" r="1.1" fill="#111"/>
<circle cx="557.53" cy="714.46" r="1.1" fill="#111"/>
<circle cx="548.93" cy="694.35" r="1.1" fill="#111"/>
<circle cx="561.91" cy="698.6" r="2.7" fill="#fff"/>
<path d="M601.2 724.2C600.55 723.82 598.88 722.62 597.3 721.9C595.72 721.18 592.9 720.5 591.7 719.87C590.5 719.24 590.47 719.08 590.1 718.12C589.73 717.15 589.62 717.7 589.5 714.06C589.38 710.42 589.42 699.24 589.4 696.28L588.8 696.28C588.78 699.24 588.82 710.42 588.7 714.06C588.58 717.7 588.47 717.15 588.1 718.12C587.73 719.08 587.7 719.24 586.5 719.87C585.3 720.5 582.48 721.18 580.9 721.9C579.32 722.62 577.65 723.82 577 724.2Z" fill="#0A8A12" stroke="#1A1A1A" stroke-width="0.55"/>
<circle cx="592.86" cy="724.15" r="1.1" fill="#111"/>
<circle cx="595.84" cy="724.63" r="1.1" fill="#111"/>
<circle cx="577.4" cy="724.07" r="1.1" fill="#111"/>
<circle cx="594.72" cy="724.42" r="1.1" fill="#111"/>
<circle cx="585.71" cy="724.24" r="1.1" fill="#111"/>
<circle cx="595.95" cy="723.85" r="1.1" fill="#111"/>
<circle cx="581.59" cy="724.13" r="1.1" fill="#111"/>
<circle cx="586.75" cy="724.6" r="1.1" fill="#111"/>
<circle cx="590.16" cy="724.03" r="1.1" fill="#111"/>
<circle cx="590.76" cy="724.52" r="1.1" fill="#111"/>
<circle cx="597.52" cy="723.89" r="1.1" fill="#111"/>
<circle cx="591.71" cy="723.87" r="1.1" fill="#111"/>
<circle cx="582.72" cy="723.71" r="1.1" fill="#111"/>
<circle cx="598.47" cy="723.98" r="1.1" fill="#111"/>
<circle cx="588.06" cy="724.5" r="1.1" fill="#111"/>
<circle cx="598.67" cy="724.09" r="1.1" fill="#111"/>
<circle cx="587.85" cy="724.46" r="1.1" fill="#111"/>
<circle cx="583.94" cy="724.33" r="1.1" fill="#111"/>
<circle cx="599.48" cy="724.08" r="1.1" fill="#111"/>
<circle cx="600.57" cy="723.75" r="1.1" fill="#111"/>
<circle cx="588" cy="724.48" r="1.1" fill="#111"/>
<circle cx="578.81" cy="723.88" r="1.1" fill="#111"/>
<circle cx="592.2" cy="724.35" r="1.1" fill="#111"/>
<circle cx="594.36" cy="724.35" r="1.1" fill="#111"/>
<circle cx="598.96" cy="724.5" r="1.1" fill="#111"/>
<circle cx="591.67" cy="724.53" r="1.1" fill="#111"/>
<circle cx="584.7" cy="723.72" r="1.1" fill="#111"/>
<circle cx="582.72" cy="723.96" r="1.1" fill="#111"/>
<circle cx="579.43" cy="724.66" r="1.1" fill="#111"/>
<circle cx="589.06" cy="723.7" r="1.1" fill="#111"/>
<circle cx="599.22" cy="724.14" r="1.1" fill="#111"/>
<circle cx="579.48" cy="724.45" r="1.1" fill="#111"/>
<circle cx="582.35" cy="724.41" r="1.1" fill="#111"/>
<circle cx="590.46" cy="719.06" r="1.1" fill="#111"/>
<circle cx="585.07" cy="724.63" r="1.1" fill="#111"/>
<circle cx="594.07" cy="724.44" r="1.1" fill="#111"/>
<circle cx="589.28" cy="724.58" r="1.1" fill="#111"/>
<circle cx="588.55" cy="724.42" r="1.1" fill="#111"/>
<circle cx="584.37" cy="696.46" r="1.1" fill="#111"/>
<circle cx="583.01" cy="723.95" r="1.1" fill="#111"/>
<circle cx="589.1" cy="723.2" r="2.7" fill="#fff"/>
<path d="M628.59 724.2C628.2 723.48 627.1 721.27 626.29 719.87C625.47 718.48 624.59 717.18 623.69 715.82C622.79 714.45 621.75 712.78 620.89 711.69C620.02 710.61 619.09 710.02 618.49 709.33C617.89 708.64 617.54 709.06 617.29 707.57C617.04 706.08 616.95 703.32 616.99 700.4C617.02 697.49 617.29 693.5 617.49 690.06C617.69 686.63 618.09 682.32 618.19 679.79C618.29 677.25 618.24 676.08 618.09 674.85C617.94 673.62 617.42 672.82 617.29 672.42L615.29 672.42C615.15 672.82 614.64 673.62 614.49 674.85C614.34 676.08 614.29 677.25 614.39 679.79C614.49 682.32 614.89 686.63 615.09 690.06C615.29 693.5 615.55 697.49 615.59 700.4C615.62 703.32 615.54 706.08 615.29 707.57C615.04 709.06 614.69 708.64 614.09 709.33C613.49 710.02 612.55 710.61 611.69 711.69C610.82 712.78 609.79 714.45 608.89 715.82C607.99 717.18 607.1 718.48 606.29 719.87C605.47 721.27 604.37 723.48 603.99 724.2Z" fill="#4EEE94" stroke="#1A1A1A" stroke-width="0.55"/>
<circle cx="607.34" cy="722.7" r="1.1" fill="#111"/>
<circle cx="617.24" cy="723.71" r="1.1" fill="#111"/>
<circle cx="618.34" cy="723.94" r="1.1" fill="#111"/>
<circle cx="604.21" cy="724.15" r="1.1" fill="#111"/>
<circle cx="613.75" cy="723.83" r="1.1" fill="#111"/>
<circle cx="626.58" cy="724.09" r="1.1" fill="#111"/>
<circle cx="615" cy="723.87" r="1.1" fill="#111"/>
<circle cx="617.84" cy="724.24" r="1.1" fill="#111"/>
<circle cx="605.58" cy="724.44" r="1.1" fill="#111"/>
<circle cx="613.85" cy="703.76" r="1.1" fill="#111"/>
<circle cx="615.18" cy="723.89" r="1.1" fill="#111"/>
<circle cx="615.98" cy="724.4" r="1.1" fill="#111"/>
<circle cx="608.26" cy="724.66" r="1.1" fill="#111"/>
<circle cx="606.42" cy="712.18" r="1.1" fill="#111"/>
<circle cx="616.08" cy="723.71" r="1.1" fill="#111"/>
<circle cx="619.69" cy="724.27" r="1.1" fill="#111"/>
<circle cx="623.71" cy="724.33" r="1.1" fill="#111"/>
<circle cx="611.89" cy="724.11" r="1.1" fill="#111"/>
<circle cx="611.12" cy="724.32" r="1.1" fill="#111"/>
<circle cx="624.73" cy="724.02" r="1.1" fill="#111"/>
<circle cx="617.33" cy="722.46" r="1.1" fill="#111"/>
<circle cx="606.06" cy="718.85" r="1.1" fill="#111"/>
<circle cx="610.62" cy="719.99" r="1.1" fill="#111"/>
<circle cx="620.82" cy="723.94" r="1.1" fill="#111"/>
<circle cx="612.64" cy="724.31" r="1.1" fill="#111"/>
<circle cx="611.74" cy="723.95" r="1.1" fill="#111"/>
<circle cx="619.21" cy="724.24" r="1.1" fill="#111"/>
<circle cx="610.36" cy="724.48" r="1.1" fill="#111"/>
<circle cx="607.14" cy="724.18" r="1.1" fill="#111"/>
<circle cx="619.42" cy="683.79" r="1.1" fill="#111"/>
<circle cx="612.5" cy="723.7" r="1.1" fill="#111"/>
<circle cx="607.06" cy="724.29" r="1.1" fill="#111"/>
<circle cx="607.07" cy="723.98" r="1.1" fill="#111"/>
<circle cx="621.51" cy="721.74" r="1.1" fill="#111"/>
<circle cx="614.75" cy="724.42" r="1.1" fill="#111"/>
<circle cx="610.04" cy="724.59" r="1.1" fill="#111"/>
<circle cx="620.71" cy="724.37" r="1.1" fill="#111"/>
<circle cx="610.44" cy="714.43" r="1.1" fill="#111"/>
<circle cx="610.73" cy="724.05" r="1.1" fill="#111"/>
<circle cx="613.66" cy="723.81" r="1.1" fill="#111"/>
<circle cx="616.29" cy="715.8" r="2.7" fill="#fff"/>
<rect x="545.6" y="649.6" width="87" height="78" fill="none" stroke="#8A8A8A" stroke-width="0.9"/>
<line x1="543.2" y1="724.2" x2="545.6" y2="724.2" stroke="#333333" stroke-width="0.8"/>
<text x="541.6" y="728.45" font-size="11.8" text-anchor="end" fill="#4D4D4D" color="#4D4D4D">0</text>
<line x1="543.2" y1="690.4" x2="545.6" y2="690.4" stroke="#333333" stroke-width="0.8"/>
<text x="541.6" y="694.65" font-size="11.8" text-anchor="end" fill="#4D4D4D" color="#4D4D4D">5</text>
<line x1="543.2" y1="656.6" x2="545.6" y2="656.6" stroke="#333333" stroke-width="0.8"/>
<text x="541.6" y="660.85" font-size="11.8" text-anchor="end" fill="#4D4D4D" color="#4D4D4D">10</text>
<line x1="543.2" y1="707.3" x2="545.6" y2="707.3" stroke="#333333" stroke-width="0.8"/>
<line x1="543.2" y1="673.5" x2="545.6" y2="673.5" stroke="#333333" stroke-width="0.8"/>
<line x1="561.91" y1="727.6" x2="561.91" y2="730" stroke="#333333" stroke-width="0.8"/>
<line x1="589.1" y1="727.6" x2="589.1" y2="730" stroke="#333333" stroke-width="0.8"/>
<line x1="616.29" y1="727.6" x2="616.29" y2="730" stroke="#333333" stroke-width="0.8"/>
<text x="525.9" y="686" font-size="13" text-anchor="middle" fill="#000" color="#000" transform="rotate(-90 525.9 686)">TSPAN7</text>
<path d="M691.95 724.2C691.9 722.97 691.97 719.39 691.65 716.79C691.33 714.19 690.52 711.33 690.05 708.6C689.58 705.87 688.93 703.14 688.85 700.41C688.77 697.67 688.8 695.11 689.55 692.21C690.3 689.31 692.07 685.9 693.35 682.98C694.63 680.07 696.3 677.47 697.25 674.73C698.2 671.99 699 669.1 699.05 666.54C699.1 663.97 698.37 661.52 697.55 659.31C696.73 657.11 694.72 654.3 694.15 653.3L677.75 653.3C677.18 654.3 675.17 657.11 674.35 659.31C673.53 661.52 672.8 663.97 672.85 666.54C672.9 669.1 673.7 671.99 674.65 674.73C675.6 677.47 677.27 680.07 678.55 682.98C679.83 685.9 681.6 689.31 682.35 692.21C683.1 695.11 683.13 697.67 683.05 700.41C682.97 703.14 682.32 705.87 681.85 708.6C681.38 711.33 680.57 714.19 680.25 716.79C679.93 719.39 680 722.97 679.95 724.2Z" fill="#EE0000" stroke="#1A1A1A" stroke-width="0.55"/>
<circle cx="686.68" cy="724.47" r="1.1" fill="#111"/>
<circle cx="684.85" cy="685.91" r="1.1" fill="#111"/>
<circle cx="690.85" cy="655.78" r="1.1" fill="#111"/>
<circle cx="697.6" cy="668.69" r="1.1" fill="#111"/>
<circle cx="680.92" cy="723.87" r="1.1" fill="#111"/>
<circle cx="694.84" cy="660.16" r="1.1" fill="#111"/>
<circle cx="689.33" cy="670.61" r="1.1" fill="#111"/>
<circle cx="694.85" cy="709.78" r="1.1" fill="#111"/>
<circle cx="679.18" cy="722.08" r="1.1" fill="#111"/>
<circle cx="675.13" cy="720.14" r="1.1" fill="#111"/>
<circle cx="679.64" cy="707.23" r="1.1" fill="#111"/>
<circle cx="673.17" cy="680.51" r="1.1" fill="#111"/>
<circle cx="696.62" cy="666.92" r="1.1" fill="#111"/>
<circle cx="690.23" cy="667.35" r="1.1" fill="#111"/>
<circle cx="676.07" cy="665.96" r="1.1" fill="#111"/>
<circle cx="688.58" cy="661.79" r="1.1" fill="#111"/>
<circle cx="694.25" cy="704.57" r="1.1" fill="#111"/>
<circle cx="688.91" cy="687.2" r="1.1" fill="#111"/>
<circle cx="688.32" cy="692.3" r="1.1" fill="#111"/>
<circle cx="686.17" cy="675.8" r="1.1" fill="#111"/>
<circle cx="688.76" cy="723.96" r="1.1" fill="#111"/>
<circle cx="692.67" cy="654.24" r="1.1" fill="#111"/>
<circle cx="673.83" cy="667.87" r="1.1" fill="#111"/>
<circle cx="683.81" cy="724.18" r="1.1" fill="#111"/>
<circle cx="682.15" cy="663.59" r="1.1" fill="#111"/>
<circle cx="674.07" cy="678.03" r="1.1" fill="#111"/>
<circle cx="698.84" cy="679.42" r="1.1" fill="#111"/>
<circle cx="676.62" cy="667.92" r="1.1" fill="#111"/>
<circle cx="685.95" cy="682.2" r="2.7" fill="#fff"/>
<path d="M727.3 724.2C726.78 724 725.35 723.37 724.2 722.99C723.05 722.6 721.73 722.32 720.4 721.89C719.07 721.47 717.07 721.06 716.2 720.44C715.33 719.81 715.4 722.66 715.2 718.13C715 713.6 715.03 697.39 715 693.24L714.4 693.24C714.37 697.39 714.4 713.6 714.2 718.13C714 722.66 714.07 719.81 713.2 720.44C712.33 721.06 710.33 721.47 709 721.89C707.67 722.32 706.35 722.6 705.2 722.99C704.05 723.37 702.62 724 702.1 724.2Z" fill="#0A8A12" stroke="#1A1A1A" stroke-width="0.55"/>
<circle cx="717.08" cy="724.09" r="1.1" fill="#111"/>
<circle cx="725.93" cy="724.13" r="1.1" fill="#111"/>
<circle cx="715.37" cy="708.83" r="1.1" fill="#111"/>
<circle cx="706.36" cy="724.64" r="1.1" fill="#111"/>
<circle cx="709.66" cy="724.12" r="1.1" fill="#111"/>
<circle cx="706.14" cy="724.54" r="1.1" fill="#111"/>
<circle cx="728.01" cy="724.17" r="1.1" fill="#111"/>
<circle cx="701.76" cy="724.07" r="1.1" fill="#111"/>
<circle cx="708.57" cy="723.95" r="1.1" fill="#111"/>
<circle cx="715.51" cy="724.15" r="1.1" fill="#111"/>
<circle cx="709.74" cy="724.26" r="1.1" fill="#111"/>
<circle cx="719.36" cy="724.46" r="1.1" fill="#111"/>
<circle cx="715.12" cy="723.78" r="1.1" fill="#111"/>
<circle cx="713.57" cy="724.52" r="1.1" fill="#111"/>
<circle cx="716.32" cy="723.71" r="1.1" fill="#111"/>
<circle cx="727.93" cy="724.64" r="1.1" fill="#111"/>
<circle cx="724.52" cy="724.64" r="1.1" fill="#111"/>
<circle cx="723.67" cy="723.93" r="1.1" fill="#111"/>
<circle cx="702.34" cy="724.3" r="1.1" fill="#111"/>
<circle cx="706.83" cy="724.39" r="1.1" fill="#111"/>
<circle cx="724.23" cy="724.13" r="1.1" fill="#111"/>
<circle cx="707.39" cy="723.82" r="1.1" fill="#111"/>
<circle cx="717.26" cy="723.84" r="1.1" fill="#111"/>
<circle cx="724.79" cy="724.53" r="1.1" fill="#111"/>
<circle cx="715.07" cy="723.75" r="1.1" fill="#111"/>
<circle cx="714.12" cy="724" r="1.1" fill="#111"/>
<circle cx="705.44" cy="724.42" r="1.1" fill="#111"/>
<circle cx="721.8" cy="724.66" r="1.1" fill="#111"/>
<circle cx="715.58" cy="723.9" r="1.1" fill="#111"/>
<circle cx="703.24" cy="724.15" r="1.1" fill="#111"/>
<circle cx="715.95" cy="723.85" r="1.1" fill="#111"/>
<circle cx="707.39" cy="724.11" r="1.1" fill="#111"/>
<circle cx="720.19" cy="724.56" r="1.1" fill="#111"/>
<circle cx="717.03" cy="724.56" r="1.1" fill="#111"/>
<circle cx="713.83" cy="722.68" r="1.1" fill="#111"/>
<circle cx="703.11" cy="724.39" r="1.1" fill="#111"/>
<circle cx="720.08" cy="703.9" r="1.1" fill="#111"/>
<circle cx="728.06" cy="724.28" r="1.1" fill="#111"/>
<circle cx="714.39" cy="724.32" r="1.1" fill="#111"/>
<circle cx="712.48" cy="724.69" r="1.1" fill="#111"/>
<circle cx="714.7" cy="724" r="2.7" fill="#fff"/>
<path d="M756.55 724.2C756 723.65 754.78 721.98 753.25 720.92C751.72 719.86 748.82 718.68 747.35 717.83C745.88 716.98 745.02 716.78 744.45 715.82C743.88 714.86 744.07 720.66 743.95 712.06C743.83 703.46 743.78 672.2 743.75 664.23L743.15 664.23C743.12 672.2 743.07 703.46 742.95 712.06C742.83 720.66 743.02 714.86 742.45 715.82C741.88 716.78 741.02 716.98 739.55 717.83C738.08 718.68 735.18 719.86 733.65 720.92C732.12 721.98 730.9 723.65 730.35 724.2Z" fill="#4EEE94" stroke="#1A1A1A" stroke-width="0.55"/>
<circle cx="754.42" cy="721.48" r="1.1" fill="#111"/>
<circle cx="740.06" cy="724.52" r="1.1" fill="#111"/>
<circle cx="746.24" cy="724.69" r="1.1" fill="#111"/>
<circle cx="752.14" cy="724.29" r="1.1" fill="#111"/>
<circle cx="742.18" cy="665.28" r="1.1" fill="#111"/>
<circle cx="744.54" cy="701" r="1.1" fill="#111"/>
<circle cx="751.44" cy="724" r="1.1" fill="#111"/>
<circle cx="733.97" cy="724.66" r="1.1" fill="#111"/>
<circle cx="736.38" cy="724.38" r="1.1" fill="#111"/>
<circle cx="745.57" cy="687.93" r="1.1" fill="#111"/>
<circle cx="754.26" cy="724.41" r="1.1" fill="#111"/>
<circle cx="731.44" cy="724.39" r="1.1" fill="#111"/>
<circle cx="733.86" cy="724.68" r="1.1" fill="#111"/>
<circle cx="731.06" cy="721.01" r="1.1" fill="#111"/>
<circle cx="743.03" cy="724.69" r="1.1" fill="#111"/>
<circle cx="730.59" cy="724.56" r="1.1" fill="#111"/>
<circle cx="731.27" cy="724.27" r="1.1" fill="#111"/>
<circle cx="746.19" cy="723.88" r="1.1" fill="#111"/>
<circle cx="741.42" cy="724.54" r="1.1" fill="#111"/>
<circle cx="753.39" cy="724.58" r="1.1" fill="#111"/>
<circle cx="745.47" cy="723.91" r="1.1" fill="#111"/>
<circle cx="741.27" cy="723.88" r="1.1" fill="#111"/>
<circle cx="749.31" cy="724.33" r="1.1" fill="#111"/>
<circle cx="731.38" cy="723.88" r="1.1" fill="#111"/>
<circle cx="741.55" cy="724.32" r="1.1" fill="#111"/>
<circle cx="747.34" cy="724.17" r="1.1" fill="#111"/>
<circle cx="730.85" cy="724.58" r="1.1" fill="#111"/>
<circle cx="747.49" cy="723.95" r="1.1" fill="#111"/>
<circle cx="740.72" cy="724.6" r="1.1" fill="#111"/>
<circle cx="731.43" cy="724.29" r="1.1" fill="#111"/>
<circle cx="731.02" cy="724.08" r="1.1" fill="#111"/>
<circle cx="740.52" cy="724.52" r="1.1" fill="#111"/>
<circle cx="753.44" cy="724.57" r="1.1" fill="#111"/>
<circle cx="755.39" cy="724.19" r="1.1" fill="#111"/>
<circle cx="737.87" cy="723.85" r="1.1" fill="#111"/>
<circle cx="750.5" cy="724.05" r="1.1" fill="#111"/>
<circle cx="756.25" cy="724.24" r="1.1" fill="#111"/>
<circle cx="737.37" cy="724.56" r="1.1" fill="#111"/>
<circle cx="743.21" cy="723.97" r="1.1" fill="#111"/>
<circle cx="733.51" cy="724.04" r="1.1" fill="#111"/>
<circle cx="743.45" cy="722.1" r="2.7" fill="#fff"/>
<circle cx="725.3" cy="693.4" r="0.95" fill="#111"/>
<circle cx="756.1" cy="664.3" r="0.95" fill="#111"/>
<rect x="668.7" y="649.6" width="92" height="78" fill="none" stroke="#8A8A8A" stroke-width="0.9"/>
<line x1="666.3" y1="724.2" x2="668.7" y2="724.2" stroke="#333333" stroke-width="0.8"/>
<text x="664.7" y="728.09" font-size="10.8" text-anchor="end" fill="#4D4D4D" color="#4D4D4D">0</text>
<line x1="666.3" y1="705.99" x2="668.7" y2="705.99" stroke="#333333" stroke-width="0.8"/>
<text x="664.7" y="709.88" font-size="10.8" text-anchor="end" fill="#4D4D4D" color="#4D4D4D">3</text>
<line x1="666.3" y1="687.78" x2="668.7" y2="687.78" stroke="#333333" stroke-width="0.8"/>
<text x="664.7" y="691.67" font-size="10.8" text-anchor="end" fill="#4D4D4D" color="#4D4D4D">6</text>
<line x1="666.3" y1="669.57" x2="668.7" y2="669.57" stroke="#333333" stroke-width="0.8"/>
<text x="664.7" y="673.46" font-size="10.8" text-anchor="end" fill="#4D4D4D" color="#4D4D4D">9</text>
<line x1="666.3" y1="651.36" x2="668.7" y2="651.36" stroke="#333333" stroke-width="0.8"/>
<text x="664.7" y="655.25" font-size="10.8" text-anchor="end" fill="#4D4D4D" color="#4D4D4D">12</text>
<line x1="685.95" y1="727.6" x2="685.95" y2="730" stroke="#333333" stroke-width="0.8"/>
<line x1="714.7" y1="727.6" x2="714.7" y2="730" stroke="#333333" stroke-width="0.8"/>
<line x1="743.45" y1="727.6" x2="743.45" y2="730" stroke="#333333" stroke-width="0.8"/>
<text x="654" y="687.7" font-size="13" text-anchor="middle" fill="#000" color="#000" transform="rotate(-90 654 687.7)">FCN3</text>
<path d="M830.04 724.2C830 723.65 830.05 722.32 829.84 720.93C829.62 719.53 829.22 717.87 828.74 715.81C828.25 713.75 827.4 711.15 826.94 708.58C826.47 706.01 826.1 703.48 825.94 700.4C825.77 697.32 826.02 693.53 825.94 690.1C825.85 686.67 825.69 683.23 825.44 679.8C825.19 676.37 824.9 672.58 824.44 669.5C823.97 666.42 823.24 664.02 822.64 661.32C822.04 658.61 821.14 654.61 820.84 653.27L814.64 653.27C814.34 654.61 813.44 658.61 812.84 661.32C812.24 664.02 811.5 666.42 811.04 669.5C810.57 672.58 810.29 676.37 810.04 679.8C809.79 683.23 809.62 686.67 809.54 690.1C809.45 693.53 809.7 697.32 809.54 700.4C809.37 703.48 809 706.01 808.54 708.58C808.07 711.15 807.22 713.75 806.74 715.81C806.25 717.87 805.85 719.53 805.64 720.93C805.42 722.32 805.47 723.65 805.44 724.2Z" fill="#EE0000" stroke="#1A1A1A" stroke-width="0.55"/>
<circle cx="804.77" cy="718.72" r="1.1" fill="#111"/>
<circle cx="826.37" cy="724.35" r="1.1" fill="#111"/>
<circle cx="816.58" cy="724.57" r="1.1" fill="#111"/>
<circle cx="823.61" cy="724.42" r="1.1" fill="#111"/>
<circle cx="823.15" cy="723.88" r="1.1" fill="#111"/>
<circle cx="826.59" cy="724.28" r="1.1" fill="#111"/>
<circle cx="821.65" cy="716.37" r="1.1" fill="#111"/>
<circle cx="818.29" cy="660.24" r="1.1" fill="#111"/>
<circle cx="814.5" cy="682.27" r="1.1" fill="#111"/>
<circle cx="809.9" cy="724.38" r="1.1" fill="#111"/>
<circle cx="808.29" cy="724.1" r="1.1" fill="#111"/>
<circle cx="809.18" cy="663.73" r="1.1" fill="#111"/>
<circle cx="810.93" cy="724.68" r="1.1" fill="#111"/>
<circle cx="829.51" cy="724.69" r="1.1" fill="#111"/>
<circle cx="804.88" cy="723.78" r="1.1" fill="#111"/>
<circle cx="810.57" cy="724.24" r="1.1" fill="#111"/>
<circle cx="808.18" cy="690.88" r="1.1" fill="#111"/>
<circle cx="830.51" cy="723.79" r="1.1" fill="#111"/>
<circle cx="809.11" cy="723.9" r="1.1" fill="#111"/>
<circle cx="804.76" cy="723.86" r="1.1" fill="#111"/>
<circle cx="824.54" cy="686.6" r="1.1" fill="#111"/>
<circle cx="822.91" cy="709.45" r="1.1" fill="#111"/>
<circle cx="817.74" cy="700.5" r="2.7" fill="#fff"/>
<rect x="832.9" y="723.3" width="9.2" height="1.8" fill="#2E2E2E"/>
<rect x="847.5" y="723.3" width="9.2" height="1.8" fill="#2E2E2E"/>
<rect x="859.96" y="723.3" width="9.2" height="1.8" fill="#2E2E2E"/>
<rect x="874.56" y="723.3" width="9.2" height="1.8" fill="#2E2E2E"/>
<rect x="801.5" y="649.6" width="86.6" height="78" fill="none" stroke="#8A8A8A" stroke-width="0.9"/>
<line x1="799.1" y1="724.2" x2="801.5" y2="724.2" stroke="#333333" stroke-width="0.8"/>
<text x="797.5" y="728.09" font-size="10.8" text-anchor="end" fill="#4D4D4D" color="#4D4D4D">0</text>
<line x1="799.1" y1="690.1" x2="801.5" y2="690.1" stroke="#333333" stroke-width="0.8"/>
<text x="797.5" y="693.99" font-size="10.8" text-anchor="end" fill="#4D4D4D" color="#4D4D4D">5</text>
<line x1="799.1" y1="656" x2="801.5" y2="656" stroke="#333333" stroke-width="0.8"/>
<text x="797.5" y="659.89" font-size="10.8" text-anchor="end" fill="#4D4D4D" color="#4D4D4D">10</text>
<line x1="799.1" y1="707.15" x2="801.5" y2="707.15" stroke="#333333" stroke-width="0.8"/>
<line x1="799.1" y1="673.05" x2="801.5" y2="673.05" stroke="#333333" stroke-width="0.8"/>
<line x1="817.74" y1="727.6" x2="817.74" y2="730" stroke="#333333" stroke-width="0.8"/>
<line x1="844.8" y1="727.6" x2="844.8" y2="730" stroke="#333333" stroke-width="0.8"/>
<line x1="871.86" y1="727.6" x2="871.86" y2="730" stroke="#333333" stroke-width="0.8"/>
<text x="788" y="687.2" font-size="13" text-anchor="middle" fill="#000" color="#000" transform="rotate(-90 788 687.2)">MRC1</text>
<text x="428.6" y="342.1" font-size="13" text-anchor="middle" fill="#000" color="#000">Fetal</text>
<text x="462.5" y="342.1" font-size="13" text-anchor="middle" fill="#000" color="#000">MC</text>
<text x="462.5" y="358.5" font-size="13" text-anchor="middle" fill="#000" color="#000">(2D)</text>
<text x="496.9" y="342.1" font-size="13" text-anchor="middle" fill="#000" color="#000">MC</text>
<text x="496.9" y="358.5" font-size="13" text-anchor="middle" fill="#000" color="#000">LB</text>
<text x="496.9" y="374.9" font-size="13" text-anchor="middle" fill="#000" color="#000">(3D)</text>
<text x="563" y="342.1" font-size="13" text-anchor="middle" fill="#000" color="#000">Fetal</text>
<text x="596.6" y="342.1" font-size="13" text-anchor="middle" fill="#000" color="#000">MC</text>
<text x="596.6" y="358.5" font-size="13" text-anchor="middle" fill="#000" color="#000">(2D)</text>
<text x="631.2" y="342.1" font-size="13" text-anchor="middle" fill="#000" color="#000">MC</text>
<text x="631.2" y="358.5" font-size="13" text-anchor="middle" fill="#000" color="#000">LB</text>
<text x="631.2" y="374.9" font-size="13" text-anchor="middle" fill="#000" color="#000">(3D)</text>
<text x="691.8" y="342.1" font-size="13" text-anchor="middle" fill="#000" color="#000">Fetal</text>
<text x="725.8" y="342.1" font-size="13" text-anchor="middle" fill="#000" color="#000">MC</text>
<text x="725.8" y="358.5" font-size="13" text-anchor="middle" fill="#000" color="#000">(2D)</text>
<text x="760.4" y="342.1" font-size="13" text-anchor="middle" fill="#000" color="#000">MC</text>
<text x="760.4" y="358.5" font-size="13" text-anchor="middle" fill="#000" color="#000">LB</text>
<text x="760.4" y="374.9" font-size="13" text-anchor="middle" fill="#000" color="#000">(3D)</text>
<text x="823.3" y="341.2" font-size="13" text-anchor="middle" fill="#000" color="#000">Fetal</text>
<text x="857" y="341.2" font-size="13" text-anchor="middle" fill="#000" color="#000">MC</text>
<text x="857" y="357.2" font-size="13" text-anchor="middle" fill="#000" color="#000">(2D)</text>
<text x="891.6" y="341.2" font-size="13" text-anchor="middle" fill="#000" color="#000">MC</text>
<text x="891.6" y="357.2" font-size="13" text-anchor="middle" fill="#000" color="#000">LB</text>
<text x="891.6" y="373.2" font-size="13" text-anchor="middle" fill="#000" color="#000">(3D)</text>
<text x="433" y="740.3" font-size="13.8" text-anchor="end" fill="#000" color="#000" transform="rotate(-45 433 740.3)">Primary</text>
<text x="455.4" y="743.8" font-size="13" text-anchor="middle" fill="#000" color="#000">EC</text>
<text x="455.4" y="759.8" font-size="13" text-anchor="middle" fill="#000" color="#000">(2D)</text>
<text x="484.2" y="743.8" font-size="13" text-anchor="middle" fill="#000" color="#000">EC</text>
<text x="484.2" y="759.8" font-size="13" text-anchor="middle" fill="#000" color="#000">LB</text>
<text x="484.2" y="775.8" font-size="13" text-anchor="middle" fill="#000" color="#000">(3D)</text>
<text x="568.1" y="740.7" font-size="13.8" text-anchor="end" fill="#000" color="#000" transform="rotate(-45 568.1 740.7)">Primary</text>
<text x="590.1" y="743.8" font-size="13" text-anchor="middle" fill="#000" color="#000">EC</text>
<text x="590.1" y="759.8" font-size="13" text-anchor="middle" fill="#000" color="#000">(2D)</text>
<text x="619.2" y="743.8" font-size="13" text-anchor="middle" fill="#000" color="#000">EC</text>
<text x="619.2" y="759.8" font-size="13" text-anchor="middle" fill="#000" color="#000">LB</text>
<text x="619.2" y="775.8" font-size="13" text-anchor="middle" fill="#000" color="#000">(3D)</text>
<text x="692.6" y="740" font-size="13.8" text-anchor="end" fill="#000" color="#000" transform="rotate(-45 692.6 740)">Primary</text>
<text x="715.3" y="743.8" font-size="13" text-anchor="middle" fill="#000" color="#000">EC</text>
<text x="715.3" y="759.8" font-size="13" text-anchor="middle" fill="#000" color="#000">(2D)</text>
<text x="744.4" y="743.8" font-size="13" text-anchor="middle" fill="#000" color="#000">EC</text>
<text x="744.4" y="759.8" font-size="13" text-anchor="middle" fill="#000" color="#000">LB</text>
<text x="744.4" y="775.8" font-size="13" text-anchor="middle" fill="#000" color="#000">(3D)</text>
<text x="824.7" y="740" font-size="13.8" text-anchor="end" fill="#000" color="#000" transform="rotate(-45 824.7 740)">Primary</text>
<text x="845.6" y="743.8" font-size="13" text-anchor="middle" fill="#000" color="#000">EC</text>
<text x="845.6" y="759.8" font-size="13" text-anchor="middle" fill="#000" color="#000">(2D)</text>
<text x="875.1" y="743.8" font-size="13" text-anchor="middle" fill="#000" color="#000">EC</text>
<text x="875.1" y="759.8" font-size="13" text-anchor="middle" fill="#000" color="#000">LB</text>
<text x="875.1" y="775.8" font-size="13" text-anchor="middle" fill="#000" color="#000">(3D)</text>
</svg>
</body></html>
